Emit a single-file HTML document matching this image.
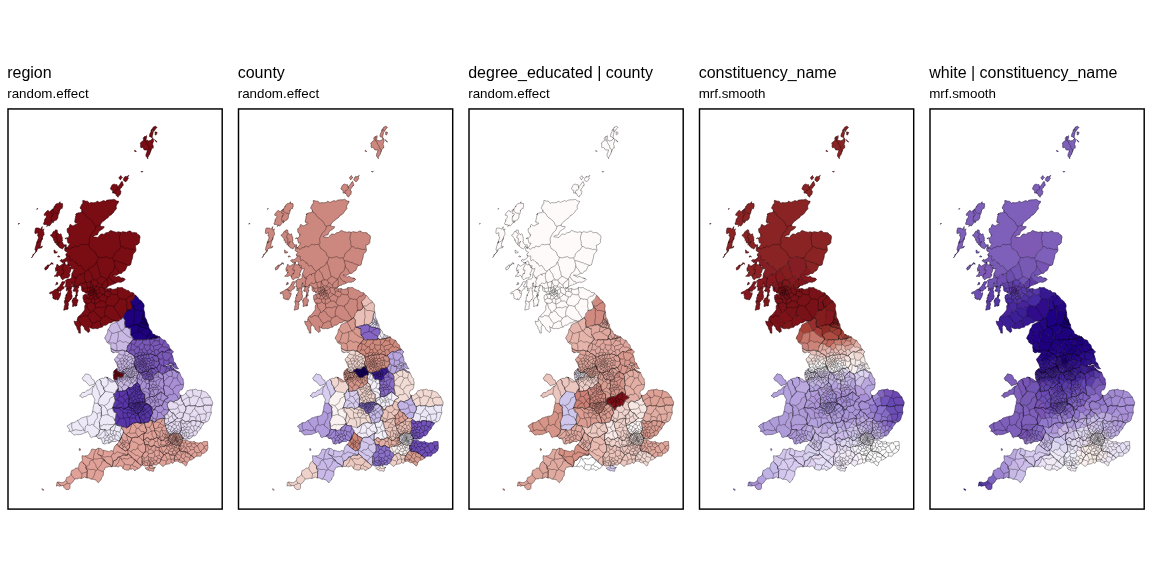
<!DOCTYPE html>
<html><head><meta charset="utf-8"><title>plot</title>
<style>
html,body{margin:0;padding:0;background:#fff;}
body{width:1152px;height:576px;overflow:hidden;position:relative;font-family:"Liberation Sans",sans-serif;color:#000;}
svg{position:absolute;left:0;top:0;}
#txt{position:absolute;left:0;top:0;width:1152px;height:576px;will-change:transform;transform:translateZ(0);}
#txt div{position:absolute;white-space:nowrap;line-height:1;}
.t{font-size:16px;}
.s{font-size:13.37px;}
</style></head><body>
<svg width="1152" height="576" viewBox="0 0 1152 576" font-family="Liberation Sans, sans-serif">
<defs>
<path id="mesh" d="M18.4 223.7l-.1 .4l.3 .1l.5-.5l.2-.6l-.3 .5l0 .2l-.2 .1l-.4-.2M31.7 257.6l.4-.7l.5-.6l.3-.9l.2-.9l.2 0l0 .2l0-.1l.3-.5l1-.6l.9-1.1l.4-1.5l-.3-.8l-.5 0l-.1-.5l.3-1.7l.4-1.5l.1-.2l.1 0l.3-1.1l.3-1.6l.4-.5l.4-.1l.2-.8l.2-.9l-.3 .4l-.5 1.4l-.2 .2l.7-2.1l.9-2.3l.4-.9l-.2-.5l-.4-1.1l-.3-.8l-.3 .3l.1-.3l.3-1.5l-.1-1.3l-1 .4l-1.3 .7l-.6-.8l.1-2.3l.4-1.9l.4-.8l.7-.1l.8 .2l.9 .1l.7 0l.6 .2l.5 .5l.5 .2l.5-.3l.5-1l.7-1.1l-.1 2.1l.3 1.3l.9-.5l.6-.8l-.1 .5l-.4 1.2l.1 .9l.4 .9l0 .4l0 1.1l.2 .8l-.2 .1l-.6 .8l-.8 1.7l-.4 1.4l.1-.2l.3-.7l0 .6l-.3 1.2l-.4 .5l-.2-.6l.1 0l-.2 1.4l-.5 1.4l-.3 .8l-.2 1.5l-.2 2.1l.3 .7l.9-.8l.8-.4l-.2 1.1l-1.2 .6l-1.3 .3l-1.3 .2l-.8 .6l-.6 .9l-.4 .6l.1 .1l.3-.7l.1 .1l-.2 1.2l-.6 1l-.6 .2l-.6 .3l-.4 1l-.5 .7l-.5 .1l-.3 .2l-.2 .9l-.4 .9l-.6 .6l-.4 .6M36.7 209l.2 .1l.2 .2l.3-.5l.3-.6l0 .1l-.2 .5l-.4 .2l-.4 0M36.9 243l.5-.2l.7-.5l1-.6l.9-.5l.8-.5l.5-.4l.5-.3M41.8 488.8l.2 .4l.2 .5l.5 .2l.6 .6l.2-.6l.1-.5l-.9-.4l-.9-.2M44.6 268.5l.4 .2l0 .6l.1 .7l1.1-.4l1.1-.8l.8-1.1l.4-1.1l0-.7l-.2 0l0 .3l.3 0l.3-.4l.6-.7l.8-.4l.9-.4l.8-.9l.5-.6l.3 .4l0 1.1l-.4-.8l-.5-.7l-.5-.1l-.5 .7l-.5 1l-.7 .6l-.9 .1l-1 0l-.7 .4l-.5 .9l-.2 .7l-.3 0l-.3-.3l-.4 .2l-.3 .7l-.5 .8M44.9 220.6l-.3 .4l-.1-.6l.4-1.3l.8-1l.6-.7l.1-.9l-.3-1l-.4-.3l-.6 .3l-.7-.1l-.2-.8l.5-1l.8-.9l.9-1.1l.9-.9l.8-.3l.6 .5l.4 .8l.3 .3l.5-.4l.7-.8l1.1-.9l1.1-.8l.2-.1l-.2 1l.1 1.1l.6 .8l.7 .5l.5 .3l.4 .2l.7 .3l.8 .1l.6-.2l.3 0l.3 .4l.6 .8l.6-.9l.4-1.6l.1-1.4l-.2-.2l0 .5l.4-.4l.9-1.3l.9-.9l.5 .3l0 .2l0-.6l.3-.7l.2-.2l.1-.1l0-.7l0-1.4l-.1-1.3l-.7-.1l-1.1 .1l-.6-.8l-.3 .6l0-.2l.1-.9l.2-.6l0 .2l-.4 .7l-.8 .6l-1.2 .3l-1.3 .4l-1 1l-.5 1.2l-.1 .7l-.1-.2l0-.4l-.2-.1l-.3 .8l-.5 1.1l-.7 1M44.9 220.6l-.1 .2l-.8 1.6l-.5 1.5l.5 .6l1 0l1.1 .2l.9 .2l.3 .5l-.5 1.2l.7-1l.4-.7l.3-.1l.2 .7l.4 .5l.7-.2l.8-.9l.9-1.2l.8-1l.6-.9l.4-.8l.2-.4l.1 .1l0 .6l-.3 1.3l-.1 .5l.3-.8l.8-1.2l1-.7l1.1-.3l.8-.7l.5-.9l.3-.6l.1 0l.1-.6l0-1.2l.1-1l.4-.8M50.7 235.8l.8 .3l.4 .4l.3 .7l.5 .6l.7 .8l.3 1l0 .8l-.2-.1l.3-.6l.4 .1l.4 1.3l.2 1.5l.6 .5l.7-.2l.6 .3l0 .9l-.3 .7l-.1 0l.4-.3l.8 .5l.9 1.2l.8 1l.6 .5l.7 .3l.8 .3l.7 .4l.4 .3l.2-.1l.2-.3l.8-1.3l.6-1.2l.4-.2l.1 .9l.2 .7l.4-.1l.8-.6l.1-1.4l0-.7l-.5 .1l-1 .1l-1.1-.4l-.7-.9l-.3-1l-.2-.7l-.7-.4l-.1-.3l.4-.3l.5-.3l0-.4l-.3-.7l0-1.1l0-.9l-.4-.9l-.5-1.3l-.2-1.3l-.4-.3l-.6 .6l-.8 .4l-.6-.7l-.6-.9l-.6-.3l-.2-.2l.1-1l-.3-1.6l-.6 .1l-.7-.2l-.4 .2l-.3 .6l-.2 .6l-.3 .2l-.5-.2l-.6 .2l-.7 1.3l-.7 1.3l-.6 .6l-.6 0l-.2 .4l0 .7M49.6 292.8l.2 .9l.8 .1l1.1-.6l.6 .2l.2 1.4l.3 1.3l.3 .6l0 .1l-.3 .2l0 .4l.4 1l1 .5l.9 .3l.6 .1l.3 .3l.5-.9l.3-.3l.1 .5l.1 .8l.2 .4l.4-.2l.7-.4l.4-.9l1-1.8l.8-2.4l.1-1.6l-.3-.2l-.3 .3l.1 0l-.3 .4l-.5 .1l-.5-.4l-.1-1l.1-1l-.1-.8l-.8-.2l-.8-.5l-1.1-.2l-1.1 .4l-1 .7l-1.1 .8l-1.2 .5l-1.2 .5l-.8 .6M52.8 209.1l-1.1 1.7l-.6 1.7l.3 1l.7 .1l.5-.1l.6 .2l0 1l-.8 1.1l-.8 .5l0-.3l.6-.4l0 .2l-.6 1l-.4 1.5l.1 1.9l.2 1.2l.4 0l.8-.5l.3 .1M54.2 276.2l.6 .1l.6 0l.8 .1l1 .1l.8-.2l.5-.5l.2-.5l.4-.1l.7 .5l.7 .7l.3 .5l.1 .4l.2 .5l.4 .9l.7 .8l.7 .3l.4-.4l.7-.8l1.1-.5l1.4-.2l1.5-.1l1.1-1.1l.6-1.6l.2-.9l-.3 .2l-.4 .4l-.2-.4l.2-1.1l.8-1.2l.7-1.7l.3-1.5l-.2-1l-.4-.6l-.3-.1l-.1 .2l-.2 .3l-.2-.9l-.5-1.5l-.7-.8l-1 .1l-1.1 .3l-.8-.6l-.5-.9l-.2-.7l0-.3l-.3 .1l-.6 .5l-.8 .7l-1 .9l-.8 .4l-.8 .6l-.8 .5l-.6 0l-.6-.5l-.5-.7l-.2-.4l-.3 .1l-.7 .1l-.1 1.2l-.6 1.6l-.6 .5l.1-.1l-.1 1l.2 1.6l.2 .9l.4-.3l.4-1l.3-.4l.1 1l.5 1.6l-.5 .6l0-.2l.2-.6l0-.1l-.3 .9l-.7 1.4l-.9 1.1l-1.2 .8M54.1 250l0 1.5l.2 1l-.1 .5l.9 .1l.9-.1l.8-.4l.5-.4l0-.3l-.5 .2l-.8-.4l-.8-.7l-.6-.7l-.5-.3M54.9 231.3l.4 .9l.6 .6l.6 .7l.6 .5l.2 .5l-.7 1.1l-.8 1.3l0 .8l.8 .3l.7 .2l.1 .3l0 .5l-.1 1.4l-.1 2.1l.4 .9l1.1-1.1l.9-1.2l-.1 .7l-.8 1.6l-.5 .9l0 .6l.2 1.3M56.6 282.4l-.5 2l-.3 .7l0-.2l.1 0l.6-.8l.9-.2l0 .2l-.1 .4l.1-.3l.4-1.3l-.6-.2l-.6-.3M56.8 483.3l0 .8l-.2 1l-.2 1l.9-.5l1.2 .1l1 .5l.6-.3l.9-.1l-.6-1l-1.1-.5l-.9-1l-.5-1.3l.8 .1l.8 .1l.9 .3l1.5 .2l1.4-.3l.8-.6l.4-.3l.6-.4l.6-.5l.9 .8l.5 .8l0 1l-.7 .9l-1.1 .3l-.9 .5l-.9 .9l.2 .7l.2 .9l.7 .8l.9 .6l.5 .8l.7 0l1-.2l1.3 0l.5-.5l.3-.5l.2-1.2l0-1.5l0-1.4l-.4-.6l-.4-.2l-1.2-.1l-.9-.2M56.8 483.3l.4-1.1l.7-.2M56.5 289.5l.5 .6l1 .2l1 .3l.8 .6l.4 .3l.3-.3l.2 .1l.4-.6l.6-1l.7-.6l.7 0l.5-.3l.4-1l.2-1.1l.1-.3l-.4 .3l-.8 .3l-.5-.6l.4-1.3l1-1.4l.9-1.3l.1-.9l-.5 .3l-.9 0l-.9-.1l-.7 .2l-.5 .7l-.4 1.4l-.2 .7l-.1-.3l-.1-.2l-.3 .8l-.8 1.3l-1.2 1.1l-1.2 .9l-.7 1.2M57.7 256.4l.3 .8l.5-.2l.3-.4l.4 .1l.6 .3l-.1-.4l-.4-.2l-.4-.6l-.5 .2l-.4 .3l-.3 .1M60 260.8l.6-.5l.5-.6l.6-.3l.4 .2l.1 .4l0 .2l.1 0l.4-.2l.8-.4l1.2-.4l.8-.9l.8-.8l.4-.9l-.1-.9l-.2-.4l-.3 .2l-.2-.1l-.1-.6l.1-.7l.5-.3l.5-.6l.5-.6l-.1-.6l-1-.3l-1.1-.6l-.5-1l0-1.2l.1-.7l.6-.3l.5-.5l.4-.3l.8 .4l.5 .4l.4 .4l.6 .5l.8 .4l.8-.1l.6-.7l.5-.7l.8-.2l.8 .2l.6 .2l.3-.2l.1-.6l.2-.6l.5-.3l.7-.1l.8 .2l.9 .4l1.1 .1l.9-.5l.8-.9l.9-.9l1.1-.2l1.1 .3l.8 .3l.4-.1l.3-.2l.6-.1l.8 0l.8-.1l.8-.1l.8 0l.7 1l.8 2l.3 1.1l.7 .3l1.3 .9l.6 .4l.6 .4l.8 .9l.5 0l.8 .8l.7 1.8l.2 1.1l.7 1.1l1.1 .9l.7 .3l-.5 .6l-.2 .8l-.2 1l-.5 1l-.7 1.1l-1 1.3l-.6 1.5l-.7 .9l-1 .6l-1.1 .7l-1.3 .6l-1 .3l-.3 .6l-.4 .6l-.9 .3l.7 1.2l.7 1.4l.5 .5l.7 .8l.9 1.6l.3 1.2l.3 1.3l.9 1.7l.8 .7l.5 .2l-.9 .3l-1.2-.2l-.9 .2l-.5 .9l-.9 .7l-1.4 .1l-.9 .5l-.7 .4l-1.3-.7l.4 1.3l.1 .9l.2 .8l.6 1.4l.6 1.5l-.1 .1l-.8-.1l-.8 .1l-.6 .2l-.5 .2l-.7 0l-.7-.4l-.8-.3l.3 1l.2 .7l.3 .5l.4 .6l.6 .8l.6 .8l1.1-.3l.9-.8l.9 .7l.2 1.1l.2 1l-1.6-.3l-1-.4l-.7-.4l-.2-.2l-.6-.5l-.4-.4l-.3-.2l-.2 .1l-.3 .2l-.3 0l-.3-.3l-.4-.5l-.4-.5l-.2-.9l0-1.3l-.1-1.2l-.2-.8l-.1-.4l-.6-.1l-.7-.1l-.8-.3l-.4-.1l-.4 .3l-.5 .6l-.6 .5l-.6 .1l-.5 0l-.3-.1l-.2-.2l0-.3l-.4 .2l-.7 1.1l-.5 1.3l-.4 1l-.3 .7l0 .5l.3 .3l.5 .1l.8-.2l.7 .1l.5 1l.1 1.5l0 1.2l0 .5l.8-1.4l1-2.5l.3-1.5l-.4 .1l-.3 .2l0-1.1l.3-1.3l.4-.1l.2 .3l.1-.4l.2-1.1l.2-1.3l.1 0M60 260.8l.4 0l.6 .5l.7 .7l.6 .6l.3 .1l.1-.3l.3-.2l.6 .3l.8 .2l.7-.3l.5-.7l.5-.5l.9 0l.5 .5l.3 .9l.1 1l.2 1.1l.8 .9l1.1 .3l1 0l.4 0l-.4 .5l-.5 .7l.2 .5l.6 .8l.8 .6l1-.3l.7-.5l-.1 1.3l-.9 2.5l-.9 1.6l-.1 0l.3 .1l.1 .5l-.1 .4l.5 .4l.4 .1l.3 .3l.3 .9l.5 1.2l.7 1l1.1-.1l.6-.5l-.5 .8l-.8 1.7l-.4 1.1l-.2 0l0 .1l.3 .6l.3 .9l-.3 1.1l-.8 1.4l-.2 1.1l.8 .1l.9-.4M61 485.8l1.2-.2l1.1-.3l.2 .5M60.9 277.3l.3-1.4l.6-1.7l.5-.3l.5 .2l.3-.5l0-.5l-.1 .5l0 .3l.5-1.5l.6-2.2l-.2-.5l-.8 .6l-.8-.2l-.1-1.4l.5-1.2l.6-.8l.6-1.5l.5-2l.1-.7M63.8 310.2l0-.5l.2-.6l.2-.9l.1-1l0-.7l.2-.7l.5-.9l.2-1.1l-.1-.4l-.3 .2l-.2-.3l-.1-1.1l-.2-.9l.1-.3l.5-.5l.4-1.2l-.1-.9l-.3-.1l.7-1.4l.8-1.9l.1-.3l-.2 1l-.2 .1l-.1-.8l.2-.5l.6-.6l1-1.9l.4-2.1l-.5-.1l-.9 1l-.5 0l.1-1.5l.2-1.2l.4 .6l.6 .3l.6-.2l.4-.6l.6-.4l1 .2l1.2 .4l.3-.9l.3-1.3l-.3-.3l-.4 .4l0-.4l.3-1.6l.4-1.4l.1 0l-.1 .6l.2-.7l.2 0l-.1 1.5l.2 2l.6 .9l1-.5l.8-.8l0 .2l-.4 1.3M63.8 310.2l.8-.3l.8-.2l.7-.2l.7-.1l.7-.1l.3-.3l.2-.3l.1-.4l.1-.3l-.1-.1l-.1-.5l0-1l.3-1.3l.2-1l-.1-.8l-.4-.5l-.2-.2l.5-.3l.8-.8l-.2-.1l-.3 .2l-.6 .2l-.8-.1l-1-.4l-.9-.2l-.9-.1M65.7 480.6l.4-1.1l.2-1.2l.4-.8l.7-.3l1-.3l1-.7l1-.8l.6-1.1l0-.9l.3 1.5l.6 1l.5 .6l.8 .8l1.1 1l.5 .9l.2-.1l.5-.2l.6-.1l.9 .1l1.1-.2l.6-.6l1 .1l1.6 .3l1.7-.6l1.3-.7l.5-.4l.4 .5l.8 .5l1 .2l0-1.3l0-1.3l.1-1.3l0-1.3l.1-1.3l.2-1.1l-.3-.4l-.5-.6l-.6-1.4l0-1.3l-.2-1l-.9-1.1l-.9-.9l-.4-.2l-.6-.9l-.5-.6l-.5-.5l.3-.9l0-1l-.1-1.2l-.1-1.4l0-1.3l1.4 .2l1.2 .2l.7-.3l1.1 0l1.5-.1l.8-1.1l.7-1l.6-.8l.3-.6l.5-.6l.2-1.3l.7-1.2l1.3 0l1.2 .4l1.1 .2l1.1-.5l.8-.7l1.1-.3l.3 .9l.1 .9l-.2 .9l-.5 1l-.5 1.3l0 .6l.9 .9l1 .2l1 .7l1 1.1l.3 .5l.9 1.2l1.5 1.4l.7 .5l.2 .3l-1.3 .4l-1.4-.1l-.6 .9l-.2 1.6l-.7 1.4l-.9 1.1l-.8 1l-.9 .7l-.8 1l-.5-.3l-.7-1.1l-.5-1.9l-.2-1.1l-1.1-1.2l-1-1.3l-.4-.7l-.4-1.1l.5-.5l.7 0l.6-.5l1.5 .3l1.4-.2l.9-.5l1.2 0l.8-.3l1.1 .3l2.1 1.4l1.4 .4M66.3 247.1l.4 .4l0 1l-.2 .3l-.1-.5l.5-.7l1.2-1.2l1.2-1.8l.8-1.5l-.6 0l-.9 .2l-.6-.3l-.3-1.1l-.3-1.2l-.2-1.2l-.3-1.2l-.5-.4l-1 .8l-.4 0l.2-.4l.8-.2l1.2 0l1.1-.7l.9-1.4l.5-1.2l.3-.1l-.5 .6l-.4-.2l-.3-1.1l-.2-1l-.5-.3l-.4 0l-.3-.8l-.2-1.3l0-.8l-.1-.8l.2-.4l.9-.4l1-1l.5-1l0-.1l-.2 .4l.1-.4l.3-1.4l.2-.2l.3-.1l.6 .4l.7 .6l.9 .5l.9-.1l.7-.5l.9-.6l.9-.2l.7-.2l.5-.3l.3-.5l-.1-.7l-.7 .2l-.9 .2l-.6-.9l-.2-1.1l-.2 .1l-.1 .2l.3-1.6l.5-2.2l.1-1.2l0-.2l.4-.8l.5-1.5l0-.6l-.5 1l-.4 .6l.5-.8l.8-.6l.9-.5l1-.3l.8-.1l.9 0l.7-.4l.5-.7l.1-.8l.1-.6l-.1-.4l-.2 0l-.3-.3l-.4-.6l-.5-.5l-.4-.4l.5-.8l.6-1.2l.5-1.3l.3-.5l.2 .1l.3-.2l.3-.6l.2-.6l0-.3l-.1-.4l0-.8l.1-1l.7 .1l.9 .3l.8 .3l.9 .1l.8 0l.8 .2l.6 .7l.4 .7l.3 .6l.5-.2l.6-.4l.8-.2l.9 .1l.9 .1l.9 0l.9-.2l.8-.1l.6-.1l.4-.2l.2-.3l.2-.5l.4-.2l.7 .3l.8 .5l.6 .3l.4 0l.5-.2l.7-.3l.8-.4l.9-.4l.8-.3l.7 0l.7 .4l.6 .3l.5-.2l.4-.5l.5-.5l.7-.1l.7-.1l.7-.1l.8-.1l1.1 0l1.2 0l.9-.1l.5-.2l.4-.2l.5 .1l.7 .4l.7 .6l.5 .4l.5 .2l.7 .2l1 0l.1 .6l-.3 .8l-.7 1.1l-.9 1.2l-.5 1.2l0 1.1l.4 1.1l-.6 1l-1.1 1.1l-.8 1.2l-.7 1.1l-.6 .5l-.7 .7l-.9 .9l-1.2 .5l-.8 .4l-.4 1l-.8 1l-1.5 .9l-1.5 1.3l-1.1 .9l-.9 .5l-.7 .7l-.8 1.1l-.8 .8l-.3 .9l-.2 1.1l.8 .4l.8 .2l1.4-.1l1.1 .3l-.5 1.1l-.6 .8l-.8 .4l-.9 .7l-1.3 .8l-1.4 1.1l-.7 1.7l-.5 1.4l-1 .3l-1.4 .2l-1.2 .7l-1.2 .5l1.2 .6l.5 0l.7 .1l1.5 .2l1.2 .2l.7-.7l.7-1l.9-.9l1-.8l1.4 0l1.5 .3l.7-.5l.9-.9l1.2-.4l1.2-.1l.8-.2l.6-1l1.4-.9l2 .9l1.1 .5l1.2 .1l1.3 .5l.8-.2l1.4-.4l1.9 .5l0 1.1l-.3 1.1l-.4 1.2l-.3 1.4l-.1 1.3l-.1 .6l.2 .5l.4 1l.3 1.6l0 1.7l.2 1.4l.7 1.2l1.3 .3l.5 0l1 .9l1.2 .8l1.4-.4l2 .5l.9 .3l.7 0l1.5 .8l1.2-.3l1.6-.1l1.4 1.4l.1-1.3l-.2-1.2l-.2-1.2l-.2-1l0-.7l1.2-.3l1.2-.5l.7-.7l.5-.7l.5-.4l0-1l0-1.2l.2-1.4l.4-1.5l-.1-1l-.6-1.2l-1.3-.8l-.9-.5l-.6-1.2l-1.2-.1l-1-.2l-.9 0l-1.1 .3l-1-.6l-.9-1.1l-1.2-.1l-1.2 .5l-1.2 .8l-1.9-.1l-1.2-.3l-.6-.2l-1 .1l-.6 .5l-1 0M65.4 280.6l.6 .2l0 1.9l-.4 2.8l-.2 1.6l.5-.2l.5-.3l.3 .6l0 .7l0 .1l-.1 .1M65.4 280.6l0 .2l.2 0l.5-.5l.8-.9l1-.4l1.1 .1l1-.1l.7-.4l.6-.6l.2-.3l.2-.2l-.1-.7l.1-1.2l.1-.9l.1-.1l.2 0M66.1 255.5l.9 .4l1.4 .2l1.1-.1l.4 .3l-.2 1.4l0 1.9l.4 1.1l.7-.2l.7-.7l.9 .1l.9 .7l.8 .8l.6 .3l.4 .3l.4 .7l.2 .6l.1-.1l.2-.4l.6 .2l.7 1.3l.8 1.4l.6 .4l.8-.4l.9-.3l.8 .4l.5 .8l.2 .6l.3 .4l.6 .7l.5 .7l.3 .7l.2 .4l.6 .4l1 .5l.8 .1l1-1.2l1.1-.7M66.9 426.4l1 .9l.4 .3l.5 .9l.7 .9l-.3 1.1l-.3 1.1l.5-.5l.9 .3l1.2 1.2l.6 .7l.5 .5l1.3 1.1l1.5 .1l1-.7l1 .4l1 0l.9-.3l1.3 0l1.5-.3l1-.6l1.3-.5l1.4-.4l.7-.4l.6-.3l.8-.6l.2 .8l.6 1.2l.9 1.3l.4 .8l.1 1.3l.7 .5l.8 .5l.9-.8l1.7-.2l1.5-.3l.5-1.1l.9-.6l1.1-.5l.7-1l.3-1.5l.2-1.1l.4-.6l.7-.7l-.4-.3l-.1-.5l-.3-1.2l-.1-1.4l.1-.8l0-.9l-.3-1.3l-.4-1.4l.5 1.6l.3 1.4l-.1 1l0 1.2l.2 1.5l.2 .7l.4 .4l-.5 .5l-.4 .3l-.3 .9l-.2 1.5l-.6 1.4l-1.2 .7l-1 .6l-.6 1.2l.1-.2l.4-.1l1.1-.2l1.4 0l1.1-.6l.8-.5l.4-.5l.3-1l1-1l1.4-.9l1-1.1l.3 1.8l.2 1.3l0 .9l0 .9l-.9 1.2l-.9 .9l-.6 .6l-.8 .4l-1.8-.5l-1.2 .5l-1.3-.4l.9 .7l1.1-.1l1.8 .8l.4 .7l.1 .8l.3 1.4l.5 1.3l.3 .4l.5-.2l1.2 .4l1-.1l.6-1l1.1 0l1.4 .5l.1-.1l.5-.4l.7-.4l1.1-.6l1.4-.5l.5-.1l1.6 .1l1.2 .1l.5-.6l.1-.2l.5-.3l1.1 .3l-1-.8l-.4-.1l-.8-.4l-1.1-.6l-.9 .2l-1 .4l-.4-1l-.4-1.2l-.4-.6l-1.2 .1l-1.5-1l-1-.5l.1-.3l.2-.4l-.6-1.2l-1.1-1.6l-.9-.5l-1-1.2l-.1 .2M66.9 426.4l.9-.7l.8-.9l.8-.4l.8-.3l.6-.6l1-.7l-.1 1.7l0 1.4l0 1.1l.1 .7l.4 .8l.5 1l.3 1.1l1-.2l.8-.6l1.1-.2l1.7 .5l1.4 .2l1.6 .3l1.3 0l.7-.8l1.3 .4l-.7-1.8l-.4-1l-1-1l-1.1-1l-.5-.3l-.6-1.3l-.9-1.5l-.6-.7l-.7-1.2l1.1-.3l1-.4l.6-.9l1.2-.8l1.7-.4l1.6-.7l1.2-.1l.7-.1l.3-.2l.5-.3l1.3 0l1.3-.3l.8-.8l1-.6l.4-1.2l.3-1.5l.3-1.3l.3-1.1l.2-.8l0-.8l.1-1l.3-1.1l.4-1.3l.4-1.1l0-.2l1.4 .1l1.4 .2l.8-.4l.5-1.2l.2-1.2l.1-.9l.4-.8l.3-.8l.7-.6l.4-.8l.5-.9l.7-.4l.7-.7l.9-1.1l1-1.1l.6-1.3l-.7-1.2l-.6-.8l-.2-1.1l-.3-1.3l-.6-.7l-.4-.5l-.6-.9l-.5-.9l0-1.1l-.1-1.5l-.9-1.1l-.8-.7l-.4 .1l-.5 .4l-.6 .6l-.9 .5l-.9 .8l-.5 1.4l.5 1.4l.3 1.1l.5 .9l.4 1.3l.2 1.2l.3 .6l.8 .7l.7 1.4l0 1.3l.2 1.2l.6 1.4l.6 1M69.1 301.5l.8-1.3l.5-.7l.4 .2l.1 0l-.3-.2l-.1 .1l.3 0l.8-1.2l.5-2.1l-.2-1.4l-.4-.4l.1-.9l.2-1.5l-.1-.7l-.3 .3l-.1-.1l-.1-1.2l-.2-1.1l0-.2l.4-.7M70.3 431.4l.9-.3l1-.1l.8-.4M70 484.3l.9-.7l1.3-.9l1.1-1.5l.8-1.3l.7-.7M71 473.4l.1-.8l.3-1.3l.4-1l1.4-.3l1.1-.6l.8-1l1-.4l1.2 .2l.8-.3l.5 .6l.2 1.2l.9 1.5l.9 .6l.4 .8l.6 1l.4 .4l.7-.9l.9-.2l1.4-.4l1.4-.5l.8-.6l.2-1l-.3-.4l-.4-.4l-.5-1l1.3 .2l1.5 .3l1.7 .5l1.4-.1l.9-.3l.7 .2l1.3 .6l1.5 .2l-.5 .5l-.5 .6l-.4 .8l-.3 1.3l-.4 1.4l-.6 1.5l-.8 1.2l-.7 .9l-.5 .8l-1.4-.1l-.5-.7l-.7-.4l-1.2-.1l-1 .1l0-1.3l0-1.3l.1-1.4l0-1.4l.1-1.2M72.4 300.2l.1 .4l0 .2l.1-.9l.5-1.3l.6-.5l.7-.1l.5-.6l.5-.8l.4-.6l.3-.1l.2 .2l.1 .9l0 1.4l.4 1.1l.3 .4l.7-.4l.2 .7l-.5 2.1l-.8 1.7l-.4 .6l0 .6l0 .7l.3 0l.3-1l0-.5l-.4 .6l-.7 1.1l-.6-.3l-.5 0l-.5 .2l-.8 .4l-.8 .2l.1-1.1l.2-1.6l0-1l-.4-.2l-.3-.5l.1-1.3l.1-.7M71.8 422.8l2-.2l1.4-.5l.7-.6l.6-.3l.7-.7l.2-.1M73.3 290.4l.1 .5l.6 .2l.9 0M74.1 277.5l.7-.1l.9-.2l1-.5l1.1-1l1.1-1.1l.9-.6l.9 .3l.5 .7l0 .4l-.2-.3l-.1-.6l.3-.5l.7-.4l.9-.2l.8-.1l.9-.2l.2 .3l0 .2l-.1 .6l-.2 .7l-.1 .7l0 .9l0 1l.2 1.1l.3 .8l.2 .6l.1 .6l0 .7l-.1 .4l.4-.1l.5 .4M74.2 321.1l.2 1.2l.2 1l.4 1l.6 1.1l.9 .8l.3 1l.3 1.4l.7 1.2l.7 1l.2 1l.1 1.2l.6 0l1 .1l-.1-1l-.1-1.2l.1-1.5l-.1-1.3l-.2-1.1l.8-.8l.4-1l.6-.5l.1 .1l-.9-.7l-.9-.7l-.4-1.2l-.4-1l-1-.9l-.9-1.3l-.2 1.2l0 1.2l-.9 .2l-.9-.1l-1.2-.4M76.7 296.1l-.2 .5l-.4-.1l-.4-.3l-.2-.2l.4-.8l.1 .4l.2-.5l.6-.6l0-.1l.2 .5l.4 .4l.4-.2l.2 0l-.5-.1l-.4 .4l-.4 .7M78.1 467.9l.1-.1l.4-1l.3-1.2l.4-1.5l.7-1.4l1-.7l1-.4l0-.1M77.4 319l.4-1.4l.6-1l.5-.3l.7-.5l.6-.6l.6-.6l.8-.8l1-1.1l.5-.8l.6-.7l.5-.6l.4-.5l.2-.6l0-.7l-.1-1l0-1.1l.2-.9l.3-.8l.5-.5l-.3-1.3l-.6-.5l.9 0l.8 .4l.3 1.5l.4 1.6l.2 1.1l.4 1l.9 1.2l.8 .7l.3 .8l.4 1.4l1 .2l.8-.8l.8-1.1l.8-.8l.8-.4l.6-.5l.2-.7l.2-.7l1.1 .2l1.6-.4l1.4 0l1.3 .6l1.2-.4l1.2-.7l1.6-.1l1.7 .4l-.4 .7l-.6 1.2l-.5 1.5l-.3 1.8l0 1.7l.1 1.5l-.1 1l-1.3 .4l-1.1 .5l-.8 .5l-.5 1l-.6 1.1l-.7 1.1l-1.3 0l-1-.3l-.7 .4l-.7 .9l-1.1 .3l-1 .4l-1.1 .4l-.4 1l-.5 1.1l-.5 1.2l-.5 1.3l.8 .4l1.4 .5l1.2-.3l1-.2l1.8 .4l1.5-.5l.7-.6l.5 0l.3 0l.8-.3l1.4-.3l-1-.7l-.6-1.4l-.1-1.4l-.2-1l-.7-1.3M78.3 285.5l.5-.6l.6-.6l.7-.7l.7-.5l.7-.1l.6 .3l.6 .3l.5 .1l.6-.2l.5-.3l.4-.6l.3-.9M78.9 316.3l.8 .5l1.2 .4l1.5-.6l1.1-1.1l1.8 .2l1.7 .5l.8-.4l.3 1.4l1 1.3l.6 .5l.2 .9l.5 .9l.5 .4l.8 .9l1.1 1.2M79.5 395.8l1.3 .5l1.1 1l.3 .6l.8-.5l.7-.6l.7-.3l1.1 0l1.3-.8l.5-.4l1.4-.8l1.2-.2l.7-.1l.8 0l1 .2l.7 1.7l.6 1.3l.5 .7l.6 1l0 1.2l-.3 .8l-.2 .5l-.1 .5l.2 1M79.5 395.8l1-.4l.5-.9l.5-1l.7-.6l.7-.5l1 0l1.2 0l1-1l.8-1.1l1.2-.3l.6 .1l.6-.2l.4-.5l.4-.5l.5-.6l.7-.8l.7-.8l1.1-.4l1.1-.4l-.6 .8l-.6 .8l-.5 .8l-.2 .9l0 1.2l0 1.1l-.1 1l-.3 .9l-.5 .8M79.3 448.5l-.1 1.8l1 .1l.3-1.3l-1.2-.6M81.3 478.5l.2-1.1l.2-1.1l.2-1.1l.1-1.2M81.9 210.2l.2 1.5l.6 1l1.1 .1l1.2 1l.4 1l.5 .9l1.2 1.5l1 .8l1.1 .4l.8 1l.5 .5l1.4 .9l1 1.2l.4 .7l.7 1.7l.8 1.4l1.3 .5l1.5-.6l1.4-.2l.8-.3l.5-.4M81.3 286.2l.4 .3l.5 .5l.6 .7M81.9 324.8l1.2 1.4l1.1 1.2l.3 1.1l.4 1.1l1.1 .7l.8 .5l.5 .9l.7 .8l1-.7l.4-.6l.5 0l-.3-.9l-.2-1.1l-.4-1.3l-.4-1.5l1.4 1.3l.9 .2M83.1 295.6l.1 .7l-.1 .7l-.1 .5l0 .3l.1 .5l.2 .8l.2 .6l.1 .3l.2 0l.5-.5l.7-.5l.7-.2l.6-.3l.4-.3l.6 .2l1.7 .4l1 .4l1 0l.2 1.1l.1 1l-.3 .8l.7 .2l1.5 1.1l1 0l.5 .4l0-1.4l.1-1l0-.6l0-.7l.1-1.1l-1-.6l-.7 .2l0-.7l.5-.6l.5-.6l-.6-1.1l-.5-1.1l.7-.3l.8-.2l.8 1.2l.4 .8l.8 .3l.4 1.2l.5 .9l.4-.4l.6-.1l-.3-1l-.2-1l0-1.4l-.7-.8l-.6-.8l-.3 .3l0 .5l-.6-.1l-.9 0l-.7-.9l-.3-.7l0-.2l.2-.7l.8 .7l.1-.6l.1-.7l-.9-.5l-.3-.2l.1 .6l.1 .7M83.1 295.6l.7-.3l.5-.3l.3-.4l.2-.2l.3-.1l.8 .3l1 0l1.3-.4l.3 0l0-.1l.9-.5l-.9 .2M82.2 378.2l.9-1.1l.9-1l.7-1.1l.5-.8l.7-.5l.9 .6l1 0l1.6 .6l1 .7l.4 .8l.6 1.3l.5 1.3l.7 .6l1.3 .3l.6 1.2l.2 1.3l0 1.3l-.9 .8l-1.1 .1l-1.1 .4l-1.1 .4l-.9 .6l-.6-.8l-.8-.9l-1.2-1.3l-.7-.7l-.5-.8l-1.1-.5l-1-.2l-.7-1.1l-.8-1.5M83 462.6l.6 .9l.4 .2l.8 .8l.9 1.1l.3 .9l0 1.3l.7-1.2l.9-.8l1-.5l.7-.8l.3-1.5l.3-1.5l.7-.8l1-.3l.8-.6l.3 .1M83.9 430.2l.8 .8l.5 1l.6 .6M84.7 431l.4-1.6l.1-2.1l.5-1.3l.8-.7l.9-.5l1.5 .4l1.4 .2l.9-.8l1.1-.3l1.4 .7l.5-1.5l.5-1.5l.5-1.3l.7-.9l.7-.8l.6-.6l.2-.7l0-.9l-.1-1.2l0-1.5l1-1.2l1.7-.1l1.5 .5l-.1 .9l-.2 .8l0 1.1l.2 1.2l-.8 .7l-.4 1.4l-.4 1.5l-.8 .6M83.8 300l0 .1l0 .3l-.1 .7l.3 .7l.4 .5l.4 .4M84.7 456.1l.8 .3l1.2 1l.7 .3l.8 .2l1.7 .6l1.4 .4l1.1 .9M84.5 273.1l.5-.4l.4-.4l.4-.5l.4-.7M85 292.5l0-.2l.2-.2M85.1 294.3l.8 1.4l.7 1.4l.1 1.1M86 467.8l.2 .8M86.8 416.5l.2 1.7l.2 1.5l.1 .9l.1 .5l.2 .9l.2 1.2l-.2 .9l-.2 .7M86.5 303.1l.9 .1l.9 .1l1.4-.2l1.3-1M87.8 315.8l.7-1.1l.5-1.1l.4-.9l.8-.3M87.2 291l.2-.9l.2-1l.1-1.1M88.2 244.3l.8-.4l.5-.6l-.1-1.4l-.2-1.7l0-1.7l.4-1.2l.7-1.2l.6-1.2l.7-1.3l.8-1.2l1.1-1l1-.9l.6-.9l.3-.8l.1-.7l.2-.7l.4-1.1M87.8 287.9l.8-.3l.9 0l.3-.1l.9 1.4l.8 .4l.7 .1l-.3 .9l-1 0l-1 .2l-.3-.7l-.1-1l0-1.2M88.5 294.2l.7 0l.4 .6l.3 1.2l.7-.5l.2-1.4l.4-1.1l0-.1l-1.1-.5l-.3-.4l-.5-.3l.7-.4l.9-.1l.6 1.1l1.2 .3l.6 .4l-.5 1.3l0 .2l-.6 .6l-.6 .4l.6 1.1l1 1.3M88.1 291.7l1 0l.2 0M89.2 294.2l.6-.9l.3-.9M89 298.8l.5-1.3l.4-1.5M89.1 291.7l.3-.6l.5-.6M90.6 295.5l.5 0l.5 0M89.8 287.5l.3-.2l1.2 .3l.5-.9l.7 0l.1 .1l.8 1l.4 .6l0 .7l.1 .7M90.1 287.3l.3-1.5l.3-1.5l.1-1.5l.2-1.4l.3 .9l.6 1.6l.6 .9l.8 1l-.5 .5l-.3 .4M91 299.2l1.1-.4l1.1-.2M90.9 291.2l.6-.3l.6-.4l1.1 .8l.4-.8l.2-.7l-.5-.4l-.7-.5l-.1-1.2l.1-.9M91.2 292.9l.3-.6M91.2 293l1 1l.6 .3M91.1 281l-.1 .4M91.9 290.3l.2 .2M92.2 289.4l.4-.5M92.7 292.6l.5-1.3M92.4 411.8l1.7-.1l1.4 .7l.5 .3l.7 1.1l.6 .3M92.8 294.5l.3 0M93.2 291.3l.5 .3l.2 .2M93.3 293l.6-1M91.8 479.2l1.2 0l1.4 .4l1.1 .3l.7 .5l1 1.4l1.2 .9l.5-.8l.9-.9l1.1-1l.4-1.1l.3-1l.3-.7l.5-.6l.7-.7l.1-.7l.2-1.2l0-1.8l.1-1.4l.7-.9l.5-1l.2-.8l.3-.5l.4-.4l1.1 0l1.2-.3l1-.3l1.1 0l1.4 .2l.5 0l1.3-.4l1.4 0l1.1 .2l.2-.7l.3-1.1l1-.9l1-1.2l.6-1.5l.5-1.4l.4-1l.6-.7l.4 .2l.5 .5l.6 1.4l.3 .5l.8 .8l1.1 1.4l.4 1l-.4 1.3l-.5 1.2l-.3 1.1l-.1 1.1l.4 .4l1.2 .7l.9 0l.8 .3l1.4 .1l1 .1l.2-.8l.6-.4l.5 .1l-.2-1.1l.2-1l.5-1l.5-.9l.6-.5l.7 0l1 1.7l.8 .2l1 0l1.3 .9l.7 .4l1.1 .8l1.1-.7l.8-.5l.7-.9l.7-1.4l-.7 .1l-1-.7l-.8-.9l-.4-.3l-.9-.8l-.7-.3l-.6-.4l-.8-1.5l-.5-.6l-.6 0l-1.2-.8l-1-.8l-.4-.5l-.6-.1l-1-.2l-1.3 .8l-1.5 1l-2.1-.3l-1.7-.5l-.5 .7l-.9 .2l-1.2-.4M92.8 310.7l1.3 .6l1.4 1l.5 .9l.9 1.7l1.5 1.2l.9 .4l.7 .7l.8 .4l.7 .4M93.2 459.4l.2-1.4l.2-1.5l.3-1.5l.4-1.4l.4-1.2l.4-.9l.4-.8l.5-.7l.5-.8M94.2 296.7l.8-.4l.8-.3M93.7 425l.6 1.3l.7 .4l1.6 1.2l.6 .3l.5 .4l1 1.1l.9 .4M93.8 289.8l.1 0M94.6 279.8l1.3 .2l1.1 0l.7-1l.7-.8l1-.3l.7-.7l.6-.9l1.4 .5l1.5 .6l1.3 1l.8 .2l1.2 .5l.4-.1l.4 1.5l.2 1.1l-.2 1.1l-.1 1.3l-.1 1.4l-.1 1.1l-.1 .6l.4-.3l1.3-1.2l1.4-.4l1.1-.1l.5-.5l.8-.4l1.1-.2l.9-.5l.9-.3l-.9-1l-.7-1l-.4 .3l-1.3-.5l-1.3-1l-.4-.6l-.8-1.5l-1-1.1l.3-.9l.3-1l.3-.9l.5-.8l.7-.5l.9-.4l.9-.7l.7-.9l.5-1.4l.4-1.7l.4-1.8l-.2-1.8l-.4-1.1l-.2-.6l-.1-.5l-.1-1.2l-.6-1.1l-.3-.9l-.3-.7l-2 0l-1.6 .3l-.8-.2l-.8-1l-1.1-.4l-1.2 .3l-1.1 .3l-1.2 .1l-.9 .5l-1.4 0l-1.8-.5M94.6 294l.3-.4M94.2 385.9l.8-1.2l.2-.4l.3-1.1M93.3 285.8l1.5 .2l1.6-.3l.7-.8l.6-1l.5-1.1l-.7-1.1l-.4-1.1l-.1-.6M93.8 288.4l.3 0l.3 .1l.5 1l.6 .9l.9 0l1.5-1l1.3-.8l.6-.8l.7-.3l-1.5-.8l-1 .6l-1.4-.5l-.2-.7l0-.4M94.9 299l1.2 0l.9-.1l.5-.5M95.8 293.6l-.4-.9l-.5-.9M94.7 303.8l.2 .4l1.1-.5l1.2-.6l1.1-.7l1-.5l.7-.8l.5-.1l1.6 .1l1.4-.2l.9 .7l.8 .9l.3 .4l.2-1.4l.5-1.3l.6-1.2l.4-1.2l.2-1l1.6 .1l.9-.5l.4-1.4l1-1l1.3 .3l.9 .3l.8 .1l1.3 .1l1.6-.3l.5 1l.7 1.8l.8 1.1l.6 .1l-.8 1.1l-.8 1.1l-.5 1.2l-.3 1.1l-.6 .8l-1 .3l-1 .6l-.8 1.3l.1 .8l.5 1.9l.8 1l.8 .7l1.1 1.2l.4 .7l.3 1.2l1.2 1.7l.9 1l.6 1.4l.8 1.5l.8-.9l.9-.9l.9-1.1l.3-1.3l.2-1.2l.6-.8l.8-.6l.7-1.1l.2-.2l.7-.7l1.1-.1l1.3-.1l1.2-.7l.9-1.1l.6-1.2l-.6 1.2l-1.1 1.2l-1.3 .7l-1.4 0l-1 .2l-.6 .8M94.9 304.2l.2 1.5l.1 1.1l.2 .8M96.6 296.3l0-1.3l-.2-1.3M96.5 470.2l1-.8l1.2 .5l.8 .3l.6 .4l1.2 .5l1.1 .2l1 .9M94.4 288.5l.9-.8l1.3-.9M95.1 290.5l.4-.1M96.2 436.1l.6 .6l.9 1.2M96.6 261.8l.4 1.9l.5 1.5l.3 .6l.4 .9l.4 1.4l0 1l.1 .7l.6 1.4l.6 1.5l0 1l.1 1.2l.7 1.4M97.5 469.4l0-.8M96.4 290.4l.1 1l.2 1.5M98 403l.4 .7l.5 1.2l.9 .3l1.3-.3l1.5 .1l1 .6l.7 .2l.5-.7l1.1-.4l1.5-.9l1.1-1.4l.7-1.1l.3-1.2l.3-1.4l1.2-.9l1.3-.6l.8-.6l1.2-.1l.2 1.1l.2 1l.3 1.1l.3 1.4l-.5 .7l-.4 .7l-.4 .9l-.3 1.2l-.4 1.2l-.3 .9l-.3 .8l-.2 .6l-.3 .7l.4-1l.4-1.1l.4-1.2l.3-1.2l.4-1l.3-.9l.4-.6l.5-.7l-.3-1.4l1 .3l.9-.1l1.1-1l.9-1l.4-1.1l0-1.2l.5 .3l1.4 .6l1.2 0l.6 .8l.8 1.2l.5 1.3l.8 .8l-.2 .6l-1.1 1.1l-.4 1.4l-.7 .2l.2 1l.5 .9l.5 1.2l.1 1.4l-.2 .9l-.9-.7l-1.5-1.3l-1.5 .1l-1.2 .6l-1.2 .2l-.9 .1l-.8-.2l.7-.6l.4-1.2l.6-1.3l1.2-1l1.4-.7l1.2-.6l-.5-.6l-.6-.6l-1.3-.8l-1.4-.3l-.6-.5M98 403l.4 .9l.7 1.3l.7 .6l1.2 .6l.6 .8l-.4-.6l-1-.7l-.8-.3l-.5-.7M98.2 282.8l.8-.2l.9 1l1.4 1.5l.7-.2l.6-1.1l.6-.8l.6-.9l1-.7l1.3-.8l.8-1.5M98.4 448.2l1.7 .3l1.1 .3l.5 .4l.9 1.2l.8-.1l.7 0l1.6 .5l1.3 .4l.6 0l.9 .5l1.1 0l.7-.9l1-.3l1.2 .5l.5 .1l.5-.9l.3-1.4l.4-1.3l.5-1.1l.6-.9l.6-.4l.5-.4l.7-.8l.7-.7l.7-.8l.7-.9l.5-.8l.4-.5l.4-.6l.4-1.1l.6-1.5l.1-.1l-.1 .1l0-.3l.8-1.6l.7-1.4l.4-1.5l.1-1.3l-.1 1.3l-.3 1.3l-.7 1.3l-.7 1.4l-.5 1.5l-.1 .1l0-1.3l-.3-1.8l-.4-1.3l-.4-.5l-.5-.7l.6-1l.5-1.2l.4-1.1l.4-.9l.4 .8l.4 .3l.7 .6l.6 1.2l-.7-1.3l-.7-.6l-.5-.4l-.3-1.2l-.4-1.7l1.2 1.2l.9 .1l1.7 .1l1.8 .9l.5-.2l.6-.6l.5-.3l.5-.2l.6-.3l.5-.7l.9-1l1.1-.4l.5-.4l.5-.6l1.3-.2l1.7-.3l1.2-.6l-1.4 .6l-1.9 .3l-1.2 .4l.6 .5l1.3 1l.7 1l.4 .5l.7 1.1l.6 .8l1.6-.3l1.2 1.2l.2 .9l.8 .7l1.4 .9l.9-.5l1.3 .4l.9 1.1l-.1 .1l-1.1 .2l-.9 .7l-.9 .4l-.9 .5l-.7 .9l-1 .6l-1 .4l-.8-.4l-.3-.7l-.8-1.6l-.7-1l-1 .1l-1.7 .1l-1.8 .2l-.9 .3l-1.1-.9l-1.2 0l-1 .8l-.8 1.1l-.8-.5l-1.2-1.1l-.5-.3l-.4-.5l.4 .5l.8 .5l1.3 1.2l.8 .4l.1 1.3l.3 1.4l.2 1.2l.2 .9l0 .5l.7 .6l.6 1.5l.1 1.2l.2-.5l.9 .1l.5-1.5l.5-1.2l.6-1.1l.3-.9l-.8-.5l-1.6-.9l-1.1-.4l-.8-.8l-.9-.9M97.6 453.8l.9 .9l.9 .2l.9 .5l1.1 1.2l.4 .6l1 1.3l1.6 1.4l.6 .5l.8 1.4l.7 .9l1 .5l1.4 .8l.6 .1l.9 1.1l1.4 1.3l.5-.7l.3-.9l.3-1.2l.1-1.1l-.4-1.7l-.2-1.3l-.1-.8l-.6-1.1l-.5-1.4l-.5 .6l-1.1-.2l-1.4-.4l-1.3 .4l-1.5 .3l-1 0l-.8-.3l-1.5-1l-.9-.2l-.9-.1M98.5 297.9l.2 .1l1.1-1l1.2-1.2l1.1-.7l.4-.6l.7-.1l1.1 .8l1.1 .8l.7 0l1.3 .8M98 294.5l.9-1.3l.8-1.2l1 .9l1.2 .8l.7 .1l.6 .6M98.7 298l.8 1.1l.5 1l0 1M99.5 398.1l1-1.1l.5-1.1l.6-.4l.8-.6l.9-1.2l1-1.2l.7-1.3l.7 0l1.2 .4l1.7 .4l1.2 .2l1.4 .1l1.3 .3l1.1 .6l1.1 .4l.9-1.1l.5-1.5l.6-1.2l.7-.7l.9-.7l-.3 .3l0 1.4l.2-.8l.1-.9l-.2-1.2l-.2-1.1l-.5-1.2l-.7-1.1l-.6-.8l-.2-1.1l.2 1.1l.6 .9l.8 1.1l.4 1.2l.2 1l.2 1.2l-.2 1.4l-.2 1.1l0 .9l.3-.3l1.6-.4l1.8 .3l.8-.5l.9-.1l1.3 0l1.1-.6l.2-.2l.7 .7l.7 1.2l.2 1.6l0 1.3l.5 .8l.6 .6l.6 .6l-.1 .9l-.1 1l-.1 1.1l0 1.4l0 1.5l0 1.5l-.3 1l-.3 .9l-.3 .8l.5 .1l.7 .1l.4-.6l.3-.8l.9-.7l.9-.1l.5-.4l.8 .6l.6 .4l.2 .6l1 .5l.8-.2l1 .2l.2 .3l-.5 .6l-.6 .2l.3 .7l1.3 .9l.3-1l.3-1l.3 .3l.4 .2l.5-.3l.3-1l-.3-.6l.6-.6l-.7-1.3l0-.2l.8 .3l.4 .1l.1-.6l.1-.5l.6 .5l1.1 .6l-.4 .7l.3 .9l.2 .8l-.5 .2l-.6 .2l-.6-.5l-.2-.7l-.1-.6l.1-.2l-.1-.8M99.3 379.4l.8 .7l.9 1.1l.1 1.5l0 1.1l.5 .9l.6 .9l.4 .4l.6 .8l.3 1.3l.2 1.1l.5-1.2l.8-.9l1-.8l1-.7l.7-.9l.4-1.2l0-1.5l-.1-1.5l-.1-1.4l0 .1l1.3 1.2l.8 1.3l.8 .2l1.1 .2l1.2-.2l1.5-.5l1.3 .5l-.4-.9l-.6-.7l-.6-.5l-.5-.7l-.1-1.1l0-.1l-.1-1.6l-.2-1.2l.5-.7l.5-.7l-.4 .5l.9 .1l.2 .2l-.1 1.6l.2 1.4l.3-.1l.8 1.1l.6 1.2l.1-1.3l.3-1l-.5-.7l-.8-.3l.1-.5l-.2-.7l-.2-.7l.6-.8l.6 .1l.6-.1l1.4 .5l1 .4l-.2-.7l-.3-.6l-1.6-.3l-.3 .7M99.3 379.4l1.3-.6l1.5-.6l1.6 .2l.6-.2l.5-1.1l1.1 0l.9 .3l1.3 .5l-.9-.4l-.5-.1l.5 .9l.7 .9M99.2 288.6l.3 1.4l.2 1.1l0 .9M99.6 425.9l1.5 .2l1.2-.4l.8-1.1l1.3-.2l1.6 .6l.8-.5l.7-.4l1.2 .7l1-.2l1.9-.1l2.1-.1l1-1l1-.1l-.1-.6l0-.4l-.2-.7l-.4-1l-.3-1l.4 1.4l.4 1l.1 .5l.1 .5l.1 1.1l.2 .4l.8 .9l1 .1l1.8 .5l.7-.3l.6 0l.3 1.2l.2 1.1M100.5 287.5l1.1 .3l1 0l-.2-1.1l-.3-1l-.1-.8M100.5 429.3l1.4 .2l1.4 .3l.8-.2l.7-.2l.7 .4l.7 .5l1.2 .1l1.2-.6l1.4 .1l.3-1l.3-1l1-.6l1.3-.8l1-1.3l.9-1.1l.9-.3l-.9 .3l-.8 1l-1 1.3l-1.3 .8l-1 .6l-.3 .9l-.3 1.1l.1 0l.2 1.4l0 1.1l.1 .9l.3 .9l-1.5 .1l-.9 .4M100.5 429.3l1.5 .2l1.5 .3l.8-.3l.8 0l1.1 .8M101.6 407.2l-.3 .8l-.2 .8l0 .9l.2 1.2l.2 1.3l0 1.1M101.6 407.2l-.3 .9l-.2 .7l0 1l.3 1.3l.2 1.2l-.1 1.1l-.2 .9l-.1 .9l1.1 .1l1 .1l1.1-.1l1.1-.7l1.5 .1l1.5 .5l.7 .4l.6 .1l1 .9l.9 .1l1.2 .3l.7 1.2l.3 .9l1.1 1.5M101.2 415.2l0 1l.2 1.1M102.1 455.7l.7-.7l.4-.9l.1-1.1l0-1.3l.1-1.4M102.6 287.8l.6 .2l.7 .7l.7-.1l.4-.3l-.4-.5l-.4-.3l.7 .1l1 .2l1.3-.6l.1-.1M102.3 327l.5-.4l.8-1.1l.9-.4l1.3 .1l1.2-.7l1-.8l.6-.5l.2-.4l.9 0l1.7-.1l1.3-.9l1.2-.7l1.4 .1l1.1 0l-1.3-.6l-1.1-.3l-1-.1l-1.1-.6l-1.1-.6l-1.7-.8l-1-.9l-.6-.7l-.9-.7l-.7 .1l-1.2 .6M103.4 437.3l.8 1l.7 .8l-.1 1l-.1 .9l1.2-.7l1.4 0l.9 .1l.5-.9l.3-1l.2 .3l1 1.2l1.3 1l.3-.2l.5 .1l.9 .5M103.9 288.7l.3 1.3l.5 1.1l.3 .7l.9-.7l1 .2l1.1 .1l.3 0l.6 .2l1.3 .7l.6 .7l.3 .4l.2 .6M103.6 443.7l.4-.8l.3-.8l.4-1.1M104.3 405.8l.6 1l.5 .7l.7 .4l.8 1.3l.3 1.5l.1 .6l.3 1.4l.5 1.4l.4 1.1M105 291.8l-.2 .7l-.2 .8l-.2 .9l-.1 1M103.7 389.2l.5 .8l.8 1.2M104.8 430.1l0-.7M104.7 338.1l.5-1.2l.6-1.2l.7-1l.4-.7l.3-.8l.2-.7l.3-1.1l.1-1.2l.5-1.1l.9 1l1.1 1.6l.8 .6l1 .7l-.4 .8l-.4 1.1l-.4 1.2l-.3 1.2l-.3 1.2l-.4 1.2l-.7 1.2l-.8 1l1.1 .3l1.5 .9l1.4 0l.4-.4l1 .5l1.1 .1l1 .1l.9-.6l.8-.9l-.1-1.3l.2-1.4l.4-1.4l.2-1.5l0-1.7l-.1-1.5l-.2-1.3l.7-.2l.7 .1l.7-.4l1-.5l.1-.3l.1-.4l1.5 .1l.9-.5l.3-1l.5-1.1l.7-1.2l-.2-.8l-.3-1.1l-.1-1.6l.2-1.5l.2-1l-.3-.6l-.8-.9l-.5-.9l-.2-.7l.2 .7l.5 .9l.7 .8l.4 .7l-.2 1l-.2 1.5l.1 1.6l.3 1.1l.2 .8l.2 .9l.3 0l1-.6l1.1 0l.6-.2l.5-.6l1.5-.1l1.8-.2l1-.8l1 .1l-.2-1l-.1-.8l-.1-.9l.1-1.5l.2-1.8l.4-1.4l.3-.8l0-.6l-.4-.9l-.2-1.3l0-1.4l.2-1.4l-.1-1.5l-.5-1.7l.8 .5l.5 .8l1 1.2l1.1 .2l1.1-.3l1.2 .3l.7 0l.9 .3l1.6 .7l1.5-.5l0 .3l.1 .4l0 .2l.3 1.4l.1 1.4l0 1.1l.1 .9l.5 1.2l.7 1.1l.4 .8l-.7 .5l.3 1.1l-.6 .2l-.3 .9l.9 .4l.3 0l0-1.2l0 .9l.3 1.1l.5-.1l.6-.1l-.5-1.2l-.4-1.1l-.5 .5l-.3-.3M104.7 338.1l.3 .8l.7 .5l.4 .6l.3 1.1l.6 1.1l.1 .2l.7 .7l.7 .6l1.2 .3l.9 .6l.3 1l-.2 1l.1 1l.1 .8l1.8 1l1.4 .7l1.5 .5l.8 .2l.6 0l-.2-1.2l.1-1.5l0-1.4l-.2-1.2l-.4-1.1l-.4-1M105.2 435.2l1.3 0l1 .4l-.3 .6l-.2 .7l1.2 .7l.8 .7l0 .2M104.9 439.1l.9-1.4l1.2-.8M105 288.3l.9 .3l1.2 .2l.5 .1l1.3-.1l1.1-.3l.8 .1l.9 .6l1.1 .2l1.2-.1l1.4-.4l1.2-.1l.5-.5l.2-.8l1.1 .1l1.5 .2l1.3-.3l1.2 .2l1.4 1.2l.8 .2l.4 .2l1.4 .9l1.3 .2l.7 0l1 1.3l1 .7l.6 .1l1.1 .2l1.1 0l.5 .7l-.8 .7l-.5 1l-.5 .9l-1.3 .1l-1.6 .2l-1 1.1l-.7 1l-.7 .5l-.5 .7l-1.3-.1l-1.3-.7l-.4 .6l-1.4-.4l-1.9-.5M105.1 460.6l.8 1.4l.7 .8l1 .5l1.4 .7l.6 .1l.8 1.2l1.4 1.2l.1 .3M106.5 307.2l.6-.3l.2-.6l0-1.1l-.5-.4l-.7-.7l-.6-1.2M105.9 287.8l.3 0l1-.5l.5-.5M107.3 279l.7-1.5l.9-.7M106.7 377.4l.4 .9l.8 .8M106.7 377.4l1 .3l1.5 .7l1 .6l.4 0l.8 .6l1.1 1l.9 .4l1.3 0l1.2 .9M107.5 435.6l.6-.3M107.2 287.2l0 .1M107.1 342.4l1.3-.5M107.3 305.2l.5-.2l1.3 .6l1 0l1 .1l1.7 .7l1.2-.4M107.6 288.9l.2 1.3l.2 1.2M107.3 411.3l.8-1.5l1.5-.7l1.5-.4l1-.6l.6-.6M108.2 440.4l.1 1.1l.6 1.6l.4-.8l.9-.5l1.3-.8M108.3 329.1l.8-1l.8-1l.2-1.2l.2-.9l.7-.4l1.2-.7l1.7-.9l1.6-.4l.9-.5l.6-.5l.9-.3l1-.4l.6-.7l.3-.6l.9-.1l1.2-.8l1.3-1.4M109 438.3l.6-.9l1-.6M108.9 443.1l.1 .3M110 429.9l.1-.1M110.2 429.8l.3 .1l.6 .2l1.6 1l1.3-.6l-.5 1l-.3 1l-.2 .6l.4 .5l.5 .8l.5 1.2l-1-.3l-.8 .7l-.8 .7M110.8 434.1l.8 .4l.8-.7l.6-.7M110.2 292.3l.1-1.1l.2-1.2l.3-1.4M111.6 434.5l.7 1l.3 .5M110.9 348.4l.2 .7l.1 .7l0 .7l.1 .9l0 .1l.3 .2l.8 .7l.5 .5l1-.3l-.7-.5l-1-.7l-1-.9M110.9 348.4l1.8 1l1.4 .8l1.6 .4l.7 .2l.8 0l1.8 .1l1.3-.3l1.3-.4l1.1-.1l.4 .2l1.5 .6l1.5 .3l1 0l-.9-.3l.8 .2l.8 .6l.9 .7l.5 .5l.4 .6l.2 .1l1.2 .2l.9 .3l.8 .9l-.6 .6l-.5 .5l-.4 .7l-.8 0l-1.5 .2l-1.2-.5l-.7-.8l-.8 .2l-.8-.2l-.7-1.8l.2-1.3l-.1-1l-.2-.7M111.2 456.3l.4-1.2l.5-.7l.7-.3l.6-.4l1.1 .3l1-.6l1-1.3l1.4-.2l1.4 .7l.9 .1l1.2 .4l1.5 .5l1.3-.1l1.9 1l1.6 .3l.3-1.4l0-1.5l-.5-1.6l-1.2 .1l-.9 .6l-.9-.3l-1-1l-.6-.3l-1.3-.8l1-.2l.5-.9l.7-.6l1-.4l.7 1l.4 0l.5-1l.8-.7l.8-.7l.7-1.3l-1-.6l-1.7-.8l-.7 .7l-.5 .9l-.8 .5l-.9-.1l-.2-1.4l.9-.6l1-.5l.2-.8l-.9-.7l-.6-.3l-.6-.2l-.2 .9l-.2 .8l-.2 .9l-.2 .9l-.9-.2l0 .7l-.7 .6l-.7 1l-.6 1.2l.3 .3l.7 .3l1.4 1.3M111.8 466.5l.5-.6l.3-1l.2-1.2l.2-1.1l.4-1l.5-1l1.2-.2l1.4-.7l1-1.5l.7-1.3l1.3 0l1.3-.3l.9-1l1.2-.5l1.3-.1l1.8 .4l1.5-.3l.2-.3M111.3 351.4l.3 .3M112.1 333l1.8 .5l.7-.5l.7-.3l1.6-.3l1.1-.6M110.5 188.8l.4 .7l.8 .6l.8 .1l.3 .5l-.2 1.3l.1 1.1l.5 0l.5-.1l.8 .2l.8 .4l.5 .5l.4 .7l.2 .8l.4 .4l.4 .3l.4 .3l.4 .4l.1 .2l.3-.6l.1-.4l.1-.5l.1-.3l.3-.1l.6-.2l.8-.9l.4-1.9l.1-1.2l-.4-.4l-.4-.1l-.6-.1l.3-.5l.2-.7l.3-.6l.4-.5l.7-.5l.7-1.3l.6-1l.2 .1l0 .4l0-.5l.3-1l-.3-.7l-.2-.8l-.3-.9l-.3-.6l-.8 .7l-.9 1.4l-1 1.5l-.9 1l-.6 .6l-.2 .4l-.1 .5l-.3-1.1l-.1-1.1l-.1-.6l-.2-.1l-.3 0l-.8 .2l-.8-.4l-.8-.3l-.5 .1l-.4 .3l-.3 0l-.4 .2l-.6 .7l-.7 1.3l-.5 1.1l-.3 .5l0 .5M111.8 440.8l1.2-1.3M112.2 408.8l.6 .9l.7 1.6l.4 1l.7 .2l1.1 .6l.6 .5l-.3 1.2l-.2 1.4l-.3 1.3l-.3 1.2l-.5 .9l.1-.2l.4-.9l.4-1.2l.2-1.3l.2-1.3l.3-1.1M112.6 407.8l.8-.2l.7 1.5l.1 1.5l.2 .6l.9 .6l1 1l.4 .7l.7 1.3l.7 1.7l.5 .8l.9 .7l-.5 1.3l-.5 1.3l-.6 1.1l-.6 1l-.6 1l-.7 .8l-.2-.4l-.1-.3l0-.5M112.6 407.8l1.1-.2l1.2 0l.9 .5M112.6 257.9l1.1-1.1l.4-1.4l.3-1.3l.6-.9l.9-.9l.9-1l.9-.6l.8-.3l.6-.5l.6-1.1l.7-1.2l.7-1.2M112.4 275.1l1.1-.1l1.6 .3l1.5-.1l1.1-.7l.8-.6l.6-.5l.8-.1l1.6 .1l.9-1l.8-1.2l1.4-.2l.8-1l.5-1.1l.5-1.2l.4-1l.5-.6l.5-.5l.7-.2l.9-.1l.9-.3l.5-1l.3-1.5l.3-1.6l.4-1.2l.4-1l.3-1.2l.2-1.5l.1-1.2l.6-1l.8-.8l.9-1l.6-1.1l.1-.3M112.4 275.1l.9 .3l1.5 1l1.9 .8l1.2-.8l1.3 .2l.7 .6l.4 .2l.8 .4l1.2 .3l.4-.1l.8 .3l.6 .1l.9 1.1l-.7 .8l-.7 .8l-.8 .4l-.7 .1l-.4 .4l-1.3 .3l-2.2-.2l-1.6 .5l-.9 .6M113 451.1l.4 1.1l.1 .7l-.1 .8M113.2 373.8l.1 .6l.1 .7l.6-.9M113.2 373.8l.2-.9l.2-.9l.4 .8l.4 .9l-.3-.6l-.2-.5l.6-.3l.8-.4l.6 .5l.1 0l.9-.5l.4-.6l.3-.5l1.2 1.4l.9 .6l.7-.1l1 0l.9 .2l1.2 0l.9 .6l-.6 1.3l-.6 1.3l-.3 .9l-.7 .5l-.7 .1l-.1 .8l-1 0l-1-.1l-.1 .3l.2 .6l1.1 .5l1.6 0l.3-.9l-.6 0l-.5-.4M113 462.6l.4-1.1l.5-.9l1.2-.2l1.3-.7l1-1.3l.7-1.4l1.2-.1l.6 .8l.4 .4M113.4 407.6l1.2-.1l.9 .4l.9 .4l.9-.1l1.2-.2l1.4-.6l1.7 0l1.6 1.5l.8 .3l.7-.6l1.1 .6l.9 .4l.7-.1l.7 .5l-.3 1.1l-.4 1.2l-.4 1.2l.1 .1l0 .9l.3 .8l.5 1l.3 1.1l.5 0l.8 .1l.6-.7l.6-.5l.7-.8l.5-1l1.1-.5l.7 .5l.3-.8l.8-.3l1.3-.2l1.4 .4l.9 .2l.6-.9l.7-.7l.8 0l.7 .7l.7 .9l.9 .5l1.3 .6l.6 0l.3-.9l-.7-.9l-.6-.6l-.2-.8l.3-1l1-.3l.2-.9l-.6-1l-.5-1.3l-.7-.5l.6-1.1l1.1-.5l1.1-.3l.8-1.1l.8 .4l.4 .6l.8 .6l1 .7l-1 1l-1.2 1l-1.3 1l-1.3 .5M114.4 435.6l.5 .7l.3-1l.8-.8l1.5 .9l1.1 .9l.4 .4l.6 1.3l.7 1.6l.2-.5l.3-.7l-.4 1l-.4 .5l-.5 .5l-.5 .7l-.4-.1l.7-.7l.6-.5l.5-.4l.4-1l.3-.6M113.5 394l0 .7l.4 .8l.4 1M113.5 394l.6-.1l.6-.3M113.5 394l.1 .9l.5 1.2l.4 1.3l.2 1.1l.3 1.2M113.5 394l1-.3l1-.9l.5-1.5l.5-1.2l.6-.7l.9-.7M113.8 260.6l1.1 .2l1.3 .1l1.5 .7l.3-.2l1 .4l1.5 .9l1-.2l1.5 .8l.9 .8l.4-.4l1.5 .7l1.4 .5l1.3 .5M113.6 372l.3 .6M113.6 372l.3-.6l.4-.7l.9 0l1.1-.3l.6-.1l-.2-.6l0-.9l-.4 .2l.8-.3l.7-.1l.5-.3l-.3-.7l-.5-1.7l.3 .1l0-.7l0-.9l.7-.2l1.6-.1l1.3-.3l-.4-.9l-.4-.8l-.2-.8l1.4-.3l1.9-.2l.6 .2l.9-.8l.7-.3l.6-.4l-.8-.7l-.7-.7l-.6 .4l-.9 .6l.1 .6l.1 .5l0 .6M115.3 193.6l.1-.1l-.2-.4l-.5-.3l-.4-.1l-.1-.1l.3-.9l.5-1.2l.5-.4l.5 .2l.5-.2l.6-.8l.6-.8l.3-.2l0-.2l-.2-.6l.1-.9M113.7 377.9l.7-.2l.8-.2M113.9 352.6l1-.3l.9-.4l.7 .7l1.1-.1l.8 0l.7 .9l-.3 .4l-.6 .9l-.7 1.1l-.8 1.2l-1.1 1.1l-1 .9l0 .8l.2 .7l.4 .5l1 .9l1.2 .3l.8-.8l1-.4l.8-.3l.4 .6M114.9 438.9l0-.8l0-.9l0-.9M114.8 265.8l.3 1l.3 .6l1.2 1.3l.8 .8l.5 .8l.7 1.6l.5 .6l.8 .8M114.3 370.7l.8-.8l.8-.6l.8-.5l0 .2l0 .1l.1 .8l.1 .7l0-.3M114 430.5l.1-.1l1 .1l1.1 .9l.8 .3l.2-.3l.8 .3l1.5 .5M114.3 379.8l1.1 0l1.1 1l.5 .9l.6 .4l0-1.2l0-1.1l.8 .1l.8 .2l.1-.4l.2-.5M114.3 379.8l1.4 0l1.1 .2l.1-.3M114.1 430.4l.3-1l.4-1.2l.5-1.2l.4-1.3l.3-1.2M114.9 374.3l.5-.9l.5-1M115.1 374.5l.3 .2l.3-.2M115.4 379.8l1.4 .2l.2-1l.1-1l.4-.8l.7-.2l.9 .3l1.2 .2l1.2 .1M115.3 371.9l.4-.8l.6-.7M116.4 321.2l1.3-.3l1.2 0l.5-.7l.3-.5l.7-.1l1.1-.5M116 424.5l.8 .9l1 .1l1.8 .5l.7-.3l.6 0M115.2 361l.4 .7l.4 .7l.3 .9l.7 1.2l.5 1.4M115.5 377.4l.5-1M116.2 431.4l0 1.2l-.2 .9l0 1M116.4 444.7l.8 0l1 .7l1 1.3M116.4 444.7l1 0l1.2 1.2l.8 1.1l.7 .3l1.8 1.5l1.2 .7l.9 .7l1.2 .9l.9-.6l1.4-.2l.1-.4l.4-.9l.8-.3l.6-.5l.1-.9l.1-1l0-1.3l.2-1.3l.3-1.3l.5-1.2l.5-1.1l1 1l1.2 .9l1.1 0l1.2 .5l.7 .3l1.4 1.1l1.6 .9l-.6 .3l-.5 .4l-.3 1l-.1 1.5l-.8 .2l-.6 1.1l-1.1 .7l-1.7-.5l-1.2 .5l-.7 1.2l-1 .5l-1-.8l-.8-.7l-.6-.1l-.8 .1l.4-1.1l.9-.4l.6-.5l.1-.8l.1-.9l0-1.1l.1-1.2l.3-1.2M115.9 465.9l0-.1l.9 .7l1.5 .5l1.2-.9l1.3-.2l1.3 .8l.3 .8l.7 1.1M116.7 369.1l1.6 .7l1.4 .7l.1-.2l.2 0l.5 0l.6-.7l.6-.8l.4-.8l-.6-.9l.2-1.7l-.1-1.5l-.2-.1M116 372.4l.1 .7l.2 .6M117 321.6l0 1l.7 1.5l.8 .9l.5 1l.6 1.5l.4 1l.3 .7l1 .9M116.9 370.6l.7 .2M116.9 370.6l1.4 .8l.6 .8l.9 .3l1.4-.4l1.4-.2l.7-.3l.1 0l.1 .3l-.3-.6l-.3-.6l-.3-.6l.7-.5l.7 0l.8-.2l.5-.4l.5-.6l1.2 0l1.3 .6l1.1 0l1.1-.2l.7-.6l.5-.8l1-.8l1.4-.1l1 .1l-.6 0l-1.4-.1l-1.2 .7l-.7 1l.5 .2l.8-.5l.9-.2l-.1 .8l-.1 1l.7 .7l.1 1l.7 .5l-.2 .8l-.3 .8l.7 .2l.7-.1l.7 .1l.8 .7l.7 .8l.4-.7l.2-.9l0-1l-1-.1l-1-.6l-.1 .1l0 .9l0 .8M117.5 385l.1 0l.3-.5l.3-.7l-.3-.9l-.3-.8M116.1 375.9l.8-.6l1.1 .3l.2-.1l-.6-1l-.7-.7M117.6 385l1 .5l1 .3l1 .9l.4 .8l.6 0l.5 .8l.3 .9l.1 .9l-.2 .9l-.6 .4l-1.5-.2l-1.5 .1l-.8 .5l-.1-.8l.2-.9M117.2 294.5l.5-1l.3-1l-.1-1l-.4-1.3l-.2-1.3l0-1.4M116.7 357l.7 .4l.7 .5l.9 .7l1 .5l1-.7l1.2-.4l.7-.9l.5-.9l.4-1l-1.7-.2l-1.3-.3l-.8-.2l-1.2-.7M117 350.8l1.7 .1l1.4-.2l1.2-.4l1.2-.2l.4 .1l1 .5l1.9 .5l1.3 0l.2 .2l.9 .6l.8 .7l.6 .8l1.1 .3l1.2 .2l.8 1l1.1 .5l.3 .8l.3 .7l.4 1.1l.3 1l0 1.1l-.4 .9l-.4 .9l-.4 1.3l-.4 .3l-.6 0l-.9-.1l.7 1l.9 .9l1.1 .4l.7 .4l-.3-.5l-.6-.3l.7 .5l.3 .9l.3 1.4l.3 .7l.5 .7l.7 1.2l.8 1l.3 .3l.6 0l.3 .2l.5 1l1 .6l.9 .5l.3 .8l-.5-1l-1.1-.5l-.8-.6l-.3-.8l-.3-.2l-.4 0l.4-.1l.4 .1l1 .3l1.3 .2l1.3-.3l-.3 .8l-.4 .5l-1.5 .3M116.9 371.9l.9 1.1M118.2 383.8l.8-.8l.5-.6l.6-.7l.8-.4l-1-.6l-.7-.6M117.8 366l.4 .9l.8 .5l.4 1l.3 .9l.1 1M118.3 371.4l1 1.3l1.1 0l.9 0l.9 .2l.9 0l.7 .1l.6 .5l-.3 .7l-.2 .3l.8 .9l1.3 .8l.2 .2l-.2 .5l-1.4-.2l-1.3 .4l-.3-.4l-.1 .3l-1.1 .6l-1.5-.1l-1.1-.2l-1-.3l-.2 0l0-1.4M118.3 371.4l1 1.1l1.2-.2l1.5-.3l1.3-.4l-.3-.8l-.4-.7l.6-.4l.6-.1l.7-.1l.6-.3l.7-.7l-.5-.8l-.5-.9l-.6-.1l-.6 .8l-.7 .5l.4 .8l.5 .8M117.1 378l.2 .5l.8 0l1.2 .1M118.2 440.8l.4 .2l.7-.6l.5-.5l.5-.3M117.6 341.9l1.4-1.1l1.3-.3l1.1 1l1 .6l.8 .1l.9-.1l1.2-.5l1.2 .4l1.2 .8l1.3 .3l1.3 .1l-1 .9l-.9 .9l-.6 .9l-.3 .8l-.2 .9l.2-.9l.3-.9l.6-.9l1-.8l1-1l-.1 .1M117.4 362.2l.2 1l.2 1.2M117.3 377.4l.7-.4M117.3 378.5l.1 .7l.2 .6M118.9 372.2l.5-.8l.3-.9M118.8 177.9l.5 .6l.6 .4l.2 .4l0 .4l0 .2l.4-.4l.6-.7l.6-.8l.4-.5l.3 0l-.4 .1l-.3-.3l-.3-.7l-.4-1l-.6 .5l-.4 .5l-.4 .4l-.4 .4l-.4 .5M118.2 375.5l.8 .2l.7 .1l.4 .6l1.1-.5l1.1-.7l-.2-.7l-.2-.7l-1 .5l-.9 .4l-.1-.1M118.2 391.5l.5 .5l.5 .9l.2 1.3l-.1 1.4M119.2 441.5l.5 0l.7 .4l.8 1.3M119 367.4l1.4-.5l1.1 .2M119.4 373.3l.3-.5M119.5 418l1.4 .5l1.1 .5l.7-.6l.9-.4l0-.2l-.4-1.4l-.3-1.2l0-1.2l.1-1l.1-1l.9 .7l.9 .1l1.2 .6l.9 .1M118.5 408l.7 .4l.8 .4l.5 .9l.3 .4l1.1 .5l1.2 1.4M119.3 456.9l1.2-.1l.9-.8l.9-.7l1.1-.3l1.2 0l1.6 .4l1.3-.3l.5-1.7l.4 .4l1.2 1.5l.8 .4l.9 .7l.7 1.3l.6 .6l1.4 1l1 .5l.5 .2l.9 1.6l.6 .6l.7 .3l1 .7l.4 .4l.7 .9l1.1 .7l.7-.1l.3-.2l.7 .1l-.2-.8l-.1-.3l-.1-.5l-.2-1.1l0-.6l1.1 .2l.7 0l.2-.7l0-1.5l.1-1.6l1.3-.3l1.2-.6l.4-1.2l.8-.4l.4-.9l.4-.7l1.2-.5l1.4-.1l1.1 .2l.4-.9l1.4-.5l.4 1.2l.2 1.3l.1 1.2l.6 .2l1 .2l.7 1l.5 .7l.2 .3l-.5 1.2l-.5 1l-.2 .9l.4 1l.5 .9l.4 .2l-.4 .6l-.8 1l-1.3-.1l-1.4-.3l-.1-.9l.2-.6l-.1 0l-.7-1.1l-1.2-1l-.4 .1l-.3-.3l-.2-.7l-.4-1l.3-.8l.4-.7l1 .3l.8 .3l.4 1.1l.2 .2l.7 .5l1.4 .5l.8-.1M120 374.7l-.3 1.1M119.1 377.3l.3 1M120 359.1l.1 .8l-.1 .8M120.5 370.3l.7 .6l.8 .5l.6 .5M121.3 402.7l.7 .5l.7 .7M120.1 376.4l.2 1.1M121.2 443.9l.4 .8l.4 .5l.6 .6l.3 .9l.2 .8M121.1 330.8l1.4 .5l1.1 1.5l1.2 1.1l1 .7l1.6 1.3l.8 .4l.4 .5l1.5 .5l1.1 .3l1 1l.8 1.1l.4-.4l-.8 .7l-.8 .9l-.7 1l-.7 1.1l.5 .4l.6 .4l0 .9l0 .8l-.1 .9l-.2 .9l-.3 1.1l-.2 1.2l1.4 .5l1.1-.4l.9 .5l.5-.6l.8-.8l1.1-.9l1.2-1l-1.3-.7l-1 .1l-.9-.7l-.5-1.2l1.1-.6l.7-1.5l.6-1.6l.6-1.1l-.6 .2l-.7 .3l-.9 .3l-.8-.4l-.6-.7l-.4-1.1l-.7-1.2l-.6-.8l-.6-.5l-.7-1.5l0-1.5l0-1.6l-.1-1.4l0-1.2l-.9 .3l-1.1-.6l-.8-.7l-1-.1l-1.1-.1l-.2-.9M120.9 381.3l1.2 .4l.5-.6l.4-.6l-.4-.5l-.4-.3M121.9 373.8l.4-.9M121.6 363.9l.6 0l.8 .3l.7 .9l.5 .8l0 .8M121.2 437.7l.3-1M121.2 437.7l.3-.7M121.6 387.5l.6-.8l1-.6l.9-1.1l.1-.1l1.1 0l1.3 .2l.9 .8l.6 .9l.5 .4l.8 .4l-.4 0l-.9 .1l-.5 .7l-.8 .9l-1.1 .9l-.9 .5l-.9 .2l-1-.2l-.6 .3M122.3 375.2l.6 .5l.3 .4M122.1 368l.8 0M121.5 437l.2 .8l.7 1l.5 1.1M122.2 358l.6 .7l.7 .4M122.1 381.7l.4 1.4l.6 1.1l1 .8M123.1 372.9l.3-1.3M122.3 442.5l.1 .1l.5 .4M122.3 278.1l1 .5l.7-.1l1 1M123.8 355.2l.6-.9l.3-.4M123.5 371.9l.1 0l1.1-.8l.9-.4l-.3-.7l-.5-.6M123.5 371.9l1.1 .3l.7 1l.5 .9l.7 .6l.7 .6l0-1l0-1l-.6-.7l-.5-.5l.8-.5l1-.3l.2 .8l0 .8l-.9 .4M122.4 396.5l.9-.9l.9-.6l.9-.8l1-1.1l1.4-.6l0 1.6l.2 1.1l.8 .8l.7 .8l-.1 .7l-1.1 .8l-1.1 .6l-.8 .9l-1 .8M122.6 445.8l.5-1.4M123.6 371.9l1.3 .6l.7 1.4l.3-.8l.1-1l-.1-.9l.2-1l.4-.9l.7 .9l1 .7l0 .2l.8 .2l.6 .2l.1 0l.7-.8l1.4 .1l0 1.5l-.1 .1l-.2 .8l-.2 .8l-.3 0l-.9-.6l-.8-.4l-.7 .4l-.1 1l-.1 .9l-.3 1l-.2 .2l.7 .6l.4 .5l.2-.1l1.4 0l1.7 .1l.6-.5l.5-.6l0 .7l.1 .7l-.2 .4l-.8 .9l-.8 .4l-.8-.9l-1.1-.1l-.4-.5l-.2-.6l-.4 .4l-.9 0l-.6 .7l-.4-.2l-.5-.4l-1.2 .1l-1-.4l-1.2 .5l.3-1.1M122.5 378.8l.5-.6M123 380.5l.8-.6l.6-.4l.9 0l-.1-.7l0-.7M123.3 180l0-.1l0-.3l.3-.8l.5-1.1l.2-.5l.7 0l.4-.1l.1-.3l-.3-.3l-.2-.1l.2 .1l.7 .3l.9-.2l1-.5l1-.7l-.7 1.1l-.3 .3l-.1 .2l.2 .5l.2 .8l.2 .4l-.2 0l-.3 .3l-.4 .7l-.5 .9l-.7 .7l-1 .3l-1-.7l-.6-.6l-.3-.3M123 376.7l.4-1.1l.5-1.1M123.6 418l.8 1.2l.6 .6l.5 .7l.5 1.4l.1 1.7l-.1 1.1l.3 .9l.5 1.2l.2 1M123 364.2l.4-1.1l.4-1.1l.5-1l.9 .4l.9 .9l.6 1.2l.3-.6l.1-.9l.4-1l-.2-1.1l-.1-.7l-.7 .3M123.6 417.8l.9 .2l.8-.2l1.6 0l1.3-.4M124.1 374.2l.6-.6l.6-.4M123.8 409.3l.2-.1l.8-.7l1.2-.5l1.2-.5l.8-.6l.8 .2l.9 .1l.9 .6l-.4 1.1l-.7 .9l.8 .6l1.1-.3l.1-1.1l.1-1l1.1 .7l.7 .7l.5 .6l.6 1.2l.6 1.4l1 .6M124.2 384.9l.5-1.6l.6-1.3l.8-.8l.8-.5l0-.1l.7-.4l.9 .1l.8-.4l.5-1l.5 1.2l.5 1.5l0 1.7l-.6 .3l-1.2-1.1l-1.2-.9l-.9-.9M124.4 463.9l.5-.1l1 1l.9 0l1.2-.3l2 .7l1.1-.1M125.6 370.7l.3 .3l0 .2M124.2 365.9l.7-1.1l.9-.7l.8-.5l.1-.1M124.9 401.2l1.7 .9l.6 .9l.5 .7l1 1.3l.2-.8l0-1.6l0-1.6l0-1.5l.1-1.1l.1-.9M124.8 441.9l.6 .3l.6 .2M125 441.1l1.4-.5l1.1-.5M124.7 408.6l1.2-.6l1.2-.4l.9-.7l.4-.9l.3-1M124.8 444l-.1 1.1l.1 1.4M125 358.1l.1-.7l0-.8l.3-.9M125.6 373.9l.2 .2l.1 .2l.4 .3l.6 .4l.5 .6l.5 .9M126 376.9l.4 1.1M126 376.2l.2-.7l.1-.9M125.3 379.5l.8 .6l.8 .5M124.8 366.8l1-.1l1.2 .2l.9 .6l.5 .7l.6-.3l.7-.5l.9 0l.7-.2l0-1.4l.1-1.2l.2-1.1l-.6-.4l-.9 .3l-.6-.8l-1-.7l-.9-.9l-.1 0M126.2 376.4l.8 .1l.3-.1l.2 .8l.4 .7M126.2 350.9l.6-1.1l.3-1.2l.2-1M126.1 299.6l.4 .7l.3 1.4l.1 1.8l-.2 1.4l-.3 .9l.2 1l.4 1l.2 .9l-.2 .9l-.1 1.4M125.8 368.5l0-.1l.8-.2l-.1 1.1M125.7 327.3l1 .2l.9 .1l.8 .6l1 .6l.9-.3M126.5 428l.9-.6l.6-.5l.8-.3l.9-.9l.8-.8l.9-.5l.7-.3l.3-.6M125.9 390l1.1-1l.7-.8l.5-.6l1.1 0l1.4 .2l1.2-.5l.8-.8l.5-.5l.3-.5l.2-.1l-.5-1l-.5-1.1l.8-1.2l1-1.2l-.6-1.4l-.6-1.2M125.9 390l.5 .5l.7 .8l.4 1.2M126 372.1l.1 0M126.6 368.2l1 .5l.9 .4l1-.1l.2-.1l.4 .8l.3 1M126.3 434.6l.9 .7l1 1.1l1 .4l1.8 .9l.9 .6l-.3 .8l-.5 1M126.6 363.6l.7 1.4l1 .6l.7-.4l.3 1.2l.4 1M125.9 447.5l.4 .5l.6 .9l.7 1M127 366.9l.9-.4l.4-.9M127.2 375.3l.2 .3l.1 .3l-.2 .5M127.3 378.6l.2 .8l.1 .8M127.5 450.3l0-.1M128 453.4l.4 .4l1.1 1.4l.9 .5l.8 .7l.8 1.2M127 389l1.4-.5l.9 .5l.6 1.5l1 1.2l.9 .9l0 .5l2-.1l1.7 0l.2 .6l.1 .6l-.8 .8l-1 .9l-.8-.5l-1-.8l-1.1-.2l-.6 .6l-.4 .1l-.5 0l.5 .7l.5 .6l.6 .8l-.4 .3l-.6 .7l-.7 1.2l1.1 .4l1.1 .9l1.2 .6l.3 1l0 1l-1.9-.7l-1.5 .8l-.9 .8l.3-.1l.6-.7l.9-.7l1.5 .1l1.4 .8l.4 .2l.5-.2l1-.3l.2 1.5l-.9-.2l-.7-.3l0 .8l-.5 .4M127 355.7l1.1-.8l1-.6l.7-.7M127.5 375.9l.5 .7l.6 .6l.4 .4l.4-.1l1 0l1.5 .1l.1-.6l-.6-.3l-.5-.4l1-.8l-.4-.6l-.2-.9M127.2 359.2l.4-.8l.6-.8l.7-.6M128.7 352.4l.8-.8l.3-.9l.2-.8l.7-.3M127.1 413.6l.9-.8l1.3-.1l1.6 .3l.5-1.1l.3-1.3l-.3-.5M128.1 410l1.4-.2M127.5 394.8l1.2 0l.9 .3M127.9 371.3l.3-.2M128.4 368.2l-.1 .8M128.2 370.9l.5-.6l.4-.7l.4-.6M128.1 372.9l.5 .5M128.1 376.3l.7 0l.5 .1l1-.3l.6 .2M128.6 426.7l.5-.8l.4-1.1l.2-1.5l.1-1.6l-.1-1.6l-.1-1.4l0-1.1l-.1-.1M128.7 443.8l.2-.4M129.2 407.1l1 .4l.6 .6l.1 0l.7-.1l1.2 .8l.4-.2l.6 .1l.7 0l.7-.2l.8-.1M128.1 386.8l.5-.5l.6-.7l.6-.9l.4-1.1M127.6 361l1.5-.7l1.6-.9l1.2-.7l.3-.4l-.6-.7l-.4-.8M128.4 375.3l.8-.5l.9-.1l.9-.7M128.9 399.8l.6-.4M129.2 404.1l.2 .9l.5 .7M129.3 432.7l.2-1.1l.2-.9l.2-.7l.3-.7l.3-.9l.3-1.1l.4-1.3l.2-1.6M129 365.2l.5-.9l.6-.9M129.4 387.6l1.6 .2l1.2-.7l.8-.9l.5-.7l.7-.7l1.2-.9l1-.5l.4-.6l.1-.1l.3 .1l.8 .4l.6 .6l.6 .7l.4 .9l.3 1l.3 1.4l.3 1.5l-.2 .9l-.7 .9l0 .1l.5 1.3l.7 .8l.9 .7l.6-.1l.2-.3l.4-.3l.2 .2l.8 .4l.9 .4l-.2 1.5l0 1.6l0 1.6l0 1.4l0 1.2l-.2 1l-.1 .3l1 .9l1.3-.1l1 .3l.4 .7l1 .7l1 .8l.7 .5l.3 .5l.2 .6l.3 1.3l0 1.1l.5 .7l.6 1.1l0 1.6l-.7 .8l-.7 1.1l-.5 1.4l-.2 .7l-.4 1.4l-.4 1.1l-.5 .7l-.1 .8l-.8 .5l-1.6 .1l-1.2 .4l-.8 .2l-.7 .1l.4-.1l.4 0l-.3-.6l-.6-1l-.7-1l.8-.3l.8-.9l.7-1.2l-.4-1l0-.9l-.4-1M129.3 389l1.1 .5l1.3-.2l1.3-.5l.7-.7l1 0l.5-.1l.4 .7l-.2 1.1l-.3 1l-.7 .2l-.6-1.1l-.8-1.1M129.3 373l.1-.8l.2-.7M129.7 368.9l.8-.1l.7-.6M129.7 371.5l.9 .5l1.1 .4M130.6 407.8l.3 .3l.7-.1M130.8 383.3l.3-.2l.2-.2l.9 .1l-.4-1.1l-.1-1.2l0-1.1M130.4 334.2l.5 1.3l.7-.5l.7-.7l.9-1.1l1.4-.6l1.7-.1l.7-.6l.6-.3l.9 0l0-1.2l.2-1.3l.3-1.2l.5-1l.4-.7l1.1 .9l1.2 .5l.9-.5l1.6 .6l1.8 .6l.9-.1l.7 .4l.7 .6l.4-.5l.4 .5l0 1.3l.1 1.4l-.2 1.3l-.6 .9l-.6 .6l-.6 .8l-.4 1.1l-.1 1.4l-.1 1.4l-1.2 .4l-1.3-.1l-1.1 .2l-1.5-.3l-.9 0l-.8 .3l-1-.1l-1.2-.2l-1 0l-.7 .2M129.2 377.5M129.8 378.9l0-.3M129.3 376.4l.3 .6l.8 .5M129.6 417.6l1.7 .6l1.3-.2l1.8 0l1.2 .5l.1 .8l.5 .7l1.1 1.2l.7 1l.5 .6l.7 .2l.8 .4l.9-.1l-.1-.8l-.2-1.6l-.5-1.5l-.4-1.1l-.4-1l-.5-1.3l-.4-1.2l0-.7l-.9 1.1l-.9 .4l-.8 0l-.4 .5l.2 1.1l0 1.3M130.9 335.5l.7 .7l.6 .7l.8 1.2l.4 1.2M130.9 413l.6 1l.4 .5M130.1 374.7l.2 1.4M130.1 469.1l1.7 0l1.1-.4l1.4 1.5l.7 .7l.5-1l1.3-.7l1.5-.6M130.7 301.9l.5 .9l.3 .8l.4 1.3l.4 1.3l.3 .7l.2-.1l.4-1l1 .1l1.6 .2l1.1-.8l.9-1.1l1.1-.6l1-.6l1.3-.3l1.1-.4l.3 .5l.2 .2l.6 .6l.6 1.4l.2 1.1l-.3 1.1l-.2 1.4l.1 1.3l.2 .9l.2 .3M130.7 301.9l.5 .9l.3 .9l.5 1.4l.4 1.3l.3 .7l-.1-.2M130.7 301.9l.8-1l.9-.7l.9-.8l.7-.7l.6-1.1l.4-1.3l.5-1l1.5 1.2l1 1.3l.4 .9l1.1 1.3l1.1 .3l.8 .7l.9 1.3M130.4 343.1l0-.1M130.4 343.1l.7-1.2l.8-1.1l.8-.9l.3-.2M130.7 451.7l.9 .6l1.3 .7l.8 .7l.4 .2l1.2 1.1l1.3 .5l1-.2l1.4 1.2l.9 .9l.8-.6l.6-.5l.7 .2l-.1 .5l-.2 .5l.5 1.4l.1 .9l-.2 .8l-.1 1.1M130.9 408.1l.3-1.3l.5-.8l1.2 .3l1.1 1.1l.9 0l-.1-.8M131.2 397.2l.5 .9l.2 1l.4 .7l.8 .8l.7-.1l.6-.5l.6-.8l1 .1l1.1-.7l1-.6l-.5-.9l-.5-.7l-1.3-.3l-1.5 .2l-.3 .4l-1.5 .4l-.7 .6l-.1 .4M131.3 374l.8-.3l.5-.8l.7 .6l.9-.2M130.4 325.8l1.8-.2l1.2-.8l1.1 .2l.9-.1l.8-.6l1.3 .6l1.1 1l.9-.3l.9-.2l1-.5l.2-.6l.2-1l-.3-.5l1.2-.6l.9-.7l.4 .3l.6 .6l.3 .2l.2 0M131.8 370.8l.3-.5l-.2-1l-.2-.9M131.8 372.3l.9-.9l.3-1.6l.2-.3M131.7 404.9l0 1.1M131.7 410.6l.7 .1l.6 0l-.1 1.6l.1 1.7M131 363.1l.4-1.1l.6-.9l.5-.7l-.3-1l-.3-.7M131.3 367.2l.4 .2M132.1 370.3l.9-.5M132.2 402.8l.1 .8l-.1 .9M131.9 438.3l.7-.6l1.4-.3l1.5-.3l1.5 .3l.9-.1l.5-.7M131.9 438.3l.8-.6l1.3-.3l1.5-.3l1.5 .3l.9-.1l.5-.7l1.3 .8l.7 .6l.5 .6l.8 1.1l.8 .5l1.2 .5l-.3-.4l0-.1l.2-1.1l0-1.5l0-1.6l.2-1.5l.6-1.1l.7-.7l.7-.4l.5-.6l.3-.7l.1-.6l-.2-1l-.5-.9l-.4-.6l-.2-1l-.5-1.9l-.5-1.3l-.4-.8l-1.3-.1l-1.8 .5l-.1-.8l-.2-1.4l-.4-1.5l-.5-1.1l-.3-.9l.3-.1l1.3 .1l1.1 .7l.3 1l.8 .9M132.7 386.5l.5 .8l.5 .8M132.2 358.3l.9 .1l.7-.1l1-.2M131.6 363.5l.4 0M131.5 343.8l1.2 .2l1.3 .4M131.9 377.6l.4 0l.9-.8l.7-.8l1-.5l-.3-.5l-.7 0l-.7 .4l-.6-.5l.7-1.4M132 377l.6-.7l.6-.9M132.7 355l1.1 .5l.3 .8l.6-.8l.4-.5l.2-.6l.1-.9l.4-.1l.9 .1l1.4-.4l.7-1.1l.5-1.4l.2-1.5l-.3-1.1l-.1-.7l-.3-.5l.5-1.6l.6-.8l.9-.4l.9-.9l.8-.7l.2-1.1l0-.8l-.4-.8l-.3-.1l-1 0l-.8 .3l-1.1-.1l-1.2-.2l-.9 0M131.9 375.5l.7-.6M131.1 394.4l.3-.6l.4-.7M133.2 403.3l.7 .5l.3-.1l.8-.2l.9-.5l1.1-.4l1.4 .1l-.4-.4l-.2-.6l.5-.6l.6-.9l1.3 .7l.9 1.2l.8 0l.9-.1l-.1-.8l0-1.1l-.3-1.3l-1-.3l-1-.3l.3-1.1l.4-1.1l.2-1l-.1-.8l-1.5 .1l-1 .2l-1 0l-1.1-.4l.4-.8l.6-.9l-.6-1.3l-.9 0l-.3 .9l-.3 1M132.7 371.4l.1 .7l.5-.6l.7-.3M132.5 360.4l.9 .8l.6 .4l.3 .4M131.8 392.6l1.4-.8l1.2-.8M132.2 383l.5 .3M132.9 401.3l.2-.7M132.8 408.8l.7 .7l.6 .8l.7 1.6l.7 1.1l1.3 .4l1 .3l.6 .1l.6-.8l.7-.7l.7-.7l.7-.7l-.8-.8l-1.4-.4l-.7 .6l-.6 .9l.1 .7l0 .7l1.1-.3l.9 0M132.8 306.8l.4 .3l.6 .8M132.9 406.3l.9-.2M132.6 372.9l.2-.8M133.4 367.7l.8-.2l.4 .8l.3 .9l.5 .3l.8 .1l.1-.2l-.7-.9l-.3-1l-.2-.9l.3 1l.4 1.1l.8 .9l.6 1l.6 .9l.6 .6l0 1.2l-.2 1l-.4 .7l-.6 .7l-.2 1l0 1l.1 .9l.1 1.2l-.1 1.4l-.1 1.4l.1-1.4l.1-1.3l-.1-1.2l-.1-1l-.1-.2l-1.1-.4l-.9 .3l-1.4 .5M132.4 464.6l.7-.9l.7-1.1l.8-1.4l.6-1.5M133.2 408.6l.4-.7l.4-.5M133 410.7l.9-.7M133.7 385.4l.6-.8l1.1-.6l1-.5l.4-.7l.2-.1l1 .5l-1-.6M134.2 367.5l.2-.5l.1-.4M133.4 376.5l.8-.7l.9-.4l-.2 .1M134 403.8l.1 .5M134.1 356.3l.2 .6l1.2 0l1.2 .1l.6-.5l.3-.4l1-.1l1.4-.6l1.5-.5l1.1 .2l-.5 .5l-.8 .6l-.9 .9l-.8 .7l-.7 .9l.4 .4l.4 .5l.5 .7l-.2 .9l.5 .6l.2 .4l0 .2l-.2 1l-.2 1l-.4-.3l-.6-.5l.2-.7l.1-1.1l-.5-.3l-.5-.3l-.4 .5l-.5 .4l-1.3-.3l-.5-1.1l1-.7l.4-1.2l.4-1.2l-.1-1.5M134.1 405.1l.6 .6l.9 .7M133.9 370.2l.5-.5l.5-.5M134.3 356.9l.4 .9l.4 1l0 1.2l0 .2l-.7 1.5l-.4 1.5l0 1.1l.8-.2l1.2-.2l.1-.5l.1-.7l.2-.9M134.3 356.9l1.6 0l1.2-.1l.4-.7l.9-.1l1.3-.5l1.4-.5l.4-.7l.3-.5l.2-.6l-1.1-.9l-1 .3l-1.8 .5M133.8 400.5l.5 1.1l.2 1l.5 .9M133.7 293.4l.6 1.2l.6 .6l.6 .1M134.9 150.3l-.4 .5l-.1 .3l.8 .3l.7 .2l.1 .2l.2-.4l-.7-.6l-.6-.5M133.7 414.5l.4 .5l.6 .3l.7 .8M134.2 324.9l1.1 .1l.8-.7l1.4 .6l1-.4l.7-.5l.8-.6l.9-.8l.8-1.4l.6-1.8l.3-1.8l.1-1.4l.3-1.5l.5-1.5l.8-1.2l-.8 1.2l-.5 1.4l-.2 1.3l-.2 1.4l-.1 1.3l-.3 1.4l-.5 1.3l-.7 1.1l-.7 .8l-.7 .5l-.6 .5l-.7 .4l-.8 .3l1.3 1.1l-.2-.1M135.2 388l.1-1l.3-.9l.3-.9l.6 .7l.6 .5l.9 .1l.8-.3l.4 .1l0 1.3l-.4 1.6l.3 1l.5 .9M135.1 390.8l1 .3M134.9 407.4l.8 .3M134.5 408.7l.6 .9l.6 1.4l1 0l.3 .3l.6-.1M134.1 350.2l.5 1.5l.5 1l.3 .8M134.5 365.4l-.2-.3l-.3-.8M134.5 365.4l-.4-.5l-.2-.7l0-.9M134.3 365.1l1.2 .1l.8 .8l-.2 .9l-.1 1l-.2 .3M134.7 371.7l.9 0l.7 .1M134.6 375l.2-.8l.1-.7M134 395.9l.3 .4M134 396.7l.5 .6l.4 .9l.1 1M134.5 380.9l.7-.1l.5-1.4l.4-1.2l.9-.5M135.1 360l.8 .7M135.6 388.7l1-.2l.7 .5l.6 .6l-.4 .8l-.5 .7M135.6 406.4l.2-.7l0-.8l-.1-.1M135.1 375.4l1-.2l1.1 .5l.6-.7M135.4 366.2l.2 1.1l.3 1.3l.7 1l-.3-.2M135.4 383.9l.5 1.3M134.8 411.9l.9-.9M135.8 432.9l0-.9l0-1.1l.3-1.3l.6-1.2M135.2 380.8l.9 .6l.6 .5l.2 .8M135.8 404.9l.7-.4l.7 .2l.4-.1l.7 .3l.5 .7l.3 .3M135.5 403.3l.6-.5l.7-.2l1.4 .1l1.2-.5l-.2 .9l-.4 .5l-.9-.2l-.8-.2l-.3-.6M136.6 388.5l.8-.8l.6-1.2M135.8 394.2l.8-.1M136.6 406.6l.3-.9l.3-1M136.8 406.9l1 0l.4-.8l.6-.5M136 363.9l1.5 .4l.6-.5l.5-.6l.7 .4M136.2 369.6l.1 1.1l.1 1M135.9 403l.2-1.5l.4-1.3l-.5-.9M136 367.9l1.1 .1l1-.2l1.2 .2l-.1-.8l-.1-.7l-1.2-.2l-1.2-.4l-.4 .1M136.9 422.2l.9 .4l.7 .2M136.9 422.2l1 .4l.8 .2l.9 .4l1.1 .1l1.6-.4l1.4-.1l-.6 .9l-1 1l-1.3 .7l-.8 .9l-.7 1l-1 .8M136.7 411l.6-1.4l.4-.2l.6-.4l.3-1.2M137.3 409.3l0 .3M136.5 404.5l.6-1.3M137.9 389.6l.9-.4M136.7 365.9l.4-.7l.5-.7l.8 .4l.9 .4l.6-.3l.4-.6M137 462.2l.3-1.5l.5-1.4l.9-1l1.2-.9M137.6 392.4l1-.6l1-.6M137.8 406.9l.1 .4M136.5 400.2l.7 .8l.6 .7M136.8 413.4l.9-.8M137.7 346.9l1.1-.1M137.1 396.4l.8-.5l.8-.8l1-.8M137.5 364.3l.1 .2M137.6 404.6l.6-.5l.8-.1M137.2 375.7l-.2 .9l-.1 .9M137.7 362.1l.5 .5l.4 .6M136.7 353.5l1.1 .7l.5 .6l.1 1.2M137.1 378.6l1.3 .3l.7-.9l.4-1.2l.2-1.4l.2-1.1l.5-.6M138.1 371.8l.4-1.1l.7-.9l1-.5l-.3-.7l1.4-.2l.8-.9l.7-.2l.4 .2l.4-.3l.4 .7l.6 .4l.4 .9l-.3 1l-.5 .9l.5 .6l-1.1 .3l1.5-.5l.8-.5l.6 .6l.5 .6l-.2 .6l-.2 .8l-.8 .3l-.9 .5l-1.2 .3l-.2 .4l-1.3 .6l-.2-.5l.4 .9l.4 .8l-.7 1l-.4 1l-.3 1.1l-1.2-.1l-.8-.3l-1-.7M138.4 436.6l1-.4l1-.6l.7-.9l.9-.5l.9-.4l.9-.7l1.1-.2l-.7 .7l-.5 1.2l-.1 1.5l0 1.6l0 1.4l-.2 1l.7 1.2l.5 1.3l.1 .9l0 .6l1.5 .3l1.2 .1l.9 0l.6 .7l.2 .4l.9 .6l-.9-.7l-.3-.4l-.4-.6l-.8-.1l-.9 .1l-1-.2l-1-.2l.6 1.1l.5 1.4l-.1 .9l-.1 1.3l.1 1.6l-.1 .2l-.6 .8l-.6 .8l-.7 .8l-1.3-.7l-.6 0l-1.2-1.1l-1.5-1.4l-.6-.6l-.7-1.4M137.7 357.6l.5 .7l.7 .4M138.4 372.4l0-.3M138.1 398l.7 .3l.6 .2l-.3 .8l-.2 .9M138.3 409l.6 .7M138.4 413.8l0 .3M138.4 413.8l0 .7l.2 .8l.4 1.1l.4 1.2M138.8 403.6l.2 .2M138.6 361.2l.1-1.2l.2-1.3M139.2 386.3l.3 .1l.4 0M138.4 402.7l1-.4l.8-.3l.9 .1M139.1 407.5l1.1 .6l1-.3l-.1-.8M139.1 366.5l.5-.3l-.3-.9M138.8 326l1.1 .2M138.8 326l.9 .1l.7 .4l1 .8l.8-.9l.9-1l1-.9l.5 0l.6 .6l.2 .5l-.4 1l-.4 1.1l-1.4-.6l-.8 .4l-1-.2M139.4 406.5l.5 .1l.6-.1M138 383.2l.6 .7l.6 .7l.4 .9l.3 1.1l.3 1.2l.3 1.3l.2 1.5l.1-.2l.8-.6l1.4-.6l1.5-.8l1-.8l.8 .7l.7 .5l.8 .2l1 .4l-.2-1.2l.5-.5l.4-.6l-.4 .5l-.4 .5l.9 .5l.6-.4l.8-.4l1.3-.4l1-.1l.1 .2l1.1-.1l1.5 .3l-.9 .8l-.8 1l-1 1.1l0 .2l.4 1.1l.4 1.2l.4 1.2l.5 1.3l-.9 .1l-1-.7l-1.2-.8l-1.1-.3l-.8-.8l.1-1.2l-.2-.8l-.7-.7l-.4-.9l-.2-1.3l.1-.1M139.7 405.3l.5-.1M139.3 444.8l1.2 0l1.2-.3l.9-1l1-.5l1.1 0l0 .8l.1 .7l.6 1.3l.4 1.2l-.1 .9l-.1 1.2l.1 1.5l-.7 1l-.7 .9l-.7 .8l-.6 .9l-.4 1l-.3 .7l.8 .9l.5 .4l.5 .9M138.5 331.6l.8 .1l.9 .2l1.5 1.3l1.2 .6l.4 .3l1 .9l1.2 .3l.9 .5l.9 1l-.2 1.3l0 1.3l.3-.9l.7 .2l1.5 .8l1.5-.2l-1.5 .2l-1.5-.8l.9 1.2l.8 .7l.1 1l.2 1.8l.4 1.5l.6-.2l.8-.9l1-.9l.9-1.2l.5-1.2l-.3-.1l-.7-.7l-.9-1l1.3 0l1-.2l1.2-.1l.1-.1l1.1-.3l1.3-.5l1-.5l.3-.2l-.8-.1l-1.3-.6l-.6-.3l-.3 1.4l-.8 .2l-.7-.9l-.8-1.2l-.6-.7l-.3 1.2l-.3 1.2l-.8 .6l-1.1 .4l-.9-.9l-.3-1l-.3-.8l-.9-1.2M139.3 368l.6 .6M139.6 366.2l1.2 .3l.9 .4l.3-1.3l.5-1.1l.2 0l.6 .9l.3 1.4l0 .4M139.5 349.1l1 .3l1 .2l.6 .2l.6-.8l.8-.8l.7-.7l.7 .9l.2 .7l.6 1l1.4 .6l-.1 .4l0 .5l.7 .5l.5 1.3l.7 1.2l-1.1-.4l-.7-.3l-.9 .4l-1 .6l-1.3 .1l-.8 .1l-.5 0M139.7 412.2l.9-.8l.7-.8l.7-.8l.7-1.1l.3 1.2l.3 1.5l.2 .3M139.4 402.2l.8-.2l1.1 .1l1.2-.1l.1 .9l.3 1l.6 .3l.5 .5l.6 .5l-1 .6l-.5 1.2l-.3 1.1l-.3 .9l-.4 .7l-.5 .6l-.5 .6M139.4 372.1l.9 .2l1.2 .3l.4-.8l.4-1l.3-.1l.4-1.5l.2-1.7M140.3 410.1l0-1l-.1-1M140.2 369.3l1.4 .8l.7 .7M139.7 417.5l1.1-1.2l.7-1.1l1.2-.3l1.4 0M139.6 361.8l.4-.6M139.9 386.6l.3-1.1l.5-1l.8-1l.6-.9l.2-1.1l.7-.5l.9-.1l.9 .4l.8-.5l.7-.8l.7-.8l-.9 .1l-1.6 .2l-.9-.7l-.5-.9l-.3-1M140.3 364.4l.3 .3l.2 .4l.4-.4l.8-.4l.5 .2M139.4 398.5l1-.3M140.3 405l.5-.2l.9 .1M141.2 394.2l.5-.2M140.5 412.2l.9-.4l1.1-.1l.8-.3M140.8 366.5l0-1.4M140.5 389.3l.2 1.4l.5 .7l.9 .4l.6 .9l.4 .8l.8 .4l.9 .4l-.2 1.6l0 1.7l0 1.7l0 1.4l-.1 1.3l-.2 .9l.7 .7l.7 .2l-1 .4l-1.2 0M140.2 402l.2 1.1M141 322.4l.5 .4M140.7 390.6l0 .1l.4 .7l.8 .4l.7 .6l.3 .9M141.2 407.8l.5 1l.4 .9M140.2 360.3l.7-.6l.5-.7l.4-.7l.4 .1l.6 .8l.2 .7l-.1 .2l-.5 .1l-.6 .1l-.9-.6M140.4 357.1l.7 .5l.7 .7M141.1 355l1.4 .1l1-.1l1.5-.1l-.3-.9l-.4-1l-.9-.4l-.5-.1l-.2-.7l-.3-.9l-.3-1.1M141.4 324.9l.7-.6l.8-.6l.7-1l1-.3M140.3 143.5l.3-.1l.1 .7l0 1.4l-.1 1.3l.2 .7l.4 .2l.4-.1l.4-.1l.6 .1l.8 .5l.5 1.1l.4 .7l.2 .2l.2-.2l.5 0l.8 .1l.9 0l.6 0l.3 .2l-.5 .2l-.2 .7l0 .7l-.2 .6l-.5 1l-.4 1.5l0 1.3l.6 .6l.4 .5l.1 .5l.3 .5l.5 .4l-.1-.5l-.1-.4l0-.3l.3-.4l.4-.8l.3-1l.4-.4l.6-.4l.3-.7l-.2-.4l-.2 0l.2-.1l.5-1l.6-1.5l.6-1.4l.4-.7l.2-.3l.3-.3l.2-.3l.3 0l.4 .1l-.1 .2l-.1-.2l.1-1l0-1.2l-.4-.6l-.2-.2l-.1-.8l.4-1.4l.5-1l.2-.6l-.1-.9l-.2-.9l-.1-.6l-.3 0l-.3 0l.1-.7l-.4 .9l-.4 .5l-.4 .1l-.2 .1l-.2 .3l-.3 .5l-.6 .2l-.9 .1l-1 .4l-.2-.5l-.6-.3l-.7 0l-.7 .1l-.3-.2l.3-1.1l.4-1.4l.2-.9l-.1-.2l-.1-.3l0-.6l-.5 .6l-.6 .3l-.6 0l.1 .2l-.1 1.4l-.1 1.8l.2 .9l.4 0l.4 0l.3 .5l.3 .7l.5 .4l.1 .5l0 .7l.3 .6l.6 .5l.6 .8l.3 1.2l.2 1.2l.4 .6l.3 .4l.3 .2l.3 0l.4 .3l0 1.2l-.3 1.6M140.3 143.5l.2-.5l.6-.8l.9-.6l.9-.4l.4-.8l.2-.8l-.1-.7l-.2-.5l0-.2l.2-.3l.4-.6l.5-.6l.5-.1M141.7 457.5l.2-.6l.1-.4l.3-.6M141.7 457.5l.5 1.6l0 1l-.2 1.1l.1 1.4l.2 1.1l0 .4l.3 .9l1.5 .8l.9 .4l.5-.2l.9-.1l1.1-.1l.3 0l.7-.1l.8-.9l.7-.3l.4-.6l.2-.8l0-.7l.1-.6l1-.6M140.2 331.9l.8 0l.7-.5l.8-1.2l1.2-.8l1.5-.5l1.3-.6M141.7 366.9l.4 .6M141.8 323.3l.9-.2l.9-.4M141.5 372.6l1-.1l1.1-.5l-.4 .2l-.2 .1M140.8 390.4l1.1 .3l1.5 .5l.8 .4l1 0l1.3 .5l1.2 .7l1 .5l.3 1.1l.6 1.2l.2 .7l.2 .6l.4-.1l-.9 .2l.1 .3l.9 .9l.5 .7l.6 .4l.6 .7l1.2 .2l1.3 0l.9 .1l1.4-.6l.8-.6l-.2-.8l-.6-.7l-.7-.5l.5-1.1l.7-1l.8-.7l.8-.6l.8-.6l.6-1.1l-.9 .9l-1.1 .5l-1.1 .7l-1.1 1.1l-.7 .2l-.4 .5l-.2-.3M142 353.2l.5-.1l.4-.6M140.7 362.4l.3 .3l.7 .4l1-.2l.9-.3l-.1-.5l-.4-.1l-.1-.5l.1-.6l-.2-.8M140.7 362.2l.9-.9l.7 .4l.8 .3M141 171.1l.2 .5l.4 .3l.6-.2l.6-.3l-.3 .3l-.2 .3l-.8-.3l-.5-.6M142 456.5l.2-.5l.3-.8l.5-1l.7-1M142.3 373.6l.7 .4l.7 .7M142.6 370.7l.6 .3l1 .1M141.4 380l.4 .9l.5 .6M142 462.3l1.2 1.2l.9 .2l1.1 .9l.6 .7l.6 .6M142.2 406.6l.4 .3l.5 .1M142.4 398.8l.9-.2l.7-.3l.6-.9M142.2 358.4l1-.4l.6-.6l-.3-1.1l-.4-1.2M142.3 339.7l.7 .1l1.2 0l1.2-.1l1.4 0l.5-1.1l.8 .1M142 364.3l-.3-1.2M142.9 323.7l.6 .2l.6 .6M141.8 360.3l-.2 1M142.7 408.7l.2-.9l.3-1.1M142.6 317.3l.4 1.1l.4 1l.6 .2l.3-.4l.4 .8l.1 1l-.5 0l-.5 .2l-.2 .3M142.1 404.2l.8-.3M142.2 375.7l.4 .9l.4 1l.5 1l.9 .9l.1 0l1.8-.2l.9-.1l1.1 .8l.8 .2l1-.1l.9 0l0-.8l-.1-1l-.2-1.1l.5-.8l.4-1l-.3-.8l-.3-.7l.5-1.1l.5-1.1l-.4-.8l-.4-.6l-.5 1.1l-.9 1.2l-.8-.4l-.5-.7l-.1-.7l-.2 .5l-.5 .1l.5 0l.2-.5l.5-.9l1.2-.8l.4-.3l1.2-.5l1.5 .2l1.2-.4l.8-.7l.7 .1l.5 .4l.4-.4l.5-.6l.4-.8l.6-.9l.6-1l.7-1.1l-.5-.9l-.4-1.5l.1-1.2l0-.9l-.3-.7l-.7-.9l-.6-1l-.4-.9l.4 1l.7 1.1l.7 .9l.2 .8l1 0l1.1 .1l1.2 0l.7-.3l.5-.5l-.4-1.6l-.3-1.2l-.1-.7l-.1-.8l.1-1.1l.3-1.3l-1.3-.1l-1 .9l-1.1 .7l-.7 .7l-.8 .7l-1.1 .7l-.9 .8l-.8 0l-.6-.9l-.8-.4l-1.7-.4l-1.9-.5l-.9 .6l-.9 .1l.4 1.5l.3 1.2l.3 1.2l.8 .3l.3 1l-.1 .8l.6-.1l1.5-.1l1.2-.5l.1 0l.6 .6l-.1 1.2l-.1 1.3l-.1 1.2l-.1 1.2l-.6 .2l-1.1-.3l-.8 .2l-.7 .3l0 1.1l.2 .9l-1.1 .8l-.8-.5l-.6-.4l-.1-1.1l-.8 0l-.8-.1l-.3 .8l-.3 .5l.3 .9l.4 .7l.8 0l.5-.3l.2 .9l.1 1M143.2 372.2l1 .3l.8 .6l.8 .8M142.7 364.5l.8-.5l.5-.3l.2 1.4l.5 .6l.5 .6l.4-1.1l.4-1.3l-1.1-.2l-.8-.4l-.1 .4M142.5 342.4l.6 1.2l.6 .6l.4 .4l0 1.3l.1 1.6M142.5 402l.9 .2l1 .4l-.8-.4l-.8-.2M143.8 321.2l-.2-.8l-.2-1M143.7 422.8l.3 .1l.4 .8l.5 1.4l.5 1.9l.3 1l.6 .9l.4 1.5l-.2 .8l-.3 .6l-.5 .5l-.7 .5M143.4 440.2l1-.4l.6-.6l.6-.8l.8-.5l.9-.3l1.2 .5l1.1 1.4l.8 0l1-.5l1.3 .3l.7 .2l.1-.1l.6 .8l1 1.2l-.3 1l-.4 1.2l-.5 1.1l-.8 1.1l.2-.1l-.6 .3l-.6 .9l-.5 .9l-.4 .8l-.3 .6l.3 .4l.8 1l1.1 .6l1.2 .2l1.1-.9l-.2-1.1l0-.7l.1-.7l.2-.7l.2-1.1l.8 .8l1.4 .4l1.4 .5l-.4-.1l-1.6-.6l-1.2-.5l-.8-.9l-.9-.3l-1.1 .2l.9-.1l.8-.1l.7 .7M143.4 440.2l1.2-.6l.8-.9l.8-.7l1-.4l1.3 .5l1.1 1.4l.7 0l1-.5l1.3 .3l.8 .2l.4-.5l-.1-.7l-.4-1l-.8-1.2l-.5-.9l-.1-1.1l.1-1.5l-.3-1.3l.6-.4l1.4 0l1-.2l-.3-.9l.1 .2l.8 .5l.9 .1l1.3 .4l1.1 .8l.8 .2l.7 0l0 2.2l-.3 1.7l-.2 1.1l-.9-.6l-1.3-1.4l-.9-.3l.2 .5l-.1 1l0 1.1l.5 .6l.6 .1l1.1 .4l1.4 1.4l.5 .9l.3-.1l.1-.8l0-.9l-.4-.9l-.7-.6l-1.3 .3l-1.3 .3l1.4 .4l1.4 1.4l.5 .9l1-.3l-.4 1l-.3 1.1l-.3 1l-.1 1.1l.9 0l1.3 .1l1.6 .7l.9-1l.7-1l.4 .2l.6 .2l.8 .6l.7 .6l-.5 .3l.6-.4l.5-.4l.7 .4l.7 .6l-.8 .4l-.7 .5l.7 1.5l.6 1.3l1.3-.7l.7-.3l.9 .2l.5 1.4l.1 .9l.6-.2l.4-.1l0-1.3l.1-1.2l-.1-.4l-.2-.5l-.1 0l-.9-1l-.8-.7l-.4 .5l-.3 .7l-.6-.8l.1-1l0-.9l-.7-.1l-.8 .2l.3-.8l.1-1l-.6-.4l-.7-.9l.6 .8l.4 .4l.2-1.1l.6-.5l.1-.2l.7-.2l.7-.3l.1-.1l1.3-.7l-.2-.9l-.7 .2l-.1-1.1l.5-.5l.9 .5l.3-.1l.1 0l0-1.2l.3-.2l.9 1.1l-.2 .6l.1 .9l-.3 .5l-.1-.1l-.8-1.6M143.7 440.7l.6 1.1l.4 1.2M143.5 375.1l1.1 .8l.8 .7l-.3 1.3l.1 1.1l-.8 .5M143 359.9l.4-.6l.5-.6l.2 .2l.7-.2l.9-.3l.3-1.5l.4-1.6l.2-1.2l.7-.2l1 .6M143.6 366.8l.3-.9l.3-.8M143.8 357.4l.1 .5l0 .8M144.6 324.5l.6-.3l-.1-.8l-.2-.8M143.8 461.9l.4 .4l.7-.2l1.4 .6l1.2 .3l.9-1.5l.5-.9l-.1-.3l-.4-.2l0-1.1l0-1.1l.2-1.3l-.8-1M144.7 371.7l.7-.4l.6-.3l.9 .1l-.5-.6l-.5-.6l.5-.2l.4-.4M145.2 324.2l1-.3l.1 .7l-.3 .6l-.6 .4M143.6 362.6l.5 .7M143.1 360.9l.8 .1l1.1-.2l-.6-.6l-.3-1.3M144 461.2l.7 0l1.1-.4l1.5-.4l1.1-.3M143.5 362.1l.7-.2l.7-.1l.2-.4l.3-.5l1.2-.8l.6-.8l.6-.7l-1 0l-1.1-.2M144.8 321l.6 .7M144.3 353l1.2-.2l.9-.6l.6-.6M144.8 422.8l.8-.3l1.2-.3l1.6-.1l.7-.5l.2-.8l.4-.7l.7 .2l.9 .1l1.2 .4l.8 .4l1 1.2l-.9-1.2l-.8-.3l-1-.4l.4 .5l.6 1l.3 1l.4 1.5l.3 1.7l.2 1.2l.4 .6l.6 .9l-.2-.3l-.6-.8l-.3-.7l-.2-1.6l-.4-1.7l-.4-1.3l-.3-1l-.8-1l-1.1-.2l-.8-.2l.4-1.2l.4-1.4l.5-1.4l.5-1.2l.2 1l.6 1l.7 1l.5 .5l-.5 .4l-.8 .5l-.9 1.1M144.6 368.3l.4-.8l.5-.4l.6 .6M145 354.9l.2 0M144.1 344.6l1.1 .2l1.9 .4l1.2-.3l.7 0l1.1 .6l.4-.6M144.6 327.7l1.9 .6l.9-.1l.2-1l-.2-1.2l-.5-.6l-.5-.8l.2-.8M145 414l.5-.7l.4-.3l.6-.5l1-.7l.5 0l1.1-.8l1-1.1l.6-1.2l.5-.9M144.6 405.2l1.3-.4l.9-1.1l-1.1 .1M145 439.2l.5 .8l.4 .5l1.1 .9l.9 .5l.5 .1l.4 1.5l.1 1.9M144.3 319.2l.3-.8l.7-.4M144.3 452.5l1-.1l.8-.6l1.2 0l.8-.4l.7-.7l.3-1.1l1-.5l.8 .1M145 369.2l.9 .7M144.7 320l1 .4M145.5 387.6l.3-1l.3-.9l.3-1l.4-1.1l-.9-.6l-.8-.6l-.3-1.1M145.4 376.6l.7-.6l.3-1.1l.3-1l-.1-.3M146.2 323.9l.1-.9M144.4 433.4l1.4-.2l1.2-.1l1.1 .2l.9-.5l1-1.2l1.7-.3M145.2 379l1.2-.7l1-.5l.9 .1l.4 1.1l.6 .8l.8 .3M146.2 354.3l.4-.2M145.9 371l.8 0l1 .4l-.8-.3M145.2 399.9l.2 1.4l.2 1.2l.3 .7l.5 .6l.6 0l.8 .2l.6 .4l1 .4l-.4 .6M145.2 399.9l.2 1.4l.2 1.1l.3 .7l.5 .7M145.2 399.9l.6-1.3l.9-.6l1-.2l.8-.5l1-.3M145.2 399.9l.6-1.4l1-.5l1.1-.3l.9-.5l1.2-.3l-.3-1.1l0-1.3l.3-1.4M144.9 361.8l.6 .9l.6 .9l-.1 .3M145.5 417.8l1.3 .4l.6-.1l.8-.6l1.4 .3l.9-.2M145 360.8l.4 .1M146.1 376l.8-.1l1.2 .3l-.2-.6l-.2-.7l.9-.3l-.5-.7l-.3-1l-.8-.7M146.7 373.9l.3 .3l.7 .7M145.6 402.5l.5-1.4l.9-1l1.2-.5l.9-.3l.4 1l.4 1.1l.7 1.4l-.2 .7l-.1 .9l-.2 1l.5 .6l.5 .5l.9 1l.6 1.3l.4 1l.8 .2l.6-.7l.5-.8l.6-.9l.6-.8l.8-.6l1.5 .2l1.1-.4l1.1-1l.8 .4l.5 .3l.4-1l.6-1.3l.7-1.6l-.5-.6l-.8-.7l-1.1-.3l-.7-.4l.3-1.2l.3-1.2l.1-.9l0-.9l0-1l.1-1.2l.1-1.4l.7 .7l1.1 .8l1.1 .7l.4 .9l.7 .5l1.2 .4l.9 .8l.7 .9l-.6-.7l-.7-.8l1.2-.3l.5-1.1l1-.4l1.3 .3l.8 .1l.9-.2l1.1-.9l1.1 0l1 .7l1.1 1.2l.7 1.4l.4 1.2l1.1 .7l-.7 .5l-.8 .5l-.7 .4l-1.4 .2l-.9 .8l-1.1 .6l-1.4-.4l-.7-.3l-.7-.2l-1.3 .1l-.4 1l-.6 .9l-.8 .5l-.6 .6l.4 1.2l.1 1.3l.5 1l.6 .8l.5 .9l-.7-1.2l-.8-1.1l-.2-1.5l-.4-1.4l.7-.6l.7-.6l-1.5-.2l-1.2-.8l-1-.6l-.8-.2l-.6 1.4l-.6 1.3l-.5 1l-.3 .9l-.2 0l.2 .9l.7 .7l.7 .8l.5 1l1 .4l1.4 .5l.6-.1l.9-.3l1.3 .1l-.4 1l-.7 1.4l-.9 1.6l-1.2 1.1l-1.1 .4l-.7 .4l.4 .5l.5 .9l0 1.4l.7 .5l1.2-.2l1.7-.6l.9-.8l1.3-.5l.6-.9l.8-.2l.2-1.1l.2-.9l.3-.8l1.1 .4l.5 1.3l.8 1.2l.9 1l.6 .6l1 .6l-.9 .5l-.7 .7l-.8 .4l-.9 .5l-.5 1l-.7 .7l-1 .1l-1.2 .7l-1.1 .7l-1 .6l-.6 .6l-.5 .6l-.9-.1l-.9 0l-.7 .6l.1 .7l.5 1.1l.4 1.3l.2 .9l.7 .8l.6 1.2l.3 1.2l.5 .5l1.2 .6l-1.1-.6l-.6-.4l-.3-1.4l-.4-.8l-.8 .7l-.5 .9l-.4 1l-.3 .9l-.6-.1l-1.1-.7l-.6 0l-.3-.9l-.4-1.1l-.4-1.1l-.5-.3l-.8 .9l-.6 1.1M145.6 427.9l.8-.6l1.6 0l1.7-.1l1-1.2l.7-1.2l.3-1.1l.2-1.2l.1-1.5M146.3 324.6l.1 0M144.8 410.4l1.3 .7l.7 .5l.7 .2M145.2 366.3l.3 .8M146.7 444.7l.5 .7l.5 1l.6 1.9l.2 1l.6 .3M145.1 467.9l1.3 1.5l1 .4l.7 .3l.6 .5l.5 .4l1.3-.4l1.5 .3l1.4 .5l.3-.6l.2-1.2l.4-1.4l.9-.8l.3-.1l-1.2 0l-1.4-.4l-.9-.5l-.4-.5l-.7-1l-.5 .4l-.4 .1l-.7 .1l-.8 .2M145.1 467.9l1.1 0l1.2-.3l1.1-1l1-.9l0 .9l.1 1.2l-.9 1l-.6 1.3M146.3 321.8M147 403.8l.9 .2l.7 .5l1.2 .6l.7 .9l.9 .8l1 1.4l.5 1.4l.9 .4l.6-.8l.5-.8l.5-.7l.5-.7l.7-.6l-.9-.4l-.7-.2l-.1-1l0-1.2l-.2-1.2l-1.2-.6l-1.1 0l-.5 .9l-.5 .3l-.8-.2M146.4 319.9l.1 0l.2 .6l.1 .8M147.4 328.2l.7 .5l.7 .5l.4-.5l-.1-.4l-.2-.6l-.3-1.4l-.2-1.1l-.1-.8l-.6-.8M147.4 326l.5-.7l.4-.9M147.5 463l0 .5l0 .9l.3 1.4M146.1 363.6l.1 0l.7-1.6l1.2-.9l1.3 .1l.3 .9l.6 .8l-.6 .6l-.9 .4l-1.3-.2l-.9 .2l0 1.2l.1 1.3M146.6 360.1l.7 .4l.8 .6M147 379.2l.6 .3l.7 .5l1.1 .2l1.1-.1l1.2-.1l1.1-.7l.3-1.5l.4 .1l.3 1l0 1l-.2 1.1l.2 .4l-.6 1.5l-.7 1.5l.9 .2l1 .1l.8 .5l.7 .1l.5-.6l-.1-1.2l-.2-1.1l-.3-1l.5-.9l1.2-.4l1.4-.7l1-.7l1.4-.2l-1-.5l-1.2-.5l-.5-.4l-.1-.3l-.1-.7l-.1-1l-.2-1.2l-.1-1.2l-.2-1l-.5 .6l-.8 .6l-.8 .8l-.8 .9l1.2 .2l.8 .7l.9 1l.7 .3M146.2 363.6l.4 .3M147.8 372.9l.5-.3l.2-1.1M146.8 383.6l1.3-.2l1.2 .2l.1 1l.1 1.2l0 1.3l0-1.2l0-1.1l-.2-1l-.1-.9l-.1-.7l0-.7l1.2 .1l1.9 0l1.4-.6M147.3 336.8l.3-1.2l.7-.9l.8-.7l.5-.9l.1-1.3l-.1-1.4l0-1.2l1 1l1 .9l.3 .9l.5 1.7l.7 .6l.7 .1l0 .2M147.1 350.7l1.2-.7l1.3-.9l1 .8l1.1 .8l.5 .5l-.4 .8l-.7 .8l-.8 1l2 .6l1.5 .3l.7 .5l.8 .9l-.2-1.5l-.2-1.3l-.3-.9l-.6-.8l.6-1.2l1.2-1l1.1 .2l.9 .3l.5-.3l.7-1l1-.8l1-.7l.8-.7l.5-.6l.6 1.1l1.2 .5l.9-.6l1.4 .4l1.3 .7l.5 .2l.8 1.1l1.3 .8l-1.2 0l-1.3 .1l-1.2 .5l-1.2 .9l-.9 .8l-1.2-.5l-1.5-.5l-1.1 .8l-1.1 .8l-.8 .8l-.8 .7l-1.2 .8M148.1 376.2l.4 .4l.8 0l.6-.3l.3 .4l.5 .5M147.3 451.8l.9 1.1l.4 1.1M147.8 358.6l.8-.1l.7-.1M148.5 376.6l-.1 .6l-.1 .7M148.6 374.6l1.4-.4l.2-.3l.8 0M148.1 369l.3-1.4M148.4 442l.5-.8l.8-.1l.8-.1l.5-.8l.3-1.2M148 411.8l.6 1.2l.4 1l.8 .6l.8 1.1l.1 1.2M148.4 370.8l.3-.7l.8-.5l1-.7l.9-.4l1 0l1.1 .1l.9-.5l.8-.6l.9 .3l.7 .6l.7 .5l.4 1l.5 .9l.2 1.1l-.8-.3l1 .4l1.5 1l-1.3-.8l.5-.9l.5-1.1l.3-1.2l.1-1.3l.2-1.2l.4-.8l.8-.5l.8 .2l.6 0l.8 .5l1 .1l.8-.5l.4-.4l.3-.3l.3-.1l1.1 .2l.7-.4l.3-.9l.4-1l.7-.6l1.3 .6l1.7 .5l.9 .9l-.5 .4l-.6-.1l-.5 .1l-.1-.2l-1.2-.3l-1.3 0l-.9 .8l-.9 .2M148.9 354.6l.6-.5l.8-.3M148.9 460.6l.2 0l.4-.4l.4-.5l.9-.5M149.7 427.2l.1 .9l.3 .8l.8 1l.7 .6l.7 .4M148.6 456.6l1.2 .9l.8 .1l.9 .1M149.9 376.3l.1-1.1l0-1M149.3 464.8l.1-1.1l.1-1.2l-.1-1.1l-.3-.8M148.8 389.4l.3 .9l.6 .6l.4 .8l-.1 1.2l-.3 1.4l-.1 1.3M149.4 404.8l.4 .3l.3 .3M149.1 399.3l.1-.6l.1-.7l.3-.7M148.3 366.5l.8-.7l.9-.5l-.4-.6l-.8-.8M149.8 406l.5 .5l.4 .2l.4 .8l.3 1l.1 1.1l0 .7l.6 .7l.5 1.1l0 1.5l-.6 .6l-.5 .7M149.4 361.2l.9-.7M149.5 465.7l.9-.4l.5-.4l.6 .8l.3 .1l.1-1.7l-.7-.7l-.6-.3M150.2 373.9l-.4-1.3M149.9 391.1l1.3 0l.7-.1l.5 .1l.9-.3M149.6 349.1l.3-.8l.2-.8l0-.9l0-1.1M150.1 358.7l.7-.9l1-.6l1.1 .1l.1 1.2l.4 .7l.2 .6M149.4 461.4l.7 .7l.6-.3M149.4 380.2l-.2 .7l-.1 .6M149.4 380.2l-.2 .8l-.1 .7l.1 .9l.1 1M149.5 384.8l.5-.1l.5 .2l.9 .2l1.1-.7M149.6 467.8l1.5 .9l.4 0l.3-.3l1.1 .2l1.1-.6l1.2-.6M150 136.7l-.5-.2l-.1-.4l.1-.8l.4-1.2l.4-1.2l.6-1l.3-1l-.2-.9l.5-.3l.3-.2l.2-.1l0-.2l.1-.3l.2 .2l0 1.1l.2 1.2l.3 .8l.3 .5l-.3 .9l-.4 1.6l-.2 1.1l0 .4l0 .3l-.1 1l-.6-.5l-.8-.6l-.7-.2M149.6 388.6l1.1 .2l1.3 .3l.8 .7l.2-1.1l.4-1.2M150 365.3l.7 .4M150.3 362.9l1.5-.3l.7-.9l.6-1l.6-.9M150.4 396.8l.8-.2l.6-.2l1 .7l1.2 .9l.7 .8l.5-.7l1.1-1M150.4 396.8l1.3-.3l1.4 .1l1.4 .1l.7-.8M150 446.4l1.4 0l1.3-.4M150 446.4l1.5 0l1.6-.6M151.1 406.5l1.3 .3l.9 .1l.4-.5l.5-.4l.8-.2M149.8 368.5l.3 .7M151 380.1l1-.2l.8-.6l.2-1l.1-1l.2-1l.4-.6l.6-.6l1.1-1l1-1.1l-1.5 .2l-1.2-.4l-1.1-.6l-.2 1.2l-.1 1.6l.1 .8l.2 .8l.5 .7M151.1 339.3l0-.1l1.2-.4l1.1-.1l.9-.1l.9-.2l.9-.1l1-.3l-.4-.8M151.1 339.3l1.3-.6M151.6 375.4l.7-.4M151.1 339.2l.2-.5l0-.7M151.2 370.3l0-1.1l.2-.7M151.8 362.6l.2 1.1l.2 1.5M150.9 367.7l1.3 .2l1.1 .3l1.1 0M152.2 351.2l.3 .1l.5 .2l1 .1M151.5 410.3l1.2 .1l1.2-.2l1-.6l1.1 .6l.7 .4l.6 .7l.4 .9l1.5 .2l1.8 .1l.4 1l.7 1l1 1.1l.7 .5l.8 .3l-.3-.4l-.3-.4l.7-.5l1.2-.4l1.2-1.1l.9-1.6l.6-1.3l.4-1l.5 .7l.5 .6l.9 .9l.8 .9l1.1 .1M151.8 396.4l1.2 .1l1.2 .2l.8-.5l.5-.7l.8-.3l.2-.3l.7-1.4l.7-1.4l.6-1.2l.2-1l.4-.5l.9 0l.6-.3l.7-.7l-.4-1l-.5-.6l-.9-.4l-.9-.6l-.3 .1l-.6 .6l-.2 .6l-.3 .6l.3 .7l.7 .5l.9 .5M151.1 344.7l.9 .8l1.2 .8l.7 .1l.7-.9l1 0l1.4-.1l1.5-.8l1.7-.4l1 .4l1 .5l.2-.7l.4-.6l.6-.9l.7-1.2l.7-1.5l-1.5-.3l-1.1-.5l-.9-.8l-1-1.2l-.6-.6l-.6 .4l-1 .4l-1 .4M152 371.7l.6 .5M151.4 385.1l.3 1.3l.6 1M151.8 465.8l.2 .1l.8-.7l1.2-.5M151.9 464.1l1-.3l1.1-.6M152.1 461.1l1.5-.4l1-.6M153.3 458.3l.6-.7l.3-.8l.6-.9M152.9 357.3l.6-.7l.6-.7l.4-.8M153.2 337l.5 .6l.6 1l.7-.7l.9-.5M152.4 368.5l1.3 .8l1.2 .4l.5 .5l.6 1.2l1.3 .9l.5-.7l0 .1M153.1 377.8l.1-1.3l.4-.7l.7-.7l.6-.5M152.2 400l0 .9l.2 .9M152.8 389.8l.5 .8M153.5 377.9l1-.6l.7 0l.9-.1l1.6 .1l.9-.2M153.8 381.4l.5-.1l.9 .1l.6 0M152.4 128.8l.4-.8l.3-.3l.2 .2l-.1 .1l.2-1l.9-.2l.6-.4l.5-.1l.7 .4l.1 .3l.4 .1l.3 .3l-.2 .5l-.5 .3l-.8 .7l-.7 1l-.5 .9l-.4 .6l-.1 .3l-.4-.7l-.3-.8l-.4-.8l-.2-.6M153.3 387.3l1-1.1l.9-1M153.5 439.4l.6-.7l.8-.4l1-.2l.7-.8l.4 .5l.4 .2M154.4 429.8l.4-.9M154.3 422.4l.5-.2l0-.4l.2-.4l1.1 .5l1.7 .3l1.2 .2l1.4 .6l.1 .6l1 1.1l.6 .2l1.2 .2l1.1 .9l.9-.2l0-.1l-.2-.9l-.2-1.1l-.3-1.2l-.2-1.2l.1-1.2l.3-1.4l-.3-.1l-.6-.2l-1.7-.2l-1.1 .4l-.9 .2l-1.3 .3l-1.5 .8l-1.4 1l-1 .5M154.3 422.4l.5-.3l.1-.6l.7-.4l1.4-.9l-.6-.3l-.5-.7l-1.5-.9l-.9 .1M154.5 430l.2 1.1l.2 .7l.8 1l.6 1.2l.2 .7M154.3 338.6M153.8 334.4l1.2 .6l1.5 1l.5-.2M154.6 428.6l1.6 0l.7-.3l.4-.2l.7-.5l.2-1.2l.5-1.3l.8-.9l1-.6M153.8 439l.6-.5l.8-.2l.8-.3l.6-.7M154.1 463.2l.9-.7l.8-.5l.8-.6M154.7 430.7l.1 .8l.6 .9l.8 1.2l.3 .9l.2 .7M154.3 360.4l1.5 1l1.2 .2l.6-.6l1.1-.2M154.9 409.6l0-.5l0-.6M154.3 340.5l.5-.3l1.8 .8l1.5-.1l1 .2l.4-1.4l.2-1.1l0-.9l-.3-.7M153.9 346.4l-.3 1l0 1.1l.4 1.1l.6 .8M154.1 452.2l.2-.8M154.3 389.5l1.4 0l1.6 .3l1.4 .1M154.7 402.4l.8-.3l1 .1l1 0l.9-.6l0-1.1l0-1l.6-.3l.8 .4l.7 .2M154.6 139.5l.4 .7l.4 .9l.9 .6l.7 .4l-.3-.8l-.6-.4l-.8-.7l-.7-.7M153.9 365.3l.8 .9l1.3 .9l.7 .7l.4-.6l.5-.7l.6-1l.6-1.1l.8-1.2l-.4-.7l-.4-1.1l-.1-1.3l.1-1.1M154.7 398.8l-.1 .8l.1 .6M155.1 441.4l1 .1l1.2-.1l.4-1.2l.3-1.3l.8-.5M154.8 340.2l.3-.7l.5-.6l.4-.6M155.1 134.2l.2-.8l-.1-.8l-.3-.6l.6-.1l.7 .2l.9 .4l-.3 .9l-.6 1.1l-.4 .6l-.2-.1l-.2-.3l-.3-.5M155.3 356.1l.7-.2l.8-.7M155.5 402.1l.1-1l0-.8M155.9 385.3l.6 1.3l.6 1l.1 .1M155.4 450.5l1.3-.3l.8 .4l.8 .2l1.6 .7l-.3 1.2l-.3 1l-.1 .7l.1 .8l-.5 .5l-1 .1l-1.4 .5M156 387.7l1.1-.1M156.4 384.7l.7 .2l.5 .4l.7 .6M156.4 373l.9-.7M155.9 419.2l.7-1.1l.5-1l.3-1.2l.1-1.2l0-1.3l.2-1.2M156.4 368l.3-.2M156.4 368l.5 .5l.6 .4M156.6 406.4l.3-.2l1.8 .2l1.3-.8l1-.6l.7 .7M157.3 441.4l.8 1.2l.3 1.4l0 .8l.8 .8l-.1 1.2l-.2 1M156.5 394.9l.9-.9l1-.6l.9-.4l.8-.5l.7-1l-.3 .5M157.8 458.3l1.4 .2l1.2 1l.5-.1l-.1 .9l-.3 1l-.9 .9l-1.1 1.1l-.6 .2M157 420.2l1.1-.8l1.2-.4l.9-.2l.8-.1l.7-.4l1.3-.1l1.3 .3l.5 .2l-.2 1.1l-.2 1.1l.1 1l.2 .9l.2 1l1.1-.4l.9 0l.5-.8l1.1-1.3l-.1-1l.1-1.1l0-1.1M157.8 371.6l.6 .2l.6 .4M157.8 399.1l.3 .2l.3 .2M159.1 341.1l.3 1.5l.4 1l.4 .6M158 427.6l1 0l1.3-.6l1.8 .6l.9-.8l.7-.5l.7-.3M158.4 401.6l.4 1.8l.3 1.5l.4 1.1M158.5 463.3l.9-.9l.9-.8l.4-.9l.2-.8l0-.8l1.5 .9l1.2 .4l.9-.1l1.6 1.3l.8-.6l.3-1l-.4-1.8l-.4-1.3l-.4-.7l-.6-.6l-.7-1.1l-.6 .2l-.5 .1l-.4-.7l-.8-1.2l-1.1-.6l-.9-.9l-.8-1.2l-.6-.8l.3-.7l0-.8l.6-.5l.5-.5l.4-.3l.5-.6l1.1 .2l1.4 .5l1.1-.8l1.5-.9l1.6 .3l-1.4-.3l-1.4 .6l-1 1l.1-.5l.1-.7M158.5 463.3l1.5 .6l1.1 .9l.4 .3l.9 1l1 .3l.5-.6l.8-1l1.2-.5l1.4-.2l1.1-.2l1-.1l.6-.3l.5-.7l.7-.3l1.2 .8l.7-.1l.4-1.1l1.2-.8l-.4-.9l1.3-.8l1.3-.2l1.4 .2l.9 .1l.2 0l.5 .1l.9 .8l.9 .7l1.1 .3l1-.3l1-.1l-.3-.8l-.4-.8l-.3-.8l.8-1.1l.9-1.2l-.4-.9l0-.9l.4-1l.4-1.4l.3-.5l-1.3-.5l-1.5 .4l-1.3 0l-1.1-.4l-.5-.2l-.8-1l.8 1l.6 .3l-.1-.7l.1-.5l.1-.7l-.8-.4l-1.3-.7l-.2-.7l0-.9l.1-1.2l0 1.2l-.1 .9l.1 .6l.3 .7l-1 0l-1 .9l-1.2 .5l-.7 .5l.4 .6l.3 .3l.6 .5l-.9 .7l-1.3 .7l-2.1 .1l-.7 .6l-.5 .7l1.2 .1l1.2-.2l1.4 .6l.7-.6l.7-.9l.5-.8l.5-.7l.6-.8l.7-.9l.8-.7l.2-.1l-.4-1.1M158.9 364.3l.8 .1l.9 .4l1.2 .4M158.6 385.8l.3-1.3l.3-1.4l.4-1.2l.6-1l.8-1l.9-1.1l-.6-.3M159 449.4l.9 1.3l1.1 1.4l.8 .4l1 .9l.4 .9l.4 .5l-.4 1l-.5 1l-.7 .9l-.7 .8l-.4 .6M159.2 445.6l.8-.5l.6-.5M158.3 349.6l.1 1.1l.5 1.2l.7 1M159.6 437l.5 .2l-.1 .2M159.3 455.2l1 1l.9 1.2l.7 .3l.8-.9l.5-1l.4-1l.9-.2l1.1-.7l1.4-.7l.1-.1l1.1-.1l.9 .6l.4 .7l0 .8l.4 1.1l.6 1.5l.5 1.6l.2 .2l.5 0l.4-.4l.9-.2l1.4-.1l.3-1.5l.3-1.7l-1.7-.6l-1.5 .2l-1.5-.4l-.8-.5M160.3 373l1.1 .5l.5 .2l.5 .2l.9 .1l.6-.5l.6-.4l.2-.8l.4-.9l.5-.9l.5-1.2l.3-1.3l.8 0l.7 0l1.5 .9l.7-.6l.6-1.1l.3 .5l.6 1.1l1 .7l.7 .1l.6 .5l.5 .5l.2 .1l1 .9l.8 .6l1.7 .2l-1.7-.3l-.9-.6l-1.1-.9l-.7-.7l-.6-.1l-.9 0l-1.1 .2l-.7 .3l-.5 .3l-.3 0l-1 .1l-.8 .3l-.6 .9l-.9 .4l-1 .3l.7 .9l.9 1.2l.7 .7l.5 .7l.8 .6l-1.1 1l-1.1 .6l-.7 .6l-.3 .8l-.7 .9l-1.4 .6l.1 1.1l.2 .9l.3 .8l.1 .8l-.1-.9l-.4-.9l-.2-1.1l0-1.1l-.1-1.1l-.1-1.2l-.9 .1l-.6 .2M160.3 373l1.2 .5l.5 .3l1.3 .2l.7-.5l.5-.5l.8-.4M160.1 437.2l1.2-.6l1.1-.5l.5 .2l.5 .3l.7 .8l.6 .7l.2-.9l.4-.5l.7-.4l.9-.6l-.4-.6l-.2-.5l.6-.3l.8-.2l0-.5l.4-.7M160.4 446.9l.6-.5l.5-.5l1.3 .5l1.4 .2M159.9 451.5l.5-.1M160.4 423l.9-.8l.4-1l.4-1.2l.9-.8l.9-.8M160.8 391.5l.6 .5M160.8 391.5l.7 .6l.7 .8l1.2 .7l1 .8l.2-1.1l-.1-1l-.3-1.2l-.4-1.3l-.3-1.4l.3 1.3l.3 1.4l.4 1.2l.1 1l-.2 1.1l.4 .8l.9 .5l1.2 .5M161 412.5l1.1-1l.9-.8l.6-.8l.2-.8M160.8 446.6l.3 .7l.5 1.4l.2 1l.5 .8l.8 1.6l.7 .1l.6-.7l.8-1.6l1.2-1.3l.4-1.2l-.1-1.2l1.2 .3l.6-.1l.5 0M160.9 459.4l.1-.6l.4-.5l.5-.6M161.3 388.4l1 .4l.9 .5l.6 .4M161 440.6l1.3-.3l1.3-.2l.8-.9l.4-1l-.1-.1M162.2 345.1l.1 .3l0 .4M161.7 440.4l1.4-.2l1 .8l.6 0l.8 0l.9-.4l.8 .3l.1-.6l.4 .1l.7 0l.1 1.2l.1 1l1 .7l.7 .2l.2-1.4l.7 .2l.8 1l.2 .6l.5 .4l0-.8l-.1-1.1l-.1 0l-1-.6l-.7 .3l.8 .6l.6 1.2l.6 .4l0 .5l0 .5M162.1 427.6l-.2 1.2l-.4 1.2M161.9 373.7l.4 1.2l.8 .6l.4 .6l0 1l-.1 1.4M161.9 373.7l.5 1.2l.8 .7l.3 .6l-.1 1.2l0 1.4l.1 1.3l.1 1.1M162.4 436.1l.3-1.4l.4-1.3M163.1 440.2l1.1-.7l.5-1.1l.8-.5l1.1 0l.8-.2l.8-.2l.1 1.3l.3 1.3l.5 .1l-.2-1.3l0-1.2l.2-1l.2-.6l.2-.6l-.9 .3l-1.2 .1l-.5-.2M162.8 453.4l.3-1.3M162 430.3l1.4 .1l1.5 .6l.9-.4l1.1-.6l-.4-.4l-.2-.8l-.3-1.2l-.5-1.1l-.2-.7M163.2 365.4l.4-1l.2-1.4l.1-1.6l.3-1.4l.6 .1l1 .2l1.5 0l1.4-.5l.9-1.7l1-1.1l1.2-.2l.8-.4l.4 1.5l.4 1l0 .9l0 .8l.2 1.1l1.1 .8l.7 .5l.4 1.2l-.9 0l-1-.2M163.2 366.4l1 0l.8-.4M163.2 366.4l1.4 0l1-.3l.5 0l.5 .1l-.4 .9l.2 .9M162.8 351.6l1.3 .7l.9-.3l.8-.9l1.1-.6l1.1-.5l1.1 0l1.1 .1l.8-.8l.6 .7l1.1 1.3l.8 .6l-1 .6l-.5 1l-.1 1.2l.4 .9l.3 .8M163.3 358.3l.6 .9l.3 .8M163.5 388.4l-.1-1.1l.1-1.1l.4-.9l.4-.5l-.7 .9l-.2 1.3l.1 1.4M164.8 340.2l.1 .1l.7 .5l.4 1.1l.7 1.4l.6 .5l.5 .2l.9 .9l.5 1l.1 1.4l.9 1.7l.8 .3l-.7 .7M164.6 416.4l.3 1l-.1 1.3l.1-.3M164.5 373.1l1-.6l1.4-.4l.9-1.1l.9-.4l1.1 0l.7-.4l1-.3l.3 1.3l.3 1l.2 .8l.1 1l-.2 1.2l-.2 1.5l.5 .5l.7 .4l.8 .4l1.6 0l1.4-.3l.6 1l.2 1.5l.7 1l.7 .4l.4 .7l.6 .9l.4 1.1l.6 .4l1-.1l1.3-.3l-.1 .8l-.1 .9l-.1 .9l-.5 1.4l-.5 1.1l-.9 .4l-.9 .3l-.7 .5l-.4 .8l-.3 1l-.1 .2l.4 1.4l.8 .9l.6 .4l-.1 0l-.2 .5l-.1 1.3l-.5 1.1l-.7 .7M163.6 401.8l.7-1.6l1.2-1l1.5-.6l1.2-.9l-1 .8l-1.3 .5l-1.2 .8l-.8 1.3M165.1 424.8l-.2-1M165.1 424.8l.2 .8l.8-.6l1.1 .1l.8-.2l.5-.7l1-.7l1.3-.8l1.1-.7l1-.2l.7-.3l.4-.8l.6-.8l1.2-.5l.8-.8l1.1-.6l.9 .5l.8 0l1.3-.1l.9-.3l.8-.3l.5-.7l.2-1.1l.3-1.5l.5-1.4l-.6-.1l-.7-.3l-1.1-.3l-.9-.1l-1 0l-.2-.9l-.2-.9l-.3-.8l-.4-1l-.6-1.1l-1.6 .9l-1.3 .8l-1-.2l-.9-.1l-1.4 .4l-1.7 .1l-.7 .6l.4 .7l.9 .8l.9 1.1l1.2 .2l1.1 .4l.5 1.1l.8 1.2l.9-.8l.8-1l1.4-.8l1.4-.7M163.9 385.3l1.2 .4l1.4 0l1.5 .4l1 .9l.5 .3l.7 .7l.8 1l1.4 .6l.7 .9l.2 1.1l.1 1.1l.3 1M165.5 441l.3 1.2l.2 1.2M164.8 438.2l1-.3l1.2-.1l.9-.2l.6-.3l.6-.6l-.5 .5l-.4 .3M164.9 445.9l.7-.1l1.1 .4M165.6 366.1l.3 .3l.3 .7M164.8 434.1l.2 .9l.1 1l.2 .7M164.4 451.5l.4 .4l1.2 1l1 .3M165 352l.6 .1l1.2 .6l1.7 .2l.8-.2l1 1.2l1.2 1.2l.8 .5M166.1 461.6l-.1 1.4l-.1 .8l0 .5M164.7 454.5l1.1-.7l1.3-.7l1.4 0l0-.9l.1-.8l.3-.7l1.6 .5l1.5 .4l1-.3l.8-.6M165.4 434.2l.5 .5l.4-.1M166.3 428.7l.6-.2l.8-.5l.7-.4l.3-.8l.1-1l1-.1l1.4 .4l.6 .8l-.6 1.6l-.6 1.5l-.1 1l.8 .4l.8 .4l-.5 1.1l-.8 .6l-.9 .4l1.3 .3l1.1-.2l.7-.8l-.6 1.2l-1.1 .6l-.9 .1l-.8 .3l-.1 .1M166.4 448.6l1 .6l.9 1.1l.6 .3l.6-.6l.8-.8M166.6 437.9l.5 1.1l.2 1.3M167.1 413.6l.7 .5l.3 .8l.1 .6l.5 .7l.7 1.1M167 443.8l.4-.6l.3-.7l-.4-.6l-.1-1M167.2 460l.5-.3l1-.6l1.2-.2l1.1 .4M166.9 428.5l1.6 .5l1.4 .6l.7 .4M166.6 366.2l.3-.1l.1-.1l.8-.1l1-.1l1-.4l.1-.1l.8-.1l.6 0l.6 .4l.2 1l.6 .9l.6 .5l.3 .8l.4 .9l.6 1M166.9 430l.5 .7M168.5 445l.5-.4l.7-.4l.6-.7M167.7 442.5l.9 .1M167.4 435.9l.3 .8l.2 .9M168.4 402.9l.6-.8l.4-1l1.2-.1l.7 .1l.4 .2l1 .4l1.1 .9l.9 .3l1.2-.2l1.1 .4l.4 1.2l.8 .8l.9-.2l1.4 .3l1.4-.4l1.2-.8l.8-.3l.2 1.4l.7 .8l1 .6l0 1.1l.1 1.2l-.1 1.2l-.6 1.1l-.8 1.2l1.3 .7l1 .4l.9 .3l1.5 .4l.9 .2l.7-1.2l1-.5l.6-.5l0-.9l.3-.9l.9-.8l1.2-1l.3-1.1l.2-.9l.2-.8l-.8 0l-.8 0l-2 .1l-1.6 .1l-.5-.3l-.5-.6l-.9 .4l-1.2 .8l-1.3 .3l-.9-.5l-.7-.6l-.2-1.2l-.3-1.2l-.9-.9l-.7-.8l.6 .7l.8 .7l.4 1M168.1 432.8l.9-.4l.8-.6l.7-.8M169.1 444.5l.5-.3l.5-.3M168.3 424.5l.2 .8l.3 .5M168.9 376.7l1.4-.4l1.1 .1l.6 .3M167.7 434.1l1 .3l.8 .5l0 .6M168.7 359.8l.2 .8l.2 1.1l.2 .9M168.5 453.1l.8 .9l.6 .6l1.3 .5M168.5 421.3l1.3 .9l1 .5M168.4 440.4l.2-.3M168.6 364.5l.2 .2M169 409.7l.1-.4l-.1 .4l.3 .4M169.4 368.9l.1 .9l.1 .8M168.9 450.6l0 .1M169.2 440.8l-.1-.6M169.2 440.8l-.2-1.1l-.1-1.1l.1-1.4l.3-1.1l.3-.7l1.3-.4l1.3-.5l.8-1.3l.2-.3l.3-.2l1 .3l.9 .2l.7-.1l1.3 .3l1.2 .5l.6-.2l-.7 1.3l-1.1-.1l-.5 1.2l-.5 .2l-.1 .3l.3 .7l1-.1l.4 .9l.9-.2l.6-.7l.1-.5l1-.3l1.3-.1l.3 .2l-.4 .6l-.3 .6l.7 .4l.3 .2l-.2 .8l-.4 .3l-.5 .1l-.9-.1l.2 1l0 1l.3 .5l.7-.8l.6-.8l.2 .5l-.5 1.2l-.7 1.2l-.4-.2l-.7 .9l-.7 0l-.1-.1l-1-.7l-.4-.5l-.2-.5l-.1-.4l-.1 0l-.2-.1l-.4 .2l-.5-.3l-.2-.8l.3-.1l.8 1M170.5 445.5l1 .2M168.9 438.6l.6-.2l.9 .8l1.5 .1l.7 .3M169.5 434.9l.5-.5l.7-.3l1.4 0l.9-.9l.2-.3l.8-.2l.8 .4l-.3 1l.5 .2l.7 .3l1.2-.2l-.5-.8l-.4-.5l.1 0l1.1 .3l1.1 .4l.8 0l.5-.4l.5-1.3l.6-.9l.4-.6l-1 .6l-.8 1.2l-.9 1.1l-.9-.9l-.7-.6l.1-.1l-.1-.9l-.7-.2l-1.1-.8l-1-.9l-.1-.6l1.1 .2l.7-.3l.6-.8l.7 .7l.6 1.2l.7 0l.7-.5l1.2-.1l1.3 .3l0 .7l-.2 .5l-1.6 .1l-1.5 .9l-1.3 .5M169.5 387.3l.2-1.5l.5-1.4l.7-1l.7-1l.5-1l.4-1.1l.6-1.2l.9-1.1M169.8 433.9l.1 0M169.8 433.9l.9 .2M169.3 436.1l1 .1l.5 1.4l.7 .5l.5 .7l1-.6M169.8 365.4l.9 .6l.6-.8M170.2 442l.6 .1M169.5 438.4l.5-.5l.8-.3M170.7 367.2l0-1.2M171 422.6l1.3 .1l1.3 .8l.7 1.1l-.8 .3l-.9 .6l-.8 1.3l.8 .3l1.3 1.4M171.6 443.8l.4-.5M171.2 459.5l0 1l-.1 1l.1 1M170.3 436.2l.7-.3l.7-.4l.8 .5l.6-.6l.4-.7l.2 .1l0 1.1l-.3 .7M171.6 448.5l.3-1l.2-1M170.4 439.2l.3 .6l.4 .4M171.3 435l.4 .5M171.8 426.9l0-.1M172.1 431.8l.2-.1l.5-1l.7-.1l.9 .5l.1 .4l.7 .8l.3 .5l-.1 .4M171 440.4l1.3 .4l.1 .8l.1 .8M172.3 431.7l.3 .5l.3 .3l.3 .4M171.5 438.1l.7-.4l.6-.6l-.3-1.1M171.5 369.9l.7-.1l1.1 0l.6 .3M172.1 415.7l.4 1.6l.2 1.1l1 .6l.9 .9M173.2 448.4l.8-.7l.5-.7M171.9 439.3l.1-.5M172.4 389.6l1.1-1.3l1-.8l.6-.7l.6-1.1l1.3-.5l1.7 .1l1.2-.3l.7-.7M172.3 440.8l.5 .1l1 .7l.3-.2l.4 .2l.1 .2l1 .2l.8 .8l.8-.1l.4 0l.4-.1M172.6 442.4l.4 .2l.6 .1l.4 .2l.7 .4l-.4 .5l-.4 .6l1.4 .4l1.2 .4l-.6-.2l-.9 .9l-.4 1.1M172.8 430.7l.5-1l.7-.6M173 451.3l-.4 .7l-.2 .8l0 1M172.3 364.4l.3 .9l.6 1.1l1.1 1.1l1.5 .9l1.6 .4l1.1 0l-.5-.7l-.9-.9l-.5-1l-.2-.6l-.6-1.4M172.8 437.1l.1 0M172.5 439.7l.7 .7l1 0l0-1.4l.5 .1l.5 1l-.2 .4l.4 .4l.7 .6l-.5 .5M172.7 444.3l1.2 .1M172.8 440.9l.4-.5M172.8 444.3l.9 0l1.1 .3l1.1 .4M172.7 401.7l1.3 .1l.8-.7l.8-.6l1.3-.2l.9-.5l.9-.7l.9-.7l.6-1.1l.2-1.5l.2-.4l.3 1.2l.3 1.3l.3 1.1l.3 1.1l.3 1.2l-.1-.1l-.2-1.2l-.3-1l-.4-1.1l-.2-1.3l-.3-1.2l.1-.1l.2 .3l1-.1l1.2-.1l1.1-.8l1.2-.8l.4-.7l.7-1l.5-.8l.4-.8l1 .1l.5 .1l.3-.5l.8-.4l1.3 .1l1.1-.1l0 1.3l.2 1.3l.3 1.1l.1 1l.1 1l-.4 .7l-.7 .8l-.9 .8l-1.4-.2l-.6 .1l.2 1.2l.1 1.2l0 1.4l.5 1.2l.3 1l-.1 1.1l.1 1.1M173.2 432.9l.2 .8l.1 1M173 442.6l.4-.5l.4-.5M173.5 432.7l.4-.8l.6-.4M174.3 424.6l.5 0l.4-.3l-.1-1.1l0-1.1l0-.9l-.4-.6l-.3-.5M173.7 438l.6-.9M173.9 438.9l.3 .1M173.4 364.4l-.2 1l0 1M173.7 434.8l.4-.3l.9 .9l.7-.4l0-.4M173.7 435.9l1-.1M173.6 442.7l1-.9M174.2 440.4l.2 .3l.6-.2M174.1 441.4l.3-.7M174.4 431.1l.9-.1l.8-.2M174.7 439.1l.7-.5M174.1 434.5l.4-.4M174.8 450.4l.6 .5M174.7 437l1 .3M173.3 368l.4 .3l.9 1.1l1.2 1l.7 .3l.7 .7l1.6 .7l.4 .2l-1.1 .1M174.5 441.6l.9-.7l.5-.4l.4 .2M174.7 443.3l1.3 0l.8 .5l.6 .3l-.4 1l-.5 .1l.2 0l-.1 1l0 1.4l1 1.3l.7 .1M175 455.6l-.3 1.7l-.3 1.4l-.2 1l.1 .7M175 455.6l1.1-1l.6-1l.6-.8l.5-.7l.6-.8l.6-.7l.7-.5l-.3-.9l-.3-.8M175.2 424.3l.6 .9l.5 .8l.9-.5l1-.4l.9 1l.4 1.1l.8 1l1.2 1l-.1-1.2l-.3-1.5l-.3-1.8l-.1-1.7l.1-1.5l.5-1.1l-.9 .4l-.6 .8l-1.6 0l-1 .2l-.7-.3l-1.4-.3M174.9 447.9l.6-.4l1.1 .1M174.8 433.1l.5 .1l.7-.1M174.4 458.8l-.2 .9l.1 .7l.4 .9l.2-.1l1.3 0l.8-.2l.9 .2l.7-.4l.5-.4l.3-.7l.3-1.2l.7-.9l.9-.5l-.2-.7l-1.3-1l-1.5-.7l-.6-.1l-.8-1.3M175.2 440.1l.5-.4l-.2-1M175 435.6l0-.2M175.7 455l.6 1.5l.5 .8l1.3 1.2l1.1 1.2M176 443.3l.4-.5M175.1 415.6l.9 1.2l.6 .6l1.1 .6M175.5 432.8l.6-.3l.7-.5M176.3 427.6l0-.8l0-.8M175.7 439.7l.2-.4l.2 0l.6 .9l.2 .1l.7 .8l0 .6M177 377.7l.4-.8l.1-.9l.2-1.2l.7-1.3l1.1-1l-.3-.2M175.8 438.2l0 .1l.2-.4l.1-1.1l-.2-.1M176.1 441.5l.4 0M175.7 439.7l.2 .8M175.7 435l.7 1.3M175.8 438.3l.1 1M176.7 445.2l1-.2l.8 .1l.5 .5l.5 .4l.6-.2l.2 .1l1.5-.1l1.4 .3l.8-.2l0-1.3l0-1.3l-.6-.4l-1.4-.8l-.6 1.1l-.7 1.2l-.6 1.3l.6-1.2l.6-1.3M176.8 431l.4-.7l.4-.8M177 445.1l1-.1l.6 .2l-.3-1.7l-.4 .2l-.5 .4M176.1 436.8l.2-.2M176.7 452.3l.6 .5M177.2 442.7l-.2-.9M176 437.9l.1 .1l.1 1l.8 .1l.2-.5l-.7-.7l.1-.6M176.1 438l.4-.1M176.1 439.3l.1-.3M176.9 434.4l.5 .5M176.6 440.6l.1-.4M176.9 436.1l.7 1l0 .1M177.9 407.6l.3-1.2l0-1.3M176.9 440.3l1 .2l0-.3l.8-.5l-.4-.5l-.5-.7l-.6 .1M178.2 425.1l.5-1.4l.6-1l.5-1.1M177.7 441.7l1.2 .1l-.2-.6l.2-.4l-1-.3M178.3 433.8l.1-.3M178.3 443.5l.1-.4M177.9 461.2l1.3 1l1 .6l.7-.2l1.4 .3l.3-.7l.2-.6M177 439.1l.9 1.1M178.6 445.2l.6 .6l.6 .1l.3-.2l0 .1M177.6 441.1l1.1 .1M177.6 437.1l.8-1l.7 0l.5 .1l.5-1.1l.5-1l-.1-.3l.3 1.1l.2 .7l.5-.2l1.3-.3l1.6 0l.3-1l.1-1.1l.5-.6l.3-.6l-.5-.7l-.3-.7l-.3-.2l-.2-.5l-.5 .3l-.7 .5l-.2 1l-.4 1l.3 .8l.8-.1l1.2-.2M178.5 435l-.1 1.1M177.8 438.5l.2-.4M179.5 450.2l.4 1.2l.4 .9l.9 1.4l.5 1l-.2 1l-.4 .7M179.2 433.7l.5-.3l.8 .4l-.9-.4l.5-1.2l1.2-.1l1.2 .4M178.9 441.8l.5 .3l.7-.3l.6-.4M179.4 443.8l0-.9l0-.8M179.5 443.9l.2 1.2l.1 .8M178.7 439.7l.1-.2l.6 0l.7 .1l-1.2 1.2M179.5 372.5l.5 1.1l.5 1.5l.5 1.1l.3 .6l.3 .6l.6 .6l.7 .5l.3 .6l0 1l0 1.4l.5 1.2l-.1 .8l-.1 .8M178.8 439.5l.4-.9l.3-.9l.6-.1l.9 .2l-.3 .7l-.2 .9M180.1 432.2l.5-.9l.4-.6l.4-.5l.1-.6l0-.8l-.2-1l-.3-1.6l-.3-1.8l0-1.8l.2-1.4l.6-1l.6-.6l1.3 .9l1 .5l.7 .7l.8 .2l1.2-.6l1.4 0l1.3 .7l.6-.5l.7-.6l-.2 .8l-.7 .8l-1.1 .3l-1.1 .4l-.8 1.1l-.1 1.6l-.2 1.4l-.5 .3l-.6-.1l-.9-.9l-.9 .1l-.8 .5l.7 1.1l.4 1.4M179.5 437.2l0 .5M179.6 436.2l0 .5M181.1 430.6l.2-.2M181.4 430.2l.9 .2l.8 .1M180.1 439.6l.4-.2M180.3 445.9l.4 1.2l.4 1.2l.2 1.2l.7-1l1.3-.8l1-.9l-.3-.9M181.5 429.2M180.6 434.1l.4 1.5l.9 .7M181.2 449.5l.1 0M181.3 427.8l.8-.2l1.1-.4M180.8 439.7l.6-.2M180.8 439.7l.9 .2l.5-.1l.3 1l-.5 1.3M181 441.9l-.1 1.1M181.3 457.1l1 1.1l.6 .7l.9-.1M180.7 418.4l.8 .5l.6 .7l1.3 .9l.9 .5l.8 .7l.8 .2l1.3-.6l1.4 0l1.2 .7l.8-.7l1-.6l1-.1l1.1-.1l1.7 .3l-1.5-.2l-1 0l-.9 .1l-.9 .2M180.7 418.4l.8-.3l.8-.3l.5-.5l.3-1l.2-1.4l.4-1.4l.7-1.2M181 437.8l.5-.1M181.1 451.4l.6 .1l.7 .2l1.1-.8l1-1l.6-1.1l.3-.9l.3-.2l.6-.5l.9-.8l1.2 .2l.6 .7l.4 .7l.6 1l.6 1.1l.9-.2l1.1-.3l1.4-.1l.4-1.1l.2-1l-1.2 .2l-1.1-.9l-1.1-.7l.1-.6l0-.7l-.1-.9l1.5 .1l1.5-.3l.9 .5l.7 .9l1.3 .9l-.5 .2l-.9 .4l-1.1 .9M181 435.6l.6 .5l.7 .5l.6 .7l-.1 .2l.1 .3l0 .4l.3 .4l-.1-.1l-.2-.4l-.1-.6M180.7 422.6l.8 .1l1.1 .7l.5 1.5l.8 .8l1 .9M182.3 462.9l1.3 1.3l.6 .5l1.4 1.2l.9-.5l.5-1.3l.3-1.4l-1-.6l-.5-.1l-1-.8M181.5 435.4l.6-.9l.7-1.2M181.7 454.7l.9-1.1l1.7-.7l1.6-.6M181.3 420.4l.4-.5l.4-.3M182 401.2l.9-.6l1.1-.9l1.5-1l1.5-.8l.8-.6l1.3 .4M182.2 436.5l.7 .8M182.4 451.7l1.3-.1l1.4-.3l1.1 .5l.6 .8l.7 .6l-.2-1.2l.1-1.2l-.2-1.3l-.7-1.2l-.8-.6M182.8 437.6l-.3 .7M182.8 437.6l-.3 .8l-.2 .7l.8-.4l.1 0l-.3-.3l-.1-.3l0-.5l0 .6l.4 .5M182.2 439.8l.1 .5M182.2 439.8l1 0l1.4 .7l1.1 .2l1.6-.3l1.3 .6l.7 .9l.7-.2l.3 1l.9 1.1M182.9 437.8l.6-.6l.8-.6l.7-.6l.8 .2l.4-.3l.4 0l-.2-1.2l-.1-1.2l-.2-1.3l-.5-.4M182.6 423.4l.9 .2l.7-.1l.6-.2l1.2 .6l1.2 .4M184.4 435.1l.6 .9M182.9 438.4l.2 .1M183.9 413.1l.8-1.3l.7-1l.4-1l.1-1.1l-.1-1.2l0-1l1.3-.3l1.2-.7l.8-.5l.5 .6l.6 .3l1.5-.1l2.1-.1l.9 0l.7-.9l.4-.7l.5-.6l.6-.8l.6-1.2l.5-1.5l.5-1.4l.5-1.2l.4 .2l.5 .1l.9 .4l.9 .4l.3 1.2l.1 1.4l.5 1l.4 .6l.4 .8l.5 .9l.2 1.1l1.1-.6l1.5 .4l1.2-.1l.9-.1l1 .2l1.2-.3l1.2 .1l.3-1l.1-1l.1-1l-.7-1.1l-.4-.9l-.5-.8l-.4-1.2l-.3-1.1l-.4-.5l-1.1-.6l-.8-1.3l-.6-1.2l-1.1-.9l-1.1-.7l-1.2-.2l-1.4-.6l-.8-.7l-.4 0l-.8 .2l-1.1-.1l-.8-.1l-.9 .3l-1.3-.9l-.7-.8l-.5 .4l-1.5 .4l-1.5 .1M184.3 446.8l.6 .7l.5 .4M183.2 438.6l.1 .1l.9 .2l1.3-.1l1-.6l.4-.7l.4-.3l.2 .2l.7 .6l1.1 .8l.7-.3l.9-.4l.8-.6l.6-1.1l.7-.6l.7 .1l-.3-.9l-.1-.8l-.1-.9l-.4-1l.3-.5l.3-.5l-1.1-.7l-.5-.7l-.6-.9l-1.1-.5l0-.8l0-.7l.8-.5l.6-.7l1.4 .1l.9 .6l.2-.7l.4-.5l1.1 .1l0-.7l.2-.8l.3-.9l.1-1l-.2-1l1.2 .2l.6-.2l1 0l.9 .5l.7 .3l1.6 .5l1.1 .5l.3 .1l.7 0l-.5 1.2l-.5 .8l-.6 .5l-.5 .5l-.5 .8l-.3 .9l-.4 1l-.8 1l-1 .9l-.8 .8l-.5 .8l-.2 .5l-.4-1.3l-.8-1l-.6 .4l-.9 .2l-.4-1.1l-.3-1.1l-.2-1l0-1.2M183.1 438.7l.2 0M184 443.3l.5-.5l1.1-.1l.7 1l.5 .8l-.2 .8l.2 .5l.4 .6M184.2 438.9l1.6 .5l1.1-.2l.8-.4l.8 0l.8 0M184.8 430.4l.2-.6l.4-.4l.8 0l1.7 .8l1.1-.4l-.1 1.3l-.2 1.5l.4 .6l.2 .7l-.3 1.1l-.3 .9l-.1 .7l-.6 .6l-.5 .2M185.8 393.1l.6 1l.4 1.1l1 .6l1.1 .6l.8 1.2M185.1 421.7l-.2 .8l-.1 .8M186.2 451.8l.6 .8l.8 .7l.8 .5l.8-.1l.7 .5l.6 1l.3 .5l.6 0l1.3 .7l1.1 1l.5 .7l.7-1l.8-.7l1.2-.2l-.1-1.5l-.1-.9l0-.4l-.1-.9l-1.9-.7l-1 1.1l-.8 1l-.8 .5l-.8 .4l-.6 .9M185.7 440.7l-.1 .8l0 1.2M186.1 432.2l.5 .2l1 .4l1.1-.2M185.8 427.5l-.1 .7l.2 .6l.3 .6M185.5 456.5l1.5 .4l1.1 .3l.8 .3l.7 .6l.4-.7l.3-.9l.4-.9l.5 .1l1.3 .6l1.2 1l.6 .8l-.5 .3l-.6 .3l-.8 .6l-1 .6l-1.4 .2l-.7 .3l-.6 .6l-.8 .6l-.6 1.1M186.6 435.9l.7 1.3M186.9 427.3l.8-.3l1.1-.3l1.3 .3M186.8 444.5l1-.6l1-.2l.8-.3l.7-.7M187.5 453.2l.6 .5l.2-1.2l.6-.9l.8-.8l.9-.7M188.4 446.6l1.3 0l.9-.1l.6-.5M188.1 453.7l.5 .1l.6-.1l.9 .8l.6 1.1M188.5 421.3l.6-1l.4-.8l.3-.8l.2-1l.2-1.1l-.3-.5l0-.8l.1-1M189 429.8l1.1-1.3M188.6 436.6l1.5-.6l1.6 0l.5-.2l.8 0M189.3 433.9l1.1-.6l1.1-.7l1.3-.3M189.6 458.1l.2 1.2l.2 .8M190.2 416.6l1.3-.2l1.5 .3l1.3 .2l1 .8l.6 .6l0 1.5l.2 1.3l1 .1l.6-.2l1 0l.8 .4l.7 .4l1.4 .4l1.3 .6l.4 .1l.7 0l.6-.4l.9-.3l.9-.4l-.6-.5l-.7-.5l-.6-.7l.5-.7l.5-.8l.4-.8l.2-1.1l0-1.3l0-1.5l-.5 .4l-1.3-.5l-1.6 .2l-1.5 .3l-1.1-.1l-1 .2l-.8-.8l-.4-1.2l-.8-1l-1.3-.7l-.7-1.1l-.4-1.1M190 441.7l.7 0l1.6 .3l1-.3l.9-.4l.8 .8l.3 .7l.8-.1l1.9 .4l1.4-.1l1.1-.4l-.9 .9l-1 1l-.9 .7l-.1 .8l.4 .9l.5 1.2l.7 1.8l.6 1.1l.9 .7l-.8 .7l-.8 .3l-.9 .1l-1.5-.3M190.9 421.7l0 1.3l.1 1.3l.2 .9l.3 .6M193.1 395.5l.6 .3l1.4 .2l1.5 .2l.9 .2l.8 .3l.7 .7M193.4 431.3l1.3-.4M194 449.5l.6 1l0 .8l.2 .5M193.7 435.9l.4 .1l.7-.2l.7-.3l.9-1l.6-1l.4-.9M194.7 405.7l1.4 .1l1.1 .8l.7 .2l1-.2l1.7-.1l1-.3l.5-.1l1 0l1-.6M195.1 444.1l-.1-.9l0-1.1M195.4 405.7l1 .3l.8 .6l.7 .2l1-.2l1.7-.1l1-.2l.5-.2l1 .1l1.1-.7l1.1-.6l1.4 .4l1.2-.1l.9-.1l1 .2l1.2-.3l1.2 .1l-.4 1l-.4 1l-.3 1l-.1 1l0 1l.2 1.1l.1 1l0 .8l-.2 .7l-.3 .7l-.4 .9l-.5 1.2l-.4 1.5l-.4 1.5l-.8 1.2l-1 .8l-.9 .3M195.4 420.8l.5 .2M195.4 420.8l.7 .3M195.9 418.3l.3-1.5l.7-1.4l1.1-.6l1.1-.4l.4 .8l.3 1l.4 1.1l.2 1.3l.1 1.4l.1 1.2l1 .2l1-.5l.8-.8l1.1 0M195.5 425.4l1 .7l.9 .5l.9 .1l1-1.2l.8-1.1l.5-1.2l.5-.7l.8-.2M197.1 445.9l.5 .1M196.2 430.3l.4-.9l.4-.8l.6-.9l.7-1M197 456.2l.5 0l.6-.1l1.3 .1l1.2 0l.7-.9l.7-1.5l-.5-.4l-.1-.7l-.6-1.1l.8-1.4l1.2-.8l.9-.7l.4-1.4l.1-.4l.8-.9l1.2-.5l.9-.2l.6 .3l.1 1.2l.2 .9l-.2 .7l-.3 .7l-.3 .9l-.9-.1l-.9-.8l-.9-1.1l-.4-.7M198.3 426.7l1.1 .3l.9 .8l.4 .8M199.1 414.4M200.7 451.7l.1-.1M199.9 397.7l.3-1.2l.4-1.2l.4-1.2l.3-1.3l.2-1.2l0-1.3M200.5 442.6l.8 .2l.4 .1l.6-.4l.9-.8l1.6-.2l1.1 0l.6 .1l1 0l.1 1l.1 1.4l0 1.6M200.2 421.8l.4-.6M201.7 398.5l1.5-.3l1-.6l.8-.4l.7 .1l.5-.1l1.5 .2l1.7 0l1-.4M201.7 442.9l.3 1.1l.7 .6l1 1l.5 1.3M202 453.8l.3-.3l1.6-.3l1.1-.5l.8-1l1.1-.8l.3-.9M203.1 406.2l.3 1.3l.1 1.3l.3 1.2l.9 .7l.9 .5l.3 .9l.4 1.1l-.2 .7M206.3 413.2l1.1-.6l1.1-.3l1.2 0l1.6 .7"/>
<path id="coast" d=""/>
</defs>
<rect width="1152" height="576" fill="#fff"/>

<g transform="translate(0 0)">
<g shape-rendering="geometricPrecision">
<path fill="#7A0C14" stroke="#7A0C14" stroke-width="0.35" d="M37 209.4l.4-.6l.3-.6l0 .1l-.2 .5l-.4 .2l-.5 0l.3 .1zM54.9 206.1l-.2 .7l0-.2l-.1-.5l-.3 .3l-.4 1.1l-.7 1.2l-1 .8l-1.1 .7l-.9 .9l-.6 .8l-.4 0l-.4-.8l-.6-.7l-.8 .2l-1 .9l-.9 1.1l-.8 1l-.5 1l.1 .8l.7 .1l.6-.4l.4 .3l.3 1l-.1 1l-.6 .6l-.7 1.1l-.5 1.4l.2 .6l.3-.5l0 .1l-.8 1.4l-.6 1.6l.2 .7l.8 .1l1 0l.9 .2l.8 .3l.1 .7l-.6 1.1l.7-1l.5-.8l.3-.2l.3 .7l.4 .6l.6-.2l.8-1l.9-1.2l.8-1.1l.6-.9l.5-.8l.2-.3l0 .6l-.2 1.3l-.1 .6l.2-.8l.8-1.2l1.1-.7l1.1-.2l.8-.7l.5-.9l.2-.6l.2 0l0-.8l.1-1.4l.3-1.1l.5-.9l.6-1.5l.2-1.7l-.2-.5l-.1 .6l.4-.3l.9-1.3l1-.9l.5 .2l0 .2l0-.6l.3-.8l.2-.2l0-.1l0-.6l0-1.5l-.1-1.2l-.8-.1l-1 .1l-.6-1l-.4 .7l.1-.8l.2-.8l0 .1l-.3 .8l-.7 .6l-1.3 .2l-1.3 .4l-1 1zM19.4 223l-.4 .5l0 .2l-.2 .2l-.5-.3l0 .5l.3 .2l.5-.6zM69.9 224.6l-.3 1.5l-.1 .4l.2-.3l0 .1l-.5 1l-1.1 .9l-.8 .4l-.3 .4l.1 .8l.1 .8l.2 1.3l.2 .8l.5 .1l.4 .2l.3 1l.2 1l.5 .2l.5-.5l-.3 .1l-.6 1.2l-.8 1.4l-1.2 .6l-1.2 .1l-.8 .2l-.1 .4l.3 .1l1-.9l.6 .4l.3 1.2l.2 1.3l.3 1.1l.2 1l.6 .4l.9-.2l.6 0l-.6 1.4l-1.1 1.7l-1.2 1.2l-.7 .8l0 .5l.2 0l.1-.8l-.2-.7l-.4 0l-.7 .6l-.7 .4l0 .7l-.1 1.1l.5 1.1l1.1 .6l1 .3l.2 .6l-.6 .6l-.5 .5l-.5 .5l0 .8l.1 .4l.3 0l.3 .1l.1 .8l-.3 1l-.8 .9l-.9 .9l-1.1 .4l-.9 .4l-.4 .3l0-.3l-.3-.4l-.4-.1l-.5 .4l-.6 .6l-.7 .4l.6 0l.5 .4l.7 .8l.7 .7l.3 .2l.1-.3l.3-.2l.6 .1l.8 .2l.7-.2l.5-.7l.5-.6l.9 0l.6 .6l.3 .9l.1 1.1l.2 1l.8 .8l1.1 .3l1 0l.4 0l-.4 .5l-.5 .6l.1 .6l.7 .8l.8 .6l1-.3l.7-.5l-.1 1.2l-.9 2.6l-.9 1.5l-.2 .1l.3 0l.2 .6l-.2 .4l-.2 0l-.1 .6l-.1 1.4l0 .9l-.1 .2l-.3 .3l-.6 .6l-.7 .4l-1 0l-1.1 0l-.9 .4l-.8 .8l-.6 .6l-.2 0l.1-.2l.5 .1l.1 2l-.4 2.8l-.2 1.6l.4-.1l.6-.3l.2 .5l.1 .7l0 .1l-.1 .2l-.3 1.3l0 1.3l.5 0l.9-1l.4 .1l-.4 2l-.9 2l-.7 .6l-.1 .5l0 .8l.3-.1l.2-1l-.2 .3l-.7 1.9l-.7 1.4l.3 .2l-.1 1.3l-.6 1.1l-.2 .3l.1 .7l.2 1.2l.2 .5l.3-.2l.1 .4l-.3 1.1l-.4 .9l-.2 .7l0 .7l-.1 1.1l-.3 .9l-.2 .6l0 .5l.9-.4l.8-.2l.8-.1l.7-.2l.7 0l.2-.3l.2-.4l.2-.4l.1-.3l-.1-.1l-.1-.4l-.1-1.1l.3-1.2l.3-1l-.2-.8l-.4-.6l-.1-.2l.6-.4l.9-1.1l.7-1.1l.4-.4l.3 .1l.1 0l-.2-.2l-.1 .1l.3 0l.8-1.2l.5-2.1l-.2-1.4l-.4-.4l0-.7l.2-1.5l-.1-.9l-.3 .2l-.1 .2l0-1.1l-.2-1.2l0-.3l.2-.4l.5-1.3l.3-1.4l-.4-.1l-.4 .3l.1-.9l.4-1.9l.3-.7l0 .5l.2-.7l0 1.1l0 2.3l.8 1.2l1.1-.6l.7-.8l-.1 .5l-.5 1.5l-.5 1.3l-.4 .8l-.2 .7l.2 .6l.7 .1l1.1-.2l.7 .7l.2 1.6l0 1.6l0 .5l.9-1.2l.9-2.5l.4-1.7l-.2 0l-.4 .3l0-1.1l.2-1.3l.5-.1l.2 .2l.1-.3l.1-1.1l.3-1.3l.7 .2l.8 .2l.5 0l.3 .7l.2 1.1l0 1.5l.1 1.1l.4 .7l.5 .6l.3 .3l.3 0l.3-.2l.3-.2l.3 .3l.5 .5l.6 .5l.8 .5l1.4 .5l1.8 0l-.8 .4l-.3 .1l-1.2 .3l-1 0l-.8-.3l-.3 .1l-.2 .3l-.3 .4l-.5 .3l-.8 .2l.1 .8l0 .7l-.2 .5l0 .3l.1 .5l.2 .8l.2 .7l.3 .3l.1 0l-.1 .4l0 .7l.3 .8l.5 .5l.4 .3l.3 .3l.2 .5l.3 .9l-.5 .5l-.4 .7l-.1 1l0 1.1l.1 1l-.1 .7l-.2 .5l-.4 .6l-.5 .6l-.5 .7l-.6 .7l-.8 1.1l-.8 .8l-.6 .6l-.5 .5l-.6 .5l-.8 .4l-.6 .9l-.4 1.2l-.2 1.4l-.1 1.3l-.8 .2l-.9-.1l-1.2-.4l.1 1.2l.3 1.1l.4 1l.6 1.1l.8 .8l.4 1l.3 1.4l.6 1.3l.8 .9l.2 1.1l.1 1.2l.6-.1l1 .2l0-1l-.1-1.2l0-1.5l0-1.4l-.3-1l.8-.9l.4-1l.6-.4l1.2 1.4l1.2 1.2l.2 1.1l.5 1.2l1 .7l.9 .4l.5 .9l.7 .9l1-.7l.4-.6l.5 0l-.2-1l-.2-1l-.4-1.2l-.4-1.5l1.3 1.1l.9 .3l.7 .3l1.5 .5l1.2-.3l1-.2l1.8 .5l1.5-.5l.8-.7l.5 .1l.4-.2l1.1-.2l1.4-.7l.8-1.1l.9-.3l1.3 0l1.2-.7l1-.8l.6-.5l.3-.4l.8 .1l1.7-.2l1.6-1.1l1.6-.5l1.6 .1l1.4-.2l1.3-.1l.6-.7l.4-.5l.8-.1l1.2-.9l1.3-1.4l.9-1.1l.3-1.3l.2-1.2l.6-.7l.9-.7l.7-1l.7-.9l1.1-.1l1.4-.1l1.2-.8l1-1.1l.5-1.3l-.2-.6l-.5-1.2l-.4-1.5l-.3-.9l-.5-.9l.8-1l.9-.7l.8-.8l.8-.7l.5-1.1l.4-1.3l.6-1l-.7-.2l-.6-.6l-.6-1.2l-.5-.6l-1.1 0l-1.1-.3l-.6 0l-1-.8l-.9-1.2l-.8 0l-1.3-.2l-1.4-1l-.4-.1l-.8-.2l-1.4-1.3l-1.2-.1l-1.3 .2l-1.7-.3l-1 .2l-.1 .8l-.6 .4l-1.2 .1l-1.3 .4l-1.2 .1l-1.1-.3l-.9-.6l-.9 0l-1.3 .3l-1.5-.1l-1.1-.2l-.9-.2l-.7-.8l.7 .2l1.1 .2l1.2-.8l1.3-1.2l1.5-.6l1.2-.2l.6-.5l.8-.3l1.1-.2l.8-.5l.8-.3l1-.6l1.6-.6l2.2 .2l1.4-.2l.5-.5l.6-.1l.8-.4l.8-.9l.7-.7l-.9-1.1l-.7-.2l-.8-.3l-1.2 0l-1.1-.5l-.4-.2l-.8-.7l-1.3-.2l-1.1 .8l-1.7-.6l-1.6-1.1l-.9-.3l1.1 0l1.6 .3l1.4-.2l1-.7l.9-.6l.7-.5l1.3 .1l1.3-.2l.6-1.2l.8-.9l1.3-.1l.8-1l.6-1.2l.4-1.2l.4-.9l.5-.7l.6-.5l.8-.1l.9-.1l.8-.4l.5-1l.3-1.5l.2-1.6l.5-1.2l.4-1l.3-1.2l.2-1.5l.1-1.2l.4-.9l.8-.8l.8-.8l.6-1l.4-1.2l-.1-1.5l-.2-1.4l-.2-1.2l0-.8l1.2-.3l1.2-.4l.7-.8l.5-.6l.5-.5l-.1-1l.1-1.2l.2-1.4l.4-1.5l-.2-.8l-.2-1l-.9-.9l-1.1-.4l-.6-.6l-.5-1l-1.3-.1l-1-.3l-.9 0l-1.1 .4l-.9-.7l-1-1.1l-1.2 0l-1.2 .5l-1.2 .7l-1.9-.1l-1.2-.3l-.6-.1l-1 0l-.7 .7l-1.5-.3l-2.1-.3l-1 .6l-1.3-.4l-1.4-.2l-1.3-.5l-2-.9l-1.4 .8l-.6 1.1l-.8 .1l-1.2 .2l-1.2 .4l-.9 .8l-.8 .6l-1.4-.4l-1.4 .1l-1 .7l-.9 1l-.7 .9l-.7 .7l-1.2-.1l-1.5-.3l-.6 0l-.6 0l-1-.6l1.1-.5l1.2-.7l1.4-.1l1-.4l.4-1.4l.8-1.7l1.4-1.1l1.3-.8l.9-.7l.8-.4l.6-.8l.4-1.1l-1-.3l-1.4 .1l-.9-.2l-.8-.5l.2-1l.4-.9l.8-.8l.7-1l.7-.8l.9-.4l1.1-1l1.5-1.2l1.6-1l.8-1l.3-.9l.9-.4l1.2-.5l.9-.9l.6-.8l.7-.5l.6-1.1l.9-1.2l1.1-1.1l.6-1l-.4-1l-.1-.9l.3-1l.6-1.1l.9-1l.5-.9l.2-.7l-.1-.6l-1 0l-.7-.1l-.5-.3l-.5-.4l-.7-.5l-.8-.4l-.5-.1l-.4 .1l-.5 .2l-.9 .2l-1.2 0l-1.1-.1l-.8 .2l-.7 .1l-.7 0l-.7 .2l-.5 .4l-.4 .5l-.5 .2l-.6-.2l-.7-.4l-.7-.1l-.8 .3l-.9 .5l-.9 .3l-.6 .3l-.5 .2l-.4 0l-.6-.3l-.8-.5l-.7-.2l-.4 .1l-.2 .5l-.2 .4l-.4 .1l-.6 .1l-.8 .1l-.9 .2l-.9 .1l-.9-.2l-.9-.1l-.8 .3l-.6 .4l-.5 .1l-.2-.5l-.4-.8l-.7-.6l-.8-.2l-.9 0l-.8-.1l-.9-.4l-.8-.3l-.7-.1l-.2 1l.1 .9l.1 .4l0 .2l-.2 .6l-.4 .7l-.3 .1l-.2 0l-.3 .5l-.5 1.2l-.6 1.3l-.5 .8l.4 .4l.6 .6l.4 .5l.3 .3l.2 0l0 .5l-.1 1.2l-.5 .7l-.8 .4l-.8 .1l-.9 .1l-.9 .2l-1 .5l-.8 .7l-.4 .8l.4-.5l.5-1l-.1 .5l-.4 1.5l-.4 .8l-.1 .1l-.1 1.3l-.4 2.2l-.3 1.5l0-.1l.2-.1l.2 1l.6 1l.9-.1l.7-.4l.1 .7l-.2 .5l-.5 .3l-.8 .1l-.8 .4l-.8 .6l-.8 .5l-.9 0l-.9-.5l-.7-.6l-.6-.4l-.3 .1zM33.6 254.2l-.3 .4l0 .2l0-.2l-.2-.2l-.1 .6l-.2 1l-.4 .6l-.6 .5l-.2 .9l.4-.8l.5-.5l.5-.9l.3-1l.3-.4l.4 0l.5-.7l.5-1l.5-.4l.6-.2l.7-.9l.3-1.3l-.1-.2l-.3 .8l-.2 0l.4-.6l.6-.9l.9-.6l1.2-.2l1.4-.3l1.1-.6l.3-1.2l-.8 .3l-.9 .9l-.4-.5l.2-2l.2-1.6l.3-.8l.4-1.3l.3-1.5l0-.4l.1 .7l.4-.2l.4-1.4l0-.5l-.3 .6l-.1 .2l.4-1.3l.8-1.8l.6-.8l.2-.1l-.2-.7l-.1-1.1l0-.4l-.4-.9l-.1-1l.4-1.2l.1-.5l-.6 .9l-.9 .4l-.3-1.5l.2-2.1l-.7 1.1l-.6 1.1l-.5 .4l-.5-.3l-.6-.4l-.5-.3l-.7-.1l-.9-.1l-.8 0l-.7 .1l-.4 .7l-.4 1.9l-.2 2.3l.6 .9l1.3-.7l1.1-.3l.1 1.2l-.3 1.5l-.1 .3l.2-.3l.4 .7l.3 1.2l.3 .5l-.4 .7l-.9 2.1l-.7 2.3l0 .2l.6-1.4l.3-.6l-.1 .8l-.3 .9l-.3 0l-.4 .5l-.4 1.6l-.2 1.2l-.1 0l-.2 .2l-.3 1.5l-.3 1.6l0 .6l.5 0l.3 .8l-.3 1.5l-1 1.1zM56.2 244.8l.5-.2l.7 .4l.9 1.2l.8 1l.7 .6l.6 .2l.8 .3l.7 .5l.4 .3l.2-.1l.2-.4l.9-1.2l.7-1.3l.3-.2l.2 .9l.1 .7l.4 0l.8-.7l.2-1.3l0-.7l-.5 0l-1 .1l-1.1-.4l-.7-.9l-.3-1l-.3-.7l-.6-.4l-.1-.4l.5-.2l.4-.4l-.1-.4l-.2-.7l0-1l0-.9l-.5-.9l-.5-1.3l-.2-1.3l-.4-.3l-.6 .6l-.8 .3l-.6-.7l-.6-.9l-.5-.3l-.3-.1l.1-1.2l-.3-1.5l-.7 .1l-.7-.2l-.4 .2l-.3 .8l-.2 .6l-.4 0l-.5-.2l-.7 .6l-.6 1.3l-.7 1.2l-.6 .4l-.5 0l-.2 .4l0 .7l.8 .3l.5 .4l.3 .6l.5 .7l.6 .8l.4 1l-.1 .8l-.1 0l.2-.7l.5 .1l.3 1.4l.3 1.5l.6 .4l.7-.2l.5 .3l0 1l-.3 .6zM56.8 252.6l.6-.4l-.1-.4l-.5 .3l-.8-.4l-.8-.8l-.6-.7l-.5-.4l-.1 1.3l.1 1l.2 .5l-.2 .5l.7 0l.7 0l.7-.2zM59.8 257.1l0-.4l-.4-.4l-.5-.6l-.5 .2l-.4 .3l-.3 .1l.2 .9l.5-.2l.4-.4l.3 .1l.3 .1zM49 265.8l.5-.6l.7-.4l.8-.3l.8-.7l.6-.8l.3-.1l.2 .7l0 1l-.4-.6l-.4-.8l-.5-.6l-.5 .3l-.4 .8l-.5 .9l-.7 .5l-.9-.1l-.9 0l-.7 .5l-.5 .8l-.2 .8l-.3 .1l-.4-.3l-.3 .2l-.3 .7l-.5 .7l.4 .2l.1 .6l0 .8l1.1-.4l1.2-.7l.8-1.2l.4-1.2l0-.6l-.2-.1l.1 .3l.2 0zM68 277.8l1.1-1l.7-1.6l.2-.9l-.3 .1l-.4 .4l-.2-.3l.2-1.1l.8-1.2l.6-1.7l.4-1.6l-.2-1.1l-.4-.5l-.3-.1l-.2 .2l-.2 .2l0 .1l-.2-1l-.4-1.5l-.7-.8l-1.1 .3l-1.1 .3l-.8-.7l-.5-.9l-.1-.7l-.2-.3l-.3 .2l-.6 .5l-.8 .7l-1 .8l-.8 .5l-.8 .5l-.7 .4l-.7 0l-.6-.5l-.4-.6l-.3-.3l-.3 0l-.7 0l0 1l-.4 1.4l-.6 .9l-.3 0l.1 0l-.1 1l.2 1.6l.2 1l.4-.3l.5-1l.2-.4l.1 .9l.5 1.5l-.4 .6l0-.2l.1-.6l.1 0l-.3 .9l-.7 1.4l-1.1 1.1l-1.1 .8l.6 .1l.6 0l.9 0l1 .1l.8-.1l.5-.5l.2-.5l.5 0l.7 .6l.7 .7l.3 .4l.1 .5l.3 .9l.8 1l.9 .4l.4-.4l.6-.8l1.1-.5l1.4-.2zM57.5 283.9l-.1 .2l0 .4l.1-.3l.4-1.4l-.6-.3l-.7-.3l-.6 2.1l-.3 .9l.1-.2l.1 0l.6-.9zM61.5 282.5l-.4 1.4l-.2 .7l-.1-.3l-.1-.1l-.4 .8l-.8 1.3l-1.2 1l-1.1 1l-.7 1.3l.5 .5l1 .2l1 .3l.8 .6l.4 .3l.3-.4l.2 .2l.4-.5l.6-1l.7-.6l.7-.1l.5-.3l.4-1l.3-1.1l.1-.3l-.5 .4l-.8 .2l-.4-.6l.4-1.3l1-1.5l.9-1.4l.1-.9l-.6 .4l-.8 0l-.9-.1l-.8 .2zM78 295.1l-.1-.1l-.4 .3l-.5-.4l-.2-.6l.1 .2l-.6 .6l-.2 .4l-.1-.5l-.5 .9l.1 .3l.4 .3l.5 .1l.2-.5l.4-.7l.5-.4zM49.5 292.8l.2 .9l.8 .1l1.1-.6l.7 .2l.2 1.4l.3 1.3l.2 .6l.1 .1l-.2 .1l-.2 .2l.1 .5l.3 .9l.9 .5l.8 .3l.6 .1l.3 .1l.3 .3l.5-1l.3-.3l.2 .5l.1 .7l.2 .4l.4-.2l.7-.3l.4-.9l.9-1.8l.9-2.4l.1-1.7l-.4-.2l-.2 .3l.1-.1l-.4 .4l-.5 .1l-.5-.4l-.1-1l.1-1.1l-.2-.6l-.8-.2l-.8-.5l-1.1-.3l-1 .4l-1 .8l-1.2 .8l-1.2 .5l-1.1 .5zM75.8 296l-.4 .6l-.5 .8l-.6 .6l-.7 .1l-.5 .5l-.5 1.2l-.2 1l0-.2l-.1-.4l-.1 .7l-.1 1.3l.3 .5l.4 .1l0 1.1l-.2 1.7l-.1 1l.9-.2l.7-.3l.6-.3l.5 .1l.6 .3l.7-1.1l.5-.7l0 .5l-.3 1l-.3 0l-.1-.7l0-.5l.5-.7l.7-1.7l.6-2.1l-.3-.8l-.7 .5l-.3-.4l-.3-1.2l-.1-1.5l0-.8l-.2-.2zM117.5 187.3l-.2-1.1l-.1-1l-.1-.5l-.2-.1l-.3-.1l-.8 .3l-.8-.4l-.8-.3l-.5 .1l-.4 .3l-.4 0l-.3 .1l-.6 .7l-.7 1.3l-.5 1.2l-.3 .5l-.1 .4l.5 .8l.8 .6l.7 .1l.3 .5l-.1 1.3l0 1.1l.5 0l.5-.1l.5 .1l.7 .3l.7 .5l.6 .7l.3 1.1l.3 .4l.4 .3l.5 .3l.3 .4l.2 .2l.3-.6l.1-.5l.1-.5l.1-.3l.3 0l.6-.2l.8-1l.4-1.9l.1-1.2l-.3-.4l-.4-.1l-.6-.1l.3-.5l.2-.7l.2-.7l.4-.4l.7-.5l.7-1.3l.7-1l.2 .1l0 .4l0-.6l.3-.9l-.3-.7l-.3-.9l-.2-.8l-.4-.7l-.7 .5l-.8 1.2l-.9 1.4l-.8 1.1l-.7 .7l-.5 .5zM113.6 372l.3 .8l.4 .9l-.5 .7l-.4 .7l.1 .8l.1 1l0 1.2l.2 1l.4 .7l1.5 .1l1.1 .1l.2-1.4l.4-1.2l.9-.3l1.1 .3l1.3 .2l1.2 0l1-.6l.4-1.1l.6-1.2l.6-1.2l-.8-.6l-1.1 0l-1-.2l-1.2-.1l-1.1 .1l-.9-1.2l-1.4-1l-.1-.5l-.1-.5l-.1-.7l-.8 .4l-.9 .6l-.6 .7l-.5 .8zM156.1 126.7l-.5-.4l-.5-.1l-.4 .3l-.6 .3l-.7 .1l-.2 1l-.1-.2l-.4 .3l-.3 .8l.2 .6l.4 .8l.3 .9l.4 .6l.1-.2l.4-.6l.5-1l.8-1l.8-.7l.4-.4l.2-.4l-.3-.3l-.4-.1zM152 129.2l0 .2l-.2 .2l-.4 .1l-.5 .3l.2 .8l-.2 1.1l-.6 1.1l-.5 1.1l-.3 1.3l-.2 .8l.2 .3l.5 .3l.7 .2l.8 .6l.6 .5l.2-1l0-.4l0-.3l.2-1.2l.4-1.5l.3-1l-.3-.5l-.3-.8l-.2-1.3l-.1-1.1l-.2-.1zM155.8 135.2l.5-.7l.5-1.1l.4-1l-.9-.3l-.9-.2l-.6 .1l.4 .6l0 .7l-.2 .9l.3 .5l.3 .4zM157 142.2l-.3-.8l-.7-.4l-.7-.8l-.8-.7l.5 .7l.3 .9l1 .7zM145.9 140.2l.3-1.2l.4-1.4l.2-.8l-.1-.2l-.2-.4l0-.7l-.5 .8l-.6 .3l-.6 0l-.6 .1l-.5 .6l-.3 .6l-.2 .3l0 .2l.2 .5l.1 .7l-.2 .7l-.4 .8l-1 .4l-.8 .7l-.6 .8l-.3 .5l.4-.1l.1 .7l-.1 1.4l0 1.3l.2 .7l.4 .2l.4 0l.4-.2l.6 .1l.8 .6l.4 1.1l.5 .7l.2 .1l.2-.1l.5 0l.8 0l.9 0l.6 0l.2 .1l-.4 .3l-.2 .7l-.1 .6l-.2 .6l-.5 1.1l-.4 1.5l0 1.3l.6 .6l.4 .3l.2 .5l.1 .5l.4 .4l.3 .3l0-.5l-.1-.5l0-.2l.2-.4l.4-.8l.4-1.1l.4-.4l.5-.4l.3-.7l-.1-.4l-.3 0l.4-.2l.5-1.4l.7-1.9l.6-1.2l.4-.3l.2-.3l.3-.3l.3 0l.3 .1l-.1 .2l0-.2l0-1l0-1.1l-.3-.7l-.2-.2l-.1-.8l.4-1.4l.4-1l.2-.6l-.1-.9l-.1-.9l-.2-.6l-.3 0l-.2-.1l.1-.8l-.5 1l-.4 .6l-.4 .1l-.2 .2l-.2 .2l-.3 .5l-.6 .2l-.9 .1l-.9 .3l-.3-.4l-.6-.3l-.7 0l-.6 .1zM136 151.6l.1 .2l.2-.5l-.7-.5l-.8-.6l-.3 .6l-.2 .3l.9 .3zM142.9 171.3l-.3 .4l-.3 .3l-.8-.3l-.6-.7l.3 .6l.4 .3l.6-.2zM122.4 177.5l-.4 .1l-.3-.4l-.3-.7l-.4-1l-.6 .5l-.5 .6l-.4 .4l-.4 .4l-.4 .5l.6 .6l.5 .5l.3 .4l-.1 .4l.1 .1l.4-.3l.6-.7l.6-.8l.5-.6zM125.3 181.7l.9-.3l.7-.7l.5-1l.4-.7l.3-.3l.2 0l-.2-.4l-.2-.8l-.1-.6l.1-.1l.3-.4l.7-1.2l-1 .7l-1 .6l-1 .2l-.7-.3l-.2-.1l.2 .1l.2 .4l0 .3l-.4 .1l-.7 0l-.3 .5l-.4 1.1l-.3 .9l-.1 .2l.1 .1l.3 .3l.6 .7z"/>
<path fill="#DFA198" stroke="#DFA198" stroke-width="0.35" d="M121.1 437.9l-.1 .2l-.6 1.2l-.5 .5l-.6 .5l-.8 .7l.5 .1l.6-.7l.4-.4l.4-.5l.4-1l-.4 1.1l-.4 .6l-.4 .5l-.5 .8l-.6 .9l-.8 .8l-.7 .7l-.7 .8l-1 .7l-.7 1l-.5 1l-.3 1.4l-.4 1.5l-.6 .7l-1.3-.5l-1.1 .2l-.8 1l-1.1-.1l-.9-.5l-.6 .1l-1.3-.4l-1.6-.6l-.9 .1l-.8-.1l-.8-1.2l-.4-.3l-1.1-.2l-2-.3l-1.4 .8l-1.2 .7l-1.1-.3l-1.2-.4l-1.4 .1l-.7 1.2l-.3 1.2l-.4 .7l-.4 .6l-.6 .8l-.7 1l-.7 1.1l-1.5 0l-1.1 .1l-.7 .3l-1.3-.2l-1.4-.3l0 1.4l.1 1.4l.2 1.2l-.1 1.1l-.2 .8l-1.1 .5l-1 .7l-.6 1.4l-.4 1.5l-.4 1.2l-.3 1l-.9 .3l-1.2-.1l-1 .3l-.8 1.1l-1.2 .6l-1.3 .3l-.4 1l-.3 1.3l-.2 1.7l-.6 1.1l-.9 .8l-1.1 .7l-1 .3l-.8 .4l-.3 1.3l-.4 1.5l-.9 .8l-.8 .6l-.9 .5l-1.4 .4l-1.4-.2l-.9-.4l-1.3-.1l-1 .1l-.4 1.2l-.1 .9l-.1 .9l-.3 1.1l1-.5l1.2 .1l1 .5l.9-.4l1.4-.2l1.4-.3l.4 .9l.2 .9l.6 .9l1 .7l.6 .8l.7 .1l1-.2l1.4-.1l.7-.9l.2-1.2l0-1.5l0-1.5l1-.7l1.4-1.1l1.1-1.6l.8-1.2l.8-.6l.6-.2l1.1 0l1.3-.1l.6-.7l.9 .1l1.6 .3l1.7-.5l1.3-.8l.6-.3l.4 .5l.9 .5l1 .1l.9 0l1.2 .1l.7 .4l.4 .6l1.2 .2l1.5-.1l1.3 .5l1.2 .2l.7 .6l1 1.3l1.2 1l.5-.9l.9-.8l1.1-1.1l.5-1.1l.2-1l.3-.7l.5-.6l.7-.7l.2-.7l.1-1.1l.1-1.7l0-1.6l1-1.3l.4-1.2l.3-.6l.5-.4l1-.1l1.2-.2l1-.3l1.1-.1l1.4 .3l1.2-.3l1.2-.3l1.4 .3l.6-.1l.1-.6l.9 .7l1.5 .4l1.2-.9l1.3-.1l1.3 .8l.3 .7l.4 .8l1.5 1.2l1.1 .2l1 .4l1.4 .1l1 0l.2-.7l.7-.5l1.5 .4l1.1-.6l1 .2l1.2 1.5l.5 .5l.5-1l1.3-.7l1.5-.6l1.1-.7l.8-.6l.5-.6l.5-1l.7-.8l1.7 .5l1.2 .7l.5-.1l.8-.1l1.4-.1l1.5-.3l1.2-.2l-1.2 .6l-1.3 1.2l-1.4 .6l-1.3 0l1.3 1.6l1.1 .5l.8 .3l1 .8l1.3-.3l1.5 .3l1.4 .4l.4-.7l.2-1.4l.5-1.4l1.1-.6l-1.2 0l-1.4-.4l-.9-.5l-.5-.5l.4 0l.8-.7l1.2-.4l1.6 .3l1.4-.2l.9-1.4l1.5 .1l1.5 1.1l.5 .3l1 1.2l1.1 .3l.6-1l1.1-1l1.7-.3l1.4-.2l1.1-.2l.8-.5l.6-.8l1.4 .6l.9 .3l.5-1.3l1.3-.8l1.4-.1l.9-.2l1.4 .8l1.4 1l.9-.1l1.3 .3l1.4 1.2l.6 .6l1.4 1.2l1.1-.8l.4-1.7l.6-1.5l.8-.8l.8-.7l1-.4l1.3-.2l.9-.6l.7-.5l.9-.5l.7-.7l.6-.9l1-.4l1.1-.1l1.1-.1l1.3 .2l1-.3l.6-1.3l.9-1.2l1.5-.3l1.1-.5l.8-1l1.2-.8l.3-1.1l.3-.8l.2-.6l.2-.6l-.2-1l-.1-1.4l0-1.5l-.1-1.3l0-1l-1.1-.1l-.7 0l-1.3-.1l-1.7 .4l-.7 .9l-.8 .1l-1.2-.2l-1 .5l-1.4-.2l-1.7-.3l-.7 .1l-.3-.6l-.8-.9l-.9 .4l-1 .4l-1.6-.4l-1.2 .2l-.5-.4l-1.1-1l-1.5 .1l-1.7 0l-1.4-.7l-1-.1l-.5 .2l-.7-.2l.7-.2l.6-.5l1-.2l-.5-.6l-.1-.7l.1-.2l-.7-.9l-.8-.5l-.5-.7l-.3-1.4l-1-.5l-.7 .5l-1.2-.3l-1.6-.4l-.9 .1l-.7-.3l-.8-.3l-.7 .5l-.7 .9l-1.1 .2l-1.3-.4l-1.3-.5l-.5-.7l-.6-1.8l-.9-1.2l-.3-.9l-.3-1.2l-.5-1.1l-.2-.7l-.2-.9l-.1-1.1l-.4-1.2l-.1-1.2l0-1.3l.4-1.3l-.6-.3l-1.2-.2l-1.4 0l-.8 .5l-.7 .1l-1.4 .2l-1.6 1l-1.5 1l-.8 .4l-.1 .6l-.5 .3l-.9-1.1l-.7-.4l-.9-.3l-1.2-.3l-.9-.2l-.5 .7l-.1 .8l-.8 .5l-1.6 .1l-1.2 .5l-.8 .2l-.7 0l-1.3-.1l-1.7 .5l-1.2 0l-1-.4l-.9-.2l-1-.4l-1.2 .5l-1.7 .3l-1.3 .2l-.5 .6l-.5 .5l-1.1 .4l-.9 1l-.9 .9l-.8 .3l-.6 .5l-.9 .6l-1.9-1l-1.7 0l-.9-.2l-1.1-1.2l.3 1.6l.4 1.3l.4 .5l.7 .6l.8 1.3l-.1 1.3l-.4 1.3l-.7 1.4l-.7 1.5zM80.3 450.4l.3-1.3l-1.4-.7l0 1.9zM42.1 489.7l.6 .2l.7 .7l.2-.7l.1-.5l-1-.4l-1-.2l.2 .4z"/>
<path fill="#1F007F" stroke="#1F007F" stroke-width="0.35" d="M132.7 307.1l-.6 1.2l-1 1.1l-1.3 .7l-1.3 0l-1.1 .2l-.7 .9l-.7 1l-.9 .7l-.5 .8l-.2 1.2l-.4 1.3l-.9 1.2l.2 .6l.5 .9l.8 .9l.3 .6l-.2 1l-.2 1.5l.2 1.6l.2 1.1l.3 .8l.2 1l1.1 .1l.9 .1l.9 .6l1 .6l1-.2l0 1.1l0 1.4l.1 1.6l-.1 1.5l.7 1.5l.7 .6l.6 .7l.7 1.2l.4 1.1l.5 .7l.9 .5l.9-.3l.7-.3l.9-.2l1.1 0l1.4 .2l1-.1l1.2-.1l1.5 .2l1-.1l1.1 0l1.3-.1l.4-1l.6-.1l1.6 .9l1.6-.2l1.2-.5l1.3 0l1-.2l1-.2l1.2-.2l1.2-.5l1.2-.5l.6-.4l-1-.1l-1.4-.8l-.5-.1l-.8-.1l-1.5-1.1l-1.1-.3l-1.1-.6l-.5-1.7l-.3-1l-.9-.8l-1.1-1.1l-.4-.5l-.3-.9l-.3-1.9l-.3-1.3l-.4-.9l-.8-1.5l-.3-1.4l-.3-.8l-.6-1.1l-.8-1.4l-.3-1.3l0-1.1l-.1-1.7l-.3-1.5l-.1-.6l-.2-.3l-.2-.9l-.2-1.4l.2-1.4l.3-1.1l-.1-1.1l-.6-1.4l-.7-.7l-.2-.2l-.4-.7l-.9-1.2l-.7-.6l-1.1-.3l-1-1.3l-.4-.9l-1.1-1.2l-1.5-1.3l-.6 1.1l-.3 1.3l-.6 1.1l-.8 .7l-.8 .8l-.9 .7l-.9 1l.6 .9l.3 .9l.4 1.4l.5 1.3z"/>
<path fill="#C9B8E4" stroke="#C9B8E4" stroke-width="0.35" d="M116.4 322.1l-1 .5l-1.6 .4l-1.6 .9l-1.2 .6l-.7 .4l-.2 1l-.2 1.1l-.8 1l-.8 .9l-.5 1.2l-.2 1.3l-.2 1.1l-.3 1l-.5 .9l-.7 1.1l-.7 1.3l-.6 1.3l.3 .9l.7 .5l.5 .5l.3 1.1l.5 1.1l.7 .8l.7 .6l1.1 .4l1 .4l.4 1.2l-.1 1.4l.1 1.2l.3 1.1l.1 1l.1 1.2l.9 .8l.7 .7l.9-.3l1-.3l.9-.5l.8 .7l1.1-.1l.8 0l.7 .9l-.8 .9l-.7 1.3l-1 1.4l-1.1 1.1l-1 .8l.1 1l.3 .8l.5 .8l.5 .8l.4 1l.6 1.1l.5 1.2l.4 1.4l.4 1.2l-.4 .3l-.8 .1l-.8 .5l.1 0l.3-.2l0 .7l.2 .5l.1 .5l1.4 .9l1 1.2l1.1 0l1.1 .1l1 .2l1.1 0l.8 .5l-.6 1.2l-.5 1.1l-.5 1.2l-.9 .5l-1.3-.1l-1.2-.1l-1.2-.4l-.9 .4l-.3 1.2l-.2 1.4l-1.2-.1l-1.4 0l.9 .7l.7 1.2l-1.2-.8l-1.3 0l-.9-.4l-1-.9l-.8-.7l-.4 .1l-1.1-.6l-1.5-.8l-.9-.2l.4 .9l.8 1l1.3 1.1l.8 1.3l.8 .3l1.1 .1l1.2-.2l1.4-.5l1.3 .5l.2 1.1l.6 .9l.8 1l.4 1.2l.2 1.1l.3 1.2l-.3 1.4l-.2 1.2l0 .8l1-.6l1.8 .1l1.4 0l.6-.5l1 .1l1.1 0l1-.7l1.2-1l.8-.9l.6-.7l1.2 .1l1.6 .1l1.2-.7l.7-.8l.5-.7l.6-.7l1.1-.8l1.1-.5l.5-.7l.3-.1l1.2 .5l0-.1l-1.2-.7l.1-1.3l.1-1.3l-.1-1.2l-.2-1l0-1l.3-1l.5-.6l.4-.8l.2-1l.1-1.2l-.7-.6l-.6-.9l-.6-1l-.7-1.2l-.4-1.4l-.2-1.1l-.8-.5l-.4-.7l-.1-.8l.1-1.1l.5-1.3l.6-1.3l0-1.2l-.4-1.1l-.4-1l-.3-.7l-.3-.7l-1-.5l-.9-1l-1.2-.2l-1.1-.4l-.6-.8l-.9-.7l-.9-.8l-.9-.3l.6-1l.3-1.2l.1-1l.2-.9l.3-.9l.7-.9l.9-.8l1-.9l.7-1.2l.7-1.1l.8-.8l.8-.8l-.3-1.1l-.8-1.2l-.6-.8l-.6-.5l-.7-1.5l0-1.5l0-1.6l-.1-1.5l.1-1.1l-1 .2l-1.1-.6l-.8-.6l-.9-.1l-1.1-.1l-.3-1l-.1-.8l-.3-1l-.1-1.6l.2-1.6l.1-.9l-.3-.7l-.7-.8l-.6-.9l-.1-.8l-1.4 1.4l-1.2 .9l-.9 .1l-.3 .5l-.7 .8l-.9 .3l-.8 .3zM113.4 375.2l.5-.8l.5-.7l-.4-.9l-.4-.9l-.2 1l-.3 1l.2 .6z"/>
<path fill="#7958B8" stroke="#7958B8" stroke-width="0.35" d="M126.2 350.9l.9 .3l.9 .7l.9 .8l.7 .8l1.1 .4l1.1 .2l.9 .9l1 .6l.4 .7l.2 .7l.4 .9l.4 1.1l0 1.2l-.6 1.3l-.5 1.2l-.1 1.2l.1 .9l.4 .6l.8 .5l.3 1.1l.3 1.4l.7 1.3l.6 .9l.6 .9l.7 .7l.5-.1l.4 .2l.4 1l1 .5l.9 .5l.4 .9l.4 1l.5 1.1l.5 1.3l1.1 .9l1.8-.2l.9 0l1 .7l1 .2l1.2-.1l1.3-.1l1.2-.7l.2-1.5l.2-1.2l.4-.8l.7-.7l1-1l1-1l.9-.7l.6-.8l.9 .5l1.5 1l1.1 .5l.6 .2l1.3 .3l.8-.6l.6-.6l1-.4l1.3-.4l.8-1l.8-.4l1 0l.7-.2l.7-.4l1.2-.2l1 0l.5 0l.7 .7l1.1 .9l.9 .7l1.7 .3l1.3-.2l-.5-.3l-1.7-.7l-.6-.6l-.7-.4l-1.2-.9l-1-1.1l-.8-.7l-.7-.9l-.3-1.2l-.7-.4l-1.3 .2l-1.1 .4l-1 .1l-.9 .2l-.5 .1l-.5-.2l-.8 .3l-1.3 .3l1.2-.5l.9-.6l.4-.4l.5-.2l1 .1l1.1-.2l.8-.8l1.3 .1l1.2 .2l.3 .9l.6 1.4l1.2 1l1.1 .8l1.2 .5l1.2 0l.7 .1l-.3-.7l-.9-1l-.6-1l-.3-.6l-.5-1.2l-.4-1.4l-.7-.5l-1.1-.8l-.3-1.3l.1-1.1l-.4-1.4l-.4-1.3l-.4-1.1l-.4-.8l.1-1.3l.5-.9l1.1-.6l-.8-.6l-1.1-1.3l-.7-.7l-.8-.3l-.8-1.7l-.2-1.4l-.5-1l-.9-1l-.5-.1l-.6-.5l-.7-1.4l-.4-1.1l-.6-.6l-1.6-.3l-1.1-.5l-1-.7l-1-1.3l-.6-.6l-.9 .4l-1.3 .6l-1.3 .5l-1.3 .1l-1.1 .2l-1.3 .1l-1.4 .6l-1.6 .1l-1.6-.9l-.6 .1l-.4 1l-1.3 .1l-1.1 0l-1 .1l-1.5-.3l-1.2 .1l-1 .2l-1.3-.2l-1.2-.1l-.9 .2l-.7 .3l-1 .3l-.7-.4l-.6-.7l-.8 .8l-.8 .9l-.8 1.1l-.7 1.1l-1 .9l-.9 .9l-.6 .9l-.4 .9l-.2 .9l-.1 1.1l-.3 1.2z"/>
<path fill="#A98FD4" stroke="#A98FD4" stroke-width="0.35" d="M137 382.6l.9 .6l.8 .8l.6 .9l.4 1.2l.4 1.4l.4 1.6l.2 1.6l.4 .8l1 .4l.6 .8l.3 .8l.9 .5l.8 .4l-.1 1.6l-.1 1.7l0 1.6l0 1.5l0 1.2l-.2 .9l1 .9l1.2 0l1.1 .3l.4 .7l1 .7l1 .8l.7 .5l.5 .9l.2 1.3l0 1.1l.5 .7l.6 1.2l.1 1.6l-.8 .8l-.7 1.2l-.5 1.6l-.5 1.6l-.4 1.3l.8 .2l1.3 .3l.9 .4l.7 .3l.9 1.2l.5-.4l.1-.6l.8-.4l1.5-1l1.7-1l1.3-.2l.8-.1l.7-.5l1.4 0l1.2 .3l.6 .2l.1-1.2l-.2-1l-.4-.6l-.4-.4l.8-.4l1.3-.5l1.2-1.3l.9-1.7l.6-1.3l.4-1.1l-.8-1.2l-.7-1.1l-.3-1.4l-.3-1.4l.6-.6l.7-.6l.6-.8l.5-1l1.3-.2l.6 .2l.7 .4l1.5 .3l1-.5l.9-.8l1.4-.3l.9-.5l1-.6l.9-.8l.6-1.1l.2-1.4l.2-.7l-.8-.5l-.7-.8l-.2-1.3l.3-1l.4-.9l.7-.6l.9-.2l.9-.5l.6-1.1l.4-1.4l.2-1.2l.2-1l.1-1l0-1l-.4-1.2l-.1-1.4l.1-1l-.3-.6l-1-.7l-.7-.9l-.3-.8l-.6-1.4l-.5-1.6l-.6-.8l-1.2 .1l-1.7-.3l-.9-.6l-1.1-1l-.8-.7l-.5 0l-.9 0l-1.2 .2l-.7 .3l-.7 .3l-1 0l-.8 .4l-.8 1l-1.3 .4l-1 .4l-.7 .6l-.7 .6l-1.3-.3l-.5-.2l-1.1-.5l-1.6-1l-1-.5l-.6 .8l-.9 .7l-1 1.1l-1.1 .9l-.6 .7l-.4 .8l-.2 1.3l-.2 1.5l-1.2 .7l-1.2 .1l-1.2 .1l-.9-.2l-1.1-.8l-.9 0l-1.7 .3l-1.1-1l-.5-1.3l-.5-1l-.4-1l-.4-.9l-.9-.5l-1-.6l-.4-.9l-.4-.3l-.6 .1l-.1 1.1l-.2 1l-.4 .8l-.5 .6l-.3 1.1l0 1l.2 1l.1 1.2l-.1 1.4z"/>
<path fill="#5836A8" stroke="#5836A8" stroke-width="0.35" d="M133.4 385.5l-.4 .7l-.8 .8l-1.2 .7l-1.6-.1l-1.2-.1l-.6 .7l-.7 1l-1.2 1l-1 .6l-1.1 0l-1-.1l-.6 .5l-1.3 0l-1.8 0l-1 .5l0-.8l.2-1.2l.3-1.4l-1 .7l-.8 .8l-.5 1.2l-.6 1.6l-.9 1.1l-1.2 .3l.1 .8l.5 1.2l.4 1.3l.2 1l.3 1.2l.3 1.5l-.5 .7l-.3 .7l-.4 .8l-.3 1.1l-.4 1.2l-.3 1.1l-.4 1.1l-.4 1.1l.6 .8l.7 1.7l.3 1.1l.8 .1l1.1 .6l.6 .5l-.3 1.2l-.2 1.4l-.3 1.3l-.4 1.2l-.4 .9l.4 1.3l.3 1l.2 .6l0 .5l.1 1.1l.8 1.2l.6 .2l1.4 .2l1.4 .4l.5-.4l.5 .1l1.2 1.2l.9 0l1.7 .1l1.8 1l.9-.6l.6-.5l.8-.3l.9-1l1.1-1l1.2-.4l.4-.7l1.1-.5l1.9-.2l1.5-.6l1 .4l.9 .2l1 .4l1.2 0l1.7-.5l1.4 .1l.6 0l.8-.3l1.2-.4l1.6 0l.8-.6l.2-.8l.5-.7l.4-1.4l.4-1.6l.6-1.5l.7-1.1l.8-.8l0-1.6l-.7-1.2l-.5-.8l0-1l-.2-1.4l-.5-1l-.7-.5l-1-.8l-1-.7l-.5-.7l-.9-.3l-1.3 .1l-1-.9l.2-.9l0-1.3l0-1.5l0-1.7l.1-1.7l.1-1.5l-.8-.4l-.9-.4l-.4-.8l-.6-.9l-.9-.4l-.5-.7l-.2-1.7l-.3-1.6l-.4-1.4l-.4-1.1l-.7-1l-.7-.8l-.9-.4l-.3 .1l-.5 .7l-1.2 .5l-1 .9z"/>
<path fill="#EDE9F7" stroke="#EDE9F7" stroke-width="0.35" d="M94 379.9l-1.3-.3l-.8-.6l-.5-1.4l-.6-1.2l-.4-.9l-1-.7l-1.6-.6l-1 .1l-.9-.7l-.7 .6l-.5 .8l-.7 1l-1 1.1l-.9 1.1l.8 1.5l.8 1.1l.9 .3l1.2 .5l.4 .7l.7 .7l1.3 1.3l.8 1l.6 .8l.9-.6l1.1-.4l1.1-.4l1.2-.2l.9-.8l-.1-1.3l-.1-1.3zM98.9 379.4l-.7 .6l-.8 .6l-1 .7l-.9 1.5l-.5 1.9l-.7 1l-1.1 .5l-1.1 .4l-.9 .9l-.7 .9l-.6 .7l-.5 .6l-.8 .3l-1.2 0l-1.1 1l-1 1.2l-1.3 .2l-1.1 0l-.8 .4l-.7 .7l-.4 1l-.6 1l-1.1 .3l1.5 .5l1 1.1l.4 .6l.9-.6l.7-.6l.9-.2l1.4-.3l1.4-1.2l1.6-.7l1.2-.1l.8-.1l1.3 .3l.7 1.7l.6 1.3l.4 .6l.6 1l0 1.2l-.2 .8l-.3 .6l0 .5l.1 1l-.4 1.2l-.3 1.2l-.3 1.2l-.1 1l-.1 .8l-.2 .8l-.2 1.1l-.3 1.3l-.4 1.4l-.4 1.2l-1 .7l-.9 .8l-1.4 .2l-1.3 .1l-.5 .5l-.7 0l-1.2 .2l-1.6 .6l-1.7 .5l-1.2 .8l-.7 1l-1.2 .3l-1.1 .4l-.6 .6l-.6 .3l-.6 .6l-1.3 .5l-1.9 .1l-1.3 .7l-.6 .8l-.8 .2l-.9 .5l-.8 .9l-.9 .6l1.1 1l.3 .3l.5 .9l.7 1l-.3 1l-.3 1.1l.7-.5l1.2 .8l1.1 1.2l.6 .6l1.4 1.2l1.6 .1l1-.7l1 .5l1-.1l.9-.2l1.3-.1l1.5-.3l1.2-.6l1.3-.6l1.4-.4l1.1-.6l.8-.5l.2 .8l.6 1.2l.9 1.3l.4 .8l.1 1.2l.7 .6l.9 .4l.9-.8l1.9-.2l1.3-.4l.6 0l1.2 1.5l1 .9l1-.2l1.8 .9l.4 .7l.1 .7l.4 1.5l.5 1.2l.3 .5l1.2 0l1.3 .2l.7-1l1.3-.2l1.4 .5l.5-.4l.7-.4l1.1-.6l1.4-.6l1.8 0l1.4 .2l.6-.6l.3-.5l.8 .1l1.1 .4l.7-.8l.6-.5l.6-.7l.6-1.5l.6-1.4l.7-1.4l.6-1.3l.4-1.3l0-1.3l-.7-1.3l-.7-.6l-.4-.5l-.4-1.2l-.3-1.6l-.7 0l-.8 .2l-1.9-.5l-.9-.1l-.9-1.2l-.1-1.1l0-.5l-.2-.5l-.3-1l-.4-1.3l.4-1l.3-1.2l.3-1.4l.3-1.4l.3-1.1l-.6-.6l-1.1-.6l-.8-.1l-.3-.9l-.7-1.7l-.6-.9l.4-1.1l.4-1.1l.3-1.2l.4-1.1l.3-1.1l.3-.8l.4-.6l.5-.7l-.3-1.5l-.3-1.2l-.2-1.1l-.3-1.2l-.5-1.2l-.2-.8l1.2-.4l.9-1.1l.5-1.6l.6-1.1l.8-.7l.9-.8l-.3-1.2l-.2-1.1l-.4-1.2l-.8-1.1l-.5-.9l-.3-1.1l-1.3-.5l-1.5 .5l-1.2 .2l-1.1-.2l-.8-.2l-.7-1.2l-1.3-1.2l-.8-.9l-.4-.8l1.3 .4l.4 .2l0-.1l-1.3-.5l-.7-.2l-.8-.3l-1 0l-.3 1l-.5 .4l-1.3-.3l-1.5 .3l-1.2 .8z"/>
<path fill="#E6DDF2" stroke="#E6DDF2" stroke-width="0.35" d="M176.8 400.3l-1.4 .2l-.8 .8l-1.1 .5l-1.4-.3l-.7-.4l-.7-.2l-1.3 .2l-.5 1l-.6 .8l-.7 .6l-.6 .6l.4 1.4l.2 1.4l.7 1.2l.8 1.2l-.4 1.1l-.7 1.3l-.9 1.8l-1.2 1.2l-1.2 .4l-.7 .5l.3 .4l.4 .6l.2 .9l-.1 1.2l-.3 1.4l-.1 1.2l.1 1.2l.3 1.2l.2 1.1l.3 .9l.1 .7l.5 1.1l.3 1.3l.3 .9l.7 .8l.7 1.5l.2 1l.6 .4l1.1 .5l1.3 .3l1.1-.1l.8-.9l1-.4l1 .5l1.1-.2l1.6 .5l1.2 .3l.6-.4l1 .3l.3 1.4l.5 .8l.8 .5l.7 .8l-.1 .2l.2 .7l.3 .5l2 .6l1.5 0l1.1-.4l1.1 0l.8-.2l1-.5l1.1-.7l.5-1.1l.7-.5l1.2 .1l1.1-.3l.9-.9l.6-.9l.5-.9l.3-.8l.6-1l1-.9l1.1-1l.7-1.3l.4-1.3l.5-.8l.6-.4l.5-.5l.5-.9l.5-1.1l.9-.6l1.1-.4l1.3-.5l1-.8l.8-1.2l.5-1.5l.3-1.5l.5-1.2l.5-1l.4-1l.1-.9l-.1-1.1l-.2-1.1l0-1.1l.1-1.1l.4-1.2l.4-1.1l.4-1.2l.3-1.2l0-1.1l-.6-1.2l-.4-.8l-.4-.8l-.5-1.1l-.3-1.1l-.4-.7l-1.1-.6l-.8-1.3l-.7-1.2l-1.1-.9l-1.1-.7l-1.3-.2l-1.6-.8l-.6-.6l-.6 .2l-1.3 0l-1.1-.2l-.8 .4l-1.4-.9l-.7-.9l-.5 .4l-1.4 .4l-1.5 .1l-1.2 .1l-1.3 0l-.8 .3l-.3 .5l-.6-.1l-1-.1l-.3 .7l-.5 .8l-.5 .8l-.7 1l-1.1 .9l-1.1 .8l-1.2 0l-1 .1l-.2-.3l-.3 .6l-.2 1.5l-.6 1.1l-.9 .7l-1 .7z"/>
<use href="#mesh" fill="none" stroke="#000" stroke-width="0.33" stroke-linejoin="round"/>
</g>
<rect x="8" y="108.95" width="214.2" height="400.15" fill="none" stroke="#000" stroke-width="1.45"/>
</g>
<g transform="translate(230.5 0)">
<g shape-rendering="geometricPrecision">
<path fill="#D89A8F" stroke="#D89A8F" stroke-width="0.35" d="M118.8 320.9l-.9 .3l-.8 .3l-.7 .6l-1 .5l-1.6 .4l-1.6 .9l-1.2 .6l-.7 .4l-.2 1l-.2 1.1l-.8 1l-.8 .9l-.5 1.2l-.2 1.3l-.2 1.1l-.3 1l-.5 .9l-.7 1.1l-.7 1.3l-.6 1.3l.3 .9l.7 .5l.5 .5l.3 1.1l.5 1.1l.7 .8l.7 .6l1.1 .4l1 .4l.4 1.2l-.1 1l0 1l.2 .8l1.7 1l1.4 .8l1.6 .5l.8 .2l.7 0l1.6 0l1.5-.2l1.2-.4l1.2-.1l.4 .1l1.1 .5l1.9 .5l1.3-.1l-1-.4l.6-1l.3-1.2l.1-1l.2-.9l.3-.9l.7-.9l.9-.8l1-.9l.7-1.2l.7-1.1l.8-.8l.8-.8l-.3-1.1l-.8-1.2l-.6-.8l-.6-.5l-.7-1.5l0-1.5l0-1.6l-.1-1.5l.1-1.1l-1 .2l-1.1-.6l-.8-.6l-.9-.1l-1.1-.1l-.3-1l-.1-.8l-.3-1l-.1-1.6l.2-1.6l.1-.9l-.3-.7l-.7-.8l-.6-.9l-.1-.8l-1.4 1.4l-1.2 .9l-.9 .1l-.3 .5zM113.6 372l.3 .8l.4 .9l-.5 .7l-.4 .7l.1 .8l.1 1l0 1.2l.2 1l.4 .7l1.5 .1l1.1 .1l.2-1.4l.4-1.2l.9-.3l1.1 .3l1.3 .2l1.2 0l1-.6l.4-1.1l.6-1.2l.6-1.2l-.8-.6l-1.1 0l-1-.2l-1.2-.1l-1.1 .1l-.9-1.2l-1.4-1l-.1-.5l-.1-.5l-.1-.7l-.8 .4l-.9 .6l-.6 .7l-.5 .8z"/>
<path fill="#EEEAF3" stroke="#EEEAF3" stroke-width="0.35" d="M169.6 435.4l-.5 1l-.2 1.2l0 1.6l.3 1.6l.9 1.1l.6 .3l.9 .5l.6 1.3l.6 .3l1.1 .1l1.4 .4l1.2 .4l1.3-.1l.9 .2l.7 .7l.8-.3l.6-1.3l.7-1.3l.6-1.2l.4-1.1l-.3-1.1l-.4 .2l-.7-.2l.7-.2l.5-.4l.2-.7l.3-.7l0 .6l.3 .4l-.3 0l.6 .1l-.5-.6l-.1-.7l.1-.2l-.7-.9l-.8-.5l-.5-.7l-.3-1.4l-1-.5l-.7 .5l-1.2-.3l-1.6-.4l-.9 .1l-.7-.3l-.8-.3l-.7 .5l-.8 1.4l-1.4 .5z"/>
<path fill="#E9BFB7" stroke="#E9BFB7" stroke-width="0.35" d="M135.5 295.2l-.6 1.1l-.3 1.3l-.6 1.1l-.8 .7l-.8 .8l-.9 .7l-.9 1l.6 .9l.3 .9l.4 1.4l.5 1.3l.3 .7l-.6 1.2l-1 1.1l-1.3 .7l-1.3 0l-1.1 .2l-.7 .9l-.7 1l-.9 .7l-.5 .8l-.2 1.2l-.4 1.3l-.9 1.2l.2 .6l.5 .9l.8 .9l.3 .6l-.2 1l-.2 1.5l.2 1.6l.2 1.1l.3 .8l.2 1l.3 0l1-.6l1.1-.1l.6-.1l.5-.6l1.5-.1l1.9-.3l1.1-.8l1.1 .3l.9-.2l.8-.6l1.3 .7l1-.4l.7-.5l.8-.6l.9-.8l.9-1.4l.5-1.9l.3-1.7l.2-1.5l.2-1.4l.5-1.5l.9-1.2l-.1-.9l-.1-.3l-.3-.7l-.2-1.5l.2-1.4l.3-1.2l-.1-1.1l-.6-1.4l-.7-.7l-.2-.2l-.4-.7l-.9-1.2l-.7-.6l-1.1-.3l-1-1.3l-.4-.9l-1.1-1.2z"/>
<path fill="#E6E0F2" stroke="#E6E0F2" stroke-width="0.35" d="M144.4 311.9l-.8 1.1l-.6 1.3l-.2 1.3l-.2 1.4l-.2 1.5l-.4 1.7l-.6 1.6l-.9 1.1l-.8 .7l-.6 .5l-.8 .4l-.9 .3l1.4 1.2l1.2 .2l1.2 1.1l1.2 .3l1-.4l2 .9l1.6 .2l.8 .2l1 .7l.4-.5l-.1-.4l-.2-.6l-.3-1.9l-.3-1.3l-.4-.9l-.8-1.5l-.3-1.4l-.3-.8l-.6-1.1l-.8-1.4l-.3-1.2l0-1.2l-.1-1.6z"/>
<path fill="#8565C4" stroke="#8565C4" stroke-width="0.35" d="M138.8 326l-1.3-1.1l-1.3-.6l-.8 .6l-1 0l-1.1-.2l-1.1 .9l-1.8 .2l-1.6 .1l-.4 .6l-.6 .1l-1.2 .1l-1.1 .7l1.1 .1l.9 .1l.8 .6l1.1 .6l.9-.2l0 1.1l0 1.4l.1 1.6l-.1 1.5l.7 1.5l.7 .6l.6 .7l.7 1.2l.4 1.1l.5 .7l.9 .5l.9-.3l.7-.3l.9-.2l1.1 0l1.4 .2l1-.1l1.2-.1l1.6 .2l1-.2l1.3 .2l1.2-.4l.1-1.6l.2-1.4l.4-1.1l.8-.8l.7-.7l.4-.9l0-1.3l-.1-1.4l0-1.2l-.4-.5l-.5 .5l-.9-.8l-.8-.1l-1.7-.2l-1.8-.9l-1.1 .4l-1.2-.3l-1.2-1z"/>
<path fill="#EEEAF6" stroke="#EEEAF6" stroke-width="0.35" d="M152.4 333.7l-.5-1.8l-.3-.9l-1-.9l-1.1-1.1l0 1.3l.1 1.3l-.1 1.3l-.4 .9l-.7 .7l-.7 .8l-.4 1.1l-.2 1.6l-.1 1.6l.4-1.1l1 .4l1.9 .6l1.5-.6l1.4-.1l1.2-.1l1-.3l1.2-.1l1.3-.6l1.2-.5l.7-.4l-1-.1l-1.4-.8l-.5-.1l-.8-.1l-1.5-1.1l-1.1-.3z"/>
<path fill="#1A0070" stroke="#1A0070" stroke-width="0.35" d="M130.5 368.7l-1.2 .3l-1.1-.1l-1.2-.6l-1.2 .1l-.8 .8l-.8 .3l-.9 .1l-.8 .5l.4 .6l.3 .6l.3 .7l1 .2l.8 1.1l.5 .9l.9 .7l.6 .8l.6 .8l.7 .6l.4 .6l.5-.2l1.4 0l1.4 .1l.9-.8l.9-.9l1-.4l1.1-.2l1.1 .5l.5-.7l.4-.8l.2-1l.1-1.2l-.7-.6l-.6-.9l-.6-1l-.8-1l-.4-1.1l-.3-.9l-1.2-.1l-1.6 .2l-.9 1.2z"/>
<path fill="#F0D5CF" stroke="#F0D5CF" stroke-width="0.35" d="M119.1 353.4l-.8 .9l-.7 1.3l-1 1.4l-1.1 1.1l-1 .8l.1 1l.3 .8l.5 .8l.5 .8l.4 1l.6 1.1l.5 1.2l.4 1.4l.4 1.2l-.4 .3l-.8 .1l-.8 .5l.1 0l.3-.2l0 .7l.2 .5l.1 .5l1.3 .8l.9 1.1l.9 0l1.1-.3l1.3-.2l1-.4l-.3-.8l-.4-.7l.7-.4l.9-.1l.8-.3l.7-.8l1.1-.1l1.3 .6l1.1 0l1.2-.2l.9-.8l.9-1.2l1.6-.3l1.2 .2l.3 1l.5 1.2l.8 1l-.7-1.3l-.4-1.5l-.3-1.2l-.8-.5l-.4-.7l-.1-.8l.1-1.1l.5-1.3l.6-1.3l0-1.2l-.4-1.1l-.4-1l-.3-.7l-.3-.7l-1-.5l-.9-1l-1.2-.2l-1.1-.4l-.6-.8l-.9-.8l-1-.7l-1.3 .1l-1.9-.5l-1-.6l-.4 0l-1.3 .1l-1.1 .5l-1.5 .2l-1.6-.1l-.6 0l-.9-.3l-1.5-.4l-1.4-.8l-1.8-1l.3 1l.1 1l.1 1.2l.9 .8l.7 .7l.9-.3l1-.3l.9-.5l.8 .7l1.1-.1l.8 0z"/>
<path fill="#D6968B" stroke="#D6968B" stroke-width="0.35" d="M118 371.1l.8 1.1l.7 .6l.9-.1l1.1 .1l1 .2l1.1 0l.8 .5l-.6 1.2l-.5 1.1l-.5 1.2l-.9 .5l-1.3-.1l-1.2-.1l-1.2-.4l-.9 .4l-.3 1.2l-.2 1.4l-1.2-.1l-1.4 0l.9 .7l.7 1.2l-1.2-.8l-1.3 0l-.9-.4l-1-.9l-.8-.7l-.4 .1l-1.1-.6l-1.5-.8l-.9-.2l.4 .9l.8 1l1.3 1.1l.8 1.3l.8 .3l1.1 .1l1.2-.2l1.4-.5l1.3 .5l.2 1.1l.6 .9l.8 1l.4 1.2l.2 1.1l.3 1.2l-.3 1.4l-.2 1.2l0 .8l1-.6l1.8 .1l1.4 0l.6-.5l1 .1l1.1 0l1-.7l1.2-1l.8-.9l.6-.7l1.2 .1l1.6 .1l1.2-.7l.7-.8l.5-.7l.6-.7l1.1-.8l1.1-.5l.5-.7l.3-.1l1.2 .5l0-.1l-1.2-.7l.1-1.3l.1-1.3l-.1-1.2l-.2-1l0-1l.3-1l-1.1-.5l-1.1 .2l-1 .4l-.9 .9l-.9 .8l-1.4 0l-1.4-.1l-.5 .2l-.4-.6l-.7-.6l-.5-.8l-.7-.8l-.9-.7l-.4-.9l-.8-1.1l-1-.2l-.2-.4l-1.1 .4l-1.3 .2l-1.2 .4l-.8-.2zM113.6 371.9l-.2 1l-.3 1l.2 .6l.1 .7l.5-.8l.5-.7l-.4-.9z"/>
<path fill="#3F1E98" stroke="#3F1E98" stroke-width="0.35" d="M143.6 372l-1.5 .5l-1.4-.1l-1.3-.3l-.4-.2l-.6 .2l0 .1l.5-.1l.4 .2l.4 1l1 .5l.9 .5l.4 .9l.4 1l.5 1.1l.5 1.3l1.1 .9l1.8-.2l.9 0l1 .7l1 .2l1.2-.1l1.3-.1l1.2-.7l.2-1.5l.2-1.2l.4-.8l.7-.7l1-1l1-1l.9-.7l.6-.8l.8 .4l-.3-1.2l-.4-.9l-.4-1l-.8-.5l-.6-.7l-1-.2l-1 .7l-1.1 .3l-1.4-.1l-1.2 .5l-1.2 .7l-.8 .6l-.2 .9l-.6 .3l-1.2-.5l-.9 .2l-.7 .4z"/>
<path fill="#D08A7D" stroke="#D08A7D" stroke-width="0.35" d="M133.4 339.2l-.8 .8l-.8 .9l-.8 1.1l-.7 1.1l-1 .9l-.9 .9l-.6 .9l-.4 .9l-.2 .9l-.1 1.1l-.3 1.2l-.6 1l.9 .3l.9 .7l.9 .8l.7 .8l1.1 .4l1.1 .2l.9 .9l1 .6l.4 .7l.2 .6l1.5 .1l1.2-.1l.4-.7l.9-.1l1.4-.5l1.7-.6l1.3 .1l.9 0l1.6-.2l1-.6l.9-.4l.8 .4l1 .3l.8-.6l1.5 .1l2 .6l1 .2l.7 .9l.9 .3l1-.8l1.2-.8l.8-.7l.7-.7l1.2-.8l1-.9l1.4 .4l1.3 .6l.9-.7l1.1-.9l1.3-.6l1.2-.1l1.2 0l.9-.8l-.8-.3l-.8-1.7l-.2-1.4l-.5-1l-.9-1l-.5-.1l-.6-.5l-.7-1.4l-.4-1.1l-.6-.6l-1.6-.3l-1.1-.5l-1-.7l-1-1.3l-.6-.6l-.9 .4l-1.3 .6l-1.3 .5l-1.3 .1l-1.1 .2l-1.3 .1l-1.4 .6l-1.6 .1l-1.6-.9l-.6 .1l-.4 1l-1.3 .1l-1.1 0l-1 .1l-1.5-.3l-1.2 .1l-1 .2l-1.3-.2l-1.2-.1l-.9 .2l-.7 .3l-1 .3l-.7-.4z"/>
<path fill="#D08F84" stroke="#D08F84" stroke-width="0.35" d="M135.1 360.2l-.6 1.3l-.5 1.2l-.1 1.2l.1 .9l.4 .6l.8 .5l.3 1.1l.3 1.4l.7 1.3l.7 .9l.5 .9l.7 .7l.6-.1l.3 .3l.1-.1l-.4-.3l.4 .2l1.2 .3l1.6 .1l1.4-.6l1.3-.4l.8-.4l.9-.2l1.1 .5l.6-.3l.3-.8l.8-.7l1.1-.8l1.2-.4l1.4 .1l1.2-.3l.9-.7l.7 .1l.6 .4l.4-.6l.6-.8l.6-1l.7-1.1l.8-1.4l-.3-.8l-.4-1.2l-.1-1.4l.1-1l-.3-.8l-.7-.9l-.7-1l-.4-.9l-1 .8l-.9-.4l-.7-.8l-1-.2l-2-.6l-1.5-.1l-.8 .6l-1-.3l-.8-.4l-1 .5l-1 .5l-1.6 .2l-.9 0l-1.2-.1l-1.7 .6l-1.5 .5l-.8 .1l-.4 .7l-1.3 .1l-1.4 0l.3 .9l.4 1.2z"/>
<path fill="#B8A5DE" stroke="#B8A5DE" stroke-width="0.35" d="M159.5 363.3l-.8 1.3l-.7 1.2l-.6 1l-.5 .7l-.5 .5l.5 .5l.6 .5l.4 .9l.4 .9l.2 1l-.7-.3l0 .1l1 .5l1.5 1l1.1 .5l.6 .2l1.3 .3l.8-.6l.6-.6l1-.4l1.3-.4l.8-1l.8-.4l1 0l.7-.2l.7-.4l1.2-.2l1 0l.5 0l.7 .7l1.1 .9l.9 .7l1.7 .3l1.3-.2l-.5-.3l-1.7-.7l-.6-.6l-.7-.4l-1.2-.9l-1-1.1l-.8-.7l-.7-.9l-.3-1.2l-.7-.4l-1.3 .2l-1.1 .4l-1 .1l-.9 .2l-.5 .1l-.5-.2l-.8 .3l-1.3 .3l1.2-.5l.9-.6l.4-.4l.5-.2l1 .1l1.1-.2l.8-.8l1.3 .1l1.2 .2l.3 .9l.6 1.4l1.2 1l1.1 .8l1.2 .5l1.2 0l.7 .1l-.3-.7l-.9-1l-.6-1l-.3-.6l-.5-1.2l-.4-1.4l-.7-.5l-1.1-.8l-.3-1.3l.1-1.1l-.4-1.4l-.4-1.3l-.4-1.1l-.4-.8l.1-1.3l.5-.9l1.1-.6l-.9-.6l-1.1-1.4l-.6-.7l-1 .9l-1.2-.2l-1.2 .2l-1.3 .6l-1.1 .9l-.8 .7l-1.4-.7l-1.3-.3l-1.1 .9l-1.2 .8l-.7 .7l-.8 .7l-1.1 .8l-.1 .1l.5 1l.8 1.1l.7 1l0 .9l0 1.5l.4 1.4z"/>
<path fill="#F5F1FA" stroke="#F5F1FA" stroke-width="0.35" d="M150.4 396.7l-1.4 .4l-1 .5l-1 .3l-1.2 .5l-.6 1.5l.2 1.4l.1 1.1l.4 .8l.4 .6l.7 0l.9 .3l.7 .4l1.2 .6l.7 .9l.9 .8l1 1.5l.5 1.4l.9 .4l.7-.9l.6-.8l.5-.8l.5-.8l.8-.6l1.7 .3l1.2-.7l1-.8l.7 .5l.4 .3l.4-1.1l.6-1.2l.6-1.6l.8-1.6l1.3-1.1l1.5-.6l1.1-.9l-.7-1l-1.1-.8l-1.3-.4l-.5-.8l-.7-.9l-1.4-.8l-.9-.9l-.8-.7l-.7 1.1l-.9 .5l-1 .4l-1 .7l-.9 1l-.9 .4l-.5 .7l-.8 .5l-1.4-.3l-1.1 0z"/>
<path fill="#F3EEF8" stroke="#F3EEF8" stroke-width="0.35" d="M137.2 375.6l-.3 1.1l0 1l.2 1l.1 1.2l-.1 1.4l-.1 1.3l.9 .6l.8 .8l.6 .9l.4 1.2l.4 1.4l.4 1.6l.2 1.6l.4 .8l1 .4l.6 .8l.3 .8l.9 .5l.8 .4l-.1 1.6l-.1 1.7l0 1.6l0 1.5l0 1.2l-.2 .9l1 .9l1.3 0l1 .3l.4 .7l1 .7l.5-.7l-1-.5l-.6-.4l-.9-.2l-.6 0l-.5-.6l-.3-.8l-.2-1.1l-.1-1.3l.5-1.4l1.1-.4l1-.4l.9-.5l1.2-.3l-.3-1.1l.1-1.3l.3-1.4l.1-1.3l-.4-.9l-.6-.6l-.4-.9l-.1-1.2l.4-.5l.4-.6l0-1.4l0-1.3l-.2-1.2l-.1-.9l0-.7l.1-.7l.2-.8l-1.2-.2l-1.1-.7l-.9 0l-1.7 .3l-1.1-1l-.5-1.3l-.5-1l-.4-1l-.4-.9l-.9-.5l-1-.6l-.4-.9l-.4-.3l-.6 .1l-.1 1.1l-.2 1l-.4 .8z"/>
<path fill="#8A6CC8" stroke="#8A6CC8" stroke-width="0.35" d="M149.4 380.2l-.2 .7l-.1 .7l0 .7l.1 .9l.2 1.1l.1 1.3l-.1 1.4l-.4 .6l-.4 .5l.1 1.3l.4 .9l.6 .6l.3 .8l0 1.3l-.3 1.5l-.1 1.3l.3 1.2l.6-.2l1.1-.3l1.2 0l1.3 .3l.9-.5l.4-.7l.9-.4l.9-.9l1-.7l1-.4l.9-.6l.7-1.1l.7 .7l.8 .8l1.2 .7l.9 .8l.3-1.1l-.1-1l-.4-1.2l-.4-1.4l-.3-1.4l0-1.4l.2-1.3l.7-.9l-.2-.9l-.3-.9l-.2-1.1l-.1-1.1l0-1.1l-.1-1.3l0-1.3l.1-1l-.5-.6l-.7-.7l-.5-1.2l-.5-.1l-1-.5l-1.6-1l-1-.5l-.6 .8l-.9 .7l-1 1.1l-1.1 .9l-.6 .7l-.4 .8l-.2 1.3l-.2 1.5l-1.1 .6l-1.2 .2z"/>
<path fill="#F2DCD6" stroke="#F2DCD6" stroke-width="0.35" d="M163.3 374l-.9-.2l-.6-.2l.4 1.2l.7 .7l.5 .6l0 .9l-.1 1.4l.1 1.2l.1 1.1l0 1.2l.2 1.1l.4 .9l.1 .9l-.6 .9l-.2 1.3l.1 1.4l.3 1.4l.3 1.3l.3 1.2l.1 1.1l-.2 1l.4 .8l.7 .4l1.2 .4l.8 .8l.7 .9l-1 .8l-1.3 .5l-1.2 .8l-.8 1.3l.8 .2l1 .7l1.3 .7l1.6 .2l.6-.8l.4-.9l1.3-.2l.6 .2l.7 .4l1.5 .3l1-.5l.9-.8l1.4-.3l.9-.5l1-.6l.9-.8l.6-1.1l.2-1.4l.2-.7l-.8-.5l-.7-.8l-.2-1.3l.3-1l.4-.9l.7-.6l.9-.2l.9-.5l.6-1.1l.4-1.4l.2-1.2l.2-1l.1-1l0-1l-.4-1.2l-.1-1.4l.1-1l-.3-.6l-1-.7l-.7-.9l-.3-.8l-.6-1.4l-.5-1.6l-.6-.8l-1.2 .1l-1.7-.3l-.9-.6l-1.1-1l-.8-.7l-.5 0l-.9 0l-1.2 .2l-.7 .3l-.7 .3l-1 0l-.8 .4l-.8 1l-1.3 .4l-1 .4l-.7 .6z"/>
<path fill="#EBC5BC" stroke="#EBC5BC" stroke-width="0.35" d="M168.5 402.9l-1.5-.2l-1.3-.8l-1-.7l-.8-.2l-.7 1.4l-.5 1.3l-.5 1.1l-.3 .9l-.4-.3l-.8-.5l-1 .9l-1.2 .6l-1.6-.3l-.8 .6l-.6 .8l-.5 .8l-.6 .8l-.6 .9l-.9-.4l-.5-1.4l-1-1.5l-.8-.8l-.8-.9l-.4-.2l-.5 .6l1.1 .9l.7 .5l.5 .9l.2 1.3l0 1.1l.5 .7l.6 1.2l.1 1.6l-.8 .8l-.7 1.2l-.5 1.6l-.5 1.6l-.4 1.3l.8 .2l1.3 .3l.9 .4l.7 .3l.9 1.2l.5-.4l.1-.6l.8-.4l1.5-1l1.7-1l1.3-.2l.8-.1l.7-.5l1.4 0l1.2 .3l.6 .2l.1-1.2l-.2-1l-.4-.6l-.4-.4l.8-.4l1.3-.5l1.2-1.3l.9-1.7l.6-1.3l.4-1.1l-.8-1.2l-.7-1.1l-.3-1.4l-.3-1.4l.7-.7z"/>
<path fill="#EFD3CC" stroke="#EFD3CC" stroke-width="0.35" d="M133.4 385.5l-.4 .7l-.7 .8l-1.2 .7l-1.6-.1l-1.2-.1l-.6 .6l-.7 1l-1.2 .9l.7 .8l.8 1.2l.1 1.8l.2 1.3l.7 .9l.8 .9l0 .8l-.2 .9l-.1 1.1l0 1.4l0 1.6l0 1.6l1-.8l1.4-.9l1.9 .7l.9 .6l.5-.2l1.1-.4l1-.6l1.3 0l1.4-.3l1.1-.4l1.2 .1l1.3 0l1.6 .5l.1-1l0-1.2l0-1.5l0-1.6l.1-1.5l.1-1.5l-.8-.4l-.9-.4l-.4-.8l-.6-.9l-.9-.4l-.5-.7l-.2-1.7l-.3-1.6l-.4-1.4l-.4-1.1l-.7-1l-.7-.8l-.9-.4l-.3 .1l-.5 .7l-1.2 .5l-1 .9z"/>
<path fill="#D8CDEE" stroke="#D8CDEE" stroke-width="0.35" d="M118.4 388.3l-1 .7l-.8 .8l-.5 1.2l-.6 1.6l-.9 1.1l-1.2 .3l.1 .8l.5 1.2l.4 1.3l.2 1l.3 1.2l.3 1.5l-.5 .7l-.4 .7l-.3 .9l-.3 1.1l-.4 1.2l-.4 1.1l-.3 1.1l1-.1l1.1-.1l.9 .5l.9 .3l1-.2l1.2-.2l1.4-.7l1.6 .2l1.5 1.5l.8 .2l.9-.7l1.1-.4l1.2-.5l.9-.7l.3-.8l.3-.9l.2-1l0-1.6l0-1.5l.1-1.4l.1-1.2l.1-.9l0-.8l-.7-.8l-.8-1l-.2-1.3l-.1-1.7l-.7-1.3l-.8-.8l-.2 .3l-1 .6l-1.1 0l-1-.1l-.6 .5l-1.3 0l-1.8 0l-1 .5l0-.8l.2-1.2z"/>
<path fill="#7F66C2" stroke="#7F66C2" stroke-width="0.35" d="M144.5 402.6l-1.6-.6l-1.3 .1l-1.2-.2l-1.2 .4l-1.3 .4l-1.3-.1l-1 .5l-1.1 .5l-.5 .1l-.9-.5l-1.9-.7l-1.4 .9l-.9 .7l-.3 1l-.3 1l-.3 .8l1 .2l1.3 .5l.5 .6l.4-.2l1.4 .7l.8 .8l.7 .9l.7 1.7l1 1.1l1.6 .5l1 .2l.8-1.1l.9-.9l.8-.8l.7-.8l.7-.8l.5-1.1l.3-1.5l.6-1.2l1.2-.5l1.2-.4l.7-1.1l-1.3 .1l-1.1-.9z"/>
<path fill="#C9BCE8" stroke="#C9BCE8" stroke-width="0.35" d="M146.7 403.7l-.7 1l-1.3 .4l-1.1 .5l-.5 1.3l-.4 1.4l-.5 1.1l-.7 .9l-.7 .8l-.7 .8l-.9 .8l-.9 1.2l0 .7l.3 1l.5 1.4l.4 1.2l.5 1l.5 1.6l.2 1.6l.2 .9l1.8-.5l1.4 .1l.6 0l.8-.3l1.2-.4l1.6 0l.8-.6l.2-.8l.5-.7l.4-1.4l.4-1.6l.6-1.5l.7-1.1l.8-.8l0-1.6l-.7-1.2l-.5-.8l0-1l-.2-1.4l-.5-1l-.7-.5l-1-.8l-1-.7l-.4-.7z"/>
<path fill="#F2DAD4" stroke="#F2DAD4" stroke-width="0.35" d="M124 409.2l-.7-.3l-1.5-1.5l-1.7-.1l-1.4 .6l-1.2 .2l-1 .2l-.9-.3l-.9-.5l-1.1 0l-1 .2l-.4 1.1l.6 .8l.7 1.7l.3 1.1l.8 .1l1.1 .6l.6 .5l-.3 1.2l-.2 1.4l-.3 1.3l-.4 1.2l-.4 .9l.4 1.3l.3 1l.2 .6l0 .5l.1 1.1l.8 1.2l.6 .2l1.4 .2l1.4 .4l.5-.4l.5 .1l1.2 1.2l.9 0l1.7 .1l1.8 1l.9-.6l.6-.5l.8-.3l.9-1l1.1-1l1.2-.4l.4-.7l1.1-.5l1.9-.2l1.5-.6l1 .4l.9 .2l1 .4l1.2 0l-.1-.8l-.3-1.7l-.5-1.6l-.4-1.1l-.4-1.1l-.5-1.4l-.4-1.1l0-.7l-.9-.2l-1.6-.5l-1-1l-.8-1.8l-.7-.9l-.8-.8l-1.3-.7l-.5 .2l-.4-.6l-1.3-.5l-1.1-.2l-.8 .7l-1.2 .5l-1.2 .5z"/>
<path fill="#D8CEF0" stroke="#D8CEF0" stroke-width="0.35" d="M86.2 382.3l.7 .7l1.3 1.3l.8 1l.6 .8l.9-.6l1.1-.4l1.1-.4l1.2-.2l.9-.8l-.1-1.3l-.1-1.3l-.6-1.2l-1.3-.3l-.8-.6l-.5-1.4l-.6-1.2l-.4-.9l-1-.7l-1.6-.6l-1 .1l-.9-.7l-.7 .6l-.5 .8l-.7 1l-1 1.1l-.9 1.1l.8 1.5l.8 1.1l.9 .3l1.2 .5zM99.3 379.4l-.4 0l-.7 .6l-.8 .6l-1 .7l-.9 1.5l-.5 1.9l-.7 1l-1.1 .5l-1.1 .4l-.9 .9l-.7 .9l-.6 .7l-.5 .6l-.8 .3l-1.2 0l-1.1 1l-1 1.2l-1.3 .2l-1.1 0l-.8 .4l-.7 .7l-.4 1l-.6 1l-1.1 .3l1.5 .5l1 1.1l.4 .6l.9-.6l.7-.6l.9-.2l1.4-.3l1.4-1.2l1.6-.7l1.2-.1l.8-.1l1.3 .3l.7 1.7l.6 1.3l.4 .6l.6 1l0 1.2l-.2 .8l-.3 .5l0 .6l.1 .9l1.5 .2l1.4 .1l.8-.3l.5-1.3l.2-1.2l.2-.9l.3-.8l.4-.8l.9-1.1l.5-1.1l.7-.4l.8-.6l.9-1.2l1-1.2l.6-1.3l-.7-1.2l-.6-.8l-.1-1.1l-.4-1.3l-.5-.8l-.4-.5l-.6-.8l-.6-1l0-1l-.1-1.5l-.8-1.2z"/>
<path fill="#F0D6D0" stroke="#F0D6D0" stroke-width="0.35" d="M106.8 377.5l.6 .1l1.1 .5l0-.1l-1.3-.5l-.7-.2l-.8-.3l-1 0l-.4 1.1l-.7 .3l-1.6-.3l-1.5 .7l-1.3 .6l.8 .7l.9 1.1l.2 1.5l0 1.1l.5 1l.6 .8l.4 .5l.5 .7l.4 1.4l.1 1.1l.6 .8l.8 1.1l.6 0l1.3 .5l1.6 .4l1.3 .1l1.4 .2l1.3 .2l1 .7l1.2 .3l.9-1.1l.5-1.5l.6-1.1l.8-.7l.9-.8l-.3-1.2l-.2-1.1l-.4-1.2l-.8-1.1l-.5-.9l-.3-1.1l-1.3-.5l-1.5 .5l-1.2 .2l-1.1-.2l-.8-.2l-.7-1.2l-1.3-1.2l-.8-.9z"/>
<path fill="#FAF2F1" stroke="#FAF2F1" stroke-width="0.35" d="M114.9 393.6l-1.3-.4l-1-.6l-1.4-.3l-1.3-.1l-1.3-.2l-1.6-.4l-1.3-.5l-.7 0l-.7 1.4l-1 1.2l-.9 1.1l-.8 .7l-.7 .4l-.5 1.1l-1 1l-.3 .9l-.3 .8l-.2 .9l-.2 1.2l-.4 1.3l.4 .8l.6 1.4l.7 .5l1.2 .7l.7 .8l-.4 .9l-.2 .8l.1 1.2l.3 1.4l.1 1.3l-.1 1.1l-.3 .9l0 1l.2 1.3l-.8 .8l-.3 1.4l-.4 1.4l-.9 .7l.5 1.6l.3 1.4l-.1 1l0 1.2l.2 1.5l.2 .8l.4 .3l1.6 .2l1.4 .4l.8-.4l.9 .1l1.1 .8l1.2 0l1.3-.5l1.3 .1l.4-1l.2-1.1l1-.6l1.3-.8l1.1-1.3l.8-1l1-.3l-.1-1l-.1-.5l-.1-.5l-.3-.9l-.4-1.3l.4-1l.3-1.2l.3-1.4l.3-1.4l.3-1.1l-.6-.6l-1.1-.6l-.8-.1l-.3-.9l-.7-1.7l-.6-.9l.4-1.1l.4-1.1l.3-1.2l.4-1.1l.3-1.1l.3-.8l.4-.6l.5-.7l-.3-1.5l-.3-1.2l-.2-1.1l-.3-1.2l-.5-1.2l-.2-.8l.7-.2z"/>
<path fill="#B29DDC" stroke="#B29DDC" stroke-width="0.35" d="M101.6 407.2l-.6-.8l-1.2-.6l-.7-.6l-.6-1.4l-.5-.8l-.8 .3l-1.4-.1l-1.5-.2l0 .2l-.4 1.2l-.3 1.2l-.3 1.2l-.1 1l-.1 .8l-.2 .8l-.2 1.1l-.3 1.3l-.4 1.4l-.4 1.2l-1 .7l-.9 .8l-1.4 .2l-1.3 .1l-.5 .5l-.7 0l-1.2 .2l-1.6 .6l-1.7 .5l-1.2 .8l-.7 1l-1.2 .3l-1.1 .4l-.6 .6l-.6 .3l-.6 .6l-1.3 .5l-1.9 .1l-1.3 .7l-.6 .8l-.8 .2l-.9 .5l-.8 .9l-.9 .6l1.1 1l.3 .3l.5 .9l.7 1l-.3 1l-.3 1.1l.7-.5l1.2 .8l1.1 1.2l.6 .6l1.4 1.2l1.6 .1l1-.7l1 .5l1-.1l.9-.2l1.3-.1l1.5-.3l1.2-.6l1.3-.6l1.4-.4l1.1-.6l.8-.5l.2 .8l.6 1.2l.9 1.3l.4 .8l.1 1.2l.7 .6l.8 .4l.9-.8l1.7-.2l1.5-.3l.5-1.1l.9-.5l1.1-.6l.7-1.1l.3-1.4l.2-1.1l.4-.6l.7-.7l-.4-.4l-.1-.6l-.3-1.5l0-1.3l.1-.9l-.3-1.4l-.4-1.6l.8-.7l.3-1.5l.5-1.4l.7-.7l-.2-1.3l0-1.1l.2-.9l.2-1.1l-.1-1.3l-.2-1.4l-.2-1.2l.2-.9z"/>
<path fill="#9E86D4" stroke="#9E86D4" stroke-width="0.35" d="M106.2 430.3l-1.1-.9l-.8 0l-.8 .4l-1.5-.4l-1.6-.1l-.6 .7l-.5 .6l-.2 1.2l-.2 1.4l-.8 1l-1.1 .5l-.9 .7l-.5 1.1l.2-.2l.6 0l1.2 1.5l1 .9l1-.2l1.8 .9l.4 .7l.1 .7l.4 1.5l.5 1.2l.3 .5l1.2 0l1.3 .2l.7-1l1.3-.2l1.4 .5l.5-.4l.7-.4l1.1-.6l1.4-.6l1.8 0l1.4 .2l.6-.6l.3-.5l.8 .1l1.1 .4l.7-.8l.6-.5l.6-.7l.6-1.5l.6-1.4l.7-1.4l.6-1.3l.4-1.3l0-1.3l-.7-1.3l-.7-.6l-.4-.5l-.4-1.2l-.3-1.6l-.7 0l-.8 .2l-1.9-.5l-.9-.1l-.9-1.2l0-.4l-1 .3l-.8 1.1l-1 1.4l-1.4 .7l-1 .6l-.3 1.1l-.3 .9l-1.4 0l-1.2 .5z"/>
<path fill="#F2D9D2" stroke="#F2D9D2" stroke-width="0.35" d="M187.3 390.4l-.3 .7l-.5 .8l-.5 .8l-.7 1l-1.1 .9l-1.1 .8l-1.2 0l-1 .1l-.2-.3l-.1 .2l.3 1.2l.2 1.3l.4 1.1l.3 1.1l.2 1.2l.8 .8l.9 .9l.3 1.3l.1 1.2l.8 .5l.9 .5l1.2-.3l1.3-.7l.8-.4l.5 .5l.6 .3l1.5-.1l2.1-.1l1.2 0l1.2 .2l1 .8l.7 .1l1.3-.2l1.8-.1l.8-.3l.7 0l1.2-.3l1.1-.8l1.5 .1l1.4 .1l1-.2l1 .2l1.2-.2l1.3 0l.3-1l.2-1l0-.9l-.6-1.2l-.4-.8l-.4-.8l-.5-1.1l-.3-1.1l-.4-.7l-1.1-.6l-.8-1.3l-.7-1.2l-1.1-.9l-1.1-.7l-1.3-.2l-1.6-.8l-.6-.6l-.6 .2l-1.3 0l-1.1-.2l-.8 .4l-1.4-.9l-.7-.9l-.5 .4l-1.4 .4l-1.5 .1l-1.2 .1l-1.3 0l-.8 .3l-.3 .5l-.6-.1z"/>
<path fill="#ECE8F7" stroke="#ECE8F7" stroke-width="0.35" d="M212.3 405l-1.4 0l-1.2 .2l-1-.2l-1 .2l-1.4-.1l-1.4-.2l-1.1 .9l-1.3 .3l-.7 0l-.8 .3l-1.8 .1l-1.2 .2l-.7-.1l-1-.8l-1.3-.1l-1.2 0l-2.1 .1l-1.5 0l-.6-.3l-.5-.5l-.9 .4l-1.2 .7l-1.2 .3l0 1.2l.1 1.3l-.2 1.2l-.7 1.1l-.8 1.2l-.7 1.5l-.3 1.6l-.3 1.4l-.5 .8l-.8 .3l-1 .4l.8 .5l.6 .7l1.4 .9l1 .6l.7 .7l.9 .2l1.2-.7l1.5 .1l1.1 .6l.8-.6l1-.6l1-.1l1.1-.1l1.7 .3l1.4 .4l.7-.2l.9-.1l1 .4l.7 .4l1.3 .4l1.4 .6l.5 .2l.7 0l.9-.6l1.1-.4l1.3-.5l1-.8l.8-1.2l.5-1.5l.3-1.5l.5-1.2l.5-1l.4-1l.1-.9l-.1-1.1l-.2-1.1l0-1.1l.1-1l.2-1l.5-1z"/>
<path fill="#C3B4E6" stroke="#C3B4E6" stroke-width="0.35" d="M180.6 395.3l-.2 .5l-.2 1.5l-.6 1.1l-.9 .7l-1 .7l-.9 .5l-1.4 .2l-.8 .8l-1.1 .5l-1.4-.3l-.7-.4l-.7-.2l-1.3 .2l-.5 1l-.6 .8l-.7 .6l-.6 .6l.4 1.4l.2 1.4l.7 1.2l.8 1.2l-.1 .4l.5 .8l.5 .6l.9 1l.9 .8l1.3 .1l.9 .6l.4 1.2l.9 1.2l.8 1l.6 .5l.9 .5l1 .5l.8 .1l1.3-.1l1-.4l.8-.3l.4-.9l.3-1.3l.4-1.6l.7-1.5l.8-1.2l.7-1.2l.2-1.2l-.1-1.3l0-1.2l-.9-.5l-.8-.5l-.2-1.2l-.2-1.2l-.9-1l-.8-.8l-.3-1.2l-.3-1l-.3-1.2l-.3-1.2z"/>
<path fill="#7453BC" stroke="#7453BC" stroke-width="0.35" d="M182.1 419.5l-.7 .6l-.5 1l-.3 1.4l.1 1.8l.2 1.8l.4 1.6l.2 1.3l-.1 .9l-.3 .6l-.5 .7l-.5 .9l-.5 1.4l.9 .3l.3 1.4l.5 .8l.8 .5l.7 .8l-.1 .2l.2 .7l.3 .5l2 .6l1.5 0l1.1-.4l1.1 0l.8-.2l1-.5l1.1-.7l.5-1.1l.7-.5l1.2 .1l1.1-.3l.9-.9l.6-.9l.5-.9l.3-.8l.6-1l1-.9l1.1-1l.7-1.3l.4-1.3l.5-.8l.6-.4l.5-.5l.5-1l.6-1.1l-.8 0l-.4-.2l-1.4-.6l-1.4-.4l-.6-.4l-1.1-.4l-.9 .1l-.7 .2l-1.4-.4l-1.7-.3l-1 0l-1.1 .1l-1 .7l-.8 .6l-1.1-.7l-1.5 0l-1.2 .6l-.9-.2l-.7-.6l-1-.5z"/>
<path fill="#E8BDB3" stroke="#E8BDB3" stroke-width="0.35" d="M177.7 417.9l-1.1 .7l-.8 .8l-1.1 .4l-.7 1l-.6 .8l-1 .2l-1.2 .6l-1.3 .9l-1.2 .7l-.7 .8l-.8 .2l-1.1 0l-.8 .5l.1 .8l.4 1.1l.4 1.3l.3 1l.7 .8l.7 1.5l.2 1l.6 .4l1.1 .5l1.3 .3l1.1-.1l.8-.9l1-.4l1 .5l1.1-.2l1.7 .5l1.2 .3l.7-.5l.5-1.3l.5-.9l.5-.6l.3-.7l.1-.8l-.2-1.3l-.4-1.7l-.3-1.8l0-1.7l.3-1.4l.5-1l.7-.5l-.6-.8l-.9-.5l-1.2 .1l-.8-.1z"/>
<path fill="#DDA195" stroke="#DDA195" stroke-width="0.35" d="M169 409.6l-.4 1.1l-.7 1.3l-.9 1.7l-1.2 1l-1.2 .4l-.6 .5l.3 .4l.4 .6l.2 .9l-.1 1.2l-.3 1.4l-.1 1.2l.1 1.2l.3 1.2l.2 1.1l.3 .8l.8-.6l1.2 .1l.8-.2l.6-.8l1.2-.8l1.4-.8l1.2-.6l1-.2l.5-.9l.7-.9l1.2-.5l.8-.8l1.1-.6l-1-.6l-.6-.5l-.8-1l-.9-1.1l-.4-1.2l-.9-.7l-1.2-.1l-1-.7l-.9-1l-.6-.7z"/>
<path fill="#EAC4BB" stroke="#EAC4BB" stroke-width="0.35" d="M160.2 418.8l-1.4 .2l-1.6 1l-1.5 1l-.8 .4l-.1 .6l-.5 .3l-1-1.2l-.8-.3l-1.2-.4l.9 .9l.4 1l.3 1l.4 1.5l.3 1.7l.2 1l.4 .6l.6 .8l-.4 .9l.2 1.1l.1 .7l.7 .9l.7 1.2l.3 .8l.3 .7l-.2 1.1l0 1l.7 .7l.8 .1l1.3 .7l1 1.2l.3 .7l1.6-.3l1.6-.4l.8-1.3l.8-.7l1.2-.1l1-.2l.8-.2l.7-.8l.2-.7l.3-.6l1.4-.3l1.3-.6l.8-1.5l-.7 .9l-1.1 .3l-1.4-.4l-1.3-.5l-.5-.7l-.6-1.8l-.9-1.2l-.3-.9l-.3-1.2l-.5-1.1l-.2-.7l-.2-.9l-.1-1.1l-.4-1.2l-.1-1.2l0-1.3l.4-1.3l-.6-.3l-1.2-.2l-1.4 0l-.8 .5z"/>
<path fill="#F4F0FA" stroke="#F4F0FA" stroke-width="0.35" d="M149.7 420l-.5 .7l-.1 .8l-.8 .5l-1.7 .2l-1.2 .4l-.7 .2l-.7 0l.4 .9l.5 1.4l.5 1.8l.3 1.1l.6 .9l.4 1.5l-.2 .9l-.4 .7l-.8 .6l-.8 .6l-.7 1.1l-.2 1.6l0 1.7l0 1.5l-.3 1.1l1.3-.5l.8-.9l.8-.7l.9-.5l1.4 .5l1.1 1.5l.8-.1l1.1-.5l1.2 .4l.7 .2l.6-.8l.9-.4l1-.3l.7-.7l0-1.1l.2-1.1l-.3-.7l-.2-.8l-.8-1.2l-.6-.9l-.2-.7l-.2-1.1l.4-.9l-.6-.9l-.5-.7l-.2-1.4l-.4-1.9l-.4-1.4l-.4-1.1l-.8-1.1l-1.1-.2z"/>
<path fill="#E2AEA3" stroke="#E2AEA3" stroke-width="0.35" d="M156.6 437.2l-.8 .8l-1 .3l-.8 .4l-.6 .8l-.7-.2l-1.3-.4l-1.1 .5l-.7 .1l-1.1-1.5l-1.3-.5l-1 .5l-.8 .6l-.8 1l-1.2 .5l-.1 .2l.8 1.2l.5 1.3l0 .9l.1 .6l1.4 .4l1.1 .1l.9-.1l.7 .6l.2 .4l1 .8l1.1 0l1.1-.3l1.1-.5l1-.1l.8 .1l.8 .8l.8 .6l1.3 .4l1.4 .5l.5-.5l.5-.6l.6-.6l.9-.2l1.6 .6l1.4-.7l1.4-.9l1.7 .3l.6-.4l.5-.4l.7-.5l.6-.8l.1-1.3l-.5-.3l-.7-.9l-.3-1.5l-.1-1.5l.2-1.2l-.6 .7l-.9 .3l-1 .2l-1.2 .1l-.9 .7l-.7 1.2l-1.6 .5l-1.5 .3l-.4-.6l-.9-1.3l-1.4-.7l-.8-.1z"/>
<path fill="#8B71CA" stroke="#8B71CA" stroke-width="0.35" d="M144.7 444.2l.3 .9l.6 1.2l.1 1l-.1 .8l-.1 1.1l.2 1.4l-.7 1l-.8 .9l-.8 .9l-.6 1.1l-.4 .9l-.3 .7l-.2 .5l-.3 .9l.6 1.6l0 1l-.3 1.1l.1 1.4l.2 1.1l.1 .4l.2 .9l1.8 1l.9 .2l.7-.2l1.6-.1l1.1-.2l1-.2l.8-.1l.5-.4l.6 .8l.5 .1l.8-.7l1.2-.4l1.6 .3l1.4-.2l.9-1.4l.6-.2l1.1-1l.8-.9l.4-.9l.1-.9l.2-.7l.4-.6l.7-.8l.6-.9l.5-.9l.3-.9l-.4-.6l-.5-1.1l-1-.7l-.8-.4l-1-1.4l-.8-1.2l.3-.7l0-.8l-1.4-.4l-1.3-.5l-.8-.6l-.7-.9l-.9 0l-1 .1l-1.1 .5l-1.1 .3l-1.1 0l-1-.8l-.2-.5l-.7-.6l-.9 .2l-1.2-.2z"/>
<path fill="#FBF1EF" stroke="#FBF1EF" stroke-width="0.35" d="M170.4 442l-.1 1.3l-.5 .8l-.7 .4l-.6 .4l-.6 .4l-1.6-.3l-1.4 1l-1.4 .6l-1.6-.6l-.9 .2l-.6 .7l-.5 .5l-.6 .5l0 .8l-.3 .7l.8 1.2l1 1.4l.8 .5l1 .7l.6 1.1l.3 .6l1-.3l1.2-.7l1.4-.8l1.3 0l.8 .8l.5 .6l1.1 .5l1.3 .3l1.3-.2l1.6 .6l1-.9l.7-1l.4-.7l.6-.8l.6-.8l.7-.8l.7-.5l-.2-1l-.4-.7l-.1-.8l0-.9l.1-1.2l-.7-.6l-.7 0l-1.2 .1l-1.2-.4l-1.4-.4l-1.1-.1l-.6-.3l-.5-1.1l-.7-.6z"/>
<path fill="#EDCFC8" stroke="#EDCFC8" stroke-width="0.35" d="M175.1 455.6l-1.6-.6l-1.4 .1l-1.3-.2l-1.1-.4l-.5-.7l-.8-.8l-1.3 .1l-1.5 .7l-1.1 .7l-1 .3l-.3 .9l-.5 .9l-.6 .9l-.7 .7l-.4 .6l-.2 .7l0 1l-.5 .9l-.9 .9l-1 1l1.5 .6l1.2 .9l.4 .3l.9 1.1l1.1 .3l.6-1l1.1-1l1.7-.3l1.4-.2l1.1-.2l.8-.5l.6-.8l1.3 .6l1 .3l.4-1.3l1.3-.8l-.4-1l-.1-.7l.2-.9l.3-1.5z"/>
<path fill="#D99C90" stroke="#D99C90" stroke-width="0.35" d="M179.6 450l-.7 .6l-.7 .8l-.6 .8l-.6 .7l-.4 .8l-.6 .9l-1.1 .9l-.2 1.7l-.3 1.5l-.3 1l.1 .7l.5 .9l.2 0l1.4-.1l.9-.2l1.4 .8l1.4 1l.9-.1l1.3 .3l1.4 1.2l.6 .6l1.4 1.2l1.1-.8l.4-1.7l.6-1.5l.8-.8l.8-.7l1-.4l1.3-.2l.9-.6l.7-.5l.6-.3l.6-.4l-.6-.7l-1.2-1.2l-1.4-.6l-.5-.1l-.6-1l-.9-.9l-.8 .1l-.8-.5l-.7-.6l-.6-.9l-1.3-.5l-1.5 .4l-1.4 0l-1.1-.3l-.5-.2z"/>
<path fill="#6F4EB8" stroke="#6F4EB8" stroke-width="0.35" d="M182.2 439.1l1.1-.3l-.4-.6l-.1-.8l-.3 .9zM182.4 440.8l-.4 1.1l-.6 1.1l-.7 1.4l-.6 1.3l-.6 .2l-.5-.4l-.1 1.3l0 .9l.1 .7l.4 .8l.2 .9l.9 1l.5 .3l1.1 .3l1.3 0l1.5-.4l1.3 .6l.6 .8l.8 .7l.8 .4l.7-.1l1 .8l.6 1.1l.4 .1l1.4 .6l1.2 1.1l.6 .7l.6-.8l.7-.7l.9-.3l1-.1l1.1-.1l1.3 .2l1-.3l.6-1.3l.9-1.2l1.5-.3l1.1-.5l.8-1l1.2-.8l.3-1.1l.3-.8l.2-.6l.2-.6l-.2-1l-.1-1.4l0-1.5l-.1-1.3l0-1l-1.1-.1l-.7 0l-1.3-.1l-1.7 .4l-.7 .9l-.8 .1l-1.2-.2l-1 .5l-1.4-.2l-1.7-.3l-.7 .1l-.3-.6l-.8-.9l-.9 .4l-1 .4l-1.6-.4l-1.2 .2l-.5-.4l-1.1-1l-1.5 .1l-1.7 0l-1.5-.8l-1 0z"/>
<path fill="#F1ECF8" stroke="#F1ECF8" stroke-width="0.35" d="M146.7 430.4l-.3-1.5l-.7-.9l-.3-1l-.5-1.9l-.5-1.4l-.3-.9l-1.4-.1l-1.7 .5l-1.2 0l-1-.4l-.9-.2l-1-.4l-1.2 .5l-1.7 .3l-1.3 .2l-.5 .6l-.5 .5l-1.1 .4l-.9 1l-.9 .9l-.8 .3l-.6 .5l-.9 .6l-1.9-1l-1.7 0l-.9-.2l-1.1-1.2l.3 1.6l.4 1.3l.4 .5l.7 .6l.8 1.3l-.1 1.3l.4 .6l.6 .4l1.3 1.1l.8 .5l.9 .7l.9 1l1.1 .3l1.6 1l.9 .5l.8-.6l1.5-.3l1.6-.2l1.5 .2l.8-.2l.7-.8l1.2-.4l.8-.9l.9-.8l1.1-.3l.9-.8l1.3-.3l.7-.5l.5-.5l.3-.7z"/>
<path fill="#CD8578" stroke="#CD8578" stroke-width="0.35" d="M121 438.1l-.6 1.2l-.5 .5l-.6 .5l-.8 .7l.5 .1l.6-.7l.4-.4l.4-.5l.4-1l-.4 1.1l-.4 .6l-.4 .5l-.5 .8l-.6 .9l-.8 .7l-.6 .8l-.8 .8l1 0l1.3 1.2l.8 1.2l.6 .2l1.9 1.5l1.2 .7l.9 .7l1.2 .9l1-.6l1.3-.1l.5-1.2l.8-.4l.7-.7l.1-.9l0-1.2l.1-1.4l.3-1.6l.5-1.4l.6-1.3l.5-1.1l.3-.9l-.8-.5l-1.7-1l-1.1-.4l-.9-1l-.9-.8l-.8-.4l-1.3-1.2l-.6-.3l-.4-.6l-.4 1.4l-.6 1.4l-.8 1.5l-.5 1.5l-.1 .2z"/>
<path fill="#D2C6EC" stroke="#D2C6EC" stroke-width="0.35" d="M145.1 432.8l-1.4 .2l-.9 .8l-1.1 .4l-.9 .8l-.9 .9l-1.2 .4l-.7 .8l-.7 .3l-1.5-.3l-1.6 .2l-1.5 .4l-.8 .6l-.4 .9l-.5 1.1l-.6 1.2l-.5 1.4l-.3 1.6l-.1 1.4l0 1.3l-.1 1l-.7 .5l-.8 .4l-.5 1.2l.5 1.6l.1 1.6l.3 .4l1.2 1.4l.9 .4l.8 .6l.8 1.3l.5 .6l1.3 1.1l1.2 .5l.4 .1l.9 1.5l.6 .9l.7 .1l1 .8l.4 .4l.8 .9l1.1 .8l.7-.2l.3-.1l.8 .1l-.3-1l-.1-.4l-.1-1l-.1-1.5l.1-1.1l.1-1l-.5-1.5l.2-.8l.2-.6l.3-.7l.4-1l.7-1l.8-1l.7-.9l.7-1l-.2-1.5l.1-1.2l.1-.9l-.3-1.2l-.6-1.2l-.2-.8l0-.8l-.4-1.4l-.8-1.3l.2-1.1l0-1.4l-.1-1.6l.2-1.5l.5-1.2z"/>
<path fill="#EBC8C0" stroke="#EBC8C0" stroke-width="0.35" d="M127.5 455l-1.6 .3l-1.7-.4l-1.3 .1l-1.2 .6l-.9 1l-1.3 .2l-1.3 0l-.7 1.4l-1 1.5l-1.4 .7l-1.3 .1l-.5 1l-.3 1l-.2 1.2l-.2 1.2l-.4 1l-.5 .6l.1 .4l1.4-.5l1.6 .1l1 .1l.1-.7l.9 .7l1.5 .4l1.2-.9l1.3-.1l1.3 .8l.3 .7l.4 .8l1.5 1.2l1.1 .2l1 .4l1.4 .1l1 0l.2-.7l.7-.5l1.5 .4l1.1-.6l1 .2l1.2 1.5l.5 .5l.5-1l1.3-.7l1.5-.6l1.1-.7l.8-.6l.5-.5l.4-1l.6-.8l-.8 .1l-1.1-.7l-.7-1l-.4-.4l-1-.8l-.7-.1l-.7-.9l-.8-1.5l-.5-.1l-1.1-.5l-1.3-1l-.6-.6l-.8-1.3l-.8-.6l-.9-.5l-1.1-1.5l-.4-.4z"/>
<path fill="#CDC0EA" stroke="#CDC0EA" stroke-width="0.35" d="M127.5 450.2l-1.3 .2l-1 .6l-1.2-.9l-.9-.6l-1.2-.7l-1.8-1.6l-.7-.3l-.8-1l-1.2-1.2l-1-.1l-.5 .5l-.6 .3l-.7 1l-.5 1l-.3 1.4l-.4 1.5l-.6 .7l-1.3-.5l-1.1 .2l-.8 1l-1.1-.1l-.9-.5l-.6 .1l-1.3-.4l-1.6-.6l-.9 .1l-.8-.1l-.8-1.2l-.4-.3l-1.1-.2l-1.8-.4l.3 1l.1 .9l-.2 .9l-.4 1l-.5 1.4l0 .5l.9 1l1 .2l1.1 .8l.9 1.1l.4 .5l1.3 1.6l1.3 1.1l.6 .6l.8 1.4l.7 .7l1.1 .6l1.3 .7l.6 .1l.8 1.1l1.4 1.2l.5-.6l.4-1l.2-1.1l.2-1.1l.3-1l.5-1.1l1.2-.2l1.4-.7l1-1.4l.7-1.3l1.4 0l1.2-.3l1-1.1l1.1-.5l1.4 0l1.7 .3l1.6-.3l.4-1.7l0-1.6z"/>
<path fill="#C8B9E8" stroke="#C8B9E8" stroke-width="0.35" d="M79.2 450.3l1.1 .1l.3-1.3l-1.4-.7zM90.4 452.2l-.4 .6l-.6 .8l-.7 1l-.7 1.1l-1.5 0l-1.1 .1l-.7 .3l-1.3-.2l-1.4-.3l0 1.4l.1 1.4l.2 1.2l-.1 1.1l-.2 .8l.5 .5l.5 .7l.6 .8l.4 .3l.8 .8l.9 1.1l.3 1l0 1.3l.5 1.5l.6 .5l.2 .4l-.2 1.1l-.1 1.3l0 1.4l0 1.3l-.1 1.3l0 1.2l1.1 0l1.2 .1l.7 .4l.4 .6l1.2 .2l1.5-.1l1.3 .5l1.2 .2l.7 .6l1 1.3l1.2 1l.5-.9l.9-.8l1.1-1.1l.5-1.1l.2-1l.3-.7l.5-.6l.7-.7l.2-.7l.1-1.1l.1-1.7l0-1.6l1-1.3l.4-1.2l.3-.6l.5-.4l1.1-.1l1.2-.3l1.2-.3l1.3 .1l1.5 .1l-.2-.3l-1.3-1.2l-.9-1.2l-.6-.1l-1.3-.7l-1-.6l-.7-.7l-.8-1.4l-.6-.6l-1.3-1l-1.3-1.6l-.4-.6l-.8-1l-1.2-.9l-1-.2l-.9-1l-.1-.5l.5-1.4l.5-1l.3-.8l-.1-.9l-.3-.9l-1.6 .6l-1.2 .9l-1.2-.2l-1.3-.5l-1.4 .1l-.7 1.2l-.3 1.2z"/>
<path fill="#EFD2CB" stroke="#EFD2CB" stroke-width="0.35" d="M83.1 462.6l-.6-.7l-.5-.5l0 .1l-1.1 .5l-1 .7l-.6 1.4l-.4 1.5l-.4 1.2l-.3 1l-.9 .3l-1.2-.1l-1 .3l-.8 1.1l-1.2 .6l-1.3 .3l-.4 1l-.3 1.3l-.2 1.7l-.6 1.1l-.9 .8l-1.1 .7l-1 .3l-.8 .4l-.3 1.3l-.4 1.5l-.9 .8l-.8 .6l-.9 .5l-1.4 .4l-1.4-.2l-.9-.4l-1.3-.1l-1 .1l-.4 1.2l-.1 .9l-.1 .9l-.3 1.1l1-.5l1.2 .1l1 .5l.9-.4l1.4-.2l1.4-.3l.4 .9l.2 .9l.6 .9l1 .7l.6 .8l.7 .1l1-.2l1.4-.1l.7-.9l.2-1.2l0-1.5l0-1.5l1-.7l1.4-1.1l1.1-1.6l.8-1.2l.8-.6l.6-.2l1.1 0l1.3-.1l.6-.7l.9 .1l1.6 .3l1.7-.5l1.3-.8l.6-.3l.4 .4l.8 .6l1 .1l0-1.3l.1-1.3l0-1.3l0-1.3l.1-1.3l.2-1.1l-.3-.5l-.5-.5l-.5-1.4l0-1.4l-.2-.9l-1-1.1l-.8-.9l-.5-.3zM41.7 488.8l.2 .4l.2 .5l.6 .2l.7 .7l.2-.7l.1-.5l-1-.4z"/>
<path fill="#CC877E" stroke="#CC877E" stroke-width="0.35" d="M36.6 209l.3 .1l.1 .3l.4-.6l.3-.6l0 .1l-.2 .5l-.4 .2zM54.9 206.1l-.2 .7l0-.2l-.1-.5l-.3 .3l-.4 1.1l-.7 1.2l-1 .8l-1.1 .7l-.9 .9l-.6 .8l-.4 0l-.4-.8l-.6-.7l-.8 .2l-1 .9l-.9 1.1l-.8 1l-.5 1l.1 .8l.7 .1l.6-.4l.4 .3l.3 1l-.1 1l-.6 .6l-.7 1.1l-.5 1.4l.2 .6l.3-.5l0 .1l-.8 1.4l-.6 1.6l.2 .7l.8 .1l1 0l.9 .2l.8 .3l.1 .7l-.6 1.1l.7-1l.5-.8l.3-.2l.3 .7l.4 .6l.6-.2l.8-1l.9-1.2l.8-1.1l.6-.9l.5-.8l.2-.3l0 .6l-.2 1.3l-.1 .6l.2-.8l.8-1.2l1.1-.7l1.1-.2l.8-.7l.5-.9l.2-.6l.2 0l0-.8l.1-1.4l.3-1.1l.5-.9l.6-1.5l.2-1.7l-.2-.5l-.1 .6l.4-.3l.9-1.3l1-.9l.5 .2l0 .2l0-.6l.3-.8l.2-.2l0-.1l0-.6l0-1.5l-.1-1.2l-.8-.1l-1 .1l-.6-1l-.4 .7l.1-.8l.2-.8l0 .1l-.3 .8l-.7 .6l-1.3 .2l-1.3 .4l-1 1zM19.4 223l-.4 .5l0 .2l-.2 .2l-.5-.3l0 .5l.3 .2l.5-.6zM69.9 224.6l-.3 1.5l-.1 .4l.2-.3l0 .1l-.5 1l-1.1 .9l-.8 .4l-.3 .4l.1 .8l.1 .8l.2 1.3l.2 .8l.5 .1l.4 .2l.3 1l.2 1l.5 .2l.5-.5l-.3 .1l-.6 1.2l-.8 1.4l-1.2 .6l-1.2 .1l-.8 .2l-.1 .4l.3 .1l1-.9l.6 .4l.3 1.2l.2 1.3l.3 1.1l.2 1l.6 .4l.9-.2l.6 0l-.6 1.4l-1.1 1.7l-1.2 1.2l-.7 .8l0 .5l.2 0l.1-.8l-.2-.7l-.4 0l-.7 .6l-.7 .4l0 .7l-.1 1.1l.5 1.1l1.1 .6l1 .3l.2 .6l-.6 .6l-.5 .5l-.5 .5l0 .8l.1 .4l.3 0l.3 .1l.1 .8l-.3 1l-.8 .9l-.9 .9l-1.1 .4l-.9 .4l-.4 .3l0-.3l-.3-.4l-.4-.1l-.5 .4l-.6 .6l-.7 .4l.6 0l.5 .4l.7 .8l.7 .7l.3 .2l.1-.3l.3-.2l.6 .1l.8 .2l.7-.2l.5-.7l.5-.6l.9 0l.6 .6l.3 .9l.1 1.1l.2 1l.8 .8l1.1 .3l1 0l.4 0l-.4 .5l-.5 .6l.1 .6l.7 .8l.8 .6l1-.3l.7-.5l-.1 1.2l-.9 2.6l-.9 1.5l-.2 .1l.3 0l.2 .6l-.2 .4l-.2 0l-.1 .6l-.1 1.4l0 .9l-.1 .2l-.3 .3l-.6 .6l-.7 .4l-1 0l-1.1 0l-.9 .4l-.8 .8l-.6 .6l-.2 0l.1-.2l.5 .1l.1 2l-.4 2.8l-.2 1.6l.4-.1l.6-.3l.2 .5l.1 .7l0 .1l-.1 .2l-.3 1.3l0 1.3l.5 0l.9-1l.4 .1l-.4 2l-.9 2l-.7 .6l-.1 .5l0 .8l.3-.1l.2-1l-.2 .3l-.7 1.9l-.7 1.4l.3 .2l-.1 1.3l-.6 1.1l-.2 .3l.1 .7l.2 1.2l.2 .5l.3-.2l.1 .4l-.3 1.1l-.4 .9l-.2 .7l0 .7l-.1 1.1l-.3 .9l-.2 .6l0 .5l.9-.4l.8-.2l.8-.1l.7-.2l.7 0l.2-.3l.2-.4l.2-.4l.1-.3l-.1-.1l-.1-.4l-.1-1.1l.3-1.2l.3-1l-.2-.8l-.4-.6l-.1-.2l.6-.4l.9-1.1l.7-1.1l.4-.4l.3 .1l.1 0l-.2-.2l-.1 .1l.3 0l.8-1.2l.5-2.1l-.2-1.4l-.4-.4l0-.7l.2-1.5l-.1-.9l-.3 .2l-.1 .2l0-1.1l-.2-1.2l0-.3l.2-.4l.5-1.3l.3-1.4l-.4-.1l-.4 .3l.1-.9l.4-1.9l.3-.7l0 .5l.2-.7l0 1.1l0 2.3l.8 1.2l1.1-.6l.7-.8l-.1 .5l-.5 1.5l-.5 1.3l-.4 .8l-.2 .7l.2 .6l.7 .1l1.1-.2l.7 .7l.2 1.6l0 1.6l0 .5l.9-1.2l.9-2.5l.4-1.7l-.2 0l-.4 .3l0-1.1l.2-1.3l.5-.1l.2 .2l.1-.3l.1-1.1l.3-1.3l.7 .2l.8 .2l.5 0l.3 .7l.2 1.1l0 1.5l.1 1.1l.4 .7l.5 .6l.3 .3l.3 0l.3-.2l.3-.2l.3 .3l.5 .5l.6 .5l.8 .5l1.4 .5l1.8 0l-.8 .4l-.3 .1l-1.2 .3l-1 0l-.8-.3l-.3 .1l-.2 .3l-.3 .4l-.5 .3l-.8 .2l.1 .8l0 .7l-.2 .5l0 .3l.1 .5l.2 .8l.2 .7l.3 .3l.1 0l-.1 .4l0 .7l.3 .8l.5 .5l.4 .3l.3 .3l.2 .5l.3 .9l-.5 .5l-.4 .7l-.1 1l0 1.1l.1 1l-.1 .7l-.2 .5l-.4 .6l-.5 .6l-.5 .7l-.6 .7l-.8 1.1l-.8 .8l-.6 .6l-.5 .5l-.6 .5l-.8 .4l-.6 .9l-.4 1.2l-.2 1.4l-.1 1.3l-.8 .2l-.9-.1l-1.2-.4l.1 1.2l.3 1.1l.4 1l.6 1.1l.8 .8l.4 1l.3 1.4l.6 1.3l.8 .9l.2 1.1l.1 1.2l.6-.1l1 .2l0-1l-.1-1.2l0-1.5l0-1.4l-.3-1l.8-.9l.4-1l.6-.4l1.2 1.4l1.2 1.2l.2 1.1l.5 1.2l1 .7l.9 .4l.5 .9l.7 .9l1-.7l.4-.6l.5 0l-.2-1l-.2-1l-.4-1.2l-.4-1.5l1.3 1.1l.9 .3l.7 .3l1.5 .5l1.2-.3l1-.2l1.8 .5l1.5-.5l.8-.7l.5 .1l.4-.2l1.1-.2l1.4-.7l.8-1.1l.9-.3l1.3 0l1.2-.7l1-.8l.6-.5l.3-.4l.8 .1l1.7-.2l1.6-1.1l1.6-.5l1.6 .1l1.4-.2l1.3-.1l.6-.7l.4-.5l.8-.1l1.2-.9l1.3-1.4l.9-1.1l.3-1.3l.2-1.2l.6-.7l.9-.7l.7-1l.7-.9l1.1-.1l1.4-.1l1.2-.8l1-1.1l.5-1.3l-.2-.6l-.5-1.2l-.4-1.5l-.3-.9l-.5-.9l.8-1l.9-.7l.8-.8l.8-.7l.5-1.1l.4-1.3l.6-1l-.7-.2l-.6-.6l-.6-1.2l-.5-.6l-1.1 0l-1.1-.3l-.6 0l-1-.8l-.9-1.2l-.8 0l-1.3-.2l-1.4-1l-.4-.1l-.8-.2l-1.4-1.3l-1.2-.1l-1.3 .2l-1.7-.3l-1 .2l-.1 .8l-.6 .4l-1.2 .1l-1.3 .4l-1.2 .1l-1.1-.3l-.9-.6l-.9 0l-1.3 .3l-1.5-.1l-1.1-.2l-.9-.2l-.7-.8l.7 .2l1.1 .2l1.2-.8l1.3-1.2l1.5-.6l1.2-.2l.6-.5l.8-.3l1.1-.2l.8-.5l.8-.3l1-.6l1.6-.6l2.2 .2l1.4-.2l.5-.5l.6-.1l.8-.4l.8-.9l.7-.7l-.9-1.1l-.7-.2l-.8-.3l-1.2 0l-1.1-.5l-.4-.2l-.8-.7l-1.3-.2l-1.1 .8l-1.7-.6l-1.6-1.1l-.9-.3l1.1 0l1.6 .3l1.4-.2l1-.7l.9-.6l.7-.5l1.3 .1l1.3-.2l.6-1.2l.8-.9l1.3-.1l.8-1l.6-1.2l.4-1.2l.4-.9l.5-.7l.6-.5l.8-.1l.9-.1l.8-.4l.5-1l.3-1.5l.2-1.6l.5-1.2l.4-1l.3-1.2l.2-1.5l.1-1.2l.4-.9l.8-.8l.8-.8l.6-1l.4-1.2l-.1-1.5l-.2-1.4l-.2-1.2l0-.8l1.2-.3l1.2-.4l.7-.8l.5-.6l.5-.5l-.1-1l.1-1.2l.2-1.4l.4-1.5l-.2-.8l-.2-1l-.9-.9l-1.1-.4l-.6-.6l-.5-1l-1.3-.1l-1-.3l-.9 0l-1.1 .4l-.9-.7l-1-1.1l-1.2 0l-1.2 .5l-1.2 .7l-1.9-.1l-1.2-.3l-.6-.1l-1 0l-.7 .7l-1.5-.3l-2.1-.3l-1 .6l-1.3-.4l-1.4-.2l-1.3-.5l-2-.9l-1.4 .8l-.6 1.1l-.8 .1l-1.2 .2l-1.2 .4l-.9 .8l-.8 .6l-1.4-.4l-1.4 .1l-1 .7l-.9 1l-.7 .9l-.7 .7l-1.2-.1l-1.5-.3l-.6 0l-.6 0l-1-.6l1.1-.5l1.2-.7l1.4-.1l1-.4l.4-1.4l.8-1.7l1.4-1.1l1.3-.8l.9-.7l.8-.4l.6-.8l.4-1.1l-1-.3l-1.4 .1l-.9-.2l-.8-.5l.2-1l.4-.9l.8-.8l.7-1l.7-.8l.9-.4l1.1-1l1.5-1.2l1.6-1l.8-1l.3-.9l.9-.4l1.2-.5l.9-.9l.6-.8l.7-.5l.6-1.1l.9-1.2l1.1-1.1l.6-1l-.4-1l-.1-.9l.3-1l.6-1.1l.9-1l.5-.9l.2-.7l-.1-.6l-1 0l-.7-.1l-.5-.3l-.5-.4l-.7-.5l-.8-.4l-.5-.1l-.4 .1l-.5 .2l-.9 .2l-1.2 0l-1.1-.1l-.8 .2l-.7 .1l-.7 0l-.7 .2l-.5 .4l-.4 .5l-.5 .2l-.6-.2l-.7-.4l-.7-.1l-.8 .3l-.9 .5l-.9 .3l-.6 .3l-.5 .2l-.4 0l-.6-.3l-.8-.5l-.7-.2l-.4 .1l-.2 .5l-.2 .4l-.4 .1l-.6 .1l-.8 .1l-.9 .2l-.9 .1l-.9-.2l-.9-.1l-.8 .3l-.6 .4l-.5 .1l-.2-.5l-.4-.8l-.7-.6l-.8-.2l-.9 0l-.8-.1l-.9-.4l-.8-.3l-.7-.1l-.2 1l.1 .9l.1 .4l0 .2l-.2 .6l-.4 .7l-.3 .1l-.2 0l-.3 .5l-.5 1.2l-.6 1.3l-.5 .8l.4 .4l.6 .6l.4 .5l.3 .3l.2 0l0 .5l-.1 1.2l-.5 .7l-.8 .4l-.8 .1l-.9 .1l-.9 .2l-1 .5l-.8 .7l-.4 .8l.4-.5l.5-1l-.1 .5l-.4 1.5l-.4 .8l-.1 .1l-.1 1.3l-.4 2.2l-.3 1.5l0-.1l.2-.1l.2 1l.6 1l.9-.1l.7-.4l.1 .7l-.2 .5l-.5 .3l-.8 .1l-.8 .4l-.8 .6l-.8 .5l-.9 0l-.9-.5l-.7-.6l-.6-.4l-.3 .1zM33.6 254.2l-.3 .4l0 .2l0-.2l-.2-.2l-.1 .6l-.2 1l-.4 .6l-.6 .5l-.2 .9l.4-.8l.5-.5l.5-.9l.3-1l.3-.4l.4 0l.5-.7l.5-1l.5-.4l.6-.2l.7-.9l.3-1.3l-.1-.2l-.3 .8l-.2 0l.4-.6l.6-.9l.9-.6l1.2-.2l1.4-.3l1.1-.6l.3-1.2l-.8 .3l-.9 .9l-.4-.5l.2-2l.2-1.6l.3-.8l.4-1.3l.3-1.5l0-.4l.1 .7l.4-.2l.4-1.4l0-.5l-.3 .6l-.1 .2l.4-1.3l.8-1.8l.6-.8l.2-.1l-.2-.7l-.1-1.1l0-.4l-.4-.9l-.1-1l.4-1.2l.1-.5l-.6 .9l-.9 .4l-.3-1.5l.2-2.1l-.7 1.1l-.6 1.1l-.5 .4l-.5-.3l-.6-.4l-.5-.3l-.7-.1l-.9-.1l-.8 0l-.7 .1l-.4 .7l-.4 1.9l-.2 2.3l.6 .9l1.3-.7l1.1-.3l.1 1.2l-.3 1.5l-.1 .3l.2-.3l.4 .7l.3 1.2l.3 .5l-.4 .7l-.9 2.1l-.7 2.3l0 .2l.6-1.4l.3-.6l-.1 .8l-.3 .9l-.3 0l-.4 .5l-.4 1.6l-.2 1.2l-.1 0l-.2 .2l-.3 1.5l-.3 1.6l0 .6l.5 0l.3 .8l-.3 1.5l-1 1.1zM61.8 241.5l-.1-.4l.5-.2l.4-.4l-.1-.4l-.2-.7l0-1l0-.9l-.5-.9l-.5-1.3l-.2-1.3l-.4-.3l-.6 .6l-.8 .3l-.6-.7l-.6-.9l-.5-.3l-.3-.1l.1-1.2l-.3-1.5l-.7 .1l-.7-.2l-.4 .2l-.3 .8l-.2 .6l-.4 0l-.5-.2l-.7 .6l-.6 1.3l-.7 1.2l-.6 .4l-.5 0l-.2 .4l0 .7l.8 .3l.5 .4l.3 .6l.5 .7l.6 .8l.4 1l-.1 .8l-.1 0l.2-.7l.5 .1l.3 1.4l.3 1.5l.6 .4l.7-.2l.5 .3l0 1l-.3 .6l-.1 0l.5-.2l.7 .4l.9 1.2l.8 1l.7 .6l.6 .2l.8 .3l.7 .5l.4 .3l.2-.1l.2-.4l.9-1.2l.7-1.3l.3-.2l.2 .9l.1 .7l.4 0l.8-.7l.2-1.3l0-.7l-.5 0l-1 .1l-1.1-.4l-.7-.9l-.3-1l-.3-.7zM56.8 252.6l.6-.4l-.1-.4l-.5 .3l-.8-.4l-.8-.8l-.6-.7l-.5-.4l-.1 1.3l.1 1l.2 .5l-.2 .5l.7 0l.7 0l.7-.2zM59.8 257.1l0-.4l-.4-.4l-.5-.6l-.5 .2l-.4 .3l-.3 .1l.2 .9l.5-.2l.4-.4l.3 .1l.3 .1zM49 265.8l.5-.6l.7-.4l.8-.3l.8-.7l.6-.8l.3-.1l.2 .7l0 1l-.4-.6l-.4-.8l-.5-.6l-.5 .3l-.4 .8l-.5 .9l-.7 .5l-.9-.1l-.9 0l-.7 .5l-.5 .8l-.2 .8l-.3 .1l-.4-.3l-.3 .2l-.3 .7l-.5 .7l.4 .2l.1 .6l0 .8l1.1-.4l1.2-.7l.8-1.2l.4-1.2l0-.6l-.2-.1l.1 .3l.2 0zM63 279.8l.4-.4l.6-.8l1.1-.5l1.4-.2l1.5-.1l1.1-1l.7-1.6l.2-.9l-.3 .1l-.4 .4l-.2-.3l.2-1.1l.8-1.2l.6-1.7l.4-1.6l-.2-1.1l-.4-.5l-.3-.1l-.2 .2l-.2 .2l0 .1l-.2-1l-.4-1.5l-.7-.8l-1.1 .3l-1.1 .3l-.8-.7l-.5-.9l-.1-.7l-.2-.3l-.3 .2l-.6 .5l-.8 .7l-1 .8l-.8 .5l-.8 .5l-.7 .4l-.7 0l-.6-.5l-.4-.6l-.3-.3l-.3 0l-.7 0l0 1l-.4 1.4l-.6 .9l-.3 0l.1 0l-.1 1l.2 1.6l.2 1l.4-.3l.5-1l.2-.4l.1 .9l.5 1.5l-.4 .6l0-.2l.1-.6l.1 0l-.3 .9l-.7 1.4l-1.1 1.1l-1.1 .8l.6 .1l.6 0l.9 0l1 .1l.8-.1l.5-.5l.2-.5l.5 0l.7 .6l.7 .7l.3 .4l.1 .5l.3 .9l.8 1zM57.5 283.9l-.1 .2l0 .4l.1-.3l.4-1.4l-.6-.3l-.7-.3l-.6 2.1l-.3 .9l.1-.2l.1 0l.6-.9zM61.5 282.5l-.4 1.4l-.2 .7l-.1-.3l-.1-.1l-.4 .8l-.8 1.3l-1.2 1l-1.1 1l-.7 1.3l.5 .5l1 .2l1 .3l.8 .6l.4 .3l.3-.4l.2 .2l.4-.5l.6-1l.7-.6l.7-.1l.5-.3l.4-1l.3-1.1l.1-.3l-.5 .4l-.8 .2l-.4-.6l.4-1.3l1-1.5l.9-1.4l.1-.9l-.6 .4l-.8 0l-.9-.1l-.8 .2zM78 295.1l-.1-.1l-.4 .3l-.5-.4l-.2-.6l.1 .2l-.6 .6l-.2 .4l-.1-.5l-.5 .9l.1 .3l.4 .3l.5 .1l.2-.5l.4-.7l.5-.4zM49.5 292.8l.2 .9l.8 .1l1.1-.6l.7 .2l.2 1.4l.3 1.3l.2 .6l.1 .1l-.2 .1l-.2 .2l.1 .5l.3 .9l.9 .5l.8 .3l.6 .1l.3 .1l.3 .3l.5-1l.3-.3l.2 .5l.1 .7l.2 .4l.4-.2l.7-.3l.4-.9l.9-1.8l.9-2.4l.1-1.7l-.4-.2l-.2 .3l.1-.1l-.4 .4l-.5 .1l-.5-.4l-.1-1l.1-1.1l-.2-.6l-.8-.2l-.8-.5l-1.1-.3l-1 .4l-1 .8l-1.2 .8l-1.2 .5l-1.1 .5zM75.8 296l-.4 .6l-.5 .8l-.6 .6l-.7 .1l-.5 .5l-.5 1.2l-.2 1l0-.2l-.1-.4l-.1 .7l-.1 1.3l.3 .5l.4 .1l0 1.1l-.2 1.7l-.1 1l.9-.2l.7-.3l.6-.3l.5 .1l.6 .3l.7-1.1l.5-.7l0 .5l-.3 1l-.3 0l-.1-.7l0-.5l.5-.7l.7-1.7l.6-2.1l-.3-.8l-.7 .5l-.3-.4l-.3-1.2l-.1-1.5l0-.8l-.2-.2zM156.1 126.7l-.5-.4l-.5-.1l-.4 .3l-.6 .3l-.7 .1l-.2 1l-.1-.2l-.4 .3l-.3 .8l.2 .6l.4 .8l.3 .9l.4 .6l.1-.2l.4-.6l.5-1l.8-1l.8-.7l.4-.4l.2-.4l-.3-.3l-.4-.1zM152 129.2l0 .2l-.2 .2l-.4 .1l-.5 .3l.2 .8l-.2 1.1l-.6 1.1l-.5 1.1l-.3 1.3l-.2 .8l.2 .3l.5 .3l.7 .2l.8 .6l.6 .5l.2-1l0-.4l0-.3l.2-1.2l.4-1.5l.3-1l-.3-.5l-.3-.8l-.2-1.3l-.1-1.1l-.2-.1zM155.8 135.2l.5-.7l.5-1.1l.4-1l-.9-.3l-.9-.2l-.6 .1l.4 .6l0 .7l-.2 .9l.3 .5l.3 .4zM157 142.2l-.3-.8l-.7-.4l-.7-.8l-.8-.7l.5 .7l.3 .9l1 .7zM145.9 140.2l.3-1.2l.4-1.4l.2-.8l-.1-.2l-.2-.4l0-.7l-.5 .8l-.6 .3l-.6 0l-.6 .1l-.5 .6l-.3 .6l-.2 .3l0 .2l.2 .5l.1 .7l-.2 .7l-.4 .8l-1 .4l-.8 .7l-.6 .8l-.3 .5l.4-.1l.1 .7l-.1 1.4l0 1.3l.2 .7l.4 .2l.4 0l.4-.2l.6 .1l.8 .6l.4 1.1l.5 .7l.2 .1l.2-.1l.5 0l.8 0l.9 0l.6 0l.2 .1l-.4 .3l-.2 .7l-.1 .6l-.2 .6l-.5 1.1l-.4 1.5l0 1.3l.6 .6l.4 .3l.2 .5l.1 .5l.4 .4l.3 .3l0-.5l-.1-.5l0-.2l.2-.4l.4-.8l.4-1.1l.4-.4l.5-.4l.3-.7l-.1-.4l-.3 0l.4-.2l.5-1.4l.7-1.9l.6-1.2l.4-.3l.2-.3l.3-.3l.3 0l.3 .1l-.1 .2l0-.2l0-1l0-1.1l-.3-.7l-.2-.2l-.1-.8l.4-1.4l.4-1l.2-.6l-.1-.9l-.1-.9l-.2-.6l-.3 0l-.2-.1l.1-.8l-.5 1l-.4 .6l-.4 .1l-.2 .2l-.2 .2l-.3 .5l-.6 .2l-.9 .1l-.9 .3l-.3-.4l-.6-.3l-.7 0l-.6 .1zM136 151.6l.1 .2l.2-.5l-.7-.5l-.8-.6l-.3 .6l-.2 .3l.9 .3zM142.9 171.3l-.3 .4l-.3 .3l-.8-.3l-.6-.7l.3 .6l.4 .3l.6-.2zM122.4 177.5l-.4 .1l-.3-.4l-.3-.7l-.4-1l-.6 .5l-.5 .6l-.4 .4l-.4 .4l-.4 .5l.6 .6l.5 .5l.3 .4l-.1 .4l.1 .1l.4-.3l.6-.7l.6-.8l.5-.6zM125.3 181.7l.9-.3l.7-.7l.5-1l.4-.7l.3-.3l.2 0l-.2-.4l-.2-.8l-.1-.6l.1-.1l.3-.4l.7-1.2l-1 .7l-1 .6l-1 .2l-.7-.3l-.2-.1l.2 .1l.2 .4l0 .3l-.4 .1l-.7 0l-.3 .5l-.4 1.1l-.3 .9l-.1 .2l.1 .1l.3 .3l.6 .7zM116.4 195.7l.3 .4l.4 .3l.5 .3l.3 .4l.2 .2l.3-.6l.1-.5l.1-.5l.1-.3l.3 0l.6-.2l.8-1l.4-1.9l.1-1.2l-.3-.4l-.4-.1l-.6-.1l.3-.5l.2-.7l.2-.7l.4-.4l.7-.5l.7-1.3l.7-1l.2 .1l0 .4l0-.6l.3-.9l-.3-.7l-.3-.9l-.2-.8l-.4-.7l-.7 .5l-.8 1.2l-.9 1.4l-.8 1.1l-.7 .7l-.5 .5l-.2 .6l-.2-1.1l-.1-1l-.1-.5l-.2-.1l-.3-.1l-.8 .3l-.8-.4l-.8-.3l-.5 .1l-.4 .3l-.4 0l-.3 .1l-.6 .7l-.7 1.3l-.5 1.2l-.3 .5l-.1 .4l.5 .8l.8 .6l.7 .1l.3 .5l-.1 1.3l0 1.1l.5 0l.5-.1l.5 .1l.7 .3l.7 .5l.6 .7z"/>
<path fill="#F5E3DE" stroke="#F5E3DE" stroke-width="0.35" d="M155.6 467.3l-1.2 0l-1.4-.4l-1-.5l-.4-.6l-.7-1l-.7 .6l-1.1 .6l-1.3 1.2l-1.5 .6l-1.3 0l1.3 1.6l1.1 .5l.8 .3l1 .8l1.3-.3l1.5 .3l1.4 .4l.4-.7l.2-1.4l.5-1.4z"/>
<use href="#mesh" fill="none" stroke="#000" stroke-width="0.33" stroke-linejoin="round"/>
</g>
<rect x="8" y="108.95" width="214.2" height="400.15" fill="none" stroke="#000" stroke-width="1.45"/>
</g>
<g transform="translate(461 0)">
<g shape-rendering="geometricPrecision">
<path fill="#E8E4F4" stroke="#E8E4F4" stroke-width="0.35" d="M115 369.8l-.6 .7l-.5 .8l-.3 .7l.3 .8l.4 .9l-.5 .7l-.4 .7l.1 .8l.1 1l0 1.2l.2 1l.4 .7l1.5 .1l1.1 .1l.2-1.4l.4-1.2l.9-.3l1.1 .3l1.3 .2l1.2 0l1-.6l.4-1.1l.6-1.2l.6-1.2l-.8-.6l-1.1 0l-1-.2l-1.2-.1l-1.1 .1l-.9-1.2l-1.4-1l-.1-.5l-.1-.5l-.1-.7l-.8 .4z"/>
<path fill="#F2E0DC" stroke="#F2E0DC" stroke-width="0.35" d="M169.6 435.4l-.5 1l-.2 1.2l0 1.6l.3 1.6l.9 1.1l.6 .3l.9 .5l.6 1.3l.6 .3l1.1 .1l1.4 .4l1.2 .4l1.3-.1l.9 .2l.7 .7l.8-.3l.6-1.3l.7-1.3l.6-1.2l.4-1.1l-.3-1.1l-.4 .2l-.7-.2l.7-.2l.5-.4l.2-.7l.3-.7l0 .6l.3 .4l-.3 0l.6 .1l-.5-.6l-.1-.7l.1-.2l-.7-.9l-.8-.5l-.5-.7l-.3-1.4l-1-.5l-.7 .5l-1.2-.3l-1.6-.4l-.9 .1l-.7-.3l-.8-.3l-.7 .5l-.8 1.4l-1.4 .5z"/>
<path fill="#D08A80" stroke="#D08A80" stroke-width="0.35" d="M124.7 321.4l-.2 1.5l.2 1.6l.2 1.1l.3 .8l.2 1l.3 0l1-.6l1.1-.1l.6-.1l.5-.6l1.5-.1l1.9-.3l1.1-.8l1.1 .3l.9-.2l.8-.6l1.3 .7l1-.4l.7-.5l.8-.6l.9-.8l.9-1.4l.5-1.9l.3-1.7l.2-1.5l.2-1.4l.5-1.5l.9-1.2l-.1-.9l-.1-.3l-.3-.7l-.2-1.5l.2-1.4l.3-1.2l-.1-1.1l-.6-1.4l-.7-.7l-.2-.2l-.4-.7l-.9-1.2l-.7-.6l-1.1-.3l-1-1.3l-.4-.9l-1.1-1.2l-1.5-1.3l-.6 1.1l-.3 1.3l-.6 1.1l-.8 .7l-.8 .8l-.9 .7l-.9 1l.6 .9l.3 .9l.4 1.4l.5 1.3l.3 .7l-.6 1.2l-1 1.1l-1.3 .7l-1.3 0l-1.1 .2l-.7 .9l-.7 1l-.9 .7l-.5 .8l-.2 1.2l-.4 1.3l-.9 1.2l.2 .6l.5 .9l.8 .9l.3 .6zM133.4 385.5l-.4 .7l-.7 .8l-1.2 .7l-1.6-.1l-1.2-.1l-.6 .6l-.7 1l-1.2 .9l.7 .8l.8 1.2l.1 1.8l.2 1.3l.7 .9l.8 .9l0 .8l-.2 .9l-.1 1.1l0 1.4l0 1.6l0 1.6l1-.8l1.4-.9l1.9 .7l.9 .6l.5-.2l1.1-.4l1-.6l1.3 0l1.4-.3l1.1-.4l1.2 .1l1.3 0l1.6 .5l.1-1l0-1.2l0-1.5l0-1.6l.1-1.5l.1-1.5l-.8-.4l-.9-.4l-.4-.8l-.6-.9l-.9-.4l-.5-.7l-.2-1.7l-.3-1.6l-.4-1.4l-.4-1.1l-.7-1l-.7-.8l-.9-.4l-.3 .1l-.5 .7l-1.2 .5l-1 .9z"/>
<path fill="#E0A89E" stroke="#E0A89E" stroke-width="0.35" d="M144.4 311.9l-.8 1.1l-.6 1.3l-.2 1.3l-.2 1.4l-.2 1.5l-.4 1.7l-.6 1.6l-.9 1.1l-.8 .7l-.6 .5l-.8 .4l-.9 .3l1.4 1.2l1.2 .2l1.2 1.1l1.2 .3l1-.4l2 .9l1.6 .2l.8 .2l1 .7l.4-.5l-.1-.4l-.2-.6l-.3-1.9l-.3-1.3l-.4-.9l-.8-1.5l-.3-1.4l-.3-.8l-.6-1.1l-.8-1.4l-.3-1.2l0-1.2l-.1-1.6z"/>
<path fill="#DFA79D" stroke="#DFA79D" stroke-width="0.35" d="M125.5 327.4l1.1 .1l.9 .1l.8 .6l1.1 .6l.9-.2l0 1.1l0 1.4l.1 1.6l-.1 1.5l.7 1.5l.7 .6l.5 .7l.7 1.2l.4 1.1l-.7 .7l-.9 .9l-.7 1.1l-.7 1.1l-1 .9l-.9 .9l-.6 .9l-.4 .9l-.2 .9l-.1 1.1l-.3 1.2l-.6 1l.9 .3l.9 .7l.9 .8l.7 .8l1.1 .4l1.1 .2l.9 .9l1 .6l.4 .7l.2 .6l1.5 .1l1.2-.1l.4-.7l.9-.1l1.4-.5l1.7-.6l1.3 .1l.9 0l1.6-.2l1-.6l.9-.4l.8 .4l1 .3l.8-.6l1.5 .1l2 .6l1 .2l.7 .9l.9 .3l1-.8l1.2-.8l.8-.7l.7-.7l1.2-.8l1-.9l1.4 .4l1.3 .6l.9-.7l1.1-.9l1.3-.6l1.2-.1l1.2 0l.9-.8l-.8-.3l-.8-1.7l-.2-1.4l-.5-1l-.9-1l-.5-.1l-.6-.5l-.7-1.4l-.4-1.1l-.6-.6l-1.6-.3l-1.1-.5l-1-.7l-1-1.3l-.6-.6l-1-.1l-1.4-.8l-.4-.1l-.8-.1l-1.6-1.1l-1-.3l-1.1-.6l-.5-1.7l-.3-1l-.9-.8l-1.1-1l-.4-.6l-.5 .5l-.9-.8l-.8-.1l-1.7-.2l-1.8-.9l-1.1 .4l-1.2-.3l-1.2-1l-1.2-.2l-1.3-1.1l-1.3-.6l-.8 .6l-1 0l-1.1-.2l-1.1 .9l-1.8 .2l-1.6 .1l-.4 .6l-.6 .1l-1.2 .1z"/>
<path fill="#DDA59A" stroke="#DDA59A" stroke-width="0.35" d="M119.1 353.4l-.8 .9l-.7 1.3l-1 1.4l-1.1 1.1l-1 .8l.1 1l.3 .8l.5 .8l.5 .8l.4 1l.6 1.1l.5 1.2l.4 1.4l.4 1.2l-.4 .3l-.8 .1l-.8 .5l.1 0l.3-.2l0 .7l.2 .5l.1 .5l1.3 .8l1.1 1.2l1.1-.2l1.6-.3l1.3-.5l.2 .4l1 .2l.8 1.1l.5 .9l.9 .7l.6 .8l.6 .8l.7 .6l.4 .6l.5-.2l1.4 0l1.4 .1l.9-.8l.9-.9l1-.4l1.1-.2l1.1 .5l.5-.7l.4-.8l.2-1l.1-1.2l-.7-.6l-.6-.9l-.6-1l-.7-1.2l-.4-1.4l-.2-1.1l-.8-.5l-.4-.7l-.1-.8l.1-1.1l.5-1.3l.6-1.3l0-1.2l-.4-1.1l-.4-1l-.3-.7l-.3-.7l-1-.5l-.9-1l-1.2-.2l-1.1-.4l-.6-.8l-.9-.8l-1-.7l-1.3 .1l-1.9-.5l-1-.6l-.4 0l-1.3 .1l-1.1 .5l-1.5 .2l-1.6-.1l-.6 0l-.9-.3l-1.5-.4l-1.4-.8l-1.8-1l.3 1l.1 1l.1 1.2l.9 .8l.7 .7l.9-.3l1-.3l.9-.5l.8 .7l1.1-.1l.8 0zM78.1 467.9l-.8 .2l-1.2-.1l-1 .4l-.8 1l-1.2 .6l-1.3 .3l-.4 1l-.3 1.3l-.2 1.7l-.6 1.1l-.9 .8l-1.1 .7l-1 .3l-.8 .4l-.3 1.3l-.4 1.5l-.9 .8l-.8 .6l-.9 .5l-1.4 .4l-1.4-.2l-.9-.4l-1.3-.1l-1 .1l-.4 1.2l-.1 .9l-.1 .9l-.3 1.1l1-.5l1.2 .1l1 .5l.9-.4l1.4-.2l1.4-.3l.4 .9l.2 .9l.6 .9l1 .7l.6 .8l.7 .1l1-.2l1.4-.1l.7-.9l.2-1.2l0-1.5l0-1.5l1-.7l1.4-1.1l1.1-1.6l.8-1.2l.8-.6l.6-.2l1.1 0l1.3-.1l.6-.7l.9 .1l1.6 .3l1.7-.5l1.3-.8l.6-.3l.4 .4l.8 .6l1 .1l0-1.3l.1-1.3l0-1.3l0-1.3l.1-1.3l.2-1.1l-.3-.5l-.5-.5l-.5-1.4l0-1.4l-.2-.9l-1-1.1l-.8-.9l-.5-.3l-.5-.8l-.6-.7l-.5-.5l0 .1l-1.1 .5l-1 .8l-.6 1.3l-.5 1.5l-.3 1.3zM43.7 489.4l-1-.4l-1-.2l.2 .4l.2 .5l.6 .2l.7 .7l.2-.7z"/>
<path fill="#E5B5AB" stroke="#E5B5AB" stroke-width="0.35" d="M123.3 317.2l-1.4 1.4l-1.2 .9l-.9 .1l-.3 .5l-.7 .8l-.9 .3l-.8 .3l-.7 .6l-1 .5l-1.6 .4l-1.6 .9l-1.2 .6l-.7 .4l-.2 1l-.2 1.1l-.8 1l-.8 .9l-.5 1.2l-.2 1.3l-.2 1.1l-.3 1l-.5 .9l-.7 1.1l-.7 1.3l-.6 1.3l.3 .9l.7 .5l.5 .5l.3 1.1l.5 1.1l.7 .8l.7 .6l1.1 .4l1 .4l.4 1.2l-.1 1l0 1l.2 .8l1.7 1l1.4 .8l1.6 .5l.8 .2l.7 0l1.6 0l1.5-.2l1.2-.4l1.2-.1l.4 .1l1.1 .5l1.9 .5l1.3-.1l-1-.4l.6-1l.3-1.2l.1-1l.2-.9l.3-.9l.7-.9l.9-.8l1-.9l.7-1.2l.7-1.1l.8-.8l.8-.8l-.3-1.1l-.8-1.2l-.6-.8l-.6-.5l-.7-1.5l0-1.5l0-1.6l-.1-1.5l.1-1.1l-1 .2l-1.1-.6l-.8-.6l-.9-.1l-1.1-.1l-.3-1l-.1-.8l-.3-1l-.1-1.6l.2-1.6l.1-.9l-.3-.7l-.7-.8l-.6-.9z"/>
<path fill="#EFD0C9" stroke="#EFD0C9" stroke-width="0.35" d="M118 371.1l.8 1.1l.7 .6l.9-.1l1.1 .1l1 .2l1.1 0l.8 .5l-.6 1.2l-.5 1.1l-.5 1.2l-.9 .5l-1.3-.1l-1.2-.1l-1.2-.4l-.9 .4l-.3 1.2l-.2 1.4l-1.2-.1l-1.4 0l.9 .7l.7 1.2l-1.2-.8l-1.3 0l-.9-.4l-1-.9l-.8-.7l-.4 .1l-1.1-.6l-1.5-.8l-.9-.2l.4 .9l.8 1l1.3 1.1l.8 1.3l.8 .3l1.1 .1l1.2-.2l1.4-.5l1.3 .5l.2 1.1l.6 .9l.8 1l.4 1.2l.2 1.1l.3 1.2l-.3 1.4l-.2 1.2l0 .8l1-.6l1.8 .1l1.4 0l.6-.5l1 .1l1.1 0l1-.7l1.2-1l.8-.9l.6-.7l1.2 .1l1.6 .1l1.2-.7l.7-.8l.5-.7l.6-.7l1.1-.8l1.1-.5l.5-.7l.3-.1l1.2 .5l0-.1l-1.2-.7l.1-1.3l.1-1.3l-.1-1.2l-.2-1l0-1l.3-1l-1.1-.5l-1.1 .2l-1 .4l-.9 .9l-.9 .8l-1.4 0l-1.4-.1l-.5 .2l-.4-.6l-.7-.6l-.5-.8l-.7-.8l-.9-.7l-.4-.9l-.8-1.1l-1-.2l-.2-.4l-1.1 .4l-1.3 .2l-1.2 .4l-.8-.2zM113.6 371.9l-.2 1l-.3 1l.2 .6l.1 .7l.5-.8l.5-.7l-.4-.9z"/>
<path fill="#DDA399" stroke="#DDA399" stroke-width="0.35" d="M135.1 360.2l-.6 1.3l-.5 1.2l-.1 1.2l.1 .9l.4 .6l.8 .5l.3 1.1l.3 1.4l.7 1.3l.6 .9l.6 .9l.7 .7l.5-.1l.4 .2l.4 1l1 .5l.9 .5l.4 .9l.4 1l.5 1.1l.5 1.3l1.1 .9l1.8-.2l.9 0l1 .7l1 .2l1.2-.1l1.3-.1l1.2-.7l.2-1.5l.2-1.2l.4-.8l.7-.7l1-1l1-1l.9-.7l.6-.8l.8 .4l-.3-1.2l-.4-.9l-.4-1l-.7-.4l-.4-.5l.5-.5l.5-.8l.6-1l.7-1.2l.8-1.3l-.3-.8l-.4-1.2l-.1-1.4l.1-1l-.3-.8l-.7-.9l-.7-1l-.4-.9l-1 .8l-.9-.4l-.7-.8l-1-.2l-2-.6l-1.5-.1l-.8 .6l-1-.3l-.8-.4l-1 .5l-1 .5l-1.6 .2l-.9 0l-1.2-.1l-1.7 .6l-1.5 .5l-.8 .1l-.4 .7l-1.3 .1l-1.4 0l.3 .9l.4 1.2z"/>
<path fill="#D9998E" stroke="#D9998E" stroke-width="0.35" d="M159.5 363.3l-.8 1.3l-.7 1.2l-.6 1l-.5 .7l-.5 .5l.5 .5l.6 .5l.4 .9l.4 .9l.2 1l-.7-.3l0 .1l1 .5l1.5 1l1.1 .5l.6 .2l1.3 .3l.8-.6l.6-.6l1-.4l1.3-.4l.8-1l.8-.4l1 0l.7-.2l.7-.4l1.2-.2l1 0l.5 0l.7 .7l1.1 .9l.9 .7l1.7 .3l1.3-.2l-.5-.3l-1.7-.7l-.6-.6l-.7-.4l-1.2-.9l-1-1.1l-.8-.7l-.7-.9l-.3-1.2l-.7-.4l-1.3 .2l-1.1 .4l-1 .1l-.9 .2l-.5 .1l-.5-.2l-.8 .3l-1.3 .3l1.2-.5l.9-.6l.4-.4l.5-.2l1 .1l1.1-.2l.8-.8l1.3 .1l1.2 .2l.3 .9l.6 1.4l1.2 1l1.1 .8l1.2 .5l1.2 0l.7 .1l-.3-.7l-.9-1l-.6-1l-.3-.6l-.5-1.2l-.4-1.4l-.7-.5l-1.1-.8l-.3-1.3l.1-1.1l-.4-1.4l-.4-1.3l-.4-1.1l-.4-.8l.1-1.3l.5-.9l1.1-.6l-.9-.6l-1.1-1.4l-.6-.7l-1 .9l-1.2-.2l-1.2 .2l-1.3 .6l-1.1 .9l-.8 .7l-1.4-.7l-1.3-.3l-1.1 .9l-1.2 .8l-.7 .7l-.8 .7l-1.1 .8l-.1 .1l.5 1l.8 1.1l.7 1l0 .9l0 1.5l.4 1.4z"/>
<path fill="#7D0F18" stroke="#7D0F18" stroke-width="0.35" d="M150.4 396.7l-1.4 .4l-1 .5l-1 .3l-1.2 .5l-.6 1.5l.2 1.4l.1 1.1l.4 .8l.4 .6l.7 0l.9 .3l.7 .4l1.2 .6l.7 .9l.9 .8l1 1.5l.5 1.4l.9 .4l.7-.9l.6-.8l.5-.8l.5-.8l.8-.6l1.7 .3l1.2-.7l1-.8l.7 .5l.4 .3l.4-1.1l.6-1.2l.6-1.6l.8-1.6l1.3-1.1l1.5-.6l1.1-.9l-.7-1l-1.1-.8l-1.3-.4l-.5-.8l-.7-.9l-1.4-.8l-.9-.9l-.8-.7l-.7 1.1l-.9 .5l-1 .4l-1 .7l-.9 1l-.9 .4l-.5 .7l-.8 .5l-1.4-.3l-1.1 0z"/>
<path fill="#DB9E93" stroke="#DB9E93" stroke-width="0.35" d="M137.2 375.6l-.3 1.1l0 1l.2 1l.1 1.2l-.1 1.4l-.1 1.3l.9 .6l.8 .8l.6 .9l.4 1.2l.4 1.4l.4 1.6l.2 1.6l.4 .8l1 .4l.6 .8l.3 .8l.9 .5l.8 .4l-.1 1.6l-.1 1.7l0 1.6l0 1.5l0 1.2l-.2 .9l1 .9l1.3 0l1 .3l.4 .7l1 .7l.5-.7l-1-.5l-.6-.4l-.9-.2l-.6 0l-.5-.6l-.3-.8l-.2-1.1l-.1-1.3l.5-1.4l1.1-.4l1-.4l.9-.5l1.2-.3l-.3-1.1l.1-1.3l.3-1.4l.1-1.3l-.4-.9l-.6-.6l-.4-.9l-.1-1.2l.4-.5l.4-.6l0-1.4l0-1.3l-.2-1.2l-.1-.9l0-.7l.1-.7l.2-.8l-1.2-.2l-1.1-.7l-.9 0l-1.7 .3l-1.1-1l-.5-1.3l-.5-1l-.4-1l-.4-.9l-.9-.5l-1-.6l-.4-.9l-.4-.3l-.6 .1l-.1 1.1l-.2 1l-.4 .8z"/>
<path fill="#D5958A" stroke="#D5958A" stroke-width="0.35" d="M149.4 380.2l-.2 .7l-.1 .7l0 .7l.1 .9l.2 1.1l.1 1.3l-.1 1.4l-.4 .6l-.4 .5l.1 1.3l.4 .9l.6 .6l.3 .8l0 1.3l-.3 1.5l-.1 1.3l.3 1.2l.6-.2l1.1-.3l1.2 0l1.3 .3l.9-.5l.4-.7l.9-.4l.9-.9l1-.7l1-.4l.9-.6l.7-1.1l.7 .7l.8 .8l1.2 .7l.9 .8l.3-1.1l-.1-1l-.4-1.2l-.4-1.4l-.3-1.4l0-1.4l.2-1.3l.7-.9l-.2-.9l-.3-.9l-.2-1.1l-.1-1.1l0-1.1l-.1-1.3l0-1.3l.1-1l-.5-.6l-.7-.7l-.5-1.2l-.5-.1l-1-.5l-1.6-1l-1-.5l-.6 .8l-.9 .7l-1 1.1l-1.1 .9l-.6 .7l-.4 .8l-.2 1.3l-.2 1.5l-1.1 .6l-1.2 .2z"/>
<path fill="#E3AFA5" stroke="#E3AFA5" stroke-width="0.35" d="M163.3 374l-.9-.2l-.6-.2l.4 1.2l.7 .7l.5 .6l0 .9l-.1 1.4l.1 1.2l.1 1.1l0 1.2l.2 1.1l.4 .9l.1 .9l-.6 .9l-.2 1.3l.1 1.4l.3 1.4l.3 1.3l.3 1.2l.1 1.1l-.2 1l.4 .8l.7 .4l1.2 .4l.8 .8l.7 .9l-1 .8l-1.3 .5l-1.2 .8l-.8 1.3l.8 .2l1 .7l1.3 .7l1.6 .2l.6-.8l.4-.9l1.3-.2l.6 .2l.7 .4l1.5 .3l1-.5l.9-.8l1.4-.3l.9-.5l1-.6l.9-.8l.6-1.1l.2-1.4l.2-.7l-.8-.5l-.7-.8l-.2-1.3l.3-1l.4-.9l.7-.6l.9-.2l.9-.5l.6-1.1l.4-1.4l.2-1.2l.2-1l.1-1l0-1l-.4-1.2l-.1-1.4l.1-1l-.3-.6l-1-.7l-.7-.9l-.3-.8l-.6-1.4l-.5-1.6l-.6-.8l-1.2 .1l-1.7-.3l-.9-.6l-1.1-1l-.8-.7l-.5 0l-.9 0l-1.2 .2l-.7 .3l-.7 .3l-1 0l-.8 .4l-.8 1l-1.3 .4l-1 .4l-.7 .6z"/>
<path fill="#F0D3CD" stroke="#F0D3CD" stroke-width="0.35" d="M168.5 402.9l-1.5-.2l-1.3-.8l-1-.7l-.8-.2l-.7 1.4l-.5 1.3l-.5 1.1l-.3 .9l-.4-.3l-.8-.5l-1 .9l-1.2 .6l-1.6-.3l-.8 .6l-.6 .8l-.5 .8l-.6 .8l-.6 .9l-.9-.4l-.5-1.4l-1-1.5l-.8-.8l-.8-.9l-.4-.2l-.5 .6l1.1 .9l.7 .5l.5 .9l.2 1.3l0 1.1l.5 .7l.6 1.2l.1 1.6l-.8 .8l-.7 1.2l-.5 1.6l-.5 1.6l-.4 1.3l.8 .2l1.3 .3l.9 .4l.7 .3l.9 1.2l.5-.4l.1-.6l.8-.4l1.5-1l1.7-1l1.3-.2l.8-.1l.7-.5l1.4 0l1.2 .3l.6 .2l.1-1.2l-.2-1l-.4-.6l-.4-.4l.8-.4l1.3-.5l1.2-1.3l.9-1.7l.6-1.3l.4-1.1l-.8-1.2l-.7-1.1l-.3-1.4l-.3-1.4l.7-.7z"/>
<path fill="#CD8176" stroke="#CD8176" stroke-width="0.35" d="M118.4 388.3l-1 .7l-.8 .8l-.5 1.2l-.6 1.6l-.9 1.1l-1.2 .3l.1 .8l.5 1.2l.4 1.3l.2 1l.3 1.2l.3 1.5l-.5 .7l-.4 .7l-.3 .9l-.3 1.1l-.4 1.2l-.4 1.1l-.3 1.1l1-.1l1.1-.1l.9 .5l.9 .3l1-.2l1.2-.2l1.4-.7l1.6 .2l1.5 1.5l.8 .2l.9-.7l1.1-.4l1.2-.5l.9-.7l.3-.8l.3-.9l.2-1l0-1.6l0-1.5l.1-1.4l.1-1.2l.1-.9l0-.8l-.7-.8l-.8-1l-.2-1.3l-.1-1.7l-.7-1.3l-.8-.8l-.2 .3l-1 .6l-1.1 0l-1-.1l-.6 .5l-1.3 0l-1.8 0l-1 .5l0-.8l.2-1.2z"/>
<path fill="#D08A7F" stroke="#D08A7F" stroke-width="0.35" d="M144.5 402.6l-1.6-.6l-1.3 .1l-1.2-.2l-1.2 .4l-1.3 .4l-1.3-.1l-1 .5l-1.1 .5l-.5 .1l-.9-.5l-1.9-.7l-1.4 .9l-.9 .7l-.3 1l-.3 1l-.3 .8l1 .2l1.3 .5l.5 .6l.4-.2l1.4 .7l.8 .8l.7 .9l.7 1.7l1 1.1l1.6 .5l1 .2l.8-1.1l.9-.9l.8-.8l.7-.8l.7-.8l.5-1.1l.3-1.5l.6-1.2l1.2-.5l1.2-.4l.7-1.1l-1.3 .1l-1.1-.9z"/>
<path fill="#DB9D92" stroke="#DB9D92" stroke-width="0.35" d="M124 409.2l-.7-.3l-1.5-1.5l-1.7-.1l-1.4 .6l-1.2 .2l-1 .2l-.9-.3l-.9-.5l-1.1 0l-1 .2l-.4 1.1l.6 .8l.7 1.7l.3 1.1l.8 .1l1.1 .6l.6 .5l-.3 1.2l-.2 1.4l-.3 1.3l-.4 1.2l-.4 .9l.4 1.3l.3 1l.2 .6l0 .5l.1 1.1l.8 1.2l.6 .2l1.4 .2l1.4 .4l.5-.4l.5 .1l1.2 1.2l.9 0l1.7 .1l1.8 1l.9-.6l.6-.5l.8-.3l.9-1l1.1-1l1.2-.4l.4-.7l1.1-.5l1.9-.2l1.5-.6l1 .4l.9 .2l1 .4l1.2 0l1.7-.5l1.4 .1l.6 0l.8-.3l1.2-.4l1.6 0l.8-.6l.2-.8l.5-.7l.4-1.4l.4-1.6l.6-1.5l.7-1.1l.8-.8l0-1.6l-.7-1.2l-.5-.8l0-1l-.2-1.4l-.5-1l-.7-.5l-1-.8l-1-.7l-.4-.7l-1-.3l-.7 1l-1.2 .4l-1.1 .5l-.6 1.2l-.3 1.5l-.6 1.1l-.6 .8l-.7 .8l-.8 .8l-.9 .9l-.8 1.1l-1-.3l-1.6-.4l-.9-1.1l-.8-1.8l-.7-.8l-.8-.9l-1.3-.6l-.5 .2l-.4-.6l-1.3-.5l-1.1-.2l-.8 .7l-1.2 .5l-1.2 .5zM182.1 419.5l-.7 .6l-.5 1l-.3 1.4l.1 1.8l.2 1.8l.4 1.6l.2 1.3l-.1 .9l-.3 .6l-.5 .7l-.5 .9l-.5 1.4l.9 .3l.3 1.4l.5 .8l.8 .5l.7 .8l-.1 .2l.2 .7l.3 .5l2 .6l1.5 0l1.1-.4l1.1 0l.8-.2l1-.5l1.1-.7l.5-1.1l.7-.5l1.2 .1l1.1-.3l.9-.9l.6-.9l.5-.9l.3-.8l.6-1l1-.9l1.1-1l.7-1.3l.4-1.3l.5-.8l.6-.4l.5-.5l.5-1l.6-1.1l-.8 0l-.4-.2l-1.4-.6l-1.4-.4l-.6-.4l-1.1-.4l-.9 .1l-.7 .2l-1.4-.4l-1.7-.3l-1 0l-1.1 .1l-1 .7l-.8 .6l-1.1-.7l-1.5 0l-1.2 .6l-.9-.2l-.7-.6l-1-.5z"/>
<path fill="#EBC6BE" stroke="#EBC6BE" stroke-width="0.35" d="M86.2 382.3l.7 .7l1.3 1.3l.8 1l.6 .8l.9-.6l1.1-.4l1.1-.4l1.2-.2l.9-.8l-.1-1.3l-.1-1.3l-.6-1.2l-1.3-.3l-.8-.6l-.5-1.4l-.6-1.2l-.4-.9l-1-.7l-1.6-.6l-1 .1l-.9-.7l-.7 .6l-.5 .8l-.7 1l-1 1.1l-.9 1.1l.8 1.5l.8 1.1l.9 .3l1.2 .5zM99.3 379.4l-.4 0l-.7 .6l-.8 .6l-1 .7l-.9 1.5l-.5 1.9l-.7 1l-1.1 .5l-1.1 .4l-.9 .9l-.7 .9l-.6 .7l-.5 .6l-.8 .3l-1.2 0l-1.1 1l-1 1.2l-1.3 .2l-1.1 0l-.8 .4l-.7 .7l-.4 1l-.6 1l-1.1 .3l1.5 .5l1 1.1l.4 .6l.9-.6l.7-.6l.9-.2l1.4-.3l1.4-1.2l1.6-.7l1.2-.1l.8-.1l1.3 .3l.7 1.7l.6 1.3l.4 .6l.6 1l0 1.2l-.2 .8l-.3 .5l0 .6l.1 .9l1.5 .2l1.4 .1l.8-.3l.5-1.3l.2-1.2l.2-.9l.3-.8l.4-.8l.9-1.1l.5-1.1l.7-.4l.8-.6l.9-1.2l1-1.2l.6-1.3l-.7-1.2l-.6-.8l-.1-1.1l-.4-1.3l-.5-.8l-.4-.5l-.6-.8l-.6-1l0-1l-.1-1.5l-.8-1.2z"/>
<path fill="#EBC7BF" stroke="#EBC7BF" stroke-width="0.35" d="M106.8 377.5l.6 .1l1.1 .5l0-.1l-1.3-.5l-.7-.2l-.8-.3l-1 0l-.4 1.1l-.7 .3l-1.6-.3l-1.5 .7l-1.3 .6l.8 .7l.9 1.1l.2 1.5l0 1.1l.5 1l.6 .8l.4 .5l.5 .7l.4 1.4l.1 1.1l.6 .8l.8 1.1l.6 0l1.3 .5l1.6 .4l1.3 .1l1.4 .2l1.3 .2l1 .7l1.2 .3l.9-1.1l.5-1.5l.6-1.1l.8-.7l.9-.8l-.3-1.2l-.2-1.1l-.4-1.2l-.8-1.1l-.5-.9l-.3-1.1l-1.3-.5l-1.5 .5l-1.2 .2l-1.1-.2l-.8-.2l-.7-1.2l-1.3-1.2l-.8-.9z"/>
<path fill="#CFC6EC" stroke="#CFC6EC" stroke-width="0.35" d="M114.9 393.6l-1.3-.4l-1-.6l-1.4-.3l-1.3-.1l-1.3-.2l-1.6-.4l-1.3-.5l-.7 0l-.7 1.4l-1 1.2l-.9 1.1l-.8 .7l-.7 .4l-.5 1.1l-1 1l-.3 .9l-.3 .8l-.2 .9l-.2 1.2l-.4 1.3l.4 .8l.6 1.4l.7 .5l1.2 .7l.7 .8l-.4 .9l-.2 .8l.1 1.2l.3 1.4l.1 1.3l-.1 1.1l-.3 .9l0 1l.2 1.3l-.8 .8l-.3 1.4l-.4 1.4l-.9 .7l.5 1.6l.3 1.4l-.1 1l0 1.2l.2 1.5l.2 .8l.4 .3l1.6 .2l1.4 .4l.8-.4l.9 .1l1.1 .8l1.2 0l1.3-.5l1.3 .1l.4-1l.2-1.1l1-.6l1.3-.8l1.1-1.3l.8-1l1-.3l-.1-1l-.1-.5l-.1-.5l-.3-.9l-.4-1.3l.4-1l.3-1.2l.3-1.4l.3-1.4l.3-1.1l-.6-.6l-1.1-.6l-.8-.1l-.3-.9l-.7-1.7l-.6-.9l.4-1.1l.4-1.1l.3-1.2l.4-1.1l.3-1.1l.3-.8l.4-.6l.5-.7l-.3-1.5l-.3-1.2l-.2-1.1l-.3-1.2l-.5-1.2l-.2-.8l.7-.2z"/>
<path fill="#D69589" stroke="#D69589" stroke-width="0.35" d="M101.6 407.2l-.6-.8l-1.2-.6l-.7-.6l-.6-1.4l-.5-.8l-.8 .3l-1.4-.1l-1.5-.2l0 .2l-.4 1.2l-.3 1.2l-.3 1.2l-.1 1l-.1 .8l-.2 .8l-.2 1.1l-.3 1.3l-.4 1.4l-.4 1.2l-1 .7l-.9 .8l-1.4 .2l-1.3 .1l-.5 .5l-.7 0l-1.2 .2l-1.6 .6l-1.7 .5l-1.2 .8l-.7 1l-1.2 .3l-1.1 .4l-.6 .6l-.6 .3l-.6 .6l-1.3 .5l-1.9 .1l-1.3 .7l-.6 .8l-.8 .2l-.9 .5l-.8 .9l-.9 .6l1.1 1l.3 .3l.5 .9l.7 1l-.3 1l-.3 1.1l.7-.5l1.2 .8l1.1 1.2l.6 .6l1.4 1.2l1.6 .1l1-.7l1 .5l1-.1l.9-.2l1.3-.1l1.5-.3l1.2-.6l1.3-.6l1.4-.4l1.1-.6l.8-.5l.2 .8l.6 1.2l.9 1.3l.4 .8l.1 1.2l.7 .6l.8 .4l.9-.8l1.7-.2l1.5-.3l.5-1.1l.9-.5l1.1-.6l.7-1.1l.3-1.4l.2-1.1l.4-.6l.7-.7l-.4-.4l-.1-.6l-.3-1.5l0-1.3l.1-.9l-.3-1.4l-.4-1.6l.8-.7l.3-1.5l.5-1.4l.7-.7l-.2-1.3l0-1.1l.2-.9l.2-1.1l-.1-1.3l-.2-1.4l-.2-1.2l.2-.9z"/>
<path fill="#E0AAA0" stroke="#E0AAA0" stroke-width="0.35" d="M95.8 436.3l.6 0l1.2 1.5l1 .9l1-.2l1.8 .9l.4 .7l.1 .7l.4 1.5l.5 1.2l.3 .5l1.2 0l1.3 .2l.7-1l1.3-.2l1.4 .5l.5-.4l.7-.4l1.1-.6l1.4-.6l1.8 0l1.4 .2l.6-.6l.3-.5l.8 .1l1.1 .4l.7-.8l.6-.5l.6-.7l.6-1.5l.6-1.4l.7-1.4l.6-1.3l.4-1.3l0-1.3l-.7-1.3l-.7-.6l-.4-.5l-.4-1.2l-.3-1.6l-.7 0l-.8 .2l-1.9-.5l-.9-.1l-.9-1.2l0-.4l-1 .3l-.8 1.1l-1 1.4l-1.4 .7l-1 .6l-.3 1.1l-.3 .9l-1.4 0l-1.2 .5l-1.2 0l-1.1-.9l-.8 0l-.8 .4l-1.5-.4l-1.6-.1l-.6 .7l-.5 .6l-.2 1.2l-.2 1.4l-.8 1l-1.1 .5l-.9 .7l-.5 1.1zM80.6 449.1l-1.4-.7l0 1.9l1.1 .1zM88 455.7l-1.5 0l-1.1 .1l-.7 .3l-1.3-.2l-1.4-.3l0 1.4l.1 1.4l.2 1.2l-.1 1.1l-.2 .8l.5 .5l.5 .7l.6 .8l.4 .3l.8 .8l.9 1.1l.3 1l0 1.3l.5 1.5l.6 .5l.2 .4l-.2 1.1l-.1 1.3l0 1.4l0 1.3l-.1 1.3l0 1.2l1.1 0l1.2 .1l.7 .4l.4 .6l1.2 .2l1.5-.1l1.3 .5l1.2 .2l.7 .6l1 1.3l1.2 1l.5-.9l.9-.8l1.1-1.1l.5-1.1l.2-1l.3-.7l.5-.6l.7-.7l.2-.7l.1-1.1l.1-1.7l0-1.6l1-1.3l.4-1.2l.3-.6l.5-.4l1.1-.1l1.2-.3l1.2-.3l1.3 .1l1.5 .1l-.2-.3l-1.3-1.2l-.9-1.2l-.6-.1l-1.3-.7l-1-.6l-.7-.7l-.8-1.4l-.6-.6l-1.3-1l-1.3-1.6l-.4-.6l-.8-1l-1.2-.9l-1-.2l-.9-1l-.1-.5l.5-1.4l.5-1l.3-.8l-.1-.9l-.3-.9l-1.6 .6l-1.2 .9l-1.2-.2l-1.3-.5l-1.4 .1l-.7 1.2l-.3 1.2l-.4 .7l-.4 .6l-.6 .8l-.7 1z"/>
<path fill="#DDA196" stroke="#DDA196" stroke-width="0.35" d="M187.3 390.4l-.3 .7l-.5 .8l-.5 .8l-.7 1l-1.1 .9l-1.1 .8l-1.2 0l-1 .1l-.2-.3l-.1 .2l.3 1.2l.2 1.3l.4 1.1l.3 1.1l.2 1.2l.8 .8l.9 .9l.3 1.3l.1 1.2l.8 .5l.9 .5l1.2-.3l1.3-.7l.8-.4l.5 .5l.6 .3l1.5-.1l2.1-.1l1.2 0l1.2 .2l1 .8l.7 .1l1.3-.2l1.8-.1l.8-.3l.7 0l1.2-.3l1.1-.8l1.5 .1l1.4 .1l1-.2l1 .2l1.2-.2l1.3 0l.3-1l.2-1l0-.9l-.6-1.2l-.4-.8l-.4-.8l-.5-1.1l-.3-1.1l-.4-.7l-1.1-.6l-.8-1.3l-.7-1.2l-1.1-.9l-1.1-.7l-1.3-.2l-1.6-.8l-.6-.6l-.6 .2l-1.3 0l-1.1-.2l-.8 .4l-1.4-.9l-.7-.9l-.5 .4l-1.4 .4l-1.5 .1l-1.2 .1l-1.3 0l-.8 .3l-.3 .5l-.6-.1z"/>
<path fill="#E2AEA3" stroke="#E2AEA3" stroke-width="0.35" d="M212.3 405l-1.4 0l-1.2 .2l-1-.2l-1 .2l-1.4-.1l-1.4-.2l-1.1 .9l-1.3 .3l-.7 0l-.8 .3l-1.8 .1l-1.2 .2l-.7-.1l-1-.8l-1.3-.1l-1.2 0l-2.1 .1l-1.5 0l-.6-.3l-.5-.5l-.9 .4l-1.2 .7l-1.2 .3l0 1.2l.1 1.3l-.2 1.2l-.7 1.1l-.8 1.2l-.7 1.5l-.3 1.6l-.3 1.4l-.5 .8l-.8 .3l-1 .4l.8 .5l.6 .7l1.4 .9l1 .6l.7 .7l.9 .2l1.2-.7l1.5 .1l1.1 .6l.8-.6l1-.6l1-.1l1.1-.1l1.7 .3l1.4 .4l.7-.2l.9-.1l1 .4l.7 .4l1.3 .4l1.4 .6l.5 .2l.7 0l.9-.6l1.1-.4l1.3-.5l1-.8l.8-1.2l.5-1.5l.3-1.5l.5-1.2l.5-1l.4-1l.1-.9l-.1-1.1l-.2-1.1l0-1.1l.1-1l.2-1l.5-1z"/>
<path fill="#F8E6E2" stroke="#F8E6E2" stroke-width="0.35" d="M180.6 395.3l-.2 .5l-.2 1.5l-.6 1.1l-.9 .7l-1 .7l-.9 .5l-1.4 .2l-.8 .8l-1.1 .5l-1.4-.3l-.7-.4l-.7-.2l-1.3 .2l-.5 1l-.6 .8l-.7 .6l-.6 .6l.4 1.4l.2 1.4l.7 1.2l.8 1.2l-.1 .4l.5 .8l.5 .6l.9 1l.9 .8l1.3 .1l.9 .6l.4 1.2l.9 1.2l.8 1l.6 .5l.9 .5l1 .5l.8 .1l1.3-.1l1-.4l.8-.3l.4-.9l.3-1.3l.4-1.6l.7-1.5l.8-1.2l.7-1.2l.2-1.2l-.1-1.3l0-1.2l-.9-.5l-.8-.5l-.2-1.2l-.2-1.2l-.9-1l-.8-.8l-.3-1.2l-.3-1l-.3-1.2l-.3-1.2z"/>
<path fill="#FDF8F7" stroke="#FDF8F7" stroke-width="0.35" d="M177.7 417.9l-1.1 .7l-.8 .8l-1.1 .4l-.7 1l-.6 .8l-1 .2l-1.2 .6l-1.3 .9l-1.2 .7l-.7 .8l-.8 .2l-1.1 0l-.8 .5l.1 .8l.4 1.1l.4 1.3l.3 1l.7 .8l.7 1.5l.2 1l.6 .4l1.1 .5l1.3 .3l1.1-.1l.8-.9l1-.4l1 .5l1.1-.2l1.7 .5l1.2 .3l.7-.5l.5-1.3l.5-.9l.5-.6l.3-.7l.1-.8l-.2-1.3l-.4-1.7l-.3-1.8l0-1.7l.3-1.4l.5-1l.7-.5l-.6-.8l-.9-.5l-1.2 .1l-.8-.1z"/>
<path fill="#F2DAD4" stroke="#F2DAD4" stroke-width="0.35" d="M169 409.6l-.4 1.1l-.7 1.3l-.9 1.7l-1.2 1l-1.2 .4l-.6 .5l.3 .4l.4 .6l.2 .9l-.1 1.2l-.3 1.4l-.1 1.2l.1 1.2l.3 1.2l.2 1.1l.3 .8l.8-.6l1.2 .1l.8-.2l.6-.8l1.2-.8l1.4-.8l1.2-.6l1-.2l.5-.9l.7-.9l1.2-.5l.8-.8l1.1-.6l-1-.6l-.6-.5l-.8-1l-.9-1.1l-.4-1.2l-.9-.7l-1.2-.1l-1-.7l-.9-1l-.6-.7z"/>
<path fill="#F0D2CB" stroke="#F0D2CB" stroke-width="0.35" d="M154.3 422.3l-1-1.2l-.8-.3l-1.2-.4l.9 .9l.4 1l.3 1l.4 1.5l.3 1.7l.2 1l.4 .6l.6 .8l-.4 .9l.2 1.1l.1 .7l.7 .9l.7 1.2l.3 .8l.3 .7l-.2 1l0 1.1l-.7 .7l-1 .3l-.8 .4l-.6 .8l-.7-.2l-1.3-.4l-1.1 .5l-.7 .1l-1.1-1.5l-1.3-.5l-1 .5l-.8 .6l-.8 1l-1.2 .5l-.1 .2l.8 1.2l.5 1.3l0 .9l.1 .6l1.4 .4l1.1 .1l.9-.1l.7 .6l.2 .4l1 .8l1.1 0l1.1-.3l1.1-.5l1-.1l.8 .1l.8 .8l.8 .6l1.3 .4l1.4 .5l.5-.5l.5-.6l.6-.6l.9-.2l1.6 .6l1.4-.7l1.4-.9l1.7 .3l.6-.4l.5-.4l.7-.5l.6-.8l.1-1.3l-.5-.3l-.7-.9l-.3-1.6l0-1.6l.2-1.2l.4-1l1.4-.3l1.3-.6l.8-1.5l-.7 .9l-1.1 .3l-1.4-.4l-1.3-.5l-.5-.7l-.6-1.8l-.9-1.2l-.3-.9l-.3-1.2l-.5-1.1l-.2-.7l-.2-.9l-.1-1.1l-.4-1.2l-.1-1.2l0-1.3l.4-1.3l-.6-.3l-1.2-.2l-1.4 0l-.8 .5l-.7 .1l-1.4 .2l-1.6 1l-1.5 1l-.8 .4l-.1 .6z"/>
<path fill="#FAEAE7" stroke="#FAEAE7" stroke-width="0.35" d="M149.7 420l-.5 .7l-.1 .8l-.8 .5l-1.7 .2l-1.2 .4l-.7 .2l-.7 0l.4 .9l.5 1.4l.5 1.8l.3 1.1l.6 .9l.4 1.5l-.2 .9l-.4 .7l-.8 .6l-.8 .6l-.7 1.1l-.2 1.6l0 1.7l0 1.5l-.3 1.1l1.3-.5l.8-.9l.8-.7l.9-.5l1.4 .5l1.1 1.5l.8-.1l1.1-.5l1.2 .4l.7 .2l.6-.8l.9-.4l1-.3l.7-.7l0-1.1l.2-1.1l-.3-.7l-.2-.8l-.8-1.2l-.6-.9l-.2-.7l-.2-1.1l.4-.9l-.6-.9l-.5-.7l-.2-1.4l-.4-1.9l-.4-1.4l-.4-1.1l-.8-1.1l-1.1-.2z"/>
<path fill="#EBC3BA" stroke="#EBC3BA" stroke-width="0.35" d="M144.7 444.2l.3 .9l.6 1.2l.1 1l-.1 .8l-.1 1.1l.2 1.4l-.7 1l-.8 .9l-.8 .9l-.6 1.1l-.4 .9l-.3 .7l-.2 .5l-.3 .9l.6 1.6l0 1l-.3 1.1l.1 1.4l.2 1.1l.1 .4l.2 .9l1.8 1l.9 .2l.7-.2l1.6-.1l1.1-.2l1-.2l.8-.1l.5-.4l.6 .8l.5 .1l.8-.7l1.2-.4l1.6 .3l1.4-.2l.9-1.4l.6-.2l1.1-1l.8-.9l.4-.9l.1-.9l.2-.7l.4-.6l.7-.8l.6-.9l.5-.9l.3-.9l-.4-.6l-.5-1.1l-1-.7l-.8-.4l-1-1.4l-.8-1.2l.3-.7l0-.8l-1.4-.4l-1.3-.5l-.8-.6l-.7-.9l-.9 0l-1 .1l-1.1 .5l-1.1 .3l-1.1 0l-1-.8l-.2-.5l-.7-.6l-.9 .2l-1.2-.2z"/>
<path fill="#EBC5BD" stroke="#EBC5BD" stroke-width="0.35" d="M170.4 442l-.1 1.3l-.5 .8l-.7 .4l-.6 .4l-.6 .4l-1.6-.3l-1.4 1l-1.4 .6l-1.6-.6l-.9 .2l-.6 .7l-.5 .5l-.6 .5l0 .8l-.3 .7l.8 1.2l1 1.4l.8 .5l1 .7l.6 1.1l.3 .6l1-.3l1.2-.7l1.4-.8l1.3 0l.8 .8l.5 .6l1.1 .5l1.3 .3l1.3-.2l1.6 .6l1-.9l.7-1l.4-.7l.6-.8l.6-.8l.7-.8l.7-.5l-.2-1l-.4-.7l-.1-.8l0-.9l.1-1.2l-.7-.6l-.7 0l-1.2 .1l-1.2-.4l-1.4-.4l-1.1-.1l-.6-.3l-.5-1.1l-.7-.6z"/>
<path fill="#ECC8C0" stroke="#ECC8C0" stroke-width="0.35" d="M175.1 455.6l-1.6-.6l-1.4 .1l-1.3-.2l-1.1-.4l-.5-.7l-.8-.8l-1.3 .1l-1.5 .7l-1.1 .7l-1 .3l-.3 .9l-.5 .9l-.6 .9l-.7 .7l-.4 .6l-.2 .7l0 1l-.5 .9l-.9 .9l-1 1l1.5 .6l1.2 .9l.4 .3l.9 1.1l1.1 .3l.6-1l1.1-1l1.7-.3l1.4-.2l1.1-.2l.8-.5l.6-.8l1.3 .6l1 .3l.4-1.3l1.3-.8l-.4-1l-.1-.7l.2-.9l.3-1.5z"/>
<path fill="#F3D9D3" stroke="#F3D9D3" stroke-width="0.35" d="M179.6 450l-.7 .6l-.7 .8l-.6 .8l-.6 .7l-.4 .8l-.6 .9l-1.1 .9l-.2 1.7l-.3 1.5l-.3 1l.1 .7l.5 .9l.2 0l1.4-.1l.9-.2l1.4 .8l1.4 1l.9-.1l1.3 .3l1.4 1.2l.6 .6l1.4 1.2l1.1-.8l.4-1.7l.6-1.5l.8-.8l.8-.7l1-.4l1.3-.2l.9-.6l.7-.5l.6-.3l.6-.4l-.6-.7l-1.2-1.2l-1.4-.6l-.5-.1l-.6-1l-.9-.9l-.8 .1l-.8-.5l-.7-.6l-.6-.9l-1.3-.5l-1.5 .4l-1.4 0l-1.1-.3l-.5-.2z"/>
<path fill="#E0A79C" stroke="#E0A79C" stroke-width="0.35" d="M182.2 439.1l1.1-.3l-.4-.6l-.1-.8l-.3 .9zM182.4 440.8l-.4 1.1l-.6 1.1l-.7 1.4l-.6 1.3l-.6 .2l-.5-.4l-.1 1.3l0 .9l.1 .7l.4 .8l.2 .9l.9 1l.5 .3l1.1 .3l1.3 0l1.5-.4l1.3 .6l.6 .8l.8 .7l.8 .4l.7-.1l1 .8l.6 1.1l.4 .1l1.4 .6l1.2 1.1l.6 .7l.6-.8l.7-.7l.9-.3l1-.1l1.1-.1l1.3 .2l1-.3l.6-1.3l.9-1.2l1.5-.3l1.1-.5l.8-1l1.2-.8l.3-1.1l.3-.8l.2-.6l.2-.6l-.2-1l-.1-1.4l0-1.5l-.1-1.3l0-1l-1.1-.1l-.7 0l-1.3-.1l-1.7 .4l-.7 .9l-.8 .1l-1.2-.2l-1 .5l-1.4-.2l-1.7-.3l-.7 .1l-.3-.6l-.8-.9l-.9 .4l-1 .4l-1.6-.4l-1.2 .2l-.5-.4l-1.1-1l-1.5 .1l-1.7 0l-1.5-.8l-1 0z"/>
<path fill="#ECC9C1" stroke="#ECC9C1" stroke-width="0.35" d="M146.7 430.4l-.3-1.5l-.7-.9l-.3-1l-.5-1.9l-.5-1.4l-.3-.9l-1.4-.1l-1.7 .5l-1.2 0l-1-.4l-.9-.2l-1-.4l-1.2 .5l-1.7 .3l-1.3 .2l-.5 .6l-.5 .5l-1.1 .4l-.9 1l-.9 .9l-.8 .3l-.6 .5l-.9 .6l-1.9-1l-1.7 0l-.9-.2l-1.1-1.2l.3 1.6l.4 1.3l.4 .5l.7 .6l.8 1.3l-.1 1.3l.4 .6l.6 .4l1.3 1.1l.8 .5l.9 .7l.9 1l1.1 .3l1.6 1l.9 .5l.8-.6l1.5-.3l1.6-.2l1.5 .2l.8-.2l.7-.8l1.2-.4l.8-.9l.9-.8l1.1-.3l.9-.8l1.3-.3l.7-.5l.5-.5l.3-.7z"/>
<path fill="#E3B0A6" stroke="#E3B0A6" stroke-width="0.35" d="M121 438.1l-.6 1.2l-.5 .5l-.6 .5l-.8 .7l.5 .1l.6-.7l.4-.4l.4-.5l.4-1l-.4 1.1l-.4 .6l-.4 .5l-.5 .8l-.6 .9l-.8 .7l-.6 .8l-.8 .8l1 0l1.3 1.2l.8 1.2l.6 .2l1.9 1.5l1.2 .7l.9 .7l1.2 .9l1-.6l1.3-.1l.5-1.2l.8-.4l.7-.7l.1-.9l0-1.2l.1-1.4l.3-1.6l.5-1.4l.6-1.3l.5-1.1l.3-.9l-.8-.5l-1.7-1l-1.1-.4l-.9-1l-.9-.8l-.8-.4l-1.3-1.2l-.6-.3l-.4-.6l-.4 1.4l-.6 1.4l-.8 1.5l-.5 1.5l-.1 .2z"/>
<path fill="#E8BAB0" stroke="#E8BAB0" stroke-width="0.35" d="M145.1 432.8l-1.4 .2l-.9 .8l-1.1 .4l-.9 .8l-.9 .9l-1.2 .4l-.7 .8l-.7 .3l-1.5-.3l-1.6 .2l-1.5 .4l-.8 .6l-.4 .9l-.5 1.1l-.6 1.2l-.5 1.4l-.3 1.6l-.1 1.4l0 1.3l-.1 1l-.7 .5l-.8 .4l-.5 1.2l.5 1.6l.1 1.6l.3 .4l1.2 1.4l.9 .4l.8 .6l.8 1.3l.5 .6l1.3 1.1l1.2 .5l.4 .1l.9 1.5l.6 .9l.7 .1l1 .8l.4 .4l.8 .9l1.1 .8l.7-.2l.3-.1l.8 .1l-.3-1l-.1-.4l-.1-1l-.1-1.5l.1-1.1l.1-1l-.5-1.5l.2-.8l.2-.6l.3-.7l.4-1l.7-1l.8-1l.7-.9l.7-1l-.2-1.5l.1-1.2l.1-.9l-.3-1.2l-.6-1.2l-.2-.8l0-.8l-.4-1.4l-.8-1.3l.2-1.1l0-1.4l-.1-1.6l.2-1.5l.5-1.2z"/>
<path fill="#FFFFFF" stroke="#FFFFFF" stroke-width="0.35" d="M127.5 455l-1.6 .3l-1.7-.4l-1.3 .1l-1.2 .6l-.9 1l-1.3 .2l-1.3 0l-.7 1.4l-1 1.5l-1.4 .7l-1.3 .1l-.5 1l-.3 1l-.2 1.2l-.2 1.2l-.4 1l-.5 .6l.1 .4l1.4-.5l1.6 .1l1 .1l.1-.7l.9 .7l1.5 .4l1.2-.9l1.3-.1l1.3 .8l.3 .7l.4 .8l1.5 1.2l1.1 .2l1 .4l1.4 .1l1 0l.2-.7l.7-.5l1.5 .4l1.1-.6l1 .2l1.2 1.5l.5 .5l.5-1l1.3-.7l1.5-.6l1.1-.7l.8-.6l.5-.5l.4-1l.6-.8l-.8 .1l-1.1-.7l-.7-1l-.4-.4l-1-.8l-.7-.1l-.7-.9l-.8-1.5l-.5-.1l-1.1-.5l-1.3-1l-.6-.6l-.8-1.3l-.8-.6l-.9-.5l-1.1-1.5l-.4-.4z"/>
<path fill="#D69185" stroke="#D69185" stroke-width="0.35" d="M127.5 450.2l-1.3 .2l-1 .6l-1.2-.9l-.9-.6l-1.2-.7l-1.8-1.6l-.7-.3l-.8-1l-1.2-1.2l-1-.1l-.5 .5l-.6 .3l-.7 1l-.5 1l-.3 1.4l-.4 1.5l-.6 .7l-1.3-.5l-1.1 .2l-.8 1l-1.1-.1l-.9-.5l-.6 .1l-1.3-.4l-1.6-.6l-.9 .1l-.8-.1l-.8-1.2l-.4-.3l-1.1-.2l-1.8-.4l.3 1l.1 .9l-.2 .9l-.4 1l-.5 1.4l0 .5l.9 1l1 .2l1.1 .8l.9 1.1l.4 .5l1.3 1.6l1.3 1.1l.6 .6l.8 1.4l.7 .7l1.1 .6l1.3 .7l.6 .1l.8 1.1l1.4 1.2l.5-.6l.4-1l.2-1.1l.2-1.1l.3-1l.5-1.1l1.2-.2l1.4-.7l1-1.4l.7-1.3l1.4 0l1.2-.3l1-1.1l1.1-.5l1.4 0l1.7 .3l1.6-.3l.4-1.7l0-1.6z"/>
<path fill="#FEFAF9" stroke="#FEFAF9" stroke-width="0.35" d="M36.6 209l.3 .1l.1 .3l.4-.6l.3-.6l0 .1l-.2 .5l-.4 .2zM54.9 206.1l-.2 .7l0-.2l-.1-.5l-.3 .3l-.4 1.1l-.7 1.2l-1 .8l-1.1 .7l-.9 .9l-.6 .8l-.4 0l-.4-.8l-.6-.7l-.8 .2l-1 .9l-.9 1.1l-.8 1l-.5 1l.1 .8l.7 .1l.6-.4l.4 .3l.3 1l-.1 1l-.6 .6l-.7 1.1l-.5 1.4l.2 .6l.3-.5l0 .1l-.8 1.4l-.6 1.6l.2 .7l.8 .1l1 0l.9 .2l.8 .3l.1 .7l-.6 1.1l.7-1l.5-.8l.3-.2l.3 .7l.4 .6l.6-.2l.8-1l.9-1.2l.8-1.1l.6-.9l.5-.8l.2-.3l0 .6l-.2 1.3l-.1 .6l.2-.8l.8-1.2l1.1-.7l1.1-.2l.8-.7l.5-.9l.2-.6l.2 0l0-.8l.1-1.4l.3-1.1l.5-.9l.6-1.5l.2-1.7l-.2-.5l-.1 .6l.4-.3l.9-1.3l1-.9l.5 .2l0 .2l0-.6l.3-.8l.2-.2l0-.1l0-.6l0-1.5l-.1-1.2l-.8-.1l-1 .1l-.6-1l-.4 .7l.1-.8l.2-.8l0 .1l-.3 .8l-.7 .6l-1.3 .2l-1.3 .4l-1 1zM19.4 223l-.4 .5l0 .2l-.2 .2l-.5-.3l0 .5l.3 .2l.5-.6zM69.9 224.6l-.3 1.5l-.1 .4l.2-.3l0 .1l-.5 1l-1.1 .9l-.8 .4l-.3 .4l.1 .8l.1 .8l.2 1.3l.2 .8l.5 .1l.4 .2l.3 1l.2 1l.5 .2l.5-.5l-.3 .1l-.6 1.2l-.8 1.4l-1.2 .6l-1.2 .1l-.8 .2l-.1 .4l.3 .1l1-.9l.6 .4l.3 1.2l.2 1.3l.3 1.1l.2 1l.6 .4l.9-.2l.6 0l-.6 1.4l-1.1 1.7l-1.2 1.2l-.7 .8l0 .5l.2 0l.1-.8l-.2-.7l-.4 0l-.7 .6l-.7 .4l0 .7l-.1 1.1l.5 1.1l1.1 .6l1 .3l.2 .6l-.6 .6l-.5 .5l-.5 .5l0 .8l.1 .4l.3 0l.3 .1l.1 .8l-.3 1l-.8 .9l-.9 .9l-1.1 .4l-.9 .4l-.4 .3l0-.3l-.3-.4l-.4-.1l-.5 .4l-.6 .6l-.7 .4l.6 0l.5 .4l.7 .8l.7 .7l.3 .2l.1-.3l.3-.2l.6 .1l.8 .2l.7-.2l.5-.7l.5-.6l.9 0l.6 .6l.3 .9l.1 1.1l.2 1l.8 .8l1.1 .3l1 0l.4 0l-.4 .5l-.5 .6l.1 .6l.7 .8l.8 .6l1-.3l.7-.5l-.1 1.2l-.9 2.6l-.9 1.5l-.2 .1l.3 0l.2 .6l-.2 .4l-.2 0l-.1 .6l-.1 1.4l0 .9l-.1 .2l-.3 .3l-.6 .6l-.7 .4l-1 0l-1.1 0l-.9 .4l-.8 .8l-.6 .6l-.2 0l.1-.2l.5 .1l.1 2l-.4 2.8l-.2 1.6l.4-.1l.6-.3l.2 .5l.1 .7l0 .1l-.1 .2l-.3 1.3l0 1.3l.5 0l.9-1l.4 .1l-.4 2l-.9 2l-.7 .6l-.1 .5l0 .8l.3-.1l.2-1l-.2 .3l-.7 1.9l-.7 1.4l.3 .2l-.1 1.3l-.6 1.1l-.2 .3l.1 .7l.2 1.2l.2 .5l.3-.2l.1 .4l-.3 1.1l-.4 .9l-.2 .7l0 .7l-.1 1.1l-.3 .9l-.2 .6l0 .5l.9-.4l.8-.2l.8-.1l.7-.2l.7 0l.2-.3l.2-.4l.2-.4l.1-.3l-.1-.1l-.1-.4l-.1-1.1l.3-1.2l.3-1l-.2-.8l-.4-.6l-.1-.2l.6-.4l.9-1.1l.7-1.1l.4-.4l.3 .1l.1 0l-.2-.2l-.1 .1l.3 0l.8-1.2l.5-2.1l-.2-1.4l-.4-.4l0-.7l.2-1.5l-.1-.9l-.3 .2l-.1 .2l0-1.1l-.2-1.2l0-.3l.2-.4l.5-1.3l.3-1.4l-.4-.1l-.4 .3l.1-.9l.4-1.9l.3-.7l0 .5l.2-.7l0 1.1l0 2.3l.8 1.2l1.1-.6l.7-.8l-.1 .5l-.5 1.5l-.5 1.3l-.4 .8l-.2 .7l.2 .6l.7 .1l1.1-.2l.7 .7l.2 1.6l0 1.6l0 .5l.9-1.2l.9-2.5l.4-1.7l-.2 0l-.4 .3l0-1.1l.2-1.3l.5-.1l.2 .2l.1-.3l.1-1.1l.3-1.3l.7 .2l.8 .2l.5 0l.3 .7l.2 1.1l0 1.5l.1 1.1l.4 .7l.5 .6l.3 .3l.3 0l.3-.2l.3-.2l.3 .3l.5 .5l.6 .5l.8 .5l1.4 .5l1.8 0l-.8 .4l-.3 .1l-1.2 .3l-1 0l-.8-.3l-.3 .1l-.2 .3l-.3 .4l-.5 .3l-.8 .2l.1 .8l0 .7l-.2 .5l0 .3l.1 .5l.2 .8l.2 .7l.3 .3l.1 0l-.1 .4l0 .7l.3 .8l.5 .5l.4 .3l.3 .3l.2 .5l.3 .9l-.5 .5l-.4 .7l-.1 1l0 1.1l.1 1l-.1 .7l-.2 .5l-.4 .6l-.5 .6l-.5 .7l-.6 .7l-.8 1.1l-.8 .8l-.6 .6l-.5 .5l-.6 .5l-.8 .4l-.6 .9l-.4 1.2l-.2 1.4l-.1 1.3l-.8 .2l-.9-.1l-1.2-.4l.1 1.2l.3 1.1l.4 1l.6 1.1l.8 .8l.4 1l.3 1.4l.6 1.3l.8 .9l.2 1.1l.1 1.2l.6-.1l1 .2l0-1l-.1-1.2l0-1.5l0-1.4l-.3-1l.8-.9l.4-1l.6-.4l1.2 1.4l1.2 1.2l.2 1.1l.5 1.2l1 .7l.9 .4l.5 .9l.7 .9l1-.7l.4-.6l.5 0l-.2-1l-.2-1l-.4-1.2l-.4-1.5l1.3 1.1l.9 .3l.7 .3l1.5 .5l1.2-.3l1-.2l1.8 .5l1.5-.5l.8-.7l.5 .1l.4-.2l1.1-.2l1.4-.7l.8-1.1l.9-.3l1.3 0l1.2-.7l1-.8l.6-.5l.3-.4l.8 .1l1.7-.2l1.6-1.1l1.6-.5l1.6 .1l1.4-.2l1.3-.1l.6-.7l.4-.5l.8-.1l1.2-.9l1.3-1.4l.9-1.1l.3-1.3l.2-1.2l.6-.7l.9-.7l.7-1l.7-.9l1.1-.1l1.4-.1l1.2-.8l1-1.1l.5-1.3l-.2-.6l-.5-1.2l-.4-1.5l-.3-.9l-.5-.9l.8-1l.9-.7l.8-.8l.8-.7l.5-1.1l.4-1.3l.6-1l-.7-.2l-.6-.6l-.6-1.2l-.5-.6l-1.1 0l-1.1-.3l-.6 0l-1-.8l-.9-1.2l-.8 0l-1.3-.2l-1.4-1l-.4-.1l-.8-.2l-1.4-1.3l-1.2-.1l-1.3 .2l-1.7-.3l-1 .2l-.1 .8l-.6 .4l-1.2 .1l-1.3 .4l-1.2 .1l-1.1-.3l-.9-.6l-.9 0l-1.3 .3l-1.5-.1l-1.1-.2l-.9-.2l-.7-.8l.7 .2l1.1 .2l1.2-.8l1.3-1.2l1.5-.6l1.2-.2l.6-.5l.8-.3l1.1-.2l.8-.5l.8-.3l1-.6l1.6-.6l2.2 .2l1.4-.2l.5-.5l.6-.1l.8-.4l.8-.9l.7-.7l-.9-1.1l-.7-.2l-.8-.3l-1.2 0l-1.1-.5l-.4-.2l-.8-.7l-1.3-.2l-1.1 .8l-1.7-.6l-1.6-1.1l-.9-.3l1.1 0l1.6 .3l1.4-.2l1-.7l.9-.6l.7-.5l1.3 .1l1.3-.2l.6-1.2l.8-.9l1.3-.1l.8-1l.6-1.2l.4-1.2l.4-.9l.5-.7l.6-.5l.8-.1l.9-.1l.8-.4l.5-1l.3-1.5l.2-1.6l.5-1.2l.4-1l.3-1.2l.2-1.5l.1-1.2l.4-.9l.8-.8l.8-.8l.6-1l.4-1.2l-.1-1.5l-.2-1.4l-.2-1.2l0-.8l1.2-.3l1.2-.4l.7-.8l.5-.6l.5-.5l-.1-1l.1-1.2l.2-1.4l.4-1.5l-.2-.8l-.2-1l-.9-.9l-1.1-.4l-.6-.6l-.5-1l-1.3-.1l-1-.3l-.9 0l-1.1 .4l-.9-.7l-1-1.1l-1.2 0l-1.2 .5l-1.2 .7l-1.9-.1l-1.2-.3l-.6-.1l-1 0l-.7 .7l-1.5-.3l-2.1-.3l-1 .6l-1.3-.4l-1.4-.2l-1.3-.5l-2-.9l-1.4 .8l-.6 1.1l-.8 .1l-1.2 .2l-1.2 .4l-.9 .8l-.8 .6l-1.4-.4l-1.4 .1l-1 .7l-.9 1l-.7 .9l-.7 .7l-1.2-.1l-1.5-.3l-.6 0l-.6 0l-1-.6l1.1-.5l1.2-.7l1.4-.1l1-.4l.4-1.4l.8-1.7l1.4-1.1l1.3-.8l.9-.7l.8-.4l.6-.8l.4-1.1l-1-.3l-1.4 .1l-.9-.2l-.8-.5l.2-1l.4-.9l.8-.8l.7-1l.7-.8l.9-.4l1.1-1l1.5-1.2l1.6-1l.8-1l.3-.9l.9-.4l1.2-.5l.9-.9l.6-.8l.7-.5l.6-1.1l.9-1.2l1.1-1.1l.6-1l-.4-1l-.1-.9l.3-1l.6-1.1l.9-1l.5-.9l.2-.7l-.1-.6l-1 0l-.7-.1l-.5-.3l-.5-.4l-.7-.5l-.8-.4l-.5-.1l-.4 .1l-.5 .2l-.9 .2l-1.2 0l-1.1-.1l-.8 .2l-.7 .1l-.7 0l-.7 .2l-.5 .4l-.4 .5l-.5 .2l-.6-.2l-.7-.4l-.7-.1l-.8 .3l-.9 .5l-.9 .3l-.6 .3l-.5 .2l-.4 0l-.6-.3l-.8-.5l-.7-.2l-.4 .1l-.2 .5l-.2 .4l-.4 .1l-.6 .1l-.8 .1l-.9 .2l-.9 .1l-.9-.2l-.9-.1l-.8 .3l-.6 .4l-.5 .1l-.2-.5l-.4-.8l-.7-.6l-.8-.2l-.9 0l-.8-.1l-.9-.4l-.8-.3l-.7-.1l-.2 1l.1 .9l.1 .4l0 .2l-.2 .6l-.4 .7l-.3 .1l-.2 0l-.3 .5l-.5 1.2l-.6 1.3l-.5 .8l.4 .4l.6 .6l.4 .5l.3 .3l.2 0l0 .5l-.1 1.2l-.5 .7l-.8 .4l-.8 .1l-.9 .1l-.9 .2l-1 .5l-.8 .7l-.4 .8l.4-.5l.5-1l-.1 .5l-.4 1.5l-.4 .8l-.1 .1l-.1 1.3l-.4 2.2l-.3 1.5l0-.1l.2-.1l.2 1l.6 1l.9-.1l.7-.4l.1 .7l-.2 .5l-.5 .3l-.8 .1l-.8 .4l-.8 .6l-.8 .5l-.9 0l-.9-.5l-.7-.6l-.6-.4l-.3 .1zM33.6 254.2l-.3 .4l0 .2l0-.2l-.2-.2l-.1 .6l-.2 1l-.4 .6l-.6 .5l-.2 .9l.4-.8l.5-.5l.5-.9l.3-1l.3-.4l.4 0l.5-.7l.5-1l.5-.4l.6-.2l.7-.9l.3-1.3l-.1-.2l-.3 .8l-.2 0l.4-.6l.6-.9l.9-.6l1.2-.2l1.4-.3l1.1-.6l.3-1.2l-.8 .3l-.9 .9l-.4-.5l.2-2l.2-1.6l.3-.8l.4-1.3l.3-1.5l0-.4l.1 .7l.4-.2l.4-1.4l0-.5l-.3 .6l-.1 .2l.4-1.3l.8-1.8l.6-.8l.2-.1l-.2-.7l-.1-1.1l0-.4l-.4-.9l-.1-1l.4-1.2l.1-.5l-.6 .9l-.9 .4l-.3-1.5l.2-2.1l-.7 1.1l-.6 1.1l-.5 .4l-.5-.3l-.6-.4l-.5-.3l-.7-.1l-.9-.1l-.8 0l-.7 .1l-.4 .7l-.4 1.9l-.2 2.3l.6 .9l1.3-.7l1.1-.3l.1 1.2l-.3 1.5l-.1 .3l.2-.3l.4 .7l.3 1.2l.3 .5l-.4 .7l-.9 2.1l-.7 2.3l0 .2l.6-1.4l.3-.6l-.1 .8l-.3 .9l-.3 0l-.4 .5l-.4 1.6l-.2 1.2l-.1 0l-.2 .2l-.3 1.5l-.3 1.6l0 .6l.5 0l.3 .8l-.3 1.5l-1 1.1zM61.8 241.5l-.1-.4l.5-.2l.4-.4l-.1-.4l-.2-.7l0-1l0-.9l-.5-.9l-.5-1.3l-.2-1.3l-.4-.3l-.6 .6l-.8 .3l-.6-.7l-.6-.9l-.5-.3l-.3-.1l.1-1.2l-.3-1.5l-.7 .1l-.7-.2l-.4 .2l-.3 .8l-.2 .6l-.4 0l-.5-.2l-.7 .6l-.6 1.3l-.7 1.2l-.6 .4l-.5 0l-.2 .4l0 .7l.8 .3l.5 .4l.3 .6l.5 .7l.6 .8l.4 1l-.1 .8l-.1 0l.2-.7l.5 .1l.3 1.4l.3 1.5l.6 .4l.7-.2l.5 .3l0 1l-.3 .6l-.1 0l.5-.2l.7 .4l.9 1.2l.8 1l.7 .6l.6 .2l.8 .3l.7 .5l.4 .3l.2-.1l.2-.4l.9-1.2l.7-1.3l.3-.2l.2 .9l.1 .7l.4 0l.8-.7l.2-1.3l0-.7l-.5 0l-1 .1l-1.1-.4l-.7-.9l-.3-1l-.3-.7zM56.8 252.6l.6-.4l-.1-.4l-.5 .3l-.8-.4l-.8-.8l-.6-.7l-.5-.4l-.1 1.3l.1 1l.2 .5l-.2 .5l.7 0l.7 0l.7-.2zM59.8 257.1l0-.4l-.4-.4l-.5-.6l-.5 .2l-.4 .3l-.3 .1l.2 .9l.5-.2l.4-.4l.3 .1l.3 .1zM49 265.8l.5-.6l.7-.4l.8-.3l.8-.7l.6-.8l.3-.1l.2 .7l0 1l-.4-.6l-.4-.8l-.5-.6l-.5 .3l-.4 .8l-.5 .9l-.7 .5l-.9-.1l-.9 0l-.7 .5l-.5 .8l-.2 .8l-.3 .1l-.4-.3l-.3 .2l-.3 .7l-.5 .7l.4 .2l.1 .6l0 .8l1.1-.4l1.2-.7l.8-1.2l.4-1.2l0-.6l-.2-.1l.1 .3l.2 0zM63 279.8l.4-.4l.6-.8l1.1-.5l1.4-.2l1.5-.1l1.1-1l.7-1.6l.2-.9l-.3 .1l-.4 .4l-.2-.3l.2-1.1l.8-1.2l.6-1.7l.4-1.6l-.2-1.1l-.4-.5l-.3-.1l-.2 .2l-.2 .2l0 .1l-.2-1l-.4-1.5l-.7-.8l-1.1 .3l-1.1 .3l-.8-.7l-.5-.9l-.1-.7l-.2-.3l-.3 .2l-.6 .5l-.8 .7l-1 .8l-.8 .5l-.8 .5l-.7 .4l-.7 0l-.6-.5l-.4-.6l-.3-.3l-.3 0l-.7 0l0 1l-.4 1.4l-.6 .9l-.3 0l.1 0l-.1 1l.2 1.6l.2 1l.4-.3l.5-1l.2-.4l.1 .9l.5 1.5l-.4 .6l0-.2l.1-.6l.1 0l-.3 .9l-.7 1.4l-1.1 1.1l-1.1 .8l.6 .1l.6 0l.9 0l1 .1l.8-.1l.5-.5l.2-.5l.5 0l.7 .6l.7 .7l.3 .4l.1 .5l.3 .9l.8 1zM57.5 283.9l-.1 .2l0 .4l.1-.3l.4-1.4l-.6-.3l-.7-.3l-.6 2.1l-.3 .9l.1-.2l.1 0l.6-.9zM61.5 282.5l-.4 1.4l-.2 .7l-.1-.3l-.1-.1l-.4 .8l-.8 1.3l-1.2 1l-1.1 1l-.7 1.3l.5 .5l1 .2l1 .3l.8 .6l.4 .3l.3-.4l.2 .2l.4-.5l.6-1l.7-.6l.7-.1l.5-.3l.4-1l.3-1.1l.1-.3l-.5 .4l-.8 .2l-.4-.6l.4-1.3l1-1.5l.9-1.4l.1-.9l-.6 .4l-.8 0l-.9-.1l-.8 .2zM78 295.1l-.1-.1l-.4 .3l-.5-.4l-.2-.6l.1 .2l-.6 .6l-.2 .4l-.1-.5l-.5 .9l.1 .3l.4 .3l.5 .1l.2-.5l.4-.7l.5-.4zM49.5 292.8l.2 .9l.8 .1l1.1-.6l.7 .2l.2 1.4l.3 1.3l.2 .6l.1 .1l-.2 .1l-.2 .2l.1 .5l.3 .9l.9 .5l.8 .3l.6 .1l.3 .1l.3 .3l.5-1l.3-.3l.2 .5l.1 .7l.2 .4l.4-.2l.7-.3l.4-.9l.9-1.8l.9-2.4l.1-1.7l-.4-.2l-.2 .3l.1-.1l-.4 .4l-.5 .1l-.5-.4l-.1-1l.1-1.1l-.2-.6l-.8-.2l-.8-.5l-1.1-.3l-1 .4l-1 .8l-1.2 .8l-1.2 .5l-1.1 .5zM75.8 296l-.4 .6l-.5 .8l-.6 .6l-.7 .1l-.5 .5l-.5 1.2l-.2 1l0-.2l-.1-.4l-.1 .7l-.1 1.3l.3 .5l.4 .1l0 1.1l-.2 1.7l-.1 1l.9-.2l.7-.3l.6-.3l.5 .1l.6 .3l.7-1.1l.5-.7l0 .5l-.3 1l-.3 0l-.1-.7l0-.5l.5-.7l.7-1.7l.6-2.1l-.3-.8l-.7 .5l-.3-.4l-.3-1.2l-.1-1.5l0-.8l-.2-.2zM156.1 126.7l-.5-.4l-.5-.1l-.4 .3l-.6 .3l-.7 .1l-.2 1l-.1-.2l-.4 .3l-.3 .8l.2 .6l.4 .8l.3 .9l.4 .6l.1-.2l.4-.6l.5-1l.8-1l.8-.7l.4-.4l.2-.4l-.3-.3l-.4-.1zM152 129.2l0 .2l-.2 .2l-.4 .1l-.5 .3l.2 .8l-.2 1.1l-.6 1.1l-.5 1.1l-.3 1.3l-.2 .8l.2 .3l.5 .3l.7 .2l.8 .6l.6 .5l.2-1l0-.4l0-.3l.2-1.2l.4-1.5l.3-1l-.3-.5l-.3-.8l-.2-1.3l-.1-1.1l-.2-.1zM155.8 135.2l.5-.7l.5-1.1l.4-1l-.9-.3l-.9-.2l-.6 .1l.4 .6l0 .7l-.2 .9l.3 .5l.3 .4zM157 142.2l-.3-.8l-.7-.4l-.7-.8l-.8-.7l.5 .7l.3 .9l1 .7zM145.9 140.2l.3-1.2l.4-1.4l.2-.8l-.1-.2l-.2-.4l0-.7l-.5 .8l-.6 .3l-.6 0l-.6 .1l-.5 .6l-.3 .6l-.2 .3l0 .2l.2 .5l.1 .7l-.2 .7l-.4 .8l-1 .4l-.8 .7l-.6 .8l-.3 .5l.4-.1l.1 .7l-.1 1.4l0 1.3l.2 .7l.4 .2l.4 0l.4-.2l.6 .1l.8 .6l.4 1.1l.5 .7l.2 .1l.2-.1l.5 0l.8 0l.9 0l.6 0l.2 .1l-.4 .3l-.2 .7l-.1 .6l-.2 .6l-.5 1.1l-.4 1.5l0 1.3l.6 .6l.4 .3l.2 .5l.1 .5l.4 .4l.3 .3l0-.5l-.1-.5l0-.2l.2-.4l.4-.8l.4-1.1l.4-.4l.5-.4l.3-.7l-.1-.4l-.3 0l.4-.2l.5-1.4l.7-1.9l.6-1.2l.4-.3l.2-.3l.3-.3l.3 0l.3 .1l-.1 .2l0-.2l0-1l0-1.1l-.3-.7l-.2-.2l-.1-.8l.4-1.4l.4-1l.2-.6l-.1-.9l-.1-.9l-.2-.6l-.3 0l-.2-.1l.1-.8l-.5 1l-.4 .6l-.4 .1l-.2 .2l-.2 .2l-.3 .5l-.6 .2l-.9 .1l-.9 .3l-.3-.4l-.6-.3l-.7 0l-.6 .1zM136 151.6l.1 .2l.2-.5l-.7-.5l-.8-.6l-.3 .6l-.2 .3l.9 .3zM142.9 171.3l-.3 .4l-.3 .3l-.8-.3l-.6-.7l.3 .6l.4 .3l.6-.2zM122.4 177.5l-.4 .1l-.3-.4l-.3-.7l-.4-1l-.6 .5l-.5 .6l-.4 .4l-.4 .4l-.4 .5l.6 .6l.5 .5l.3 .4l-.1 .4l.1 .1l.4-.3l.6-.7l.6-.8l.5-.6zM125.3 181.7l.9-.3l.7-.7l.5-1l.4-.7l.3-.3l.2 0l-.2-.4l-.2-.8l-.1-.6l.1-.1l.3-.4l.7-1.2l-1 .7l-1 .6l-1 .2l-.7-.3l-.2-.1l.2 .1l.2 .4l0 .3l-.4 .1l-.7 0l-.3 .5l-.4 1.1l-.3 .9l-.1 .2l.1 .1l.3 .3l.6 .7zM116.4 195.7l.3 .4l.4 .3l.5 .3l.3 .4l.2 .2l.3-.6l.1-.5l.1-.5l.1-.3l.3 0l.6-.2l.8-1l.4-1.9l.1-1.2l-.3-.4l-.4-.1l-.6-.1l.3-.5l.2-.7l.2-.7l.4-.4l.7-.5l.7-1.3l.7-1l.2 .1l0 .4l0-.6l.3-.9l-.3-.7l-.3-.9l-.2-.8l-.4-.7l-.7 .5l-.8 1.2l-.9 1.4l-.8 1.1l-.7 .7l-.5 .5l-.2 .6l-.2-1.1l-.1-1l-.1-.5l-.2-.1l-.3-.1l-.8 .3l-.8-.4l-.8-.3l-.5 .1l-.4 .3l-.4 0l-.3 .1l-.6 .7l-.7 1.3l-.5 1.2l-.3 .5l-.1 .4l.5 .8l.8 .6l.7 .1l.3 .5l-.1 1.3l0 1.1l.5 0l.5-.1l.5 .1l.7 .3l.7 .5l.6 .7z"/>
<path fill="#D5CBEE" stroke="#D5CBEE" stroke-width="0.35" d="M155.6 467.3l-1.2 0l-1.4-.4l-1-.5l-.4-.6l-.7-1l-.7 .6l-1.1 .6l-1.3 1.2l-1.5 .6l-1.3 0l1.3 1.6l1.1 .5l.8 .3l1 .8l1.3-.3l1.5 .3l1.4 .4l.4-.7l.2-1.4l.5-1.4z"/>
<use href="#mesh" fill="none" stroke="#000" stroke-width="0.33" stroke-linejoin="round"/>
</g>
<rect x="8" y="108.95" width="214.2" height="400.15" fill="none" stroke="#000" stroke-width="1.45"/>
</g>
<g transform="translate(691.5 0)">
<g shape-rendering="geometricPrecision">
<path fill="#E4D8F0" stroke="#E4D8F0" stroke-width="0.35" d="M131.9 372.3l0-.8l0-.8l-1.5-.1l-.8 .9l1 .6l1.1 .4zM123.4 371.5l-.2 .6l-.2 .8l-.7 0l-.4 .9l.1 .7l.2 .8l.6 .5l.4 .4l.4-1l.5-1l.7-.5l.6-.4l-.8-1.1l-1-.3zM115 374.2l-1 0l-.6 .9l.1 .8l.1 1l0 1.2l.2 1l.4 .7l1.5 .1l1.1 .1l.2-.9l.1-1l.2 .4l.8 0l1.2 .2l.1-.4l-.2-1l-1-.4l-.9 .5l-.5-.8l-.8-.3l-.5 1.1l-.3 0l-.1-1.4l0-1.5zM143.8 453.2l-1.3-.7l-.6 0l-1.2-1.1l-1.6-1.4l-.6-.7l-.7-1.4l-.8 .2l-.7 1.2l-1 .6l-1.8-.4l-1.2 .5l-.7 1.2l-1.1 .4l1 .7l1.3 .7l.9 .8l.3 .2l1.3 1l1.3 .5l1-.2l1.3 1.3l.9 .8l.9-.6l.7-.4l.7 .2l.2-.5l.3-.8l.5-1.1zM120.3 458.2l.4 .1l.5 .6l1.2 .3l.9-.2l.6-.6l1.7 .5l2.1 .2l1.5-1.1l1.3-.6l.9 .1l.7 .2l-.8-1.3l-.8-.7l-.9-.5l-1.2-1.5l-.4-.4l-.5 1.7l-1.3 .3l-1.7-.3l-1.2 0l-1.1 .3l-.9 .7l-.8 .8l-1.3 0l.7 .9zM138.4 372.2l.5-.1l.4 .2l.4 1l1.1 .6l1.6-.3l.2-.3l.3-.5l.1-.6l-1.2 .4l-1.3-.3l-1.1-.2l-.4-.2l-.6 .2zM173.2 432.9l.2 .8l0 1l.3 .1l.4-.2l.4-.5l.6 .2l.7 .3l1.2-.2l-.5-.8l-.4-.5l-1 .1l-1-.5zM168.6 440.2l.6 .1l-.2-1.4l0-1.2l.1-1.1l-.5 .6l-.5 .3l.2 1.3zM183.4 438.8l-.3-.3l-.1-.1l-.1-.4l-.1-.6l-.3 .9l-.3 .8zM153.3 445.6l-1.1 .5l-1.1 .3l-1.1 0l-.9-.7l-.3-.5l-.5-.6l-.8 0l-1 .1l.6 .7l.5 1l.6 1.9l.3 1l.6 .4l1-.6l.8 .2l.3 .4l.8 .9l1 .7l1.3 .2l1.1-1l-.1-1.1l-.1-.8l.1-.6l.2-.8l.3-1l-.8-.7l-.7 0z"/>
<path fill="#E4DEF0" stroke="#E4DEF0" stroke-width="0.35" d="M116 372.4l-.7-.5l-.8 .4l-.6 .3l-.3-.7l-.2 1l-.3 1l.2 .6l.1 .7l.6-.9l.9 .1l.1 .2l0 1.5l.2 1.4l.3 0l.5-1l.8 .3l.5 .7l.4-.3l.6-.1l.9 .3l1.1 .1l-.1-1l1-.6l1.1-.7l-.1-.7l-.2-.7l.4-.9l-1-.2l-1-.1l-1 .1l-.8-.8l-1.1-1.2l-.2 .6l-.4 .6zM169.4 368.9l-1.5-.9l-.7-.1l-.9 0l-.3 1.4l-.5 1.2l-.5 1l-.4 .9l-.2 .8l.7-.5l1-.3l1.1-.4l.6-.9l.8-.4l1.1 0l-.1-.9zM131.8 372.3l.9-.8l0 .7l.6-.6l.8-.3l-.1-1.2l-.8-.7l-.2 .3l-.9 .5l-.4 .6l.1 .7zM126 371.2l-.1-.3l-.4-.3l-.5 .4l-.7 .3l-.8 .7l1 .2l.7 .8l.4 1l.3-.9l.1-1.1zM143.7 374.8l1.2-.4l1-.6l-.8-.7l-.8-.6l-1.1-.4l-.3 .2l-.2 .6l-.2 .4l-.3 .4l.8 .3z"/>
<path fill="#DED8F0" stroke="#DED8F0" stroke-width="0.35" d="M147.8 372.9l-.8-.7l-.2 .6l-.3 .8l.1 .3l.4 .3l.7 .8l.9-.3l1.4-.5l.2-.3l-.3-1.3l.8-1.2l.5-1l.4 .6l.4 .8l.6 .4l1.1 .7l1.2 .3l1.5-.1l.5-.5l.5-.3l-1.3-.9l-.7-1.2l-.4-.5l-1.2-.4l-1.4-.9l-1.1 0l-.8 .5l-1 .6l-.8 .6l-.3 .7l0 .7l-.1 1zM127.9 371.3l-1.1 .2l-.7 .5l-.1 0l-.1 1.1l-.3 .8l.2 .3l.7 .6l.7 .6l0-1l0-1.1l.9-.3l.5 .4l.7-.4l.2-.8l.2-.7l-.7-.3l-.8-.2zM133.3 373.6l.9-.3l.7 .2l.8 0l.7 0l0-.8l0-.9l-.7-.1l-1-.1l-.7-.4l-.7 .2l-.5 .6l-.1-.7l-.9 .9l-.2 .2l-.1 .8l-.3 .8l.1 .1l.7-.3l.5-.8zM122.3 375.1l-1.2 .8l-1 .5l.1 1l-1.1-.1l.3 1.1l1 0l1 .1l.1-.8l.8-.2l.6-.5l.4-1l-.4-.4zM172 376.8l.2-1.5l.2-1.3l0-1l-.2-.9l-.3-1l-.3-1.2l-1.1 .3l-.6 .4l-1.2 0l-.9 .4l-.6 .8l-1 .5l-1 .2l.7 1l.9 1.2l.8 .7l.4 .7l.9 .6l1.4-.3l1.1 0zM171.2 434.9l.4 .6l.9 .5l.6-.6l.4-.7l-.1-1l-.1-.9l-.3 .3l-.7 1.3zM162.9 440.2l1.1 .9l.7 0l.8 0l.9-.4l.8 .3l.1-.7l.4 .2l.8 0l.2-.3l-.4-1.4l-.1-1.4l-.8 .2l-.9 .2l-1.1 .1l-.8 .5l-.5 1.2zM158.7 438.3l-.7 .6l-.4 1.2l-.4 1.3l-1.1 0l-1 0l-1-1.3l-.6-.7l-.1 .1l-.8-.3l-1.4-.3l-.2 1.3l-.5 .7l-.9 .1l-.8 .2l-.4 .8l.3 1.5l.2 2l.2 .3l.9 .7l1.1 0l1.1-.3l1.1-.5l1.1-.1l.9 .3l.8 .8l1.2 .6l1.6 .5l.3-1l.1-1.1l.7-.5l.7-.6l.1-1.1l.2-1l.4-1.1l.4-1.1l-1.1 .3l-.5-.9z"/>
<path fill="#F6F6FC" stroke="#F6F6FC" stroke-width="0.35" d="M122.7 370.1l.6-.4l.6-.1l-.5-.8l-.5-.8l-.8-.1l-.5 .9l-.5 .8l-.6 .7l.7 .6l.8 .5l.6 .5l.8-.3l-.3-.8zM132.1 370.3l.9-.4l.2-.4l.2-1l.1-.9l-1 .2l-.9 .6l.3 .9zM118.2 371.4l.7 .9l.6-.8l.2-1.1l-1.3-.6l-1.7-.7l0-.3l-.8 .4l-.9 .6l-.8 1l1-.1l1.1-.3l.5-.1l.1 .3zM165 445.9l-1.1 .7l-1.5-.5l-1.1-.1l-.5 .6l.3 .6l.4 1.4l.3 1.2l.4 .7l.8 1.6l-.2 1.4l.4 .9l.3 .5l1-.3l1.2-.7l1.4-.8l.8-.1l.6 .2l.1-1l.1-.8l.3-.6l1.5 .5l1.5 .3l1-.3l.8-.6l0-.9l-.5-1.4l-1-.2l-.7 .2l-1.2 .7l-.7-1.3l-.6-1.4l-.6 0l-.6 0l-1.2-.2l-1.1-.5zM176.9 445.2l1.1-.1l.7 .2l-.2-1l-.2-.9l-.4 .2l-.6 .5l-.2 .5zM174.9 448l.6-.4l1.1 .1l.1-1.5l.1-1.1l-.3 0l-.6-.2l-.9 1l-.5 1.1l.3 .6z"/>
<path fill="#E4DEF6" stroke="#E4DEF6" stroke-width="0.35" d="M125.9 371.3l.1 .8l.2 0l.7-.5l1.1-.2l.3-.3l-.1-.2l-1-.7l-.7-1l-.4 .9zM116.3 370.4l-.6 .7l-.5 .9l.7 .5l.1 0l1-.5l.4-.6l.3-.6l-.7-.3l0-.3zM132 457.6l-.7-.2l-1-.1l-1.3 .9l-1.5 1l-2.2-.5l-1.5-.4l-.6 .7l-.9 .1l-1.2-.4l.6 1.4l.3 .6l.8 .8l1.1 1.4l.5 1l-.4 1.3l-.5 1.2l-.4 1.1l0 1l1.3 1.1l1.1 .1l.9 .4l1.4 .1l1 0l.2-.7l.7-.5l1.5 .4l1.1-.6l1 .2l1.2 1.5l.5 .5l.5-1l1.3-.7l1.5-.6l1.1-.7l.8-.6l.5-.6l.5-1l.7-.8l.8 .1l-.3-.9l-.1-.4l-.1-.7l-.1-1.3l1.1 .1l.6 0l.2-.6l.1-1.6l.1-1.6l-.6-.9l-.5-.4l-.9-1l-.1 .3l-.1 .3l-.7-.1l-.6 .4l-.8 .6l-.9-.8l-1.4-1.2l-1 .1l-1.3-.4l-1.2-1.1l-.4-.2l-.8-.8l-1.3-.7l-.9-.6l-1-.7l-.8-.7l-.6-.2l-.8 .2l-.1 .1l.5 1.6l.1 1.6l.3 .3l1.2 1.4l.9 .5l.8 .6zM169.3 436l-.4 1.2l0 1.5l.6-.2l.6-.5l.8-.3l.6 .4l.8-.4l.6-.6l-.3-1.2l-1-.4l-.7 .3l-.7 .3zM167.1 440.9l.2 1l.4 .7l1 .1l-.1-1.1l-.1-1.3l-.8 0l-.4-.1zM164.4 445.4l1-.9l.6-1.1l-.1-1.2l-.4-1.3l-.8 0l-.6 0l-1-.7l-1.4 .1l-.5 1.1l-.3 1l-.2 1.1l-.1 1.1l.9 .1l1.3 .1zM144.2 452.5l1.1 0l.8-.7l1.3 0l.8-.4l.7-.7l.3-1.1l-.6-.4l-.3-.9l-.6-1.9l-.5-1.1l-.5-.6l-1-.3l-1-.2l.3 .9l.6 1.2l.1 1l-.1 .8l-.1 1.1l.2 1.4l-.8 1zM155.7 446.1l-.3 1.1l-.2 .9l-.1 .6l.1 .8l.1 1.1l1.3-.3l.9 .3l.8 .3l1.6 .6l.6-.1l-.8-1.2l-.6-.8l.3-.7l0-.8l-1.5-.5l-1.4-.5z"/>
<path fill="#EAE4F6" stroke="#EAE4F6" stroke-width="0.35" d="M145.8 371l.7 .6l.5 .7l.8 .7l.5-.4l.2-1.1l-.1-.7l.6-.8l1.2-.8l-.3-.8l-.9-.4l-.6-.5l-.3 1.5l.1 .9l.2 .9l-.2 .5l-.5 .1l-1-.4zM115.3 372l.5-.9l.6-.7l-1.1 .2l-1 .1l-.4 .7l-.3 .6l.3 .7l.6-.4zM167.2 440.8l-.8-.2l-1 .4l.4 1.2l.1 1.2l.5 .2l.7 .2l.3-.5l.3-.8l-.4-.6zM147.3 451.7l-1.2 .1l-.8 .6l-1 0l-.7 .9l-.7 .9l-.4 .9l-.3 .7l.9 1.1l.5 .4l.5 .8l-.1 1.6l0 1.5l-.2 .6l.4 .6l.6-.2l1.5 .5l1.2 .3l.6-1l.5-.9l.4-.5l-.2-.3l-.3-.2l-.1-1.1l0-1.1l.2-1.2l-.7-1.1l.3-.8l.4-.8l1.2-.4l1.4-.2l1.1 .2l.5-.9l1.3-.5l.3-.8l-1.3-.2l-1-.7l-.8-.9l-.4-.4l-.9-.2l-.9 .6l-.3 1.1l-.7 .6zM175 435.5l.7-.4l.7 1.3l.5-.3l.7 1l.4 1.1l.9-.2l.6-.7l.2-.6l0-.5l-.6-.2l-.6 0l0-1.1l-1 0l-.6-.6l-1.2 .2l-.7-.3l-.5-.2l-.4 .6l.3 .4zM172.9 437.2l.5-.5l.3-.8l.1-1.2l-.3-.1l-.4 .8l-.7 .5l.4 1.2zM181.5 437.6l-.6 .2l-.3 .8l-.2 .9l1 .1l.5-.2l.4-.3l.2-.8l-.3-.3zM168.6 440.1l-.2 .3l.1 1.1l.1 1.1l.9 .7l.8 .3l.2-.7l0-.9l-.5-.3l-.7-.9l-.2-.7z"/>
<path fill="#F6F0FC" stroke="#F6F0FC" stroke-width="0.35" d="M173.9 438.8l-1.4 .8l-.1 .1l.7 .7l-.4 .5l1 .7l-.4 .5l-.3 .5l.6 .1l.4 .2l.6 .4l-.7 1l-1.1-.1l0 .5l-.1 .6l-.3 .5l-.3 .6l-.6-.8l-1-.2l-.7-.5l-.7-.4l-.6 .5l-.7-.7l-.7-.5l-.7-.3l-.4-.2l-.7 1.1l-1 1l-.1 .7l-.1 .5l.8-.6l.7-.2l1 .5l1.2 .2l.6-.1l.6 .1l.7 1.5l.6 1.2l1.3-.7l.7-.2l1 .2l.7-.7l.5-.8l.1 .1l.4-1.1l.9-1l.6 .2l.5 0l.4-1.1l.5-.4l.5-.2l.1-.3l.9 .7l.1-1l0-.8l.7-.2l.5-.4l.3 .5l.7-.9l.6-.8l-.1-.6l-.4 .2l-.7-.2l.5-.2l-1.1-.2l-.4 .2l-1.2 1.3l-1-.3l.1-.3l-.9-1l.2-.6l-.8-.8l-.4 .2l0-.2l-.2 .4l-.1 0l-.1-.9l-1.1-.3l-.3 .1l-.6 .9zM159.8 451.4l-.3 1.3l-.2 1l-.1 .8l.1 .7l.9 .9l.9 1.3l.8 .4l-.7 .7l-.3 .7l1.4 .8l1.3 .5l.9-.1l1.6 1.3l.8-.6l.3-1.1l-.3-1.8l-.5-1.4l-.4-.7l-.6-.6l-.7-1.1l-.6 .3l-.5 .1l-.3-.5l-.4-.9l.2-1.3l-.7-1.5l-.5-.7l-.2-.6l-.3-1.2l-.3-1.1l-.3-.5l-.4 .4l-.5 .5l-.6 .5l0 .8l-.3 .7l.5 .8l.8 1.1zM185.7 440.6l-.2 .9l0 1.3l.8 1l.4 .7l1.1-.5l1-.2l.8-.4l.7-.7l-.3-1.1l-.7 .2l-.6-.9l-1.4-.6z"/>
<path fill="#FCFCFC" stroke="#FCFCFC" stroke-width="0.35" d="M126.6 363.6l-.8 .5l-.9 .7l-.7 1.1l0 .8l.6 .2l.4 .9l.5 .8l.9-.3l1.1 .5l1 .3l1-.1l.4 .8l.3 .9l1.4 .1l.4-.6l-.2-.9l-.2-.9l.7-.5l.9-.2l.8-.1l.2-.6l.1-.4l.6 .1l.3 1l.5 1.2l.8 1l-.6-1.2l-.5-1.3l-.2-1.2l-.6-.4l-1.2-.4l-.9-.9l-.7-1l-.4-.1l-.6-.3l-.9 .2l-.6-.8l-1-.7l-.9-.8l-.1-.1l-.4 1l-.1 1l-.4 .5zM141.7 363.1l.2 1.2l.5 .3l-.4 1.1l-.4 1.2l.5 .7l-.9 .8l-1.4 .1l.3 .8l1.5 .8l.7 .8l.3-.1l.6 .3l.9 .1l.5 .5l.8-.4l.7-.3l.9 .2l-.5-.6l-.5-.7l.4-.1l.4-.4l.8 0l.5-.4l.3-1.4l0-1.1l.8-.6l.9-.5l-.4-.8l-.8-.7l-1.4-.2l-.8 .1l-.5-.3l-.1 .1l-.6-.9l-.6-.9l-.7 .1l-.7 .2l0 .5l-.8 .3zM117.7 365.9l-.2-.1l.3 1.3l.4 1.1l-.4 .3l-.8 .1l-.8 .5l.1 0l.3-.2l0 .3l1.7 .6l1.4 .7l.1-.2l.2 .1l.6 0l.6-.8l.5-.7l.4-.9l-.5-1l.1-1.6l-.1-1.5l-.1-.1l-1.4 .3l-1.6 0l-.7 .3l-.1 .8zM176.5 447.5l-1.1-.1l-.5 .5l-.1 1.2l0 1.3l-.5 .1l-.5 .2l-.8 .6l-1 .2l-1.6-.4l-1.5-.4l-.3 .7l-.1 .8l-.1 1l.7 .6l.4 .5l-.1 .8l.4 1.1l.7 1.5l.5 1.6l.1 .2l0 1l0 1l0 1l1.3 .8l.7 0l.5-1.3l1.3-.7l1.4-.1l.9-.2l1.4 .8l1.4 1l.9-.1l1.3 .3l1.4 1.2l.6 .6l1.4 1.2l1.1-.8l.4-1.7l.6-1.5l.8-.8l.8-.7l1-.4l1.3-.2l.9-.6l.7-.5l.9-.5l.7-.7l.6-.9l1-.4l1.1-.1l1.1-.1l1.3 .2l1-.3l.6-1.3l.9-1.2l1.5-.3l1.1-.5l.8-1l1.2-.8l.3-1.1l.3-.8l.2-.6l.2-.6l-.2-1l-.1-1.4l0-1.5l-.1-1.3l0-1l-1.1-.1l-.7 0l-1.3-.1l-1.7 .4l-.7 .9l-.8 .1l-1.2-.2l-1 .5l-1.4-.2l-1.7-.3l-.7 .1l-.3-.7l0 1.1l0 1l-.9-.6l-1.4 .3l-1.4 0l-1-1.2l-.7 .7l-.8 .4l-1 .2l-1 .5l-.4-.7l-.8-1l.1-1.2l.1-.9l-1.1-.1l-1.5-.8l-1 0l.1 .6l-.7 .8l-.6 .8l-.1 1.1l-.7 .9l-.8-.1l.3 1.2l.1 .9l-.6-.2l-.7-.7l-.7 0l-1.1 .1l-.2 1.1z"/>
<path fill="#F0F0FC" stroke="#F0F0FC" stroke-width="0.35" d="M129.6 371.6l.1-.1l.8-.8l-.3-1l-.4-.8l-.4 0l-.3 .7l-.5 .6l-.5 .7l.1 .2l.7 .2zM120.6 370.3l-.6-.1l-.2 0l-.2 .2l-.2 1l-.6 .8l1 .4l1.4-.4l1.5-.3l-.6-.5l-.8-.5zM170.3 439.1l.3 .7l.4 .4l0 .1l-.6 .7l-.2 1l.5 .2l.6 .2l.6 .8l-.3 .5l-.8 0l-.8 .1l-.4 .4l-.5 .3l.6 .4l.7 .6l1.1 .2l.6 .9l.3-.8l.4-.5l.1-1l1.1 .1l.3-.6l.5-.5l-.7-.4l-.4-.3l-.6 0l.3-.5l.4-.5l-.9-.7l.3-.5l-.6-.7l0-.1l1.4-.7l-.2-.9l.6-.8l.3-.1l1 .3l.1 .8l0 .1l.2-.3l.1 .1l.4-.2l.7 .7l-.2 .5l.8 1.1l0 .3l1.1 .4l1.3-1.4l-.8 0l-.5 0l-.2 .1l-.8-1.1l.2-.4l-.4-1l-1.1 .2l-.3-.8l-.2 .2l-.2-.1l-.9-1.1l-.4 .2l-.9 .2l-.3 .7l-.5 .5l0 .6l.1 .5l-1 .6l-.2 .5z"/>
<path fill="#F0EAF6" stroke="#F0EAF6" stroke-width="0.35" d="M125.8 368.4l-.8 .8l-.8 .3l-.9 .1l-.8 .5l.4 .6l.3 .6l.3 .7l.2 0l1-.8l.9-.5l.3 .4l0 .2l.2-1.1l.5-.8l0-1.2zM139.4 372.2l.9 .2l1.2 .3l.4-.8l.5-1.1l-.7-.7l-1.5-.9l-1.1 .5l-.7 1l-.4 1.1l.4 .4l.6-.1l.3 .3l.1-.1l-.4-.3zM146.6 373.6l.2-.8l.3-.6l-.6-.6l-.6-.7l-.9 .6l-1.4 .5l-.5 .2l1.1 .3l.8 .6l.8 .8zM148.5 456.6l-.2 1.2l0 1.2l.1 1.1l.5 .5l-.6 1l-.8 1.4l-.1 .5l0 .9l.3 1.5l1.4-.3l1.1-.2l-1.2 .6l-1.3 1.2l-1.4 .6l-1.3 0l1.3 1.6l1.1 .5l.8 .3l1 .8l1.3-.3l1.5 .3l1.4 .4l.4-.7l.2-1.4l.5-1.4l1.1-.6l-1.2 0l-1.4-.4l-.9-.5l-.5-.5l.4 0l.8-.7l1.2-.4l1.6 .3l1.4-.2l.9-1.4l1.5 .1l1.5 1.1l.5 .3l1 1.2l1 .3l.5-.7l.8-1l1.3-.5l0-.5l.1-.8l0-1.4l-1.5-1.3l-.9 .1l-1.3-.4l-1.4-.9l.3-.6l.7-.8l-.8-.2l-.9-1.3l-1-1.1l0-.7l.1-.8l.3-.9l.3-1.3l-1.6-.6l-.9-.3l-.8-.3l-1.4 .3l-1.1 .9l-.2 .7l-1.3 .6l-.5 .9l-1.1-.3l-1.3 .2l-1.2 .5l-.5 .7l-.3 .9zM174.7 435.8l.4-.2l-.1-.2l-.5-.5l-.4-.4l-.4 .2l-.1 1.3zM176.3 436.6l.3 .8l1.1-.2l0-.1l-.4-.5l-.4-.6l-.5 .3zM169.5 438.4l-.6 .2l.1 1.1l.2 1.1l.6 .8l.4 .5l.2-1.1l.7-.6l0-.2l-.7-.9l1.5 .1l.2-.5l1-.7l-.1-.5l0-.7l-.2 0l-.6 .6l-.7 .4l-.7-.5l-.8 .3zM179.5 437.1l-.6 .7l-.9 .3l-.2 .4l.5 .7l.4 .5l.2-.1l.3-1l.3-1zM167 443.8l.7 .6l.8 .7l.5-.5l.7-.4l.6-.7l-.7-.3l-1-.6l-1-.1l-.3 .7z"/>
<path fill="#DED2F0" stroke="#DED2F0" stroke-width="0.35" d="M128.1 372.8l-1 .4l0 1.1l.1 1l.5 .9l.8 .9l.5 .6l.5-.2l1.1 0l1.4 .1l.1-.6l.6-.7l.5-.9l.7-.4l.7 0l.2-.8l.1-.7l-.6-.3l-.9 .3l-.8-.7l-.5 .8l-.7 .3l.2-.7l.1-.8l-1.1-.4l-.9-.6l-.1 .1l-.2 .7l-.2 .7l-.6 .4zM136.3 373.5l.8 .7l.7 .9l.4-.8l.2-.9l.1-1.1l-1.1-.1l-1-.6l-.1 .2l0 .9zM125.8 374.1l-.5-1l-.6 .5l-.6 .5l-.2 .4l.8 1l1.4 .7l.2-.7l0-.9zM117.3 378.4l-.2-.5l-.1 1l-.2 1l-1.6-.2l1.3 1l.5 1l.6 .4l.1-1.2l0-1.1l-.3-.6zM122.1 466.8l.3 .6l.1 .4l.7 .9l0-1.1l.4-1.2l.4-1.2l.5-1.4l-.4-.9l-1.2-1.4l-.8-.8l-.3-.5l-.5-1.4l-.6-.6l-.4-.1l-.5 .6l-.5 .8l-.3 1.1l-.5 1.4l-.8 1.2l-.9 .9l-.7 .8l-.3 1.1l.1-.1l.9 .7l1.5 .4l1.2-.9l1.3-.1zM148.6 374.6l-.9 .2l-.7-.7l-.4-.3l-.2 1.1l-.4 1.1l.8 0l1.3 .3l.3 .3l0 .6l-.2 .7l.5 1.1l.6 .8l.8 .4l1.4-.1l1.4-.8l.2-1.1l.1-1l-.6-.6l-.2-.8l-.1-.9l.1-1.6l.3-1.1l-.7-.6l-.4-.7l-.4-.7l-.6 1.1l-.8 1.3l.3 1.3l-.1 .3zM172.2 369.8l-.7 .1l.2 1.3l.3 1l.3 .8l0 1l-.1 1.2l-.3 1.5l.5 .6l.8 .3l.8 .5l1.6-.1l1.5-.3l.3-.8l.1-.9l.2-1.2l.8-1.3l1.1-1l-.3-.2l-1.2 .1l-1.7-.3l-.9-.6l-1.1-1l-.8-.7l-.5 0zM177.4 435l1.1 0l.8-1.5l-.6 .3l-1.2-.4l-1.4-.3l-.1 0l.4 .5l.4 .8zM169.1 436.7l.2-.6l1 .1l.7-.3l.8-.4l-.5-.6l-.9 .2l-.8 .3l-.1 .1l-.9 .3l-1.3 0l.3 .9l.3 1l.6-.3zM155.1 441.5l1 0l1.2-.1l.4-1.2l.4-1.3l.8-.5l-1.1-.4l-.7-.1l-.5-.7l-.8 .8l-.9 .3l-.8 .4l-.7 .7l.4 .5l.6 .7zM144.7 442.9l-1.1 0l-1 .6l-.9 .9l-1.2 .4l-1.3 0l-.5 .3l-.5 .4l-.3 1l-.1 1.5l.7 1.4l.5 .6l1.6 1.4l1.2 1.2l.6 0l1.4 .7l.7-.9l.6-.9l.7-.9l-.2-1.5l.1-1.3l.1-.9l-.3-1.2l-.6-1.2l-.2-.7z"/>
<path fill="#D2C6EA" stroke="#D2C6EA" stroke-width="0.35" d="M119.3 378.3l-.1 .3l.3 .7l1.1 .4l1.7 0l.3-.9l.5-.6l.3-1.1l-.4-.6l-.2 .5l-.6 .4l-.8 .1l-.1 .9l-1-.1zM114.2 379.8l.9 .7l.7 1.2l.2 1.2l.6 1l.8 1.1l.2 0l.4-.5l.3-.7l-.3-.9l-.4-.9l-.6-.4l-.4-.9l-1.2-.9zM119.2 441.4l-.7 1l-.8 .7l-.6 .8l-.8 .8l1 0l1.3 1.2l.8 1.2l.6 .2l1.9 1.5l1.2 .7l.9 .7l1.2 .9l1-.6l1.3-.1l.5-1.2l.8-.4l.7-.7l.1-.7l0-.9l.1-1.1l.1-1.2l.3-1.3l-1-.1l-.2 .5l0-1.2l-.7-1.4l-.7-.6l-1 .4l-1.5 .6l-.9-.8l-.6-.3l-.6-.2l-.2 .9l-.3 .9l-.1 1l-.2 .8l-.8-.3l-.9-1.3l-.7-.3zM88 455.7l-1.5 0l-1.1 .1l-.7 .3l-1.3-.2l-1.4-.3l0 1.4l.1 1.4l.2 1.2l-.1 1.1l-.2 .8l.5 .5l.5 .7l.6 .8l.4 .3l.8 .7l.9 1.2l.3 .9l0 1.3l.7-1.2l.9-.8l1-.5l.7-.8l.3-1.5l.3-1.5l.7-.8l1-.4l.8-.5l.3 .1l.6-.6l.2-1.3l.2-1.6l.3-1.5l.3-1.4l.4-1.2l.5-1l.4-.7l.5-.7l.5-.9l-1.2 .6l-1.1-.3l-1.2-.4l-1.3 .1l-.7 1.2l-.3 1.2l-.4 .7l-.4 .6l-.6 .8l-.7 1zM143.6 375.1l.2-.4l-.7-.7l-.8-.4l-1.6 .3l.8 .4l.4 .6l.3 .9l.6-.4zM136.3 373.4l-.7 0l-.8 0l-.1 .8l-.2 .8l.3 .6l.3-.1l1.1-.2l1.1 .5l.6-.8l-.8-.9zM126.3 378l.5 .4l.5 .2l.1 .8l.1 .9l1 0l.8-.3l.5-1.1l.1-.3l-.4-.6l-.3-.5l-.4 .3l-.9 .1l-.3-.7l-.3-.8l-.3 0l-.8-.1l-.3 .6l.3 .5zM153.5 377.8l-.5-.1l-.2 1.6l-1.1 .6l-1.2 .2l-1.1 .1l-.2 .7l-.1 .7l1.1 0l2 0l1.4-.6l.3-1.1l-.1-1.1zM162 427.5l-.2 1.3l-.3 1.3l.5 .3l1.5 0l1.4 .6l.9-.5l1.2-.4l-.4-.5l-.3-.9l-.3-1.2l-.5-1l-.2-.8l-.4 .3l-.5-.1l-.7 .4l-.7 .5zM178.5 433.4l-1-.9l-.6-.6l-.8 .5l-.6 .4l-.1 .5l.7-.2l1.1 .3l1.1 .5zM180.7 434l-.6 1l-.5 1.3l0 .5l1-.3l1.4-.2l-.7-.4l-.3-.7zM156.5 437.3l.5 .6l.4 .1l1.3-.2l1.4-.4l.1-.2l-.6-.2l-.9-.7l-1.3-1.4l-.9-.2l.2 .5l-.2 1.1z"/>
<path fill="#F0E4F6" stroke="#F0E4F6" stroke-width="0.35" d="M180.1 439.6l.4-.1l.1-.1l.2-.9l.2-.7l-.9-.2l-.6 0l-.4 1l-.3 1l.5 0zM158.8 447.8l.6 .2l.5-.5l.5-.6l.6-.5l.6-.4l1.3 .5l1.3 .1l.2-.5l.1-.8l-1.6-.6l-1.4-.1l-.9-.1l-.7 .6l-.7 .5l-.2 1.2zM141.9 461.7l.2 1.3l.1 .8l.1 .4l.2 .8l1.8 1l.9 .2l.7-.2l1.6-.1l.4-.1l-.4-1.4l0-1l.1-.5l-1.2-.3l-1.5-.5l-.7 .2l-.4-.5l-.7 0z"/>
<path fill="#D8CCF0" stroke="#D8CCF0" stroke-width="0.35" d="M144.5 379.5l1.8-.2l.9 0l1 .7l1 .2l1.1-.1l-.9-.3l-.6-.7l-.5-1.2l.2-.7l.1-.6l-.4-.4l-1.3-.3l-.8 0l-.8 .7l-.2 1.3l0 1.1l-.8 .4zM129.2 377.5l.2 .6l.4 .6l1.1 0l.8 .9l.8-.3l.9-1l.1-.4l0-.8l0-.7l-.5 .6l-.7 .5l-1.7 0l-1.4 0zM157.4 438l.9 .2l1.2 .8l.8 1.1l.3 .6l.5-.1l.1-.8l0-.9l-.5-.9l-.7-.7l-.8 .4l-1 0zM139.2 444.8l1.3 0l1.2-.3l.9-.9l1-.5l1-.1l0 .8l.1 .5l1.2 .3l1.1 .2l.8-.2l.7 .3l.4 .6l-.1-1.9l-.3-1.7l-.6-.1l-.9-.4l-1-1l-.5-.5l-.5-.8l-.7 .7l-.9 .3l-.1 .2l.2 .2l-1.1-.4l-.7-.6l-.8-1.1l-.6-.5l-.7-.6l-1.2-.8l-.5 .8l-.9 0l-1.5-.2l-1.5 .2l-1.4 .4l-.7 .6l-.3 .8l-.5 1l.8 .9l1.1 1l.9 .1l1.1 .1l.8 .5l.7 .3l1.4 1.1zM100.1 448.5l-1.5-.3l-1.2 .2l-.9 .8l-.5 .8l-.5 .7l-.5 .7l-.4 .9l-.4 1.2l-.3 1.4l-.3 1.6l-.2 1.5l-.2 1.3l-.5 .5l-.3 0l-.8 .5l-1.1 .3l-.7 .9l-.3 1.5l-.3 1.5l-.7 .8l-1 .4l-.8 .9l-.7 1.1l.1 .9l1.3 .3l1.6 .2l1.6 .6l1.5-.1l.8-.3l.7 .2l1.3 .5l1.5 .2l-.5 .5l-.5 .6l-.3 .8l-.3 1.3l-.4 1.5l-.7 1.4l-.8 1.2l-.7 1l-.5 .7l1.3 0l1.3 .5l1.2 .2l.7 .6l1 1.3l1.2 1l.5-.9l.9-.8l1.1-1.1l.5-1.1l.2-1l.3-.7l.5-.6l.7-.7l.2-.7l.1-1.1l.1-1.7l0-1.6l1-1.3l.4-1.2l.3-.6l.5-.4l1-.1l1.2-.2l1-.3l1.1-.1l1.4 .3l1.2-.3l1.1-.3l1.4 .3l.7 0l.1-.6l.4-1.2l.9-.9l1-1.2l.7-1.6l.4-1.4l.5-.9l.5-.7l-.3-.4l-.7-.9l-1.2 .1l-.7 1.4l-1 1.4l-1.3 .7l-1.3 .1l-.4 .9l-.4 1l-.4-1.7l-.2-1.2l-.1-.8l-.5-1.1l-.5-1.3l.3-1.2l.6-.7l.7-.3l.6-.4l0-.8l-.1-.8l-.4-1.1l-1.3-.5l-1.2 .1l-.9 1.1l-1.1-.1l-.9-.5l-.6 .1l-1.3-.4l-1.6-.6l-.9 .1l-.8-.1l-.8-1.2l-.4-.3zM169 376.6l-.9-.6l-.4-.6l-.8-.7l-.9-1.2l-.7-1l-.8 .5l-.6 .5l-.6 .5l-.9-.2l-.6-.2l.5 1.3l.8 .7l.4 .7l-.1 1.1l-.1 1.5l.1 1.3l.1 1.1l1.4-.6l.8-.9l.4-.9l.6-.5l1.2-.6zM163 433.4l.7 0l1 .7l.2 .9l.2 1l.2 .7l.7-.3l.9-.7l.5 .2l1.2 0l.9-.3l.1-.2l1.3-.3l1.3-.6l.8-1.3l.8-.5l.9 .4l.7 .2l.1-.5l-.3-.5l-.6-.8l-.1-.4l-1-.5l-.7 0l-.6 1l-.1 .1l-.8-.3l-.7-.4l0-1l-.7-.5l-1.4-.5l-1.6-.5l-.7 .2l.3 1l.3 .3l-1.1 .6l-.9 .3l-1.5-.6l-1.3 0l.3 1l.4 1.2zM179.6 436.3l.5-1.1l.6-1l-.1-.4l-.8-.5l-.6 .3l-.8 1.4l0 1.1l.7 .1zM182.9 437.3l-.7-.9l-.5 .6l-.3 .7l.7 .4l.4 .3l.3-.7l0 .5l.1 .3l.3 .1l-.3-.5l-.1-.6z"/>
<path fill="#FCF6FC" stroke="#FCF6FC" stroke-width="0.35" d="M134 363.2l-.5 .4l-.6-.1l-1 0l.7 1l1 .9l1.3 .5l.6 .5l-.3-.6l-.7-.4l-.3-.6l-.2-.7zM148.4 370.9l-.1-1l-.2-1l-.5 .4l-.9 0l-.4 .3l-.4 .2l.5 .7l.5 .6l.8 .4l.5-.1zM128.2 370.9l.5-.6l.5-.7l.4-.7l-1 .1l-1-.4l-1.1-.4l0 1.2l.7 .9zM144.2 371.1l-1-.1l-.6-.4l-.3 .2l-.5 1l-.4 .8l1.1-.1l1.1-.5l1.1-.3zM180.7 441.4l-.6 .4l-.8 .2l.1 .8l-.1 .9l-.9-.7l-.1 .4l.2 .9l.1 .9l.6 .7l.7 .1l-.2-.8l-.2-1.2l.8-.1l.7-.9l0-1.1zM190.7 441.6l-.8 0l.3 1.1l1 1.1l1.1 .2l1.2-.3l1 0l.6 .5l0-1l-.1-1.1l-.8-.9l-.9 .4l-1 .4zM173.7 450.7l.7-.1l.4-.1l0-1.4l.1-1.3l-.1-.3l-.2-.6l-.2 0l-.5 .7l-.7 .8l.5 1.4zM167.2 459.9l-.4 1l-.8 .6l0 1.5l-.1 .9l-.1 .4l1.5-.2l1.1-.1l1-.2l.7-.3l.4-.7l.7-.2l-.1-1.1l.1-1l0-1l-.2-.2l-.4-1.6l-.7-1.5l-.4-1.1l0-.8l-.4-.7l-.9-.6l-1.1 .1l-1.3 .7l-1.2 .6l.8 1.2l.5 .6l.4 .7l.5 1.3z"/>
<path fill="#F0EAFC" stroke="#F0EAFC" stroke-width="0.35" d="M176.4 436.3l-.7-1.4l-.8 .5l0 .2l1 1.2l.2 0l.2-.2zM172 443.3l-.8-1.1l-.8-.2l-.1 1.1l-.3 .8l.8-.1l.8 0z"/>
<path fill="#D8D2F0" stroke="#D8D2F0" stroke-width="0.35" d="M127.9 378l.9 0l.5-.4l0-.2l-.3 .2l-.4-.6l-.7-.6l-.5-.8l-.5-.6l-.6-.5l-.1 1l-.3 .6l.3 .3l.8 .1l.3 0l.2 .8zM119.6 379.3l-.3-.7l-1.2-.2l-.9 0l.2 .8l.2 .7l.8 0l.8 .3l.2-.5zM116.4 444.6l-.5 .5l-.6 .3l-.7 1l-.5 1l-.3 1.4l-.4 1.4l-.4 .8l.4 1.1l.1 .8l-.1 .8l-.7 .3l-.6 .4l-.6 .7l-.3 1.2l.5 1.4l.5 1.2l.2 .8l.2 1.3l.5 1.7l.3-1l.5-1.1l1.2-.2l1.4-.7l1-1.4l.7-1.3l1.4 0l1.2-.3l1-1.1l1.1-.5l1.4 0l1.7 .3l1.6-.3l.4-1.7l0-1.6l-.5-1.5l.8-.2l.6 .2l.8 .7l1 .7l1-.5l.7-1.2l1.3-.4l1.7 .4l1-.7l.6-1.1l.9-.1l.1-1.6l.3-1l.5-.4l.5-.3l-1.3-.8l-1.4-1l-.7-.4l-.8-.5l-1.1-.1l-1-.1l-1.1-1.1l-.8-.8l-.5 1.1l-.5 1.2l-.4 1.3l-.1 1.4l-.1 1.2l0 1.1l-.1 .9l-.7 .5l-.8 .4l-.5 1.1l-1.3 .2l-.9 .6l-1.2-.9l-.9-.6l-1.2-.7l-1.8-1.6l-.7-.3l-.8-1.1l-1.2-1.1zM143.5 375.1l1.1 .8l.8 .8l.7-.7l.3-1.1l.3-1.1l-.1-.3l-.8 .3l-1 .5l-1.2 .4zM152.2 375l.2 .9l.2 .8l.5 .7l.2-1l.4-.7l.7-.6l.7-.7l.7-.8l.7-.6l-1.5 .1l-1.3-.4l-1.1-.6l-.3 1.2zM134.9 375.5l-.3-.6l-.7 0l-.8 .4l-.5 1l-.7 .7l-.1 .6l.5 0l.9-.8l.8-.8zM181.9 436.2l-1.3 .2l-1 .2l-.2 .7l0 .4l.6 0l1 .2l.5-.2l.4-.6l.4-.6zM167.4 435.8l-.5-.2l-.9 .7l-.7 .3l-.4 .6l-.2 .9l.1 .2l1-.4l1.2 0l.9-.2l-.1-1z"/>
<path fill="#84181E" stroke="#84181E" stroke-width="0.35" d="M118.6 273.9l.5-.4l.9-.1l-.9-.9l-.4-.6l-.7-1.5l-.6-1l-.8-.8l-1.2-1.3l-.3-.7l-.3-1l-.4 1.9l-.4 1.7l-.6 1.4l-.6 1l-.9 .7l-.9 .4l-.8 .5l-.5 .8l-.3 1l-.2 1l-.3 .9l.9 1l.8 1.5l.5 .7l1.2 .9l1.3 .6l.5-.3l.7 .9l.9 1.1l.9-.7l1.6-.5l2.2 .2l1.3-.2l.5-.5l.6-.1l.8-.4l.8-.9l.7-.7l-.9-1.1l-.7-.2l-.8-.3l-1.2 0l-1.1-.5l-.4-.2l-.8-.7l-1.3-.2l-1.1 .8l-1.7-.6l-1.6-1.1l-.9-.3l1.1 0l1.6 .3l1.4-.2l1-.7zM84.5 273.1l-.9 .2l-.9 .1l-.9 .2l-.6 .4l-.3 .5l0 .7l.2 .2l0-.4l-.5-.7l-.8-.4l-.9 .6l-1 1.1l-1.1 1l-1.1 .6l-.9 .1l-.7 .1l-.5-1.2l-.3-.9l-.3-.2l-.4-.1l-.5-.5l-.2 .1l-.1 .1l-.1 .8l-.1 1.3l0 .7l-.1 .2l-.3 .3l-.6 .6l-.7 .4l-1 0l-1.1 0l-.9 .4l-.8 .8l-.6 .6l-.2 0l.1-.2l.5 .1l.1 2l-.4 2.8l-.2 1.6l.4-.1l.6-.3l.2 .5l.1 .7l0 .1l-.1 .1l.4 .6l.6 .4l.5-.2l.5-.6l.6-.4l1 .2l1.3 .5l.3-1.1l.3-1.4l-.4-.1l-.4 .3l.1-.9l.4-1.9l.3-.7l0 .5l.2-.7l0 1.1l0 2.3l.8 1.2l1.1-.6l.7-.8l-.1 .5l-.5 1.4l.8-1.2l.5-.4l0 .3l.3 .2l.3 .2l.5 0l.6-.2l.5-.5l.5-.6l.5-.6l.6-.6l.7-.7l.8-.5l.7-.1l.6 .3l.5 .3l.6 .1l.5-.2l.5-.3l.4-.6l.3-.8l.4-.2l.5 .5l1.3 .6l.7-.4l.9-.5l1.5 0l.8-.8l.5-.9l1-.2l1.2 .2l.9-.3l-.5-.2l-.8-.6l-1-1.7l-.2-1.4l-.3-1.2l-1-1.6l-.7-.8l-.4-.6l-.8-1.4l-.7-1.1l-1.1 .7l-1 1.2l-.4 .6l-.4 .5l-.5 .5zM100.7 276.3l-.6 .6l-.5 .8l-.7 .3l-.8 .4l-.5 .7l-.7 .9l.1 .6l.5 1.1l.6 1.2l.9-.2l.9 .9l1.3 1.5l.8-.2l.6-1.1l.6-.8l.7-.8l1-.8l1.3-.8l.8-1.5l-1.3-.5l-.8-.2l-1.3-1l-1.4-.6zM60.5 291.1l.2 .2l.4-.5l.6-1l.7-.6l.7-.1l.5-.3l.4-1l.3-1.1l.1-.3l-.5 .4l-.8 .2l-.4-.6l.4-1.3l1-1.5l.9-1.4l.1-.9l-.6 .4l-.8 0l-.9-.1l-.8 .2l-.5 .7l-.4 1.4l-.2 .7l-.1-.3l-.1-.1l-.4 .8l-.8 1.3l-1.2 1l-1.1 1l-.7 1.3l.5 .5l1 .2l1 .3l.8 .6l.4 .3zM56 299.8l.5-1l.3-.3l.2 .5l.1 .7l.2 .4l.4-.2l.7-.3l.4-.9l.9-1.8l.9-2.4l.1-1.7l-.4-.2l-.2 .3l.1-.1l-.4 .4l-.5 .1l-.5-.4l-.1-1l.1-1.1l-.2-.6l-.8-.2l-.8-.5l-1.1-.3l-1 .4l-1 .8l-1.2 .8l-1.2 .5l-1.1 .5l-.9 .6l.2 .9l.8 .1l1.1-.6l.7 .2l.2 1.4l.3 1.3l.2 .6l.1 .1l-.2 .1l-.2 .2l.1 .5l.3 .9l.9 .5l.8 .3l.6 .1l.3 .1zM144.2 311.1l-1.4 .5l-1.7-.7l-.8-.4l-.8 .1l-1.2-.4l-1.1 .3l-1.2-.2l-.9-1.2l-.5-.8l-.9-.5l.5 1.7l.2 1.6l-.2 1.4l-.1 1.4l.3 1.3l.3 .9l.1 .6l-.4 .8l-.4 1.4l-.2 1.8l0 1.5l.1 1l.1 .7l.2 1l1.1 .2l.8-.7l1.4 .5l1.1 1l.9-.3l.9-.2l1-.5l.8-.6l.7-.6l.7-1l1.1-.2l-.6-.7l-.4-.4l.1-.2l-.1-.8l-.2-1l-.8-2.1l.1-1.3l.3-1.4l.5-1.4l.8-1.1l-.1-.7z"/>
<path fill="#781218" stroke="#781218" stroke-width="0.35" d="M81.2 286.1l.3 .8l.1 1.2l0 1.3l.1 .9l.4 .6l.5 .6l.3 .3l.3 0l.3-.2l.3-.2l.3 .3l.5 .5l.6 .5l.7 .5l1 .3l1.7 .3l-.2-.9l-.2-1.1l.9 0l.3-.7l.5-.6l-.2-.7l-.1-1l-.1-1.2l.3 0l.8 1.3l.9 .4l.6 .2l.5-.6l0-1.2l0-.8l.7 .9l.5 .7l0 .6l0 .7l.1 .1l.3 .2l.8 .5l-.1 .6l0 .5l.5 1l.4 .9l.6 .2l.2 1.2l0 1.2l-.8-.3l-.8 .4l-.9 .4l-.5 .6l-.4 .5l-.1 .8l-1.1 .1l-1 .4l-.9 0l-1-.3l.5-1.3l.4-1.5l-.4-1.2l-.4-.7l-.7 0l-.4 .1l-1.2 .3l-1 0l-.8-.3l-.3 .1l-.2 .3l-.3 .4l-.5 .3l-.8 .2l.1 .8l0 .7l-.2 .5l0 .3l.1 .5l.2 .8l.2 .7l.3 .3l.1 0l-.1 .4l0 .7l.3 .8l.5 .5l.4 .3l.3 .3l.2 .5l.3 .9l-.5 .5l-.4 .7l-.1 1l0 1.1l.1 1l-.1 .7l-.2 .5l-.4 .6l-.5 .6l-.5 .7l-.6 .7l-.8 1.1l-.8 .8l-.6 .6l-.5 .5l-.6 .5l-.8 .4l-.6 .9l-.4 1.2l-.2 1.4l-.1 1.3l-.8 .2l-.9-.1l-1.2-.4l.1 1.2l.3 1.1l.4 1l.6 1.1l.8 .8l.4 1l.3 1.4l.6 1.3l.8 .9l.2 1.1l.1 1.2l.6-.1l1 .2l0-1l-.1-1.2l0-1.5l0-1.4l-.3-1l.8-.9l.4-1l.6-.4l1.2 1.4l1.2 1.2l.2 1.1l.5 1.2l1 .7l.9 .4l.5 .9l.7 .9l1-.7l.4-.6l.5 0l-.2-1l-.2-1l-.4-1.2l-.4-1.5l1.4 1.2l.9 .2l.4-1.3l.6-1.3l.4-1.1l.5-1l-1.1-1.1l-.8-1l-.6-.5l-.5-.8l-.2-.9l-.6-.6l-.9-1.1l-.3-1.5l.6-1l.5-1.2l.5-.8l.7-.3l1 .2l.8-.9l.8-1.1l1.3 .6l1.4 1.1l.5 .8l.8 1.7l1.6 1.3l.8 .4l.8 .7l.8 .4l.7 .4l.8-.6l1.1-.4l1.3-.5l1.2-.6l.7 0l.9 .7l.6 .6l1 1l1.6 .8l1.2 .6l1.1 .6l1 0l1.1 .3l1.4 .6l1.2-.2l1.2-.1l.6-.7l.4-.5l.8-.1l1.2-.9l1.3-1.4l.9-1.1l.3-1.3l.2-1.2l.6-.7l.9-.7l.7-1l.7-.9l1.1-.1l1.4-.1l1.2-.8l1-1.1l.5-1.3l0-.1l.1-.1l.4-1l1 .1l1.6 .3l1.1-.9l1-1.1l1-.6l1.1-.5l1.3-.3l1.1-.5l-.9-1.3l-.9-.8l-1-.3l-1.1-1.3l-.4-.9l-1-1.2l-1.6-1.2l-.6-.2l-.6-.6l-.6-1.3l-.5-.5l-1.1 0l-1.1-.3l-.6 0l-1-.8l-.9-1.2l-.8 0l-1.3-.2l-1.4-1l-.4-.1l-.8-.2l-1.4-1.3l-1.2-.1l-1.3 .2l-1.7-.3l-1 .2l-.1 .8l-.6 .4l-1.2 .1l-1.3 .4l-1.2 .1l-1.1-.3l-.9-.6l-.9 0l-1.3 .3l-1.5-.1l-1.2-.2l-.9-.3l-.4 .3l-.7 .1l-.6-.6l-.7-.3l-1 .1l-1.1-.3l-1.5-.8l-1 .5l-1.4-.4l-.1-.7l-.1-.4l-1.6 .2l-1.5-.1l-.8-1l-.5-.9l-.7-1.6l-.2-.9l0-.5l-.9 .8l-1.4 0l-.9 .6l-.8 .3l-1.3-.7l.4 1.4l.2 .9l.1 .8l.6 1.4l.6 1.5l-.8 0l-.8 0l-.6 .3l-.5 .2l-.7-.1l-.7-.3l-.8-.4l-.6-.7l-.5-.5zM76 295l-.5 .9l.1 .3l.4 .3l.5 .1l.2-.5l.4-.7l.5-.4l.4 .1l-.1-.1l-.4 .3l-.5-.4l-.2-.6l.1 .2l-.6 .6l-.2 .4zM107.3 287.1l-.1 .1l-.9 .4l-.7 .2l.6 .1l.8-.5l.9-.8z"/>
<path fill="#841E1E" stroke="#841E1E" stroke-width="0.35" d="M88.2 269.2l.7 1.1l.8 1.4l.4 .6l.7 .8l1 1.6l.3 1.2l.2 1.3l.9 1.7l.9 .7l.5 .3l1.3 .2l1.1-.1l.6-.9l.6-.7l.8-.3l.7-.3l.5-.8l.6-.6l-.7-1.5l-.2-1.3l0-.9l-.5-1.5l-.6-1.4l-.1-.7l0-1l-.4-1.4l-.5-.9l-.3-.6l-.5-1.6l-.4-1.9l-.9 1.3l-.7 1.5l-.7 .9l-1 .6l-1.1 .7l-1.3 .6l-1 .3l-.4 .6l-.3 .6zM57.5 283.9l-.1 .2l0 .4l.1-.3l.4-1.4l-.6-.3l-.7-.3l-.6 2.1l-.3 .9l.1-.2l.1 0l.6-.9zM126.7 311.2l-.7 1l-.9 .7l-.5 .8l-.2 1.2l-.4 1.3l-.9 1.2l.2 .6l.5 .9l.8 .9l.3 .6l-.2 1l-.2 1.5l.2 1.6l.2 1.1l.3 .8l.2 1l.3 0l1-.6l1.1-.1l.6-.1l.5-.6l1.5-.1l1.8-.2l1.1-.9l1 .2l-.2-1.1l-.1-.8l-.1-.9l0-1.4l.2-1.8l.4-1.5l.4-.8l0-.6l-.4-.9l-.3-1.3l0-1.4l.2-1.4l-.1-1.6l-.5-1.6l-.6-.8l-.4-.4l-.2 .2l.1 .2l-.6 1.2l-1 1.1l-1.3 .7l-1.3 0l-1.1 .2zM144.3 319.1l-.3 .4l-.6-.2l.2 1.1l.1 .8l-.1 .3l.4 .3l.5 .6l-1 .3l-.7 1l.6 .2l.7 .7l.6 0l.6-.4l-.1-.8l-.2-.8l.2 0l.3-.9l-.7-.7l0-1z"/>
<path fill="#7E1818" stroke="#7E1818" stroke-width="0.35" d="M106.9 279l-.9 1.5l-1.2 .8l-1 .8l-.6 .8l-.6 .9l-.6 1.1l-.7 .1l-1.4-1.5l-.9-.9l-.9 .1l-.4 1.1l-.6 1.1l-.8 .8l.1 .5l.1 .6l1.4 .5l1.1-.5l1.5 .8l1.1 .3l1-.1l.6 .2l.7 .7l.8-.1l.4-.3l-.7-.8l.6 .2l.9 .2l1.3-.7l.1-.1l.2-.7l.1-1l.1-1.4l.1-1.3l.1-1.2l-.1-1.1l-.5-1.5zM75.1 291.1l-.7-.1l-.7 0l-.3-.3l0-.6l-.2 .6l.2 .5l.7 .1zM72.3 300.2l-.1 .7l-.1 1.3l.3 .5l.4 .1l0 1.1l-.2 1.7l-.1 1l.9-.2l.7-.3l.6-.3l.5 .1l.6 .3l.7-1.1l.5-.7l0 .5l-.3 1l-.3 0l-.1-.7l0-.5l.5-.7l.7-1.7l.6-2.1l-.3-.8l-.7 .5l-.3-.4l-.3-1.2l-.1-1.5l0-.8l-.2-.2l-.4 .2l-.4 .6l-.5 .8l-.6 .6l-.7 .1l-.5 .5l-.5 1.2l-.2 1l0-.2zM143.5 303.6l-.7-.7l-.2-.2l-.3-.5l-1.1 .5l-1.3 .3l-1 .5l-1.1 .7l-.9 1.1l-1.2 .8l-1.6-.3l-1 0l-.3 1l.4 .4l.6 .7l.8 .6l.5 .8l1 1.2l1.1 .1l1.1-.3l1.3 .4l.6-.1l.9 .4l1.7 .7l1.4-.6l-.1-.3l-.2-.9l-.2-1.5l.2-1.3l.3-1.1l-.2-1.1zM102.4 326.9l-1-.6l-.6-1.4l-.1-1.4l-.3-1.1l-.6-1.2l-1.4 0l-1-.4l-.7 .4l-.7 1l-1.2 .3l-.9 .4l-1.1 .4l-.5 1l-.4 1.1l-.5 1.3l-.5 1.3l.7 .4l1.5 .4l1.2-.3l1-.2l1.8 .5l1.5-.5l.8-.7l.4 .1l.4-.1l.8-.2z"/>
<path fill="#963030" stroke="#963030" stroke-width="0.35" d="M124.9 321.3l.1-.9l-.3-.7l-.7-.8l-.6-.9l-.1-.8l-1.4 1.4l-1.2 .9l-.9 .1l-.3 .5l-.7 .8l-1 .3l-.9 .4l.1 1l.6 1.5l.8 .9l.5 1l.6 1.6l.5 1l.3 .6l1 1l1.5 0l.9-.4l.3-1.1l.5-1.1l.8-1.2l-.2-.8l-.3-1.1l-.1-1.5zM144.5 327.7l2 .7l1-.2l.1-1l-.1-1.2l-.6-.6l-.5-.8l-.2-.1l-.2 .6l-.6 .5l-.5 1z"/>
<path fill="#9C3C36" stroke="#9C3C36" stroke-width="0.35" d="M147.4 326l.1 1.2l-.1 1l.7 .6l.8 .4l.3-.5l-.1-.4l-.2-.6l-.3-1.4l-.2-1.2l-.1-.8l-.5 1z"/>
<path fill="#8A2424" stroke="#8A2424" stroke-width="0.35" d="M37.5 208.8l-.4 .2l-.5 0l.3 .1l.1 .3l.4-.6l.3-.6l0 .1zM54.9 206.1l-.2 .7l0-.2l-.1-.5l-.3 .3l-.4 1.1l-.7 1.2l-1 .8l-1.1 .7l-.9 .9l-.6 .8l-.4 0l-.4-.8l-.6-.7l-.8 .2l-1 .9l-.9 1.1l-.8 1l-.5 1l.1 .8l.7 .1l.6-.4l.4 .3l.3 1l-.1 1l-.6 .6l-.7 1.1l-.5 1.4l.2 .6l.3-.5l0 .1l-.8 1.4l-.6 1.6l.2 .7l.8 .1l1 0l.9 .2l.8 .3l.1 .7l-.6 1.1l.7-1l.5-.8l.3-.2l.3 .7l.4 .6l.6-.2l.8-1l.9-1.2l.8-1.1l.6-.9l.5-.8l.2-.3l0 .6l-.2 1.3l-.1 .6l.2-.8l.8-1.2l1.1-.7l1.1-.2l.8-.7l.5-.9l.2-.6l.2 0l0-.8l.1-1.4l.3-1.1l.5-.9l.6-1.5l.2-1.7l-.2-.5l-.1 .6l.4-.3l.9-1.3l1-.9l.5 .2l0 .2l0-.6l.3-.8l.2-.2l0-.1l0-.6l0-1.5l-.1-1.2l-.8-.1l-1 .1l-.6-1l-.4 .7l.1-.8l.2-.8l0 .1l-.3 .8l-.7 .6l-1.3 .2l-1.3 .4l-1 1zM112.9 199.6l-.9 .2l-1.2 0l-1.1-.1l-.8 .2l-.7 .1l-.7 0l-.7 .2l-.5 .4l-.4 .5l-.5 .2l-.6-.2l-.7-.4l-.7-.1l-.8 .3l-.9 .5l-.9 .3l-.6 .3l-.5 .2l-.4 0l-.6-.3l-.8-.5l-.7-.2l-.4 .1l-.2 .5l-.2 .4l-.4 .1l-.6 .1l-.8 .1l-.9 .2l-.9 .1l-.9-.2l-.9-.1l-.8 .3l-.6 .4l-.5 .1l-.2-.5l-.4-.8l-.7-.6l-.8-.2l-.9 0l-.8-.1l-.9-.4l-.8-.3l-.7-.1l-.2 1l.1 .9l.1 .4l0 .2l-.2 .6l-.4 .7l-.3 .1l-.2 0l-.3 .5l-.5 1.2l-.6 1.3l-.5 .8l.4 .4l.6 .6l.4 .5l.3 .3l.2 0l0 .5l-.1 1.2l-.5 .7l-.8 .4l-.8 .1l-.9 .1l-.9 .2l-1 .5l-.8 .7l-.4 .8l.4-.5l.5-1l-.1 .5l-.4 1.5l-.4 .8l-.1 .1l-.1 1.3l-.4 2.2l-.3 1.5l0-.1l.2-.1l.2 1l.6 1l.9-.1l.7-.4l.1 .7l-.2 .5l-.5 .3l-.8 .1l-.8 .4l-.8 .6l-.8 .5l-.9 0l-.9-.5l-.7-.6l-.6-.4l-.3 .1l-.2 .2l-.3 1.5l-.1 .4l.2-.3l0 .1l-.5 1l-1.1 .9l-.8 .4l-.3 .4l.1 .8l.1 .8l.2 1.3l.2 .8l.5 .1l.4 .2l.3 1l.2 1l.5 .2l.5-.5l-.3 .1l-.6 1.2l-.8 1.4l-1.2 .6l-1.2 .1l-.8 .2l-.1 .4l.3 .1l1-.9l.6 .4l.3 1.2l.2 1.3l.3 1.1l.2 1l.6 .4l.9-.2l.6 0l-.6 1.4l-1.1 1.7l-1.2 1.2l-.7 .8l0 .5l.2 0l.1-.8l-.2-.7l-.4 0l-.7 .6l-.7 .4l0 .7l-.1 1.1l.5 1.1l1.1 .6l1 .3l.2 .6l-.6 .6l-.5 .5l-.5 .4l-.1 .7l.2 .6l.2 0l.9 .4l1.4 .2l1.1 0l.3 .3l-.1 1.4l0 1.9l.4 1.1l.6-.2l.8-.6l.8 0l.9 .7l.9 .7l.6 .3l.4 .4l.3 .7l.2 .7l.2-.1l.2-.5l.5 .3l.8 1.3l.7 1.4l.7 .3l.8-.5l.9-.2l.8 .4l.5 .8l.2 .6l.3 .5l.5 .6l.6 .8l.3 .6l.2 .4l.6 .4l1 .5l.8 .1l1-1.2l1.1-.7l1-.3l.3-.6l.3-.5l1-.4l1.3-.5l1.1-.8l1-.6l.7-.9l.6-1.5l1-1.2l.8-1.2l.4-1l.2-.9l.2-.9l.5-.6l1.8 .6l1.4-.1l.9-.5l1.2 0l1.1-.3l1.2-.3l1.2 .4l.7 .9l.8 .2l1.6-.2l2 0l.2 .6l.4 .9l.5 1.1l.1 1.2l.1 .6l.3 .5l.3 1.2l.3 1.7l.2 1l.4 .6l1.2 1.3l.7 .8l.6 .9l.7 1.5l.4 .6l.9 .9l1.6 .1l.9-1.1l.8-1.2l1.4-.1l.8-1l.6-1.2l.4-1.2l.4-.9l.5-.7l.6-.5l.8-.1l.9-.1l.8-.4l.5-1l.3-1.5l.2-1.6l.5-1.2l.4-1l.3-1.2l.2-1.5l.1-1.2l.4-.9l.8-.8l.8-.8l.6-1l.4-1.2l-.1-1.5l-.2-1.4l-.2-1.2l0-.8l1.2-.3l1.2-.4l.7-.8l.5-.6l.5-.5l-.1-1l.1-1.2l.2-1.4l.4-1.5l-.2-.8l-.2-1l-.9-.9l-1.1-.4l-.6-.6l-.5-1l-1.3-.1l-1-.3l-.9 0l-1.1 .4l-.9-.7l-1-1.1l-1.2 0l-1.2 .5l-1.2 .7l-1.9-.1l-1.2-.3l-.6-.1l-1 0l-.7 .7l-1.5-.3l-2.1-.3l-1 .6l-1.3-.4l-1.4-.2l-1.3-.5l-2-.9l-1.4 .8l-.6 1.1l-.8 .1l-1.2 .2l-1.2 .4l-.9 .8l-.8 .6l-1.4-.4l-1.4 .1l-1 .7l-.9 1l-.7 .9l-.7 .7l-1.2-.1l-1.5-.3l-.6 0l-.6 0l-1-.6l1.1-.5l1.2-.7l1.4-.1l1-.4l.4-1.4l.8-1.7l1.4-1.1l1.3-.8l.9-.7l.8-.4l.6-.8l.4-1.1l-1-.3l-1.4 .1l-.9-.2l-.8-.5l.2-1l.4-.9l.8-.8l.7-1l.7-.8l.9-.4l1.1-1l1.5-1.2l1.6-1l.8-1l.3-.9l.9-.4l1.2-.5l.9-.9l.6-.8l.7-.5l.6-1.1l.9-1.2l1.1-1.1l.6-1l-.4-1l-.1-.9l.3-1l.6-1.1l.9-1l.5-.9l.2-.7l-.1-.6l-1 0l-.7-.1l-.5-.3l-.5-.4l-.7-.5l-.8-.4l-.5-.1l-.4 .1zM18.3 223.6l0 .5l.3 .2l.5-.6l.3-.7l-.4 .5l0 .2l-.2 .2zM37.6 235.5l-.1 .3l.2-.3l.4 .7l.3 1.2l.3 .5l-.4 .7l-.9 2.1l-.7 2.3l0 .2l.6-1.4l.3-.6l-.1 .8l-.3 .9l-.3 0l-.4 .5l-.4 1.6l-.2 1.2l-.1 0l-.2 .2l-.3 1.5l-.3 1.6l0 .6l.5 0l.3 .8l-.3 1.5l-1 1.1l-.9 .7l-.3 .4l0 .2l0-.2l-.2-.2l-.1 .6l-.2 1l-.4 .6l-.6 .5l-.2 .9l.4-.8l.5-.5l.5-.9l.3-1l.3-.4l.4 0l.5-.7l.5-1l.5-.4l.6-.2l.7-.9l.3-1.3l-.1-.2l-.3 .8l-.2 0l.4-.6l.6-.9l.9-.6l1.2-.2l1.4-.3l1.1-.6l.3-1.2l-.8 .3l-.9 .9l-.4-.5l.2-2l.2-1.6l.3-.8l.4-1.3l.3-1.5l0-.4l.1 .7l.4-.2l.4-1.4l0-.5l-.3 .6l-.1 .2l.4-1.3l.8-1.8l.6-.8l.2-.1l-.2-.7l-.1-1.1l0-.4l-.4-.9l-.1-1l.4-1.2l.1-.5l-.6 .9l-.9 .4l-.3-1.5l.2-2.1l-.7 1.1l-.6 1.1l-.5 .4l-.5-.3l-.6-.4l-.5-.3l-.7-.1l-.9-.1l-.8 0l-.7 .1l-.4 .7l-.4 1.9l-.2 2.3l.6 .9l1.3-.7l1.1-.3l.1 1.2zM66.1 246.8l.2-1.3l0-.7l-.5 0l-1 .1l-1.1-.4l-.7-.9l-.3-1l-.3-.7l-.6-.4l-.1-.4l.5-.2l.4-.4l-.1-.4l-.2-.7l0-1l0-.9l-.5-.9l-.5-1.3l-.2-1.3l-.4-.3l-.6 .6l-.8 .3l-.6-.7l-.6-.9l-.5-.3l-.3-.1l.1-1.2l-.3-1.5l-.7 .1l-.7-.2l-.4 .2l-.3 .8l-.2 .6l-.4 0l-.5-.2l-.7 .6l-.6 1.3l-.7 1.2l-.6 .4l-.5 0l-.2 .4l0 .7l.8 .3l.5 .4l.3 .6l.5 .7l.6 .8l.4 1l-.1 .8l-.1 0l.2-.7l.5 .1l.3 1.4l.3 1.5l.6 .4l.7-.2l.5 .3l0 1l-.3 .6l-.1 0l.5-.2l.7 .4l.9 1.2l.8 1l.7 .6l.6 .2l.8 .3l.7 .5l.4 .3l.2-.1l.2-.4l.9-1.2l.7-1.3l.3-.2l.2 .9l.1 .7l.4 0zM54.1 249.8l-.1 1.3l.1 1l.2 .5l-.2 .5l.7 0l.7 0l.7-.2l.6-.3l.6-.4l-.1-.4l-.5 .3l-.8-.4l-.8-.8l-.6-.7zM57.7 256.3l.2 .9l.5-.2l.4-.4l.3 .1l.3 .1l.4 .3l0-.4l-.4-.4l-.5-.6l-.5 .2l-.4 .3zM45 270.1l1.1-.4l1.2-.7l.8-1.2l.4-1.2l0-.6l-.2-.1l.1 .3l.2 0l.4-.4l.5-.6l.7-.4l.8-.3l.8-.7l.6-.8l.3-.1l.2 .7l0 1l-.4-.6l-.4-.8l-.5-.6l-.5 .3l-.4 .8l-.5 .9l-.7 .5l-.9-.1l-.9 0l-.7 .5l-.5 .8l-.2 .8l-.3 .1l-.4-.3l-.3 .2l-.3 .7l-.5 .7l.4 .2l.1 .6zM58.5 275.8l.2-.5l.5 0l.7 .6l.7 .7l.3 .4l.1 .5l.3 .9l.8 1l.9 .4l.4-.4l.6-.8l1.1-.5l1.4-.2l1.5-.1l1.1-1l.7-1.6l.2-.9l-.3 .1l-.4 .4l-.2-.3l.2-1.1l.8-1.2l.6-1.7l.4-1.6l-.2-1.1l-.4-.5l-.3-.1l-.2 .2l-.2 .2l0 .1l-.2-1l-.4-1.5l-.7-.8l-1.1 .3l-1.1 .3l-.8-.7l-.5-.9l-.1-.7l-.2-.3l-.3 .2l-.6 .5l-.8 .7l-1 .8l-.8 .5l-.8 .5l-.7 .4l-.7 0l-.6-.5l-.4-.6l-.3-.3l-.3 0l-.7 0l0 1l-.4 1.4l-.6 .9l-.3 0l.1 0l-.1 1l.2 1.6l.2 1l.4-.3l.5-1l.2-.4l.1 .9l.5 1.5l-.4 .6l0-.2l.1-.6l.1 0l-.3 .9l-.7 1.4l-1.1 1.1l-1.1 .8l.6 .1l.6 0l.9 0l1 .1l.8-.1zM153.7 131.7l.1-.2l.4-.6l.5-1l.8-1l.8-.7l.4-.4l.2-.4l-.3-.3l-.4-.1l-.1-.3l-.5-.4l-.5-.1l-.4 .3l-.6 .3l-.7 .1l-.2 1l-.1-.2l-.4 .3l-.3 .8l.2 .6l.4 .8l.3 .9zM152.1 138.1l.2-1l0-.4l0-.3l.2-1.2l.4-1.5l.3-1l-.3-.5l-.3-.8l-.2-1.3l-.1-1.1l-.2-.1l-.1 .3l0 .2l-.2 .2l-.4 .1l-.5 .3l.2 .8l-.2 1.1l-.6 1.1l-.5 1.1l-.3 1.3l-.2 .8l.2 .3l.5 .3l.7 .2l.8 .6zM154.8 132l.4 .6l0 .7l-.2 .9l.3 .5l.3 .4l.2 .1l.5-.7l.5-1.1l.4-1l-.9-.3l-.9-.2zM154.5 139.5l.5 .7l.3 .9l1 .7l.7 .4l-.3-.8l-.7-.4l-.7-.8zM151.3 139.7l-.2 .2l-.3 .5l-.6 .2l-.9 .1l-.9 .3l-.3-.4l-.6-.3l-.7 0l-.6 .1l-.3-.2l.3-1.2l.4-1.4l.2-.8l-.1-.2l-.2-.4l0-.7l-.5 .8l-.6 .3l-.6 0l-.6 .1l-.5 .6l-.3 .6l-.2 .3l0 .2l.2 .5l.1 .7l-.2 .7l-.4 .8l-1 .4l-.8 .7l-.6 .8l-.3 .5l.4-.1l.1 .7l-.1 1.4l0 1.3l.2 .7l.4 .2l.4 0l.4-.2l.6 .1l.8 .6l.4 1.1l.5 .7l.2 .1l.2-.1l.5 0l.8 0l.9 0l.6 0l.2 .1l-.4 .3l-.2 .7l-.1 .6l-.2 .6l-.5 1.1l-.4 1.5l0 1.3l.6 .6l.4 .3l.2 .5l.1 .5l.4 .4l.3 .3l0-.5l-.1-.5l0-.2l.2-.4l.4-.8l.4-1.1l.4-.4l.5-.4l.3-.7l-.1-.4l-.3 0l.4-.2l.5-1.4l.7-1.9l.6-1.2l.4-.3l.2-.3l.3-.3l.3 0l.3 .1l-.1 .2l0-.2l0-1l0-1.1l-.3-.7l-.2-.2l-.1-.8l.4-1.4l.4-1l.2-.6l-.1-.9l-.1-.9l-.2-.6l-.3 0l-.2-.1l.1-.8l-.5 1l-.4 .6l-.4 .1zM134.3 151.1l.9 .3l.8 .2l.1 .2l.2-.5l-.7-.5l-.8-.6l-.3 .6zM141.6 171.9l.6-.2l.7-.4l-.3 .4l-.3 .3l-.8-.3l-.6-.7l.3 .6zM118.7 177.9l.6 .6l.5 .5l.3 .4l-.1 .4l.1 .1l.4-.3l.6-.7l.6-.8l.5-.6l.2 0l-.4 .1l-.3-.4l-.3-.7l-.4-1l-.6 .5l-.5 .6l-.4 .4l-.4 .4zM124.3 177.2l-.3 .5l-.4 1.1l-.3 .9l-.1 .2l.1 .1l.3 .3l.6 .7l1.1 .7l.9-.3l.7-.7l.5-1l.4-.7l.3-.3l.2 0l-.2-.4l-.2-.8l-.1-.6l.1-.1l.3-.4l.7-1.2l-1 .7l-1 .6l-1 .2l-.7-.3l-.2-.1l.2 .1l.2 .4l0 .3l-.4 .1zM112.6 193.1l.5 0l.5-.1l.5 .1l.7 .3l.7 .5l.6 .7l.3 1.1l.3 .4l.4 .3l.5 .3l.3 .4l.2 .2l.3-.6l.1-.5l.1-.5l.1-.3l.3 0l.6-.2l.8-1l.4-1.9l.1-1.2l-.3-.4l-.4-.1l-.6-.1l.3-.5l.2-.7l.2-.7l.4-.4l.7-.5l.7-1.3l.7-1l.2 .1l0 .4l0-.6l.3-.9l-.3-.7l-.3-.9l-.2-.8l-.4-.7l-.7 .5l-.8 1.2l-.9 1.4l-.8 1.1l-.7 .7l-.5 .5l-.2 .6l-.2-1.1l-.1-1l-.1-.5l-.2-.1l-.3-.1l-.8 .3l-.8-.4l-.8-.3l-.5 .1l-.4 .3l-.4 0l-.3 .1l-.6 .7l-.7 1.3l-.5 1.2l-.3 .5l-.1 .4l.5 .8l.8 .6l.7 .1l.3 .5l-.1 1.3zM146.9 321.3l-.2-.9l-.2-.6l-.8 .5l.3 1.2l.3 .3zM144.5 324.5l.6 .6l.3 .6l.6-.5l.3-.6l-.1-.8l-.3 .3l-.7 0z"/>
<path fill="#8A1E1E" stroke="#8A1E1E" stroke-width="0.35" d="M144.4 311.9l-.9 1.2l-.5 1.4l-.3 1.4l-.1 1.4l.4 1.1l.4 1l.6 .2l.3-.4l.4 .8l0 1l.7 .7l-.3 .8l-.3 0l.3 .9l.1 .8l.7 0l.3-.3l.1-.9l0-1.2l0-.1l-.3-.3l-.2-1l.7-.5l-.6-1.1l-.8-1.4l-.3-1.2l0-1.2l-.1-1.6zM141.4 327.4l.8-.9l1-1.1l1-.9l-.7-.6l-.6-.3l-.7 .7l-.8 .6l-1.1 .4l-.9 .3l-1 .2l.4 .2l.9 .1l.7 .5z"/>
<path fill="#96302A" stroke="#96302A" stroke-width="0.35" d="M146.5 323.7l-.1 .9l.5 .9l.5 .6l.5-.7l.4-1l-.5-.9l-.7 .2z"/>
<path fill="#902A24" stroke="#902A24" stroke-width="0.35" d="M147.8 323.6l-.6-1.2l-.4-1.2l-.5 .5l0 .1l0 .9l.2 1.2l.6-.1zM141.3 327.3l1 .3l.9-.4l1.5 .6l.3-1.2l.5-1l-.3-.5l-.5-.6l-.6 0l-1.1 .9l-.9 1.1zM137.5 324.9l-1.3-.6l-.8 .6l-1 0l-1.1-.2l-1.1 .9l-1.8 .2l-1.6 .1l-.4 .6l-.6 .1l-1.2 .1l-1.1 .7l1.1 .1l.9 .1l.8 .6l1.1 .6l.9-.2l0 1.1l0 1.4l.1 1.6l-.1 1.5l.6 1.3l.7-.4l.7-.8l.9-1.1l1.4-.6l1.7 0l.7-.6l.6-.4l1 .1l0-1.3l.1-1.3l.4-1.2l.4-1l.5-.7l-1.2-.2z"/>
<path fill="#902424" stroke="#902424" stroke-width="0.35" d="M146.2 324.7l.3 0l.1-.9l-.2-1.2l-.1-.9l0 1.3l-.1 .9z"/>
<path fill="#A23C36" stroke="#A23C36" stroke-width="0.35" d="M147.3 336.9l.4-1.2l.7-.9l.7-.7l.5-1l.1-1.3l-.1-1.4l0-1.3l-.4-.5l-.4 .5l-.7-.5l-.7-.5l-.9 .2l-1.3 .6l-1.6 .4l-1.2 .9l-.7 1.2l-.8 .5l-.8 0l1.5 1.3l1.3 .7l.4 .3l1 .9l1.3 .3l.8 .5zM133.4 339.3l-.3-1.1l-.8-1.2l-.6-.8l-.6-.5l-.7-1.5l0-1.5l0-1.6l-.1-1.5l.1-1.1l-1 .2l-1.1-.6l-.8-.6l-.9-.1l-1.1-.1l-.3-1l-.7 1.2l-.5 1.2l-.4 1l-.9 .4l-1.5 0l-.1 .4l-.1 .3l1.4 .5l.9 1.3l1.2 1.2l.9 .5l1.3 1.2l1.2 .8l.4 .2l.7 .6l1.4 .3l1 .3l.9 1.1l.7 1z"/>
<path fill="#9C3C30" stroke="#9C3C30" stroke-width="0.35" d="M146.6 328.3l-1.8-.6l-1.6-.6l-.9 .4l-1.3-.5l-1.1-.9l-.4 .7l-.5 1l-.3 1.2l-.2 1.4l0 1.3l.8 .1l.9 .2l.9 0l.7-.6l.8-1.2l1.2-.8l1.6-.5z"/>
<path fill="#AE4E42" stroke="#AE4E42" stroke-width="0.35" d="M138.5 331.6l-1-.1l-.5 .4l-.8 .6l-1.7 0l-1.4 .6l-.8 1.2l-.7 .7l-.8 .4l.8 .8l.6 .7l.7 1.2l.5 1.2l.5 .7l.9 .5l.9-.3l.7-.3l.9-.2l1.1 0l1.4 .2l1-.1l1.2-.1l1.5 .2l1-.2l1.2 .1l1.2-.1l.4-1.1l.7 .1l1.7 .8l1.5-.3l.1-.5l.1-.8l-1-.9l-.3-1l-.3-.8l-.9-1.2l-.7 .7l-.6 .8l-.4 1.2l-.8-1l-.9-.4l-1.2-.4l-1-.9l-.4-.2l-1.2-.6l-1.5-1.3l-.9-.2z"/>
<path fill="#A8423C" stroke="#A8423C" stroke-width="0.35" d="M156 337.4l-.8-.9l-.8-1.2l-.6-.8l-.4 1.3l-.3 1.3l.6 .6l.7 1l.7-.7z"/>
<path fill="#A84236" stroke="#A84236" stroke-width="0.35" d="M121.2 330.8l.1-.3l.1-.3l-1-1l-.4-.7l-.4-1l-.6-1.5l-.5-1l-.7-.9l-.7-1.5l-.1-1l-.6 .5l-1 .5l-1.6 .4l-1.6 .9l-1.2 .6l-.7 .4l-.2 1l-.3 1.2l-.7 1l-.9 1l.8 .7l.8 1.4l.8 .9l.7 .3l.8 .6l1.5 .5l.9-.2l.3-.5l1-.1l1.3-.3l.9-.5l.7-.2l.7 0l.7-.3zM153.8 334.3l-.6-.1l-.8-.5l-.5-1.8l-.3-.9l-1-.9l-1.1-1.1l0 1.1l.1 1.2l0 1.1l-.2 1l-.6 .7l1 1.2l.2 .8l.4 1l.9 .9l1.1-.4l.8-.5l.3-1.3l.4-1.2z"/>
<path fill="#C07266" stroke="#C07266" stroke-width="0.35" d="M156.7 337.3l.1 .3l.3 .5l1.1-.5l1-.4l.6-.4l-.8-.1l-1.4-.6l-.6-.4z"/>
<path fill="#B45448" stroke="#B45448" stroke-width="0.35" d="M108.3 329l-.5 1.2l-.2 1.2l-.2 1.1l-.3 1l-.5 .9l-.7 1.1l-.7 1.3l-.6 1.3l.4 .9l.7 .5l.4 .6l.4 1.2l.6 1.1l1.4-.4l.8-1.1l.6-1.2l.4-1.2l.3-1.2l.4-1.2l.3-1.3l.5-1l.4-.8l-.9-.6l-.6-.4l-.8-.9l-.8-1.4zM157.2 338.1l-.3-.6l-.2-.3l-.8 .2l-.9 .5l-.7 .7l0 .1l.9-.3l1-.1z"/>
<path fill="#A8483C" stroke="#A8483C" stroke-width="0.35" d="M157 335.7l-.5 .2l-1.5-1l-1.2-.6l0 .4l.5 .7l.8 1.1l.8 1l.8-.2zM151.2 337.9l0 .8l-.1 .6l1.2-.5l1.1 0l1-.2l-.7-1l-.5-.6l-.8 .6z"/>
<path fill="#EAE4F0" stroke="#EAE4F0" stroke-width="0.35" d="M134 371.3l.7 .4l.9 .1l.7 0l.2-.1l-.1-1l-.2-1.1l-.8-.1l-.6-.3l-.4 .4l-.5 .5z"/>
<path fill="#F6F0F6" stroke="#F6F0F6" stroke-width="0.35" d="M134.4 365.4l.8 .5l.3 1l.3 1.4l.2-.4l.1-1l.3-.9l-.9-.9l-1.3 0zM123.8 369.6l1.1-.1l.9-1l-.5-.8l-.4-.9l-.7-.2l-.4 .7l-.5 .3l-.4 .4l.4 .8zM135.1 366.6l-.7-.1l-.1 .5l-.2 .5l.4 .8l.3 1l.7 .3l.7 .1l.2-.3l-.7-.9l-.3-1.1z"/>
<path fill="#EADEF0" stroke="#EADEF0" stroke-width="0.35" d="M149.8 368.4l.2 .9l.5-.4l1.3-.4l1.6 .1l1.1-.6l-1 .2l-1.3-.3l-1.4-.3zM138.5 372.1l-.7-.6l-.6-.9l-.6-1l-.3-.3l-.2 .3l.2 1.1l.1 1l1 .6l1.1 .1z"/>
<path fill="#F0F0F6" stroke="#F0F0F6" stroke-width="0.35" d="M150.9 367.7l-.2-.9l.1-1.2l-.8-.3l-.9 .5l-.8 .7l.1 1.2l.6 .4l.9 .4zM134.2 367.4l-.9 .2l0 .9l-.1 1l.7 .8l.6-.5l.4-.5l-.3-1z"/>
<path fill="#CC847E" stroke="#CC847E" stroke-width="0.35" d="M108.5 341.9l-1.5 .4l.7 .7l.7 .6l1 .4l1 .4l.4 1.2l-.1 1l0 1l.2 .8l1.8 1l1.4 .8l1.5 .5l.8 .2l.7 0l-.3-1.3l.1-1.5l.1-1.4l-.2-1.2l-.5-1.1l-.3-1.1l-1.1 0l-1.1-.1l-1-.5l-.4 .4l-1.4 0l-1.5-.9z"/>
<path fill="#CC8478" stroke="#CC8478" stroke-width="0.35" d="M115.9 343.3l.3 1.1l.4 1.1l.3 1.2l-.1 1.4l0 1.5l.2 1.3l1.7 0l1.4-.2l1.2-.4l1.2-.1l.5 .1l1.1 .5l1.9 .5l1.3-.1l-1-.4l.6-1l.3-1.2l.1-1l.2-.9l.3-.9l.6-.9l1-.8l.9-.9l-1.2-.1l-1.3-.3l-1.2-.8l-1.3-.4l-1.2 .4l-.9 .2l-.8-.1l-1-.6l-1.1-1l-1.3 .3l-1.4 1l-.8 1z"/>
<path fill="#C6786C" stroke="#C6786C" stroke-width="0.35" d="M130.4 343.2l.6-1l.6-1l.7-.8l.7-.7l-.7-1l-.9-1l-.9-.4l-1.4-.3l-.8-.7l-.3-.1l-1.3-.8l-1.2-1.1l-1-.6l-1.1-1.2l-.9-1.3l-1.4-.4l-1 .5l-.8 .3l-.7 0l-.6 .2l-.9 .5l-1.3 .3l-1 .1l-.3 .5l-.9 .2l-1.6-.5l-.4 .9l-.4 1l-.4 1.2l-.3 1.3l-.3 1.2l-.4 1.2l-.6 1.2l-.8 1.1l1 .2l1.6 .9l1.4 .1l.4-.4l1 .4l1.1 .2l1.1 0l.9-.6l.8-.9l1.4-1l1.2-.3l1.1 1l1 .6l.8 .1l.9-.1l1.2-.5l1.2 .4l1.2 .8l1.3 .3l1.3 .1z"/>
<path fill="#FCF6F6" stroke="#FCF6F6" stroke-width="0.35" d="M148.9 364l.8-.5l.7-.6l-.7-.8l-.2-.9l-1.4-.2l-1.2 1.1l-.7 1.5l.2 .2l.2 .2l.9-.2zM116.3 363.3l.6 1.2l.6 1.5l.3 .1l0-.8l0-.9l-.1-1.2l-.3-1l-1.2-.4l-1.1-.8l.4 .6l.4 .8zM142 364.2l-.8 .4l-.5 .5l.1 1.4l-1.2-.3l-.6 .3l.1 .7l.1 .8l.7 .6l1.4-.1l.9-1l-.4-.7l.3-1.2l.4-1.1zM122.1 368.1l.8 0l.5-.4l.4-.4l.5-.6l-.1-.9l-.5-.7l-.7-1l-.9-.3l-.5 .1l0 1l0 1.1l-.1 1.1z"/>
<path fill="#E4C0BA" stroke="#E4C0BA" stroke-width="0.35" d="M129.9 353.6l-.3-.2l-.6-.8l-.9-.8l-1-.7l-1 .1l-1.6-.3l.3 .7l0 1l-.1 1.3l.7 1.8l.8 .2l.8-.1l1.1-.8l1.1-.7z"/>
<path fill="#EAC0BA" stroke="#EAC0BA" stroke-width="0.35" d="M147 351.5l-.7 .7l-.9 .6l-1.2 .2l.4 1l.4 .9l.2 0l1-.6l1-.4l.9 .5l1 .1l.9-.6l1.9 .5l1.8 .3l.8 .5l.9 1l-.3-1.6l-.1-1.3l-.3-1l-.7-.8l-1 0l-.5-.3l-.3 0l-.5-.5l-1.1-.9l-1-.7l-1.3 .9l-1.3 .7l-.1 .4zM118.7 353.8l1.2 .8l.9 .2l1.3 .2l1.7 .3l.6-1l.4-.3l.1-1.4l0-.9l-.2-.8l-1.6-.6l-.4-.2l-1.1 0l-1.3 .4l-1.3 .4l-1.8-.1l-.8 0l-.7-.2l-1.6-.5l-1.4-.8l-1.9-1l.2 .7l.1 .7l.1 .8l.9 .9l1 .7l.8 .5l1-.2l.8-.5l.8 .7l1.1-.1l.8 0l.7 .9zM136.8 353.5l-1-.1l-.4 0l-.1 .9l-.2 .7l-.5 .5l-.5 .8l.2 .6l1.2 0l1.3 .1l.5-.5l.3-.4l.9-.1l-.1-1.2l-.6-.7zM129.8 353.6l-.7 .7l-1.1 .6l-1.1 .8l.4 .6l.8 .4l.8 .3l1.5-.2l.8 0l.5-.6l.5-.6l.5-.6l-.8-1l-1-.2z"/>
<path fill="#F0D8D2" stroke="#F0D8D2" stroke-width="0.35" d="M165 351.9l-.9 .3l-1.4-.7l-.3 1.3l0 1.2l0 .8l.2 .8l.3 1.1l.3 1.6l.6 .9l.4 .8l.6 .1l1 .3l1.6 0l1.3-.6l.7-1.3l.8-1.1l1-.4l.9-.1l.5-.5l-.3-.8l-.7-.5l-1.3-1.2l-.9-1.2l-.9 .1l-1.7-.2l-1.2-.5zM118.8 353.7l-.7 .9l-.6 1.2l-.9 1.2l.8 .5l.7 .4l.8 .8l1.1 .5l1-.7l1.2-.4l.6 .6l.7 .4l.9-.6l.7-.4l0-.7l.1-.8l.2-.9l-.4-.9l-.3-1l-.3 .4l-.6 .9l-1.7-.2l-1.3-.3l-.8-.1zM143.1 355.1l.4 1.2l.2 1.2l.2 .5l0 .8l.2 .2l.8-.2l.8-.3l.3-1.6l.4-1.6l.3-1.3l-.6 .3l-1 .5l-1.2 .1zM135.1 360l.8 .8l.9-.5l.4-.8l.2-1l.3-.9l-.1-1.6l-.3 .4l-.6 .5l-1.2-.1l-1.2 .1l.3 .9l.4 1.1z"/>
<path fill="#F6E4E4" stroke="#F6E4E4" stroke-width="0.35" d="M151.8 362.6l.2 1.1l.1 1.6l1.2 .3l.6-.2l.1-1.2l.2-1.2l.1-1.4l.1-1.2l-.7-.6l0-.1l-1.3 .6l-1.5 .1l-.6 .1l-.9 .7l.2 .9l.7 .9zM117.8 364.5l.7-.3l1.5 0l1.5-.3l.1 .1l.6-.1l.8 .4l.4-1.2l.5-1.1l.4-1.1l-.6-.2l-1.9 .2l-1.4 .3l-.4-.5l-.8 .2l-1.1 .5l-.8 .8l.3 1.1z"/>
<path fill="#EAC6C0" stroke="#EAC6C0" stroke-width="0.35" d="M152.9 357.3l.7-.7l.5-.7l.4-.8l-.8-.5l-1.6-.3l-2-.5l-.9 .5l-1 .1l.4 1.6l.3 1.2l.4 1.2l.8 .3l.8-.9l.9-.5zM134.9 358.1l-.4-1l-.3-.9l-.4-.7l-.6-.2l-.5-.4l-.6 .6l-.5 .6l-.5 .7l.4 .8l.6 .7l1 .2l.8-.1z"/>
<path fill="#F0D2D2" stroke="#F0D2D2" stroke-width="0.35" d="M127.2 359.3l.4-.9l.6-.8l.9-.6l-.9-.3l-.7-.5l-.5-.5l-.8 .1l-.9-.2l-.2 .9l-.1 .9l0 .7l.7 .7l.8 .8z"/>
<path fill="#FCF0F0" stroke="#FCF0F0" stroke-width="0.35" d="M132 358.7l-1.3 .6l-1.6 1l-1.6 .7l.9 .9l1 .7l.6 .9l.9-.3l.7 .3l.4 .1l.9 .1l.6 0l.5-.4l.4-1.3l-.4-.4l-.6-.4l-.8-.9l-.3-.9zM146.1 363.7l.1-.1l.8-1.6l1.2-.9l-.8-.6l-.8-.5l-1.2 .9l-.3 .5l-.3 .4l.6 1zM157.5 369l.4 .9l.4 .9l.2 1l-.7-.3l0 .1l.6 .2l.7 .5l.5-1l.4-1l.3-1.3l.1-1.4l.2-1.1l.5-.8l.8-.5l-1.2-.5l-.9-.4l-.9 0l-.7 1l-.5 .9l-.5 .8l-.4 .6l-.4 .4l.5 .5z"/>
<path fill="#F0DED8" stroke="#F0DED8" stroke-width="0.35" d="M135.9 360.7l.4 1.1l-.2 .9l-.1 .7l-.1 .5l1 .2l.6 .2l.7-.5l.4-.5l.7 .4l.6 .5l.4 .2l.2-1l.2-1l0-.2l.9-.8l.3-1.1l1-.2l.2 .8l.8 .1l1.1-.1l.4 0l1.2-.8l.6-.8l.6-.7l-1 0l-1.1-.2l-.9 .3l-.7 .1l-.1-.2l-.1-.7l-.1-.5l-.2-1.1l-.5-1.3l-.8 0l-1.2-.1l-1.4 .6l-1.3 .4l-.8 .1l.1 1.6l-.4 .8l-.1 1l-.5 .8zM128.9 357l-.8 .6l-.6 .8l-.3 .9l.1 .7l.2 1.1l.1 0l1.5-.7l1.6-1l1.2-.6l.3 .7l.3 .9l.9 .8l.6 .5l.3 .4l.4-.9l.5-1l0-1.1l-.3-1l-1 .2l-.8 .1l-.9-.2l-.6-.6l-.4-.9l-.7 0zM117.4 362.3l.8-.8l1-.5l.7-.2l.5 .5l1.4-.3l1.9-.2l.6 .2l.9-.7l.8-.4l.6-.4l-.9-.7l-.6-.8l-.7 .4l-.9 .6l-.7-.4l-.5-.7l-1.2 .5l-1.1 .7l-1-.5l-.9-.8l-.7-.4l-.7-.5l-1.1 1.2l-1.1 .8l0 .9l.3 .6l.3 .7l1.1 .8z"/>
<path fill="#E4BAB4" stroke="#E4BAB4" stroke-width="0.35" d="M147.1 351.6l0-.5l.1-.4l-1.4-.6l-.7-1.1l-.2-.6l-.7-1l-.7 .7l-.8 .8l-.6 .9l.3 1.1l.3 1l.2 .7l.5 0l.9 .5l1.2-.2l.9-.7zM111.3 351.5l.6 .5l-.7-.7z"/>
<path fill="#F6EAE4" stroke="#F6EAE4" stroke-width="0.35" d="M175.9 364.3l-.4-1.3l-.7-.5l-1.1-.8l-.3-1.3l.1-1.1l-.4-1.4l-.3-.8l-.3-.8l-.5 .4l-.9 .1l-1 .5l-.7 1.1l-.7 1.4l.1 .8l.2 1.1l.3 1l.6-.6l.7 .1l1.5 .7l1.1 .3l.7 .8l1 .3zM126.5 359.5l-.6 .3l-.8 .4l-.9 .8l.9 .5l1 .8l.6 1.3l.3-.6l.1-1l.5-1l-.2-1.1l-.2-.7zM143 361.9l-.8-.2l-.6-.4l-.9 .9l0 .2l.3 .3l.7 .5l1.1-.2l.8-.3l0-.5l.7-.3l.6-.1l.3-.4l.3-.6l-.5 0l-1.1 .1l-.8-.1l-.1 .6zM158.8 364.4l.9 .1l.9 .3l1.2 .4l.8 .2l.7 0l.4-1l.1-1.4l.2-1.6l.2-1.5l-.3-.8l-.6-.9l-.5 .5l-.7 .4l-1.3-.1l-1-.1l-1 .1l-.1 1l0 1.3l.4 1.2l.4 .8z"/>
<path fill="#E4C0B4" stroke="#E4C0B4" stroke-width="0.35" d="M111.2 350.4l.1 1l.3 .4l.8 .6l.5 .6l.5-.2l.6-.2l-.8-.5l-1-.8z"/>
<path fill="#F6F0F0" stroke="#F6F0F0" stroke-width="0.35" d="M122.9 364.2l.8 1l.5 .8l.7-1.1l1-.7l.8-.5l0-.2l-.6-1.3l-.9-.8l-1-.5l-.4 1.1l-.5 1.1zM172.2 364.2l.3 .9l.6 1.4l1.2 1l1.1 .8l1.2 .5l1.2 0l.7 .1l-.4-.8l-.9-.9l-.6-1l-.2-.7l-.5-1.4l-1 0l-.9-.2l-1-.8l-1.7-.6l-1.3-.5l-.7 .6l-.4 1l-.4 .9l.3 .2l.9-.8l1.3 .1zM151.9 362.5l-1.6 .4l-.7 .5l-.9 .5l.8 .8l.5 .7l.7 .3l.8-.2l.8-.2l-.2-1.6zM169.6 365.4l1.1 .7l-.1 1.2l.4 .4l.6 1.1l1 .7l.7 .1l.6 .5l.8 .7l-.6-1l-.5-1l-.2-.8l-.7-.6l-.5-.8l-.3-1.1l-.7-.4l-1.3 .2zM163.3 365.4l-.7-.1l-.9-.1l-.7 .5l-.4 .8l-.2 1.2l-.2 1.3l-.3 1.2l-.5 1.1l-.5 .9l1.4 .9l1.1 .5l.6 .2l1.3 .3l.7-.5l.5-.5l.2-.8l.4-.8l.6-1l.5-1.1l.2-1.4l-.2-1l-.3-.6l-.3-.4l-.8 .3l-1 .2l1.3-.5l-1-.1z"/>
<path fill="#C6B4E4" stroke="#C6B4E4" stroke-width="0.35" d="M138.3 378.9l1.1 .8l.7 .2l1.3 .2l.4 .8l.5 .6l.7-.5l.9 0l.9 .4l.8-.6l.8-.9l.7-.8l-.9 .1l-1.6 .3l-1.1-1l-.5-1.3l-.5-1l-.4-1l-.5-1l-1.2-.6l-.5 .7l-.2 1.1l-.2 1.4l-.5 1.2zM133.5 377.9l-.2 .4l.3 .8l.4 .9l.4 1l.8-.1l.5-1.5l.5-1.1l.8-.6l0-.3l-1.2-.4l-.9 .3zM110.6 378.9l-.4 .1l-1.1-.6l-1.5-.8l-.9-.2l.4 .9l.8 1l1.3 1.1l.8 1.3l.9 .3l1.1 .1l1.3-.3l1.5-.4l1.3 .7l-1.1-1l-1.4-.2l-1-.3l-1.1-1zM128.2 386.8l.4-.5l.6-.6l.7-1l.4-1.1l-1.3-1.1l-1.2-.9l-.9-.9l-.8 .5l-.8 .8l-.6 1.3l-.6 1.7l1.2-.1l1.3 .3l.9 .7zM123.5 430.9l-.1 1.3l.4 .6l.5 .3l1.2 1l.9 .6l.7-1.2l1-.7l1.3-.1l.2-1l.2-1l.2-.8l.2-.7l.4-.9l.3-1l.3-1.4l.3-1.6l-1 .5l-.8 .9l-.9 .9l-.8 .3l-.6 .5l-.9 .6l-1.9-1l-1.7 0l-.9-.2l-1.1-1.2l.3 1.6l.4 1.3l.4 .5l.7 .6zM176.8 432l.6 .6l1 .9l.9-1l.7-1.2l1-.6l-.5 .6l-.5 .9l1.2-.1l1.3 .4l.3 .8l-.7 1.2l-.7 1l1.4-.3l1.6 0l.6 .8l.8 .2l.4-.2l.4-.1l.7 1.3l.2 .2l.7 .6l1.1 .9l.7-.3l.9-.5l.9-.6l.5-1.2l.8-.4l-.8-.2l-.5 .3l-1.6 0l-1.6 .5l.3-1.1l.5-1.5l-.3-.7l-.4-.7l.2-1.5l.2-1.3l-1.1 .4l-1.8-.7l-.8 0l-.4 .3l-.2 .7l-.3-.3l-.2-.4l-.5 .2l-.7 .5l-.8 0l-1-.3l-.1 .3l-1.6 .1l-1.4 .8l-1.3 .6zM121.6 436.5l-.6 1.5l.6-1.1z"/>
<path fill="#C6BAE4" stroke="#C6BAE4" stroke-width="0.35" d="M123 378.1l-.6 .7l-.3 .9l-1.5 0l-1.1-.5l-.2 .4l-.1 .5l.7 .7l1 .5l1.1 .4l.5 1.5l.6 1.1l1 .8l.2-.1l.5-1.7l.6-1.2l.8-.8l.8-.5l.8 .9l1.2 .8l1.2 1.2l.6-.4l0-1.7l-.4-1.6l-.6-1.3l-.5 1.1l-.7 .4l-1 0l-.1-.8l-.1-.8l-.5-.2l-.5-.5l-1.2 .1l-1-.3zM126.7 434.9l.9 .9l.8 .8l1.2 .3l1.5 1l.8 .4l.8-.5l1.5-.4l1.5-.2l1.5 .2l.9-.2l.6-.8l1.2-.3l.9-.9l.8-.9l1.1-.3l.9-.7l1.2-.4l-.6 .6l1.5-.3l1.3 0l1.1 .2l.9-.5l1-1.3l1.7-.3l.7-.3l-.7-.5l-.7-.5l-.8-1.1l-.4-.8l0-.9l-1.8 0l-1.7 .1l-.7 .6l.4 .5l.5 .9l.2 1.1l-.2 .8l-.3 .6l-.5 .5l-.7 .4l-1-1.1l-1.2-.3l-.9 .4l-1.4-.9l-.7-.7l-.3-.8l-1.2-1.2l-1.6 .3l-.6 1.1l-.3 1.3l0 1.2l-.1 .9l-.9 0l-1.7 .1l-1.8 .3l-.9 .2l-1.1-.9l-1.2 0l-1 .8l-.8 1.2l-.8-.6l-1.2-1.1l-.5-.2l-.4-.6l-.4 1.5l-.8 1.5l-.7 1.7l0 .7l.4 .6l.5 1l.5 .9l.5 .1l.6 .3l1 .8l1-.4l.9-.3l.7-.4l-.1-.5l-.1-.9l-.3-1.1l-.2-1.4zM119 441.1l.6-.7l.5-.5l.4-.6l.5-1.2l-.6 1.2l-.5 .5l-.6 .5l-.8 .7zM149.4 384.8l.5 0l.5 .1l1 .3l1.1-.8l.7-1.5l.6-1.5l-.2-.5l-1.4 .6l-2 .1l-1.1-.1l0 .7l.1 .7l.1 .9z"/>
<path fill="#B4A2DE" stroke="#B4A2DE" stroke-width="0.35" d="M94 379.9l-1.3-.3l-.8-.6l-.5-1.4l-.6-1.2l-.4-.9l-1-.7l-1.6-.6l-1 .1l-.9-.7l-.7 .6l-.5 .8l-.7 1l-1 1.1l-.9 1.1l.8 1.5l.8 1.1l.9 .3l1.2 .5l.4 .7l.7 .7l1.3 1.3l.8 1l.6 .8l.9-.6l1.1-.4l1.1-.4l1.2-.2l.9-.8l-.1-1.3l-.1-1.3zM104.7 377l-.3 1l-.5 .4l-1.3-.3l-1.5 .3l-1.2 .8l-1 .2l-.7 .6l-.8 .6l-1 .7l-.9 1.5l-.5 1.9l-.7 1l-1.1 .5l-1.1 .4l-.9 .9l-.7 .9l-.6 .7l-.5 .6l-.8 .3l-1.2 0l-1.1 1l-1 1.2l-1.3 .2l-1.1 0l-.8 .4l-.7 .7l-.4 1l-.6 1l-1.1 .3l1.5 .5l1 1.1l.4 .6l.9-.6l.7-.6l.9-.2l1.4-.3l1.4-1.2l1.6-.7l1.2-.1l.8-.1l1.3 .3l.7 1.7l.6 1.3l.4 .6l.6 1l0 1.2l-.2 .8l-.3 .6l0 .5l.1 1l-.4 1.2l-.3 1.2l-.3 1.2l-.1 1l-.1 .8l-.2 .8l-.3 1.1l-.3 1.4l1.7-.1l1.5 .7l.6 .3l.6 1l.6 .4l1-1.2l1.8-.1l1.5 .4l0-1.1l-.2-1.3l-.2-1.2l-.1-.9l.2-.8l.3-.8l-.6-.8l-1.3-.7l-.7-.7l1 .3l1.2-.3l1.4 .1l1 .5l.7 .2l.6-.6l1-.4l1.5-.9l1.1-1.4l.7-1.1l.3-1.2l.3-1.4l1.2-.9l1.3-.6l.8-.6l1.1-.1l.3 1.1l.2 .9l.3 1.1l1 .4l.9-.2l1.1-1l.9-.9l.4-1.1l0-1.3l.1-1.4l-.2-1.3l-.5-.9l-.5-.5l-.3 .2l0-.7l.1-.9l.1-.8l-.1-.7l-.8 .6l-.7 .7l-.5 1.2l-.4 1.4l-.9 1.1l-1.1-.4l-1.1-.7l-1.3-.2l-1.4-.1l-1.2-.2l-1.6-.4l-1.3-.5l-.7 0l-.7-1.2l-.6-.7l.6-1.2l.8-.9l1-.8l1-.7l.7-.9l.3-1.2l0-1.5l-.1-1.6l-.1-1.3l-.7-.8l-.4-.8l1.3 .4l.4 .2l0-.1l-1.3-.5l-.7-.2l-.8-.3zM129.5 387.7l-.8-.5l-.5-.4l-.7-1l-.9-.7l-1.2-.3l-1.2 .1l-.1 .1l-1 1.1l-.9 .6l-.6 .8l.4 .9l.4 .8l0 1l-.1 .9l.6-.3l1 .1l.9-.1l.9-.6l.2-.1l.7 .7l.7 1.2l.1 1.6l.1 1.3l1.2-.1l.9 .4l.5 0l.4-.2l.6-.6l.3-.7l.5-.6l-.1-.5l1.4-.8l1.2-.8l.7-.2l.3-1l.2-1l1-.2l.9-.9l.5-1.1l.8-.3l.5 .1l.3 0l.3 .1l-.3-1.1l-.4-.9l-.6-.7l-.6-.7l-.9-.4l-.3 .1l-.4 .6l-1 .5l.5 1.3l-.3 .9l-.3 .9l-.1 1l-.6 .1l-.9 0l-.7 .7l-1.4 .5l-1.2 .1l-1.1-.4l-.9-.5l-1.2 .5l.6-.9l.6-.5zM115.8 424.1l0-.4l-.9 .3l-.9 1l-1 1.4l-1.3 .8l-1 .6l-.4 .9l-.2 1l0 .1l.3 1.8l0 1.3l.3 1.1l-1.4 .2l-.9 .4l-.2 .4l-.1 .3l1 .5l1.4 1l-.9 .6l-.6 .9l0 .3l.2 .2l.9 1.2l1.3 1l.4-.2l1.2-1.2l1-.5l.9-.2l0-.8l0-.9l0-.9l.3-1l.9-.8l0-1l.1-.9l0-1.2l-1-.9l-1-.1l.3-1.1l.4-1.1l.4-1.1l.4-1.3l.3-1.2l.7 .8l1.1 .1l1.8 .6l.7-.3l.6 0l1.2 1.2l.9 0l1.7 .1l1.8 1l.9-.6l.6-.5l.8-.3l.9-1l.8-.8l1-.4l.6-.3l.3-.6l.6 .4l1.3 1.1l.7 .9l.4 .6l.7 1.1l.6 .8l1.6-.4l1-.7l.7-1.1l.9-.8l1.2-.8l1-.9l.7-1l.2 .1l.4 .8l.5 1.4l.4 1.8l.3 1.1l.8-.6l1.6 0l1.8-.1l1-1.3l.6-1.1l.4-1.1l.1-1.3l.1-1.6l-.4-.5l-1.1-.2l-.7-.2l.3-1.1l.4-1.4l-.8 .2l-1.5-.3l-.8 .6l-.6 .1l-1.3-.4l-.7 1.2l-.8 .9l-.8 .4l-.8-1l-.4-1l-1-.7l-1.2-.1l-.4 .1l-.3-1l-.4-1.1l-.3-.8l0-.6l-.8 1.1l-1 .5l-.8-.1l-.4 .6l.2 1.1l0 1.2l-1.3-.4l-1.7-.1l-1.3 .2l-1.6-.5l-.2-.2l-.8-.1l-.4 0l-1.4 .4l-1.6 0l-.8 .3l-.9-.3l-.1 .2l-.8 .4l-.7 .6l-1.2-.4l-1.4-.5l-.5 1.2l-.4 1.3l-.6 1.1l-.7 1l-.6 1l-.6 .8zM103.5 443.8l1.3 .4l1-.2l.6-1l1.3 .1l1.3 .4l.1-.1l-.1-.3l-.7-1.6l0-1.2l-1-.1l-1.4 0l-1.2 .7l-.4 1.2l-.4 .9zM70.9 474.3l-.6 1.1l-.9 .8l-1.1 .7l-1 .3l-.6 .3l-.4 .7l-.2 1.3l-.5 1.1l1 .9l.4 .7l.1 1.1l.9 .1l1.2 .2l.4 .2l.4 .6l.9-.7l1.4-1l1-1.5l.8-1.3l.8-.6l-.6-1l-1.1-1l-.8-.9l-.5-.6l-.6-1.1l-.3-1.5zM158.6 385.8l.8 .7l.9 .4l.6 .6l.3 .9l1.1 .4l.9 .6l.6 .4l-.3-1.4l0-1.4l.2-1.3l.7-.9l-.2-.9l-.3-.9l-.2-1.1l-.1-1.1l0-1.1l-.1-1.3l-1 .2l-.7 .1l-.8 1.1l-.8 1l-.6 1l-.4 1.3l-.3 1.4zM140.7 390.6l.2-.1l.7-.7l1.5-.5l1.4-.9l1-.7l.4-1l.3-.9l.3-1.1l.4-1.2l-1-.5l-.8-.7l-.3-1l-.9-.4l-.9 .1l-.8 .4l-.2 1.2l-.6 .9l-.7 1l-.6 1l-.2 1.1l.3 1.2l.3 1.4zM153.3 387.4l.1 .1l-.4 1.2l-.2 1l-.9-.6l-1.2-.3l-1.1-.3l-.9-.5l-.1 .1l.1 1.4l.5 .9l.6 .7l1.4 0l.7-.1l.6 .2l.8-.3l0-.3l1-1.1l.9-1l.9-.8l1 0l.1 0l.3-.6l.3-.6l.6-.6l-.8-.6l-.5-.5l-.7-.2l-.5 .6l-.7-.1l-1 1.1zM179 392.6l.3-1l.4-.9l.7-.6l.9-.2l.9-.5l.6-1.1l.4-1.4l.2-.9l.1-.9l.1-.8l-1.3 .2l-1.1 .1l-.6-.4l-.7 .7l-1.2 .4l-1.7-.2l-1.3 .6l-.6 1.1l-.7 .7l-1 .8l-1.1 1.3l.7 1l.3 1l.1 1.1l.3 1l1.1 .1l.9 .6l1.1 1.3l.8 1.3l.3 1.3l1.2 .6l.8-.7l.4-1l.2-1.3l.2-.7l-.8-.5l-.7-.8zM177.7 417.9l-.9 .5l-.7 .7l-.9 .5l-.8 .5l.3 .6l.4 .5l1.4 .4l.7 .2l1.1-.1l1.5-.1l.6-.8l.9-.3l.5-.5l.4-.3l-.6-.8l-.9-.5l-1.2 .1l-.8-.1z"/>
<path fill="#EADEF6" stroke="#EADEF6" stroke-width="0.35" d="M123.4 371.6l0-.1l-1.1 .4l-1.3 .2l-1.2 .4l-.8-.2l-1-1.2l.8 1.1l.7 .6l.9-.1l.9 .1l.9 .2l.9 0l.2-.7z"/>
<path fill="#C0B4E4" stroke="#C0B4E4" stroke-width="0.35" d="M142.3 381.4l-.5-.6l-.4-.8l-1.2-.2l-.8-.2l-1-.7l-1.2-.3l-.2-1l-.9 .5l-.5 1.2l-.4 1.5l-.7 .1l-1 1.2l-.8 1.1l-.5-.3l-.9-.1l-.2 .2l-.3 .2l-.6 .4l-.5 1l-.6 .9l-.6 .7l-.4 .6l.5 .4l.8 .4l1.6 .2l1.2-.7l.8-.8l.5-.7l.6-.7l1.1-.8l1.1-.5l.5-.7l.2-.1l.9 .4l.7 .7l.6 .8l.4 .9l.4 1.2l.1-1l.4-.9l.6-.9l.7-.7l.4-.9zM124.2 385l-1-.8l-.6-1.1l-.5-1.5l-1.2-.4l-.8 .5l-.6 .6l-.6 .7l-.7 .8l-.3 .7l-.4 .5l1.1 .6l.9 .2l1 .9l.5 .8l.7 0l.6-.7l1-.6zM121.5 427.9l-.5 .9l-.4 1.2l-.5 1.2l-.7 1l.6 .8l.4 .5l.3 1.3l.3 1.8l.1 1.3l.1-.3l.6-1.4l.7-1.4l.6-1.3l.4-1.3l0-1.3l-.6-1.2l-.7-.7l-.4-.3zM81.4 478.5l.2-1.1l.2-1.2l.1-1.1l.2-1.2l-.5-.4l-.5-1l-.5-.7l-.8-.7l-.9-1.5l-.3-1.1l-.5-.6l-.8 .2l-1.2-.1l-1 .4l-.8 1l-1.2 .6l-1.3 .3l-.3 .8l-.3 1l-.2 1.4l.3 1.4l.6 1.1l.5 .5l.8 .8l1.1 1l.5 1l.3-.2l.6-.2l1.1 0l1.3-.1l.6-.7l1 .1zM153.7 381.5l-.6 1.5l-.7 1.4l.9 .3l1.1 .1l.8 .4l.8 .1l.5-.6l.6 .2l.5 .4l.7 .7l.4-.2l.2-1.3l.4-1.3l.4-1.3l.6-1l.7-1l.9-1.2l-.6-.2l-1-.6l-1.2-.5l-.5-.4l-.9 .3l-1.6-.1l-.9 0l-.7 .1l-1.1 .6l.3 1l.1 1l-.2 1.2zM168.8 425.8l-.3-.6l-.2-.7l-.5 .5l-.9 0l-1 0l-.6 .5l.1 .8l.4 1.1l.4 1.4l.7-.3l.9-.4l.6-.5l.3-.8zM143.7 422.7l-.6 1l-1.1 1l-1.2 .7l-.9 .9l-.7 1l-1 .8l1.2 1.1l.3 .9l.3 .5l1.2 .9l1.1 .3l.8-.5l1.1 .6l.8 .9l.7-.4l.6-.5l.2-.7l.2-.8l-.3-1.5l-.7-.9l-.3-1l-.5-1.9l-.5-1.4l-.3-.9zM181.3 430.2l1 .3l.8 0l.7-.5l.5-.2l.2 .5l.3 .2l.2-.7l.5-.3l.8 0l-.4-.6l-.1-.7l0-.7l-1-.9l-.9 .1l-.7 .5l-1.1 .4l-.8 .1l.1 1.1l.1 .8z"/>
<path fill="#D8CCEA" stroke="#D8CCEA" stroke-width="0.35" d="M126 376.9l.3-.5l-.2-.3l-1.4-.7l-.8-1l-.5 1.2l-.5 1.1l.4 .5l1.3-.5z"/>
<path fill="#CCC0EA" stroke="#CCC0EA" stroke-width="0.35" d="M133.4 376.5l0 .7l0 .8l1.5-.6l.9-.2l1.2 .3l.1-.9l.2-.9l-1.1-.5l-1.1 .2l-.9 .4zM145.4 376.6l-.7-.8l-1.1-.8l-.8 .3l-.7 .4l.5 .9l.4 1l.5 1.1l1 .8l.8-.5l-.1-1.1zM132.2 383l-.3-1.1l-.2-1.2l.1-1.2l-.9-.8l-1.1-.1l0 .3l.5 1.2l.4 1.6l.1 1.6l.3-.2l.3-.1zM119.2 380.1l-.8-.3l-.8 0l0 1.1l0 1.2l.3 .9l.3 .9l.8-.8l.6-.7l.6-.6l.8-.5l-1.1-.6zM156.6 434.7l.9 .5l1.2 1.3l.8 .6l.6 .1l1.2-.5l1.1-.6l.4-1.4l.3-1.4l-.3-.9l-.4-1.1l-.3-1l-.5-.3l.3-1.2l.2-1.2l.9-.7l.8-.5l.7-.4l-1.1-.9l-1.2-.2l-.7-.3l-1-1.1l-1 .6l-.8 1l-.5 1.2l-.2 1.3l-.7 .5l-.4 .2l-.7 .2l-1.7 0l.3 .4l-.4 .9l.2 .9l-1 .2l-1.4 0l-.6 .3l.3 1.4l0 1.5l0 1.1l.5 .9l.8 1.3l.5 1l.1 .6l.6-.5l.8-.2l.8-.3l.6-.6l0-1.1l.2-1.1zM143.8 440.9l-.3-.6l.2-1.1l0-1.4l-.1-1.6l.2-1.5l.5-1.2l.8-.7l-1.3 .2l-.9 .7l-.9 .4l-.9 .5l-.7 1l-1.1 .5l-1 .5l1.3 .8l.7 .7l.6 .6l.9 1.1l.8 .5zM123 439.9l-.5-1.1l-.7-1.1l-.2-.8l-.7 1.5l-.4 1.1l-.4 .7l-.5 .5l-.5 .8l.5 .1l.7 .3l.9 1.3l.9 .3l.2-1l.2-.9l.2-.8zM151.4 438.9l-1.1 .5l-.7 .1l-1.1-1.5l-1.2-.5l-.9 .4l-.8 .5l-.7 .8l.6 .9l.4 .4l1.1 1l.9 .5l.5 .1l.5-.8l.9-.2l.8-.1l.5-.8zM80.6 449.1l-1.4-.7l0 1.9l1.1 .1zM172.1 431.8l.2 0l.5-1.1l.7-.1l.9 .5l1 0l.8-.3l-1.1-.8l-1.1-.8l0-.7l-1.4-1.4l-.7-.4l-.1 .1l-.7-.7l-1.4-.5l-1 .1l0 1.1l-.3 .8l-.7 .4l-.9 .5l1.6 .5l1.5 .6l.7 .5l-.1 1l.7 .4zM178.3 433.4l-.1 .4l.9 0l.6-.4l.5-1.3l.6-.9l.5-.6l-1.2 .5l-.8 1.2zM183.9 438.9l1.8 .6l1.1-.2l1-.4l.8 0l.7 0l-.6-.7l-.7-.4l-.5-.4l-.2-.2l-.4 .3l-.5 .7l-1 .6z"/>
<path fill="#B4A8DE" stroke="#B4A8DE" stroke-width="0.35" d="M118.3 388.4l-.3 1.4l-.2 1.2l0 .8l.9-.5l1.5-.1l1.5 .2l.6-.4l.2-.9l-.1-.9l-.3-.9l-.4-.9l-.7 0l-.4-.8l-1-.9l-1-.2l-1-.6l-.2 0l.4 1.2l.2 1.1zM164.9 423.9l.8-.5l.9 0l.6-.1l.4-1l.9-1l0-1.1l.1-1l0-1.2l-1.7 .6l-1.3 .3l-.7-.6l-.1 .4l-.3 1.2l-.1 1l0 1l.2 1zM120.3 439.6l.4-.7l.4-1.1l0-1.3l-.3-1.8l-.4-1.3l-.3-.5l-.6-.8l-1.5-.5l-.8-.2l-.2 .2l-.9-.3l0 1.2l-.1 1l0 1l1.4 .9l1.2 1l.4 .4l.6 1.3z"/>
<path fill="#CCC0E4" stroke="#CCC0E4" stroke-width="0.35" d="M134.5 380.9l-.3-.9l-.5-1l-.3-.8l-.9 1l-.8 .3l0 1.2l.1 1.2l.3 1.1l.6 .4l.5-.8l.6-.9zM149.5 380.1l-.9 0l-.9-.5l-.7-.5l-.7 .8l-.8 .9l-.8 .5l.4 1.1l.8 .6l.9 .6l.9-.2l.9 .2l.8 0l-.2-1l0-.9l.1-.7zM168.9 376.6l-1.2 1.1l-1.1 .6l-.6 .5l-.3 .9l-.8 .8l-1.4 .7l.1 1l.2 1l.3 .8l.1 .8l-.4 .6l1.2 .3l1.5 0l1.5 .4l1 .9l.6 .4l.2-1.6l.5-1.4l.7-1l.6-1l.5-1l.4-1.2l.7-1.1l.9-1.1l-.8-.5l-.8-.3l-.5-.6l-.6-.3l-1.1 0z"/>
<path fill="#CCBAEA" stroke="#CCBAEA" stroke-width="0.35" d="M123.3 377.1l-.3 1.2l1.2-.5l1 .3l.7 0l.5-.1l-.1-.6l-.3-.5l-1.4-.2zM176.1 430.7l-.8 .3l-.9 0l.1 .5l.6 .8l.4 .6l.7-.4l.7-.5l.1-.1l-.2-.9zM148.5 438.1l1.1 1.5l.8-.1l1.1-.5l1.2 .4l.7 .2l.4-.6l-.1-.7l-.4-1l-.7-1.2l-.6-.9l0-1.1l0-1.5l-.3-1.4l-1.7 .3l-1 1.3l-.9 .5l-1.1-.2l-1.2 0l-1.5 .3l-.5 1.1l-.2 1.6l0 1.6l0 1.5l-.3 1l1.3-.5l.8-.9l.8-.7l.9-.5zM183.2 438.7l1 .3l1.4-.2l.9-.6l.5-.6l.4-.3l-.8-1.5l-.4 .1l-.4 .2l-.8-.2l-.8 .7l-.7 .6l-.7 .6l.1 .5zM87.2 471.3l-.8 .6l-1.3 .6l-1.5 .3l-.9 .3l-.7 .9l-.1 1.2l-.2 1.1l-.2 1.1l-.3 1.1l1.7-.5l1.3-.8l.6-.3l.4 .4l.8 .6l1 .1l0-1.3l.1-1.3l0-1.4l0-1.4z"/>
<path fill="#F0E4F0" stroke="#F0E4F0" stroke-width="0.35" d="M166.9 366l-.3 .1l-.4 .9l.1 1l.9 .1l.7 0l1.4 .9l.2 .9l.1 .8l.7-.2l.7-.4l1.2-.2l.9 0l.5-.1l.5 .5l-.7-.7l-.6-.2l-1-.6l-.7-1.1l-.4-.5l.1-1.3l-1-.5l-1.1 .4l-.9 0zM158.7 372l-.3-1.2l-.4-.9l-.4-1l-.8-.5l-.6-.7l-1-.2l-.8 .6l-1 .4l-1.2-.1l1.4 .9l1.3 .5l.4 .5l.7 1.1l1.3 .9l.6-.7zM179.4 372.3l-.5-.3l-1.7-.7l-.6-.6l-.7-.4l-1.2-.9l-1-1.1l-.4-.4l.2 .8l.4 1l.6 1l1.1 .9l.8 .6l1.7 .3z"/>
<path fill="#E4B4A8" stroke="#E4B4A8" stroke-width="0.35" d="M162.3 345.9l.6 1l1.2 .6l.9-.7l1.3 .4l1.4 .7l.5 .2l.8 1.1l1.3 .9l.7-.8l-.8-.3l-.8-1.7l-.2-1.4l-.5-1l-.9-1l-.5-.1l-.6-.5l-.7-1.4l-.4-1.1l-.6-.6l-.2 0l-.7 1.4l-.7 1.3l-.6 .8l-.4 .7l-.3 .7l.2 .4z"/>
<path fill="#DEA89C" stroke="#DEA89C" stroke-width="0.35" d="M134.1 350.3l.5-.6l.9-.9l1.1-.9l1.2-1l-1.1-.6l-.8-.1l-.9-.1l-.6-.8l-.4-.9l-1.3-.4l-1.2-.3l-.6-.4l-.5-.3l-.1 .1l-1 .9l-.9 .9l-.6 .9l-.4 .9l-.2 .9l-.1 1.1l-.3 1.2l-.6 1l.8 .3l.7 .6l.9 .7l.9-.8l.3-1l.2-.7l.7-.3l1.5 .5l1.1-.4z"/>
<path fill="#D2968A" stroke="#D2968A" stroke-width="0.35" d="M162.2 345.1l.3-.7l.4-.6l.6-.9l.7-1.3l.7-1.4l-1.5-.4l-1.1-.4l-1-.8l-1-1.3l-.6-.5l-.3 .2l.2 .7l.1 .9l-.3 1.1l-.4 1.4l.4 1.5l.4 1l.3 .6l1.1 .5z"/>
<path fill="#C67E72" stroke="#C67E72" stroke-width="0.35" d="M154.4 340.5l-.3-.2l-.7-.6l-.9-1l-1.5 .6l-1.8 0l-1.5-.9l-.5 .6l-.9 .7l-1.5-.1l-1 .2l-1.6-.2l.4 .9l0 .8l-.1 1.1l.6 1.2l.6 .6l.4 .5l1.1 .2l1.8 .4l1.3-.3l.7 0l1.1 .6l.4-.7l.6-.2l.8-.9l1.1-.9l.8-1.2z"/>
<path fill="#C06C60" stroke="#C06C60" stroke-width="0.35" d="M137.2 339.5l-.8 .2l-.7 .3l-1 .3l-.7-.4l-.6-.7l-.8 .8l-.8 .8l-.8 1.1l-.6 1.1l.4 .4l.7 .4l1.2 .2l1.3 .4l1.1-.7l.7-1.5l.7-1.5z"/>
<path fill="#DEAEA2" stroke="#DEAEA2" stroke-width="0.35" d="M144.1 344.6l-.1 .8l.1 1l.1 1.1l.7 1l.2 .6l.6 1l1.4 .6l1.3-.7l1.2-.9l.3-.8l.2-.8l.1-.9l-.1-1.1l-1-.7l-.8 .1l-1.2 .3l-1.9-.5z"/>
<path fill="#D28A7E" stroke="#D28A7E" stroke-width="0.35" d="M156 338.3l-.5 .6l-.4 .6l-.4 .8l1.9 .7l1.5 0l1 .2l.4-1.4l.2-1.2l0-.9l-.2-.7l-1.1 .4l-1.3 .6zM144.1 344.6l-.4-.4l-.6-.7l-.5-1.1l-.8 .5l-.7 .8l-.8 .5l-.7 .3l-.4 .9l-.4 1.4l.3 .5l0 .8l.4 1l1 .3l1 .3l.7 .2l.5-.9l.8-.7l.8-.7l-.2-1.6z"/>
<path fill="#BA665A" stroke="#BA665A" stroke-width="0.35" d="M154.9 340.3l.3-.8l.4-.6l.5-.6l-1.3 .1l-1.1 .3l-1.4 0l.9 1l.8 .7l.3 .2z"/>
<path fill="#D8A29C" stroke="#D8A29C" stroke-width="0.35" d="M158.3 349.6l.7-1l1.1-.7l1-.8l.7-.7l.5-.5l0-.5l-.1-.4l-.9-.4l-1.1-.5l-1.7 .5l-1.5 .7l-1.4 .1l-1 0l-.8 1l-.2 1l0 1.1l.3 1.1l.6 .9l1.2-1.1l1.2 .3l.9 .2z"/>
<path fill="#E4B4AE" stroke="#E4B4AE" stroke-width="0.35" d="M137.7 346.9l-1.2 .9l-1.1 .9l-.8 .9l-.5 .5l-.9-.4l-1.1 .3l-1.4-.5l-.7 .4l-.2 .7l-.4 1l-.8 .8l.5 .5l.5 .6l1.1 .4l1.1 .2l.9 .9l1 .6l.3 .4l.1 .4l.6-.8l.4-.5l.2-.7l.1-.9l.4 0l1 0l1.3-.4l1.8-.5l1-.2l1.1 .8l.6-.1l.4-.6l-.2-.7l-.4-.9l-.2-1.1l-.7-.2l-1-.2l-1-.4l-.3-1l-.1-.8l-.2-.5z"/>
<path fill="#F0CCCC" stroke="#F0CCCC" stroke-width="0.35" d="M141 355l1.2 0l.8 .2l.8-.2l1.3-.1l-.3-.9l-.4-1l-.9-.4l-.6-.1l-.4 .5l-.6 .1l-.2 .7l-.3 .6z"/>
<path fill="#C0665A" stroke="#C0665A" stroke-width="0.35" d="M137.7 347l1.2-.2l.4-1.3l.3-.9l.8-.4l.7-.5l.7-.7l.8-.5l.1-1.2l0-.8l-.3-.9l-1.3-.1l-.8 .3l-1.1 0l-1.2-.2l-1-.1l-.7 1.2l-.5 1.6l-.8 1.5l-1.1 .6l.4 .9l.6 .9l.9 .1l.8 0z"/>
<path fill="#F0CCC6" stroke="#F0CCC6" stroke-width="0.35" d="M159.6 353l1.1-.8l1.1-.8l1.5 .5l1.3 .5l.8-.9l1.3-.8l1.2-.6l1.3 0l1.2-.1l-1.3-.8l-.8-1.1l-.5-.3l-1.3-.6l-1.5-.5l-.9 .7l-1.2-.5l-.6-1.1l-.5 .6l-.8 .7l-1 .7l-1 .8l-.7 1l.1 1.1l.5 1.2zM136.6 353.5l1.1 .7l.6 .6l.1 1.3l1.3-.5l1.5-.6l.4-.6l.3-.6l.1-.6l-1.1-.9l-1 .2l-1.8 .6z"/>
<path fill="#EACCC6" stroke="#EACCC6" stroke-width="0.35" d="M155.3 356.1l.7-.2l.8-.6l1.2-.8l.8-.7l.9-.8l-.7-1.1l-.5-1.3l-.2-1.1l-.5 .3l-.9-.2l-1.1-.3l-1.3 1.1l-.6 1.2l.7 .8l.3 .9l.2 1.3zM146.6 354.1l-.2 1.2l-.5 1.6l-.3 1.6l1.1 .2l1-.1l.9-.1l.8-.1l-.4-1.2l-.3-1.2l-.4-1.6l-1-.6z"/>
<path fill="#E4BAAE" stroke="#E4BAAE" stroke-width="0.35" d="M150 345.5l.1 1.1l-.1 .9l-.2 .8l-.3 .8l1.1 .8l1 .8l.6 .6l.3 0l.6 .3l1 0l.5-1.2l-.5-.9l-.5-1l0-1.1l.3-1l-.7-.2l-1.2-.8l-.9-.8l-.6 .2z"/>
<path fill="#D29084" stroke="#D29084" stroke-width="0.35" d="M153.8 346.5l.8-1l1.1 .1l1.4-.2l1.5-.8l1.7-.4l-.4-.6l-.4-1l-.4-1.5l-1-.2l-1.5 .1l-1.8-.8l-.5 .3l-.6 1.2l-.8 1.2l-1.1 .9l-.8 .9l.9 .8l1.2 .8z"/>
<path fill="#F0EAF0" stroke="#F0EAF0" stroke-width="0.35" d="M155.2 367.6l.7 .1l.6 .4l.2-.3l-.7-.7l-1.2-.9l-.9-.9l-.6 .2l-1.1-.4l-.8 .3l-.7 .2l-.1 1.2l.2 .9l1.3 .2l1.2 .3l1.1 0zM136.5 369.7l.8 1.1l.8 1.1l.4-1.2l.7-.9l1.1-.5l-.3-.7l-.7-.7l-1.2-.1l-1 .2l-1.1-.2l-.3 .3l.4 .8z"/>
<path fill="#F6E4DE" stroke="#F6E4DE" stroke-width="0.35" d="M156.8 355.2l-.9 .7l-.8 0l-.7-.9l-.4 .8l-.5 .7l-.6 .7l0 1.3l.4 .8l.3 .5l.1 .1l.6 .5l1.5 1l1.2 .3l.6-.6l1.2-.2l0-1l.1-.8l.9 0l1.2 .1l1.2-.1l.7-.3l.4-.4l-.4-1.7l-.2-1.2l-.2-.7l0-.8l.1-1.1l.3-1.4l-1.3-.1l-1.1 .9l-1.1 .7l-.8 .7l-.7 .7zM136 360.7l-.9-.8l0 .3l-.6 1.1l-.4 1.2l-.2 1l0 .9l.9-.3l1.3-.2l.1-.5l.1-.7l.2-.9zM138.6 363.2l-.5 .5l-.6 .6l.1 .2l.8 .4l.9 .4l.7-.2l.4-.8l-.5-.2l-.5-.5z"/>
<path fill="#F0D8D8" stroke="#F0D8D8" stroke-width="0.35" d="M150.2 360.6l.7-.1l1.6-.2l1.2-.5l-.1-.5l-.3-.3l-.3-.7l0-1.1l-1.1 0l-1.1 .5l-.8 1l.3 .7l.1 .6z"/>
<path fill="#F6EAEA" stroke="#F6EAEA" stroke-width="0.35" d="M165 366.1l.9-.7l.4-.4l.5-.2l1 .1l1.1-.2l-.3-.2l.4-.9l.3-1l-.2-.9l-.2-1.1l-.1-.9l-1.4 .6l-1.6-.1l-1-.2l-.6-.1l-.3 1.5l-.1 1.6l-.2 1.4l-.4 1l.8 .5zM140.7 362.3l-.2 1.1l-.2 1l-.4 .6l-.6 .2l-.9-.4l-.8-.3l0-.2l-.7-.2l-.9-.2l-1.2 .1l-.9 .3l.3 .8l1.3 .1l.8 .9l.4-.1l1.2 .3l1.2 .3l.6-.3l1.2 .3l-.1-1.5l.4-.4l.9-.4l-.2-.6l-.1-.6l-.7-.5z"/>
<path fill="#F6EAF0" stroke="#F6EAF0" stroke-width="0.35" d="M166.7 366.1l-.6-.1l-.7 .1l.4 .3l.4 .8zM135.9 367.9l1.2 .2l1-.2l1.2 .2l-.1-.9l0-.7l-1.3-.3l-1.2-.3l-.4 .1l-.3 .9z"/>
<path fill="#F6DEDE" stroke="#F6DEDE" stroke-width="0.35" d="M141.8 360.3l-.3 1l.8 .5l.8 .2l0-.5l0-.6l-.2-.9l-.5 .1z"/>
<path fill="#F0DEDE" stroke="#F0DEDE" stroke-width="0.35" d="M147.7 358.6l-.6 .7l-.6 .8l.7 .5l.8 .5l1.4 .2l.9-.8l.1-.6l0-.6l-.3-.7l-.8-.3l-.7 .1z"/>
<path fill="#FCF0EA" stroke="#FCF0EA" stroke-width="0.35" d="M153.9 365.3l.8 1l1.3 .8l.7 .7l.4-.5l.5-.8l.6-1l.7-1.1l.7-1.2l-.2-.6l-.4-.8l-.2-1.1l-1.2 .3l-.6 .6l-1.2-.3l-1.5-1l-.1 1.3l-.1 1.3l-.2 1.2z"/>
<path fill="#F0D2CC" stroke="#F0D2CC" stroke-width="0.35" d="M172.4 355.7l-.3-.6l-.2-.4l.1-1.3l.5-.9l1.1-.6l-.9-.6l-1.1-1.4l-.6-.7l-.8 .8l-1.2 0l-1.1 0l-1 .5l-1.2 .6l-.8 .9l.6 .2l1.2 .5l1.7 .2l.9-.1l1 1.2l1.3 1.2z"/>
<path fill="#A896D8" stroke="#A896D8" stroke-width="0.35" d="M133.2 403.2l-2-.7l-1.4 .9l-.9 .7l-.3 1l-.3 .9l-.3 .9l-.9 .6l-1.3 .5l-1.2 .6l1.1 .6l.9 .4l.7 0l.8 .4l-.4 1.1l-.3 1.2l-.4 1.2l.1 .2l0 .9l.3 .8l.5 1l.3 1.1l.5-.1l.8 .1l.6-.6l.7-.6l.6-.7l.6-1.1l1-.4l.8 .5l.2-.8l.8-.4l1.3-.1l.7 .2l1-.9l1-.2l.9-.1l.8-.1l.7 .7l.7 .9l.9 .6l1.3 .5l.6 .1l.3-1l.5-.6l.4-.4l.6-.5l1-.6l.4 0l.6 1.2l.5 1l.8 .6l.8 1.2l.1 1.1l.3-1.1l.5-.9l.3 1.3l1 1.3l.7 .8l.9-.1l1.5 .9l.4 .8l.7 .3l1.1-.8l1.2-.5l.9-.1l.8-.1l.7-.5l1.4 0l1.2 .3l.6 .2l0-.3l.7 .5l1.3-.3l1.7-.6l.8-.8l1.3-.5l.6-.8l.9-.3l.1-1l.3-1l.3-.8l-1.1-.2l-.9-.7l-.9-1l-.5-.6l-.4-.7l.1-.4l-.8-1.2l-.7-1.1l-.3-1.4l-.3-1.4l.7-.7l.7-.6l-1.5-.2l-1.3-.8l-1-.7l-.8-.2l-.7 1.4l-.5 1.3l-.5 1.1l-.3 .9l-.4-.3l-.8-.5l-1 .9l-1.2 .6l-1.6-.3l-.3 .2l-.9-.3l-.7-.3l-.8 .2l-.5 .4l-.4 .5l-.9-.1l-1.3-.2l-.5-.5l-.4-.6l.1-1l.2-.8l.1-.8l-.5-1.1l-.4-.9l-.2-.8l-.4-.7l-.9 .2l-1.2 .5l-1 1.1l-.4 1.4l.3 .7l.3 .5l-.5 .1l-1 .3l-1.2 .1l-.6-.3l-.8 .3l-.4 .7l-.9-.1l-.5 .2l-.1 .1l-.5 .1l-.7-1.3l-.8 .2l-.7 .4l-.2 .2l-.8-.3l-.7 .5l0-.1l-.2-.8l-.1-.8l-.5 .2l-.5-.9l-.2-.9l-.4-1.1l-.8 .1l-.2 .7l.2 1zM149 405.3l-1-.7l-.5-.7l.5 .3l.5 .3l.8 .4zM137.5 392.3l-.5 1l-.5 .8l1.2 .4l1 0l1-.2l1.6-.1l.4-.2l-.9-.7l-.6-.9l-.6-1.3l-1 .7zM186.9 427.2l-.5 .3l-.7-.1l0 .8l.1 .6l.4 .6l1.7 .8l1.1-.3l1.1-1.4l0-.8l.1-.8l-1.3-.2l-1.2 .2z"/>
<path fill="#A890D8" stroke="#A890D8" stroke-width="0.35" d="M133.9 395.9l.3 .4l-.2 .4l-1.5 .4l-.7 .6l-.1 .3l.2 1.1l.4 .8l.8 .8l.7-.1l.4 1.1l.3 1l.5 .9l.4-.2l.3 1.5l.1 .1l.7-.5l.7 .3l.4-.2l.6-.5l.8-.1l.6 1.3l.4 .1l.2-.2l.1-.2l.6-.1l.9 .1l.4-.8l.7-.2l.6 .2l1.2 0l1-.3l1.2-.1l.8 .4l.4 .7l.9 .6l.5-.7l-1-.5l-.6-.4l-.9-.2l-.6 0l-.4-.6l-.4-.7l.8-1.7l1.4-1l1.3-.3l.4 1l.4 1l.6 1.3l-.2 .8l-.1 .9l-.1 1.1l.5 .5l.5 .6l1.2 .2l1 .2l.4-.5l.5-.4l.8-.3l.8 .3l.8 .3l.3-.2l1.7 .3l1.2-.7l1-.8l.7 .5l.4 .3l.3-.9l.5-1.1l.6-1.2l.6-1.4l.8 .2l.9 .6l1.2 .7l1.5 .2l-.7 .6l-.6 .6l.4 1.4l.2 1.4l.7 1.2l.8 1.2l-.1 .4l.4 .8l.6 .6l.9 .9l.8 .8l1.2 .1l1 .5l.4 1.2l.8 1.1l.9-.8l.9-1.1l1.3-.8l1.5-.7l-.2-.9l-.3-.9l-.2-.8l-.4-1l-.6-1.1l.2-1.2l.1-1.3l-.8-.8l-.5-1.1l-1-.6l-1.2 .2l-.9-.2l-1.1-.8l1.3 0l.7-.7l.8-.6l1.3-.2l.8-.4l.7-.5l.8-.5l-1.2-.7l-.4-1.2l-.7-1.4l-1.1-1.2l-.9-.7l-1.2-.1l-1 .9l-1 .2l-.8 0l-1.3-.4l-1 .4l-.5 1.1l-1.2 .3l-1.2-.5l-.9-.4l-.4-.9l-1.1-.8l-1.2-.9l-.8-.8l0 1.4l-.1 1.3l0 1.1l-.1 .9l-.1 .9l-.2 1.1l-.3 1.3l-.7-.3l-.8-.3l-.6 .3l0 1l0 1.1l-.9 .5l-1 .1l-.9-.2l.1-.9l0-.8l-.9-.1l-.1-.6l0-.8l-.6-.8l-1.2-.9l-1-.6l1.4 .2l1.3 0l.6-.8l-.2-.4l-.9 .1l-1-.7l-1.2-.8l-1.1-.3l-.8-.8l-.3 1.3l-.1 1.2l-.6-1.2l-.3-1.1l-1.1-.4l-1.1-.8l-1.3-.5l-1 .1l-.8-.5l-1.5-.4l-1.1-.3l-.1 .1l0 .2l.4 .8l1 .4l.6 .8l.3 .8l.9 .5l.8 .4l-.1 1.5l-.1 1.5l-.5 .9l-.7 .2l-1 .3l.3 1.2l0 1.1l.1 .9l-.8 .1l-.8-.1l-.9-1.2l-1.3-.7l-.6 1l-.5 .5l-.6-.6l-.7-.8l-.4-.9l1-.6l1-.6l-.4-1l-.5-.7l.8-.5l.8-.9l1-.8l-1 .2l-1 0l-1.2-.3l-.8 .1l-.9 .8zM65.7 480.5l-.9 .7l-.7 .6l-.9 .5l-1.4 .4l-1.4-.2l-.9-.4l-.9 0l-.7-.2l.4 1.3l1 1.1l1 .5l.7 1l1.1-.1l1.1-.3l.3 .5l.9-.9l.9-.5l1.1-.4l.8-.9l-.1-1.1l-.5-.7z"/>
<path fill="#A290D8" stroke="#A290D8" stroke-width="0.35" d="M151.6 396.4l1 .6l1.3 1l.8 .9l-.1 .8l.1 .5l.8 .1l.1 .8l-.2 1l1.1 .2l1-.1l.9-.5l0-1.1l0-1l.7-.3l.8 .4l.7 .2l.2-1.3l.3-1.1l.1-1l.1-.9l0-1l.1-1.3l0-1.4l-.6-.5l-.7 1.1l-.9 .5l-1 .4l-1 .7l-.9 1l-.8 .3l-.6 .8l-.8 .5l-1.3-.3zM144.8 394.3l-.6-.4l-.8-.2l-.4-.5l-.5 .3l-.2 .3l-.7 .2l-.4 .1l-1.5 .2l-1 .8l-.8 .8l-.8 .4l.4 .8l.5 .9l-1 .6l-1.1 .7l.6 1l.7 .8l.6 .7l.5-.6l.6-.9l1.3 .7l.9 1.1l.8 0l.9 0l-.1-.9l0-1.1l-.2-1.2l.9-.3l.6-.2l.6-1l.1-1.6zM61.1 485.8l-.6-1.1l-1.1-.4l-1-1.1l-.4-1.3l-.8 .3l-.4 1.1l-.1 .9l-.1 .9l-.3 1.1l1-.5l1.2 .1l1 .5l.6-.3zM42.1 489.7l.6 .2l.7 .7l.2-.7l.1-.5l-1-.4l-1-.2l.2 .4z"/>
<path fill="#BAA8DE" stroke="#BAA8DE" stroke-width="0.35" d="M133.4 385.5l-.4 .7l-.8 .8l-1.1 .7l-1.6-.1l-1.3-.1l-.6 .7l-.7 .9l1-.3l.8-.2l.6 .5l1.1 .4l1.3-.2l1.4-.4l.7-.8l.9 .1l.5-.2l.2-1l.2-.9l.4-.9l-.2-.7l-.3-.6l-1.3 .8zM103.6 389.2l.6 .8l.8 1.2l.6 0l1.3 .5l1.6 .4l1.3 .1l1.4 .2l1.3 .2l1 .7l1.2 .3l.9-1l.5-1.4l.4-1.1l.6-.7l.8-.6l.1 .8l0 .7l.2-1l.2-1l-.3-1.2l-.2-1l-.4-1.2l-.8-1.1l-.6-.9l-.2-1.1l-1.3-.5l-1.5 .5l-1.2 .2l-1.1-.2l-.8-.2l-.7-1.2l-1.3-1.2l-.2-.2l.1 1.3l.2 1.6l0 1.5l-.4 1.2l-.7 .9l-1 .8l-1 .8l-.8 .9zM145.4 387.7l.8 .6l.8 .6l.8 .1l1 .5l-.1-1.3l.4-.5l.4-.6l0-1.3l0-1.2l-.2-1.1l-.7 0l-.9-.2l-.9 .2l-.4 1.2l-.3 1l-.3 .9zM152.3 387.3l-1.4 .4l-.8 .5l-.6 .3l1.1 .4l1.3 .3l.9 .6l.3-1.1l.4-1.2l-.1-.2zM149.7 427.2l0 1l.3 .7l.8 1.1l.7 .6l.7 .4l1.5 0l1-.2l-.2-1l.4-.9l-.6-.9l-.5-.6l-.2-1.3l-.3-1.8l-.4-1.5l-.3-1l-.7-1l-.1 1.6l-.1 1.3l-.4 1.1l-.6 1.1zM135.8 432.9l0-.8l0-1.2l.3-1.4l.7-1.1l-.6-.8l-.8-1.1l-.3-.5l-.8-1l-1.3-1l-.5-.6l-.4 .6l-.8 .3l-.2 1.7l-.3 1.3l-.4 1.2l-.3 .8l-.2 .7l-.2 .8l-.2 .8l-.3 1.1l1.2 1l.8-.3l1.9-.2l1.8-.1zM114 430.5l1 0l1.2 .9l.8 .3l.2-.2l.8 .2l1.5 .5l.7-.9l.5-1.3l.4-1.1l.4-.9l-.3-1.1l-.2-1.2l-.7-.1l-.7 .3l-1.8-.5l-1-.1l-.8-.9l-.4 1.2l-.4 1.3l-.4 1.3l-.4 1.2zM113.2 441.5l1.6 .1l1.2 0l.5-.5l.3-.5l.8 .1l1.1 .4l.6-.7l.5-.5l.5-.3l-.7-1.5l-.6-1.4l-.4-.4l-1.1-.9l-1.5-1l-.8 .9l-.3 .9l0 1l0 .8l-.1 .8l-.9 .3l-.9 .4l-.6 .7l-.7 .6l.5 .1zM111.6 440.9l-1.3-.9l-1-1.3l-.3-.2l-.3 .9l-.5 1l0 .7l.2 1l.6 1.1l.4-.8l.8-.6zM177 377.6l-1.4 .3l-1.6 .1l-.9 1.1l-.6 1.1l-.5 1.2l-.5 1l-.7 1l-.7 1l-.4 1.4l-.2 1.6l.7 .7l.8 .9l1.4 .7l1.1-1.3l1-.8l.6-.7l.6-1.1l1.3-.5l1.7 .1l1.2-.4l.7-.7l.6 .4l1.1-.1l1.3-.2l.1-.8l0-.9l-.4-1.2l-.1-1.4l.1-1l-.3-.6l-1-.7l-.6-.8l-.4-.8l-.4-1.2l-.5-1.5l-.6-1l-1.1 .9l-.7 1.3l-.3 1.3l-.1 .8zM168.4 418.1l0 1.1l0 1l0 1l-1 1.4l-.5 .7l-.9 0l-1 .4l-.3-1.2l-.2-1.2l0-1.3l.4-1.3l-.4-.2l-.6-.2l-1 .8l-.8 .9l-.4 1.1l-.5 1.1l-.9 .8l.1 .6l1 1.1l.7 .3l1.2 .1l1.1 .9l.5 .1l.4-.3l0-.2l.7-.6l.9 .1l.9 0l.5-.5l.2 .7l.3 .6l.9-.2l1.4 .5l.6 .7l.1-.1l.7 .4l1.4 1.3l1.1 .2l.7-.3l.6-.7l.7 .7l.6 1.2l.7 0l.6-.6l1.2-.1l1.4 .4l.1 0l-.1-.6l-.1-.8l.8-.3l1-.3l.8-.5l.9-.1l-1-1l-.8-.8l-.5-1.5l-1.1-.8l-.8-.1l.2-1.2l.5-.9l-1 .3l-.7 .8l-1.5 .1l-1 .1l-.7-.2l-1.3-.4l-.4-.5l-.3-.5l.2-.2l-.9-.9l-1-.7l-.2-1.1l-.5-1.6l-.8 .3l-.6 .9l-1.4 .4z"/>
<path fill="#B49CD8" stroke="#B49CD8" stroke-width="0.35" d="M136.5 388.5l-.9 .2l-.3 1l-.2 1.1l-.7 .1l-1.3 .9l-1.4 .8l0 .6l2.1-.2l1.7 0l.4-.9l.2-1l.8 0l.6 1.3l1.1-.5l1-.6l0-.1l.7-.9l.3-1l-.3-1.6l-.4-1.3l-.4-.1l-.3 0l-.5-.2l-.7 .4l-.6 1.1zM104.3 405.8l.5 1l.6 .7l.6 .4l.9 1.3l.2 1.5l.2 .7l.8-1.5l1.5-.7l1.6-.4l.9-.6l.6-.7l.4-1l.4-1.2l.3-1.1l.3-1l.4-.8l.3-.6l.5-.7l-.2-1.4l-.3-1.2l-.2-.9l-.3-1.1l-1.1 0l-.8 .5l-1 .6l-1.3 .6l-.6 1.2l-.1 1.3l-.4 1l-.9 1.1l-1.1 1.3l-1.3 .7l-1 .4zM99.1 421.6l.8-.7l.3-1.5l.5-1.4l.7-.7l-.1-1.2l-.1-1.1l.2-.8l.2-1l-1.6-.4l-1.8 .1l-.9 1.2l0 1.5l.1 1.2l0 .9l-.3 .7l-.6 .6l-.7 .7l-.7 1l-.5 1.3l-.4 1.5l-.6 1.5l.6 1.3l.8 .4l1.5 1.2l.7 .4l.5 .4l1 1.1l1 .4l.3-.4l.5-.5l-.4-.4l-.1-.6l-.3-1.5l0-1.3l.1-.9l-.3-1.4zM157.2 387.7l-.2-.1l-1 .1l-1 .8l-.8 1.1l1.4 0l1.7 .2l1.4 .1l.4-.4l.9 0l.6-.4l.7-.7l-.4-1l-.5-.6l-.9-.4l-.9-.7l-.3 .2l-.6 .5l-.2 .6zM173.8 393.7l-.4-1l0-1.2l-.3-1l-.6-.9l-1.5-.7l-.7-.9l-.7-.7l-.6-.4l-1-.9l-1.5-.3l-1.5-.1l-1.2-.3l-.3 .9l-.1 1l.1 1.2l.3 1.4l.3 1.3l.3 1.2l.1 1.1l-.2 1l.4 .9l.9 .4l1.3 .5l1.2-.3l.5-1.1l1.1-.4l1.2 .4l.8 0l1-.2zM149.7 395.7l.1-1.3l.3-1.4l.1-1.3l-.4-.8l-.6-.6l-.4-.9l-1-.5l-.8-.1l-.7-.6l-.9-.6l-1 .8l-1.5 .8l-1.5 .6l-.6 .7l1 .2l1.5 .5l.8 .5l1.1-.1l1.3 .6l1.2 .7l1 .5l.3 1.2z"/>
<path fill="#CCBAE4" stroke="#CCBAE4" stroke-width="0.35" d="M161.9 373.6l-.5-.1l-1-.5l-1.6-1l-1-.5l-.1 .2l.3 .9l.1 1.2l.1 1.2l.2 1l.1 .8l-.7-.4l-.9-1l-.8-.7l-1.2-.2l-.7 .5l-.6 .7l-.5 .8l-.1 1.3l.5 .1l1-.6l.7 0l.9 0l1.5 .1l1-.3l.5 .4l1.1 .5l1 .5l.6 .3l.7-.1l1-.1l0-1.4l.1-1.1l-.4-.6l-.8-.7zM138.4 372.1l-.1 1.1l-.2 1l-.4 .8l-.5 .6l-.3 1.1l0 1l.2 1l1.4 .3l.7-1l.4-1.3l.2-1.3l.2-1.1l.5-.6l-.8-.6l-.3-.8l-.4-.3z"/>
<path fill="#AE96D8" stroke="#AE96D8" stroke-width="0.35" d="M119.3 395.5l0 1.3l-.4 1.1l-1 .9l-1.1 1.1l.6 .5l1.4 .3l1.3 .8l.6 .6l.5 .6l-1.2 .6l-1.4 .7l-1.2 1l-.5 1.3l-.4 1.1l-.7 .7l-.7-.5l-.8-.2l-.9 .2l.6 1.4l.2 1.6l.1 .7l1 .5l.9 1l.5 .7l.6 1.3l.8 1.7l.5 .8l.8 .8l1.5 .5l1.1 .4l.8-.6l.8-.3l.1-.3l.9 .3l.7-.3l1.7 0l1.3-.4l-.3-1.1l-.5-1l-.3-.9l0-.8l-.1-.2l.3-1.2l.4-1.1l.4-1.1l-.7-.5l-.7 0l-.9-.3l-1.1-.6l1.2-.5l1.2-.5l.9-.7l.3-.8l.3-.9l.2-1l.9-.8l1.5-.8l2 .8l0-1l-.3-1.1l.2-.7l-.8-.8l-.5-.7l-.2-1l.1-.4l.8-.5l1.5-.5l.3-.4l-.3-.4l.9-.9l.9-.8l-.2-.6l-.2-.7l-1.7 .1l-2 .1l-.5 .6l-.3 .7l-.6 .6l-.4 .1l-.4 0l.4 .7l.5 .5l.7 .8l-.5 .4l-.6 .7l-.6 1.1l-.5 .4l.1-1.1l.1-1l0-.8l-.7-.8l-.7-.9l-.3-1.1l0-1.6l-1.4 .7l-1 1l-.9 .9l-.9 .6l-.9 .9l-1.2-.1l-1.4-.6zM95.8 436.3l.6 0l1.2 1.5l1 .9l1-.2l1.8 .9l.4 .7l.1 .7l.4 1.5l.5 1.2l.3 .5l.6-.2l.3-.8l.4-.9l.4-1.2l0-.9l.1-.9l-.6-.8l-.8-1l.8-.9l.9-1.3l.1-.9l0-.8l-.2-1.3l-.3-1.8l0-.2l.1-.8l-.7 .2l-.8 .3l-1.5-.4l-1.5-.1l-.6 .7l-.5 .6l-.2 1.2l-.2 1.4l-.8 1l-1.1 .5l-.9 .7l-.5 1.1zM70 484.2l-.4-.6l-.4-.1l-1.2-.2l-.9-.2l-.7 .9l-1.1 .4l-.9 .5l-1 .9l.3 .7l.1 .9l.7 .8l1 .7l.5 .7l.7 .1l1-.2l1.4-.1l.7-.9l.2-1.2l0-1.6zM153.2 390.8l-.8 .3l-.6-.2l-.6 .1l-1.4 0l.3 .9l-.2 1.2l.8 .8l1.2 .4l1.2 .7l1 .7l.9-.1l.2 .3l.4-.4l.7-.3l.9-.9l1-.7l1-.4l.9-.6l.7-1.1l.7 .7l.8 .8l1.2 .7l.9 .8l.3-1.1l-.1-1.1l-.4-1.2l-.4-1.4l-.6-.4l-.9-.6l-1-.4l-.7 .7l-.7 .4l-.9 0l-.3 .4l-1.4 0l-1.6-.3l-1.4 0l-1 1.1zM139.8 417.5l.9-.9l.6-1l.7-.6l1.1 0l1.1-.1l-1.3-.5l-1-.6l-.7-1l-.7-.6l-.8 0l-.9 .1l-1.1 .3l-1 .8l1 .4l.6 .1l0 .6l.2 .8l.5 1.2l.3 1.1zM184.9 423.3l.1-.8l.1-.9l-.7-.6l-1-.5l-1.3-1l-.7 .7l-.5 1l-.3 1.5l.8 0l1.2 .8l.9 .1l.7 0z"/>
<path fill="#C0AEE4" stroke="#C0AEE4" stroke-width="0.35" d="M151.4 385.1l-.9-.3l-.6-.1l-.5 0l.1 1.2l-.1 1.1l-.3 .6l-.5 .5l1 .5l.6-.4l.8-.4l1.3-.4l1.1 0l.9-1.2l1-1l-.8-.5l-1.1-.1l-.9-.3zM112.7 441.5l.7 0l-1-.7l-.5-.1l-.5 .2l-1.3 .8l-.8 .6l-.4 .7l.1 .5l.5-.4l.7-.4l1.1-.6z"/>
<path fill="#D2C0EA" stroke="#D2C0EA" stroke-width="0.35" d="M157.8 371.6l-.6 .6l-.7 .6l-.8 .9l-.9 .9l1.2 .2l.9 .8l.9 1l.7 .3l0-.8l-.2-.9l-.1-1.3l-.1-1.3z"/>
<path fill="#B49CDE" stroke="#B49CDE" stroke-width="0.35" d="M125.7 390.2l-1.2 .6l-1.2-.1l-.9 .2l-.8 .4l-1.9-.2l-1.6 .4l.5 .5l.5 .9l.2 1.3l0 1.4l.5 .3l1.4 .6l1.2 .1l.9-.9l1-.6l.8-.9l1.1-1l1.3-.6l-.3-1.3l-.7-.8l-.6-.6zM133.8 414.5l-.3-.1l-.5-.5l-1.1 .5l-.6 1.1l-.6 .8l-.7 .5l-.6 .7l.2 .1l1.7 .6l1.3-.2l1.8 .1l1.3 .5l-.1-1.3l-.1-1.2l-.7-.8l-.7-.4zM172.7 412.9l-.3 .8l-.2 .9l-.1 1.1l.4 1.6l.2 1.1l1 .7l.9 .8l1.2-.5l.9-.8l1.1-.6l-1.1-.6l-.6-.6l-.9-1.1l-.8-1.2l-.5-1.2zM149.7 420.1l.8 .2l1.3 .3l.9 .4l.7 .3l.9 1.2l.5-.2l0-.5l.2-.4l1.1 .5l1.7 .4l1.2 .2l1.4 .6l.9-.8l.4-1.1l.5-1.2l.9-.8l.9-.8l-1.3-.3l-1.2 .2l-.6 .4l-.7 .1l-1 .1l-1.1 .5l-1.1 .8l-.6-.3l-.4-.7l-1.5-.9l-1 0l-.5-.5l-.7-1l-.6-1l-.2-1l-.5 1.2l-.5 1.5l-.4 1.4zM104.7 430.1l1.1 1.2l.8 .6l1.2 1.5l.6 1.3l.9-.5l1.6-.1l-.4-.9l-.1-.9l0-1.1l-.2-1.4l.2-1.1l.4-.9l1-.6l1.3-.8l.9-1.3l.9-1l.9-.2l-.1-.6l-1 0l-1 1l-2.1 .2l-1.9 .1l-1 .2l-1.2-.8l-.7 .5l-.8 .5l-1.6-.7l-1.3 .3l-.9 1l-1.2 .4l-1.4-.1l.1 1.3l.2 1.3l.2 .5l.3 .3l1.4 .2l1.5 .4l.8-.3l.7-.2zM108.2 440.4l.5-.9l.3-1l.1-.2l.6-.9l1-.6l-1.5-1l-1.1-.5l-.6 .3l-.3 .5l-.2 .7l-1.2 1l-1 1.3l-.1 1l0 .9l1.2-.6l1.4-.1z"/>
<path fill="#AE9CD8" stroke="#AE9CD8" stroke-width="0.35" d="M101.6 407.3l-.4 .9l-.2 .8l.1 1.2l.3 1.4l.1 1.3l-.1 1.1l-.3 .9l0 1l.2 1.3l-.8 .8l-.3 1.4l-.4 1.4l-.9 .7l.4 1.3l.4 1.4l0 .9l-.1 .9l1.4 .1l1.2-.4l.9-1l1.3-.3l1.6 .7l.8-.5l.7-.4l1.2 .6l.9-.1l1.9-.1l2.1-.2l1-1l1-.1l.1 .8l.4 .5l.6-.9l.6-.9l.7-1.1l.6-1.1l.4-1.3l.5-1.3l-.8-.8l-.5-.7l-.7-1.6l-.7-1.4l-.4-.7l-.9-.9l-1.1-.7l-.2-.6l-.1-1.4l-.6-1.5l.9-.1l.7 .2l.7 .4l.7-.7l.4-1.2l.6-1.3l1.2-1l1.5-.7l1.2-.6l-.6-.7l-.5-.5l-1.3-.8l-1.4-.4l-.7-.5l-.9 .1l-1.1-.3l.3 1.4l-.5 .7l-.3 .6l-.3 .8l-.4 1.1l-.3 1.1l-.4 1.1l-.3 1.1l-.7 .6l-.9 .6l-1.5 .3l-1.5 .8l-.8 1.4l-.1-.6l-.3-1.5l-.8-1.2l-.7-.4l-.5-.7l-.6-1.1l-.7-.2l-1.1-.5l-1.5-.1l-1.3 .3l-.9-.5l.5 .9l.8 .3l1 .7zM91.6 414.4l-1 .7l-.9 .8l-1.4 .2l-1.3 .1l-.5 .5l-.7 0l-1.2 .2l-1.6 .6l-1.7 .5l-1.2 .8l-.7 1l-1.2 .3l-1.1 .4l-.6 .6l-.6 .3l-.6 .6l-1.3 .5l-1.9 .1l-1.3 .7l-.6 .8l-.8 .2l-.9 .5l-.8 .9l-.9 .6l1.1 1l.3 .3l.5 .9l.7 1l-.3 1l-.3 1.1l.7-.5l1.2 .8l1.1 1.2l.6 .6l1.4 1.2l1.6 .1l1-.7l1 .5l1-.1l.9-.2l1.3-.1l1.5-.3l1.2-.6l1.3-.6l1.4-.4l1.1-.6l.8-.5l.2 .8l.6 1.2l.9 1.3l.4 .8l.1 1.2l.7 .6l.8 .4l.9-.8l1.7-.2l1.5-.3l.5-1l.8-.6l1.1-.5l.8-1l.3-1.3l.2-1.2l.3-.7l-.9-.4l-1.1-1.1l-.5-.5l-.6-.3l-1.5-1.1l-.8-.5l-.6-1.2l.6-1.5l.4-1.5l.6-1.3l.7-.9l.7-.8l.5-.6l.3-.7l0-1l-.1-1.2l-.1-1.5l-.6-.3l-.7-1.1l-.5-.2l-1.5-.7l-1.6 .1l-.4 1.4zM108.1 435.3l.1-.3l.2-.4l-.6-1.2l-1.1-1.6l-.9-.6l-1-1.2l-.1 .3l.3 1.8l.2 1.4l0 .8l-.1 .9l-.9 1.2l-.8 .9l.7 1l.7 .9l1-1.4l1.3-.9l.2-.7l.2-.6zM140.5 389.1l-.1 .7l-.4 .6l-.5 .7l0 .1l.6 1.3l.6 .9l1 .6l.6-.1l.2-.3l.5-.3l-.3-.8l-.7-.8l-.9-.3l-.4-.7zM137.6 392.3l-.2-.6l-.4-.7l-1 0l-.2 1l-.4 1l.2 .7l.2 .5l.8-.1l.5-.8zM131.3 397.2l-.7-.8l-.5-.6l-.5-.7l-1-.4l-1.1 .1l.4 .7l.7 .7l.5 .7l0 .9l-.2 .9l-.1 1.3l.7-.6l.7-1.2l.7-.6zM135.4 416.2l.4-.5l.8 0l1-.5l.8-1.1l0-.3l-.8-.2l-1.5-.4l-1.3 .2l-.8 .3l-.3 .9l.4 .4l.6 .4zM144.9 413.9l-.3 1l-.5-.1l-1.2 .1l-1.1 0l-.6 .7l-.7 1l-.9 .9l1.3 .1l1.1 .7l.4 1l.9 1l.7-.4l.9-.8l.6-1.3l1.3 .5l.7-.2l.8-.6l1.4 .4l.8-.2l.2-.8l-.1-1.2l-.7-1.1l-.8-.7l-.5-.9l-.5-1.2l-.6 0l-1 .6l-.6 .6l-.5 .3zM187 427.3l.2-1.4l.1-1.7l-1.3-.4l-1.2-.6l-.6 .2l-.8 .1l-.9-.1l.5 1.5l.8 .8l1 .9l1 .9l.6 .1zM189.3 433.8l-.3 1.2l-.3 .9l-.2 .8l1.5-.6l1.6 0l.6-.3l.8 .1l.8 .1l-.3-1l-.1-.8l-.1-.9l-.4-1l-1.4 .3l-1.2 .7z"/>
<path fill="#8A72CC" stroke="#8A72CC" stroke-width="0.35" d="M182 401.3l.8 .8l.9 .9l.3 1.3l.1 1.1l.8 .6l.9 .5l0 1.2l.1 1.2l-.2 1.1l-.6 1.1l-.8 1.2l1.3 .7l1.1 .4l.9 .4l1.5 .3l.9 .3l.7-1.2l1-.6l.6-.4l.1-.9l.2-.9l1-.8l1.2-1.1l.3-1.1l.2-.9l.2-.8l-.8 0l-.9 0l-2 .1l-1.5 0l-.1-1l.1-1.2l-.4-.9l-.4-1.2l0-1.4l-.1-1.2l-.3-1.2l-1.2-.5l-.9 .6l-1.5 .8l-1.5 1.1l-1.2 .9l-.8 .6zM197.4 432.7l.5-1l.8-1l1.1-.9l1-1.2l-.5-.8l-.8-.8l-1.2-.4l-.1 .1l-.6 .9l-.6 .9l-.5 .8l-.3 1l.8 1.1z"/>
<path fill="#7854BA" stroke="#7854BA" stroke-width="0.35" d="M193.1 395.5l.5 .4l1.4 .2l1.6 .1l.9 .3l.8 .3l.7 .6l.4 .3l.6 .1l.2-1.3l.4-1.2l.4-1.2l.3-1.3l.2-1.3l.1-1.2l-.8 .2l-1.2-.2l-.8-.1l-.9 .4l-1.3-1l-.7-.8l-.6 .5l-1.6 .3l-1.4 .2l0 1.3l.2 1.2l.3 1.2l.2 1z"/>
<path fill="#6C48B4" stroke="#6C48B4" stroke-width="0.35" d="M201.7 398.5l.2 1.2l.2 1.4l.4 1.1l.4 .6l.4 .7l.5 1l.3 1.1l1.1-.6l1.5 .3l1.2-.1l.9-.1l1 .2l1.2-.2l1.2 0l.3-1l.2-1l0-.9l-.6-1.2l-.4-.8l-.4-.8l-.5-1.1l-.3-1.1l-.4-.7l-1.1-.6l-.8-1.3l-.7-1.2l-1.1-.9l-1.1-.7l-1.2-.2l-1.4-.7l-.8-.6l-.4 0l-.1 1.2l-.1 1.3l-.3 1.2l-.5 1.2l-.4 1.3l-.2 1.2l.8 .5z"/>
<path fill="#7254BA" stroke="#7254BA" stroke-width="0.35" d="M189 397.6l.2 1.2l.1 1.3l.1 1.4l.4 1.2l.4 1l-.1 1.2l.1 1l1.6-.1l2-.1l.9 0l.7-.8l.5-.8l.5-.6l.5-.8l.6-1.2l.6-1.5l.5-1.5l.4-1.1l-.6-.8l-.9-.3l-.9-.2l-1.5-.1l-1.4-.2l-.6-.4l-.4 .7l-.7 .9l-.9 .8l-1.5-.3z"/>
<path fill="#8466C0" stroke="#8466C0" stroke-width="0.35" d="M193.1 395.5l0-1l-.2-1.1l-.2-1.1l-.2-1.2l-.1-1.3l-1.1 0l-1.3 0l-.8 .3l-.3 .5l-.6-.1l-1-.1l-.3 .8l-.6 .9l-.7 1l.6 1l.5 1.1l1 .6l1 .6l.9 1.2l1.4 .3l1-.8l.6-.9z"/>
<path fill="#A28AD8" stroke="#A28AD8" stroke-width="0.35" d="M185.3 393.7l-1.1 .9l-1.1 .8l-1.2 0l-1 .1l-.2-.3l-.3 .6l-.2 1.5l-.6 1.1l-.9 .7l-1 .7l-.9 .5l-1.3 .2l-.8 .6l-.9 .7l-1.3-.2l1.2 1l.9 .4l1.2-.2l1.1 .4l.5 1.2l.8 .8l.9-.3l1.4 .4l1.5-.5l1.2-.8l.8-.3l-.4-1l-.9-.8l-.6-.7l.8-.6l1.2-.9l1.5-1l1.4-.8l.9-.6l1.2 .5l.7-.2l-.9-1.2l-1-.6l-1.1-.6l-.4-1.1l-.6-1.1z"/>
<path fill="#6648B4" stroke="#6648B4" stroke-width="0.35" d="M199.9 397.6l-.5-.1l-.4-.2l-.5 1.2l-.5 1.5l-.6 1.5l-.6 1.2l-.5 .8l-.5 .6l-.5 .8l-.7 .8l1.4 .2l1.2 .8l.7 .1l1-.2l1.7-.1l1-.2l.6-.1l1 0l1-.7l-.2-1.1l-.5-.9l-.4-.8l-.4-.6l-.5-1l-.1-1.4l-.3-1.3l-1-.3z"/>
<path fill="#9078CC" stroke="#9078CC" stroke-width="0.35" d="M179.6 412.3l1 .1l.9 0l1.1 .4l.7 .2l.5 .1l-.5 1.5l-.2 1.4l-.3 1.1l-.5 .6l-.8 .4l-.9 .3l.8 .5l.6 .7l1.4 .9l.9 .5l.8 .7l.8 .3l1.2-.6l1.5-.1l.5-.9l.5-.8l.3-.9l.1-1l.2-1.1l-.3-.6l0-.7l.1-1.1l-.9-.2l-1.5-.3l-.8-.4l-1-.4l-1.4-.6l.9-1.2l.5-1.1l.2-1.2l-.1-1.2l0-1.2l-1.1-.5l-.7-.8l-.1-1.5l-.9 .3l-1.2 .8l-1.4 .5l-1.4-.4l-.9 .3l-.1 1.3l-.3 1.2l.7 1.1l.3 1l.3 .9l.3 .8z"/>
<path fill="#7E60C0" stroke="#7E60C0" stroke-width="0.35" d="M199.1 414.3l-1.1 .4l-1.1 .7l-.7 1.4l-.4 1.5l.1 1.5l.1 1.2l-.2-.1l.2 1.1l-.1 1l-.3 .9l-.2 .7l0 .8l1.1 .7l.8 .5l1 .1l1.1-1.1l.8-1.2l.5-1.2l.5-.7l.7-.2l1.1 .6l.3 .1l.7 0l.7-.5l.8-.3l.9-.4l-.5-.5l-.7-.5l-.7-.8l-1.1 .1l-.8 .7l-1 .6l-1-.2l-.1-1.2l0-1.5l-.3-1.3l-.4-1.1l-.3-1z"/>
<path fill="#6C4EB4" stroke="#6C4EB4" stroke-width="0.35" d="M211.1 409.1l.1-1l.2-1l.5-1l.4-1.1l-1.4 0l-1.2 .2l-1-.2l-1 .2l-1.4-.1l-1.4-.2l-1.1 .9l-1.3 .3l-.7 0l-.8 .3l-1.8 .1l-1.2 .2l-.7-.1l-.9-.7l-1.1-.2l-.1 .8l-.3 .9l-.2 1.1l.3 1.1l.7 1.1l1.3 .7l.8 1l.5 1.2l.7 .8l.5 .8l.3 1l.3 1.1l.3 1.3l0 1.4l.1 1.3l1.1 .1l.9-.5l.8-.7l1.1-.1l.7 .7l.7 .5l.5 .6l1-.4l1-.8l.8-1.2l.5-1.5l.3-1.5l.5-1.2l.5-1l.4-1l.1-.9l-.1-1.1l-.2-1.1z"/>
<path fill="#846CC6" stroke="#846CC6" stroke-width="0.35" d="M195.9 418.4l.4-1.5l.6-1.5l1.2-.6l1-.4l-.7-.8l-.5-1.2l-.8-1l-1.3-.8l-.7-1.1l-.4-1.1l-1.2 1l-.9 .9l-.3 .9l0 .8l-.6 .5l-1 .6l-.8 1.2l-.1 1l0 .8l.4 .6l1.3-.3l1.4 .4l1.4 .2l1 .7z"/>
<path fill="#8A72C6" stroke="#8A72C6" stroke-width="0.35" d="M188.4 421.3l.8 .4l.6 .3l.8-.6l1-.6l1-.1l1.1-.1l1.7 .3l.8 .2l-.2-.8l-.1-1l0-1l-.6-.7l-1-.7l-1.3-.2l-1.5-.3l-1.4 .2l-.2 1.1l-.1 1l-.4 .8l-.4 .8z"/>
<path fill="#9C84D2" stroke="#9C84D2" stroke-width="0.35" d="M177.6 418l1 .5l.8 .1l1.3-.1l.9-.4l.8-.3l.5-.7l.2-1.2l.3-1.5l.6-1.4l-.6-.1l-.7-.2l-1.2-.4l-.9 0l-1-.1l-1.5 .7l-1.3 .9l-.9 1l-.9 .8l.8 .9l.5 .7l.5 .3zM185.1 421.6l-.2 .8l-.1 .9l1.1 .6l1.3 .4l-.1 1.7l-.2 1.3l.7-.3l1.2-.2l1.2 .2l0 .7l0 .9l1.2 .4l.6 .9l.4 .7l1.1 .7l-.3 .5l-.2 .5l.4 1l.1 .9l.1 .8l.3 .9l.5 .1l1-.3l.8-.7l.7-.9l.4-.8l.4-.7l-.5-1.3l-.7-1l.3-.9l.5-.9l.6-.9l.7-1l-1 0l-.8-.5l-1.1-.8l-1.1-.1l-.4 .6l-.2 .7l-.9-.6l-1.3-.1l-.4-.6l-.2-1l0-1.2l-.1-1.3l.3-.9l-.7 .6l-.7 .5l-1.2-.7l-1.5 0l-1.2 .7z"/>
<path fill="#8A6CC6" stroke="#8A6CC6" stroke-width="0.35" d="M195.6 425.4l-.1-.7l.2-.8l.3-.9l.1-1l-.1-1l-.6-.2l-1.5-.3l-1 0l-.9 .1l-1 .3l-.1 .8l0 1.3l.1 1.3l.1 .9l.4 .7l1.4 .1l.9 .6l.2-.7l.4-.6z"/>
<path fill="#8A6CCC" stroke="#8A6CCC" stroke-width="0.35" d="M198.2 426.7l1.2 .3l.8 .9l.5 .8l.4-1.1l.3-.9l.5-.8l.6-.4l.5-.5l.5-1l.6-1.1l-.8 0l-.3-.1l-1.2-.5l-.7 .2l-.5 .7l-.6 1.2l-.8 1.2z"/>
<path fill="#C6BAEA" stroke="#C6BAEA" stroke-width="0.35" d="M180.1 432.1l-.5 1.4l.9 .3l.3 1.4l.5 .8l.8 .5l.7 .8l-.1 .2l.1 .4l.7-.6l.8-.6l.8-.7l-.6-.9l-1.6 0l-1.3 .3l.6-1l.7-1.1l-.4-.9l-1.2-.3zM131.9 438.3l-.8-.5l-1.6-1l-1.1-.3l-.8-.9l-1-.9l.2 1.3l.2 1.4l.3 1.2l.1 1l.1 .6l.6 .5l.7 1.5l0 1.3l.3-.6l.9 .1l.5-1.4l.6-1.3l.5-1.1zM87.4 470.4l-.3-.5l-.5-.5l-.5-1.4l0-1.4l-.2-.9l-1-1.1l-.8-.9l-.5-.3l-.5-.8l-.6-.7l-.5-.5l0 .1l-1.1 .5l-1 .7l-.6 1.4l-.4 1.5l-.4 1.2l-.3 1l-.1 .1l.5 .7l.2 1.1l.9 1.5l.9 .7l.4 .7l.6 1.1l.4 .4l.7-.9l1-.3l1.4-.4l1.3-.5l.8-.6z"/>
<path fill="#A28AD2" stroke="#A28AD2" stroke-width="0.35" d="M190 428.5l-1 1.3l-.2 1.3l-.2 1.5l.4 .7l.3 .7l1-.6l1.2-.7l1.4-.3l.3-.6l.3-.5l-1.2-.8l-.5-.6l-.6-.9z"/>
<path fill="#BAA8E4" stroke="#BAA8E4" stroke-width="0.35" d="M160.6 423.6l-.2-.6l-1.4-.6l-1.2-.2l-1.7-.4l-1.1-.5l-.2 .4l0 .4l-.5 .2l-1-1.2l-.8-.3l-1.2-.4l.9 1l.5 1.1l.3 1.2l.4 1.8l.3 1.6l.3 .8l.6 .7l1.6 0l.7-.2l.5-.3l.7-.4l.1-1.3l.5-1.3l.9-.9zM176.1 430.8l.7 .3l.1 .8l1.4-.5l1.4-.9l1.6 0l.2-.6l.1-.7l-1.4-.4l-1.2 .1l-.6 .6l-.8-.1l-.6-1.1l-.7-.8l-.6 .8l-.7 .3l-1.1-.2l0 .7l1.1 .9z"/>
<path fill="#D2CCF0" stroke="#D2CCF0" stroke-width="0.35" d="M165.3 436.7l-.1-.7l-.2-.9l-.2-1l-1-.7l-.8-.1l-.3 1.3l-.3 1.5l-1.1 .5l-1.3 .6l0 .2l.6 .6l.5 .9l0 .9l-.1 .8l1.3-.2l1.4-.3l.7-.9l.4-1l0-.1l.2-.9z"/>
<path fill="#D2C6F0" stroke="#D2C6F0" stroke-width="0.35" d="M96.6 470.2l-1.5-.2l-1.4-.6l-.7-.3l-.9 .4l-1.4 .1l-1.7-.5l-1.6-.3l-1.3-.4l.5 1.2l.5 .4l.2 .4l-.2 1.1l-.1 1.3l0 1.4l0 1.3l-.1 1.3l0 1.2l1.1 0l1.2 .1l.6 .3l.3 .5l.7 .4l1.1-.1l.4-.7l.8-.9l.8-1.3l.6-1.4l.4-1.5l.3-1.2l.3-.9l.5-.6z"/>
<path fill="#721218" stroke="#721218" stroke-width="0.35" d="M89 291.7l-1 0l.2 1.1l.2 1l.8-.1l-.8 .4l0 .1l.8 0l.3 .6l.4 1.2l-.4 1.5l-.6 1.3l1.1 .4l1 .1l1.1-.5l1.1-.2l.1-.7l.9-1.2l1.6-.7l.8 .4l0-1.4l-.2-1.3l-.6-.2l-.4-.8l-.4-.9l0-.6l.2-.7l-1-.5l-.3-.2l0-.7l0-.7l-.5-.6l-.8-1.1l-.1 .9l0 1.2l-.4 .6l-.6-.2l-.8-.4l-.9-1.3l-.4 0l0 1.2l.2 1.1l.2 .7l-.5 .5z"/>
<path fill="#7E1218" stroke="#7E1218" stroke-width="0.35" d="M92.8 323.4l1-.4l1-.4l1.2-.3l.7-.9l.6-.5l1.1 .3l1.3 .1l.6 1.2l.3 1.1l0 1.3l.7 1.4l.9 .7l.6-.4l.8-1.1l.9-.3l1.3 0l1.2-.7l1-.8l.6-.5l.3-.4l.8 .1l1.7-.2l1.3-.9l1.3-.7l1.4 .1l1.2 0l-1.3-.6l-1.1-.4l-1.1 0l-1.1-.6l-1.1-.6l-1.7-.7l-1.1-1l-.6-.7l-.9-.7l-.7 0l-1.2 .6l-1.3 .5l-1.1 .4l-.8 .6l-.7-.4l-.8-.5l-.7-.6l-.9-.4l-1.5-1.3l-.9-1.7l-.5-.8l-1.4-1.1l-1.3-.6l-.9 1.1l-.7 .9l-1.1-.3l-.7 .3l-.4 1l-.5 1.1l-.7 1.1l.2 1.4l1 1.3l.7 .6l.2 .8l.5 .9l.5 .4l.8 1z"/>
<path fill="#7E181E" stroke="#7E181E" stroke-width="0.35" d="M107.2 287.2l.5-.4l1.3-1.1l1.5-.4l1-.2l.5-.5l.8-.3l.9-.1l.7-.4l.7-.3l.7-.3l-.9-.9l-.8-1.1l-.4 .3l-1.3-.5l-1.2-1l-.5-.6l-.8-1.5l-1-1.1l-.6 .4l-.6 .7l-.5 1l.5 1.6l.1 1.2l-.1 1l-.2 1.3l-.1 1.4l-.1 1.1zM97 279.9l-1.1 0l-1.3-.1l-.9 .2l-1.2-.1l-.9 .2l-.5 .9l-.1 .5l.3 .8l.6 1.6l.5 .9l.9 1.1l1.5 .1l1.6-.3l.8-.8l.6-1l.4-1.1l-.6-1.2l-.5-1zM78.3 285.5l-.5 .7l-.6 .4l-.6 .1l-.5 0l-.3-.1l-.3-.2l.1-.4l-.4 .3l-.7 1.1l-.5 1.3l-.4 .9l-.4 .7l.2 .7l.6 .1l.8 0l.8 .2l.4 1.1l.2 1.5l-.1 1.2l0 .4l.9-1.2l.9-2.5l.4-1.7l-.2 0l-.4 .3l0-1.1l.2-1.3l.5-.1l.2 .2l.1-.3l.1-1.1l.3-1.3l.7 .2l.8 .2l.5 0l.2 .4l.4 .3l.5 .6l.6 .7l.7 .3l.8 .3l.7 .1l.5-.2l.6-.2l.9-.1l.8 0l0-.1l-.5-1.4l-.6-1.5l-.2-.9l-.2-.8l-.3-1.3l-.6-.5l-.4 .2l-.3 .9l-.4 .6l-.5 .3l-.6 .2l-.6-.1l-.5-.3l-.6-.3l-.7 0l-.7 .6l-.7 .7l-.6 .7zM68.1 289.9l-.4 2l-.9 2l-.7 .6l-.1 .5l0 .8l.3-.1l.2-1l-.2 .3l-.7 1.9l-.7 1.4l.3 .2l-.1 1.3l-.6 1.1l-.2 .3l.1 .7l.2 1.2l.2 .5l.3-.2l.1 .4l-.3 1.1l-.4 .9l-.2 .7l0 .7l-.1 1.1l-.3 .9l-.2 .6l0 .5l.9-.4l.8-.2l.8-.1l.7-.2l.7 0l.2-.3l.2-.4l.2-.4l.1-.3l-.1-.1l-.1-.4l-.1-1.1l.3-1.2l.3-1l-.2-.8l-.4-.6l-.1-.2l.6-.4l.9-1.1l.7-1.1l.4-.4l.3 .1l.1 0l-.2-.2l-.1 .1l.3 0l.8-1.2l.5-2.1l-.3-1.4l-.3-.4l0-.9l.2-1.6l-.1-.7l-.3 .4l-.1-.1l-.1-1.3l-.1-1l0-.2l.4-.7l-1.2-.5l-1.1-.2l-.6 .4l-.4 .7l-.6 .2l-.6-.4l-.4-.6l-.2 1.1l-.1 1.6l.4 .1l.9-1z"/>
<path fill="#841E24" stroke="#841E24" stroke-width="0.35" d="M66 255.5l.3-.2l.2 .4l.1 .8l-.4 1l-.7 .7l-.9 .9l-1.1 .4l-.9 .4l-.4 .3l0-.3l-.3-.4l-.4-.1l-.5 .4l-.6 .6l-.7 .4l.6 0l.5 .4l.7 .8l.7 .7l.3 .2l.1-.3l.3-.2l.6 .1l.8 .2l.7-.2l.5-.7l.5-.6l.9 0l.6 .6l.3 .9l.1 1.1l.2 1l.8 .8l1.1 .3l1 0l.4 0l-.4 .5l-.5 .6l.1 .6l.7 .8l.8 .6l1-.3l.7-.5l-.1 1.2l-.9 2.6l-.9 1.5l-.2 .1l.3 0l.2 .6l-.1 .4l.5 .4l.3 .1l.3 .3l.4 1l.5 1.2l.6-.2l.9-.1l1.1-.5l1-.9l1.1-1.2l1-.6l.9 .2l.5 .7l.1 .3l-.2-.2l-.1-.6l.3-.6l.7-.3l.8-.2l.9-.1l.9-.2l.5-.3l.4-.5l.4-.6l.4-.7l-.8-.1l-1-.4l-.6-.5l-.3-.4l-.3-.6l-.5-.8l-.5-.6l-.3-.4l-.2-.6l-.5-.7l-.9-.5l-.9 .3l-.8 .4l-.6-.4l-.7-1.4l-.8-1.3l-.5-.2l-.3 .4l-.1 0l-.2-.6l-.4-.6l-.4-.3l-.6-.3l-.9-.8l-.9-.8l-.8 .1l-.8 .6l-.6 .1l-.3-1.2l0-1.9l.1-1.3l-.4-.2l-1.2 .2l-1.4-.3zM109 276.9l.3-1l.2-1l.3-1l.5-.7l.8-.4l.9-.5l.8-.6l.7-1l.5-1.4l.4-1.6l.5-1.9l-.2-1.8l-.4-1.2l-.2-.5l-.1-.6l-.2-1.1l-.5-1.2l-.3-.9l-.3-.6l-2.1 0l-1.6 .2l-.8-.2l-.8-.9l-1.1-.4l-1.2 .3l-1.1 .3l-1.3 0l-.8 .6l-1.5-.1l-1.8-.4l-.4 .6l-.2 .8l-.2 1l-.5 1l-.8 1.1l.4 1.9l.5 1.5l.3 .7l.4 .8l.5 1.4l0 1l.1 .8l.6 1.3l.5 1.5l.1 1l.1 1.2l.7 1.4l1.4 .5l1.4 .6l1.3 1.1l.8 .2l1.4 .5l.3-.2l.7-1.5z"/>
<use href="#mesh" fill="none" stroke="#000" stroke-width="0.33" stroke-linejoin="round"/>
</g>
<rect x="8" y="108.95" width="214.2" height="400.15" fill="none" stroke="#000" stroke-width="1.45"/>
</g>
<g transform="translate(922 0)">
<g shape-rendering="geometricPrecision">
<path fill="#5436A2" stroke="#5436A2" stroke-width="0.35" d="M104.2 295.2l1.1 .9l.8 0l1.3 .7l1.6 .2l.9-.6l.5-1.4l.9-1l-.1-.6l-.4-.4l-.5-.8l-1.4-.7l-.6-.2l-.3 0l-.9 .1l-.8-.4l-.6 .3l-.8 .5l-.1 .7l-.3 .8l-.2 .9zM113.6 377.8l.2 1.2l.4 .8l1.5 .1l1.1 .1l.1-.3l-.6-1.3l-.8-1l-.3 0l-.8 .3z"/>
<path fill="#3C1E96" stroke="#3C1E96" stroke-width="0.35" d="M92.7 310.7l-.8 1.1l-.8 .8l-1-.3l-.7 .3l-.4 .9l-.5 1.2l-.7 1l-.8 .4l-1.8-.4l-1.7-.3l-1.1 1.2l-1.5 .6l-1.2-.5l-.8-.4l-.5 .2l-.6 1.1l-.5 1.4l.9 1.3l1.1 .9l.4 1l.4 1.2l.9 .7l.8 .7l1.3 1.4l1.1 1.2l.2 1.1l.5 1.2l1 .7l.9 .4l.5 .9l.7 .9l1-.7l.4-.6l.5 0l-.2-1l-.2-1l-.4-1.2l-.4-1.5l1.4 1.2l.9 .2l.4-1.3l.5-1.2l.5-1.2l.5-.9l1-.4l1-.4l1.1-.3l.7-1l.7-.4l1 .4l1.4 0l.6-1.1l.6-1.1l.5-1.1l.8-.5l1.2-.5l1.3-.4l0-1.1l-.1-1.4l0-1.7l.3-1.8l.5-1.6l.6-1.1l.5-.7l-1.5-.5l-1.5 0l-1.2 .6l-1.1 .6l-1-.2l-1.2-.5l-1.4 .3l-1.4 .2l-.9-.1l-.2 .7l-.2 .7l-.6 .4l-.9 .5zM126 372.1l.2 0l.7-.5l1.1-.2l.3-.3l-.1-.2l-1-.7l-.7-1l-.4 .9l-.2 1.2zM115.3 372l.6 .5l.1 0l1-.5l.4-.6l.3-.6l-.7-.3l0-.3l-.7 .2l-1.1 .2l-.9 .1l-.4 .7l-.3 .6l.3 .7l.6-.3zM131.3 374l.7-.2l.5-.8l.8 .6l1-.3l.2-.8l.3-.8l-.8-.5l-.7 .2l-.5 .6l-.1-.7l-.9 .9l-.1 .2l-1.1-.4l-.9-.6l-.1 .1l-.2 .7l-.2 .8l.9 .4l.9 .7zM123.1 373l.2-.7l.1-.7l0-.1l-1.1 .4l-1.3 .2l-1.2 .4l-.8-.2l-1-1.2l.9 1.2l.8 .5l-.4 .4l.4 .7l.2 .7l.1 .1l.9-.3l1.1-.6l.3-.8zM139.3 367.9l-1.2-.1l-1 .2l-1.1-.2l-.3 .3l.6 1.2l-.2 .3l.2 1.1l.1 1l1 .6l1.1 .1l0-.3l-.4-.3l.5-1.1l.7-.9l1-.5l-.3-.7zM155.2 367.5l-1 .7l-1.4 .3l-1.5 0l-.2 .7l.1 1.1l-.6 1.1l-.8 1.2l.3 1.4l.9-.1l.5-1l.5-1.1l.6 .4l1.1 .7l1.2 .3l1.5-.1l.9-.8l.6-.7l.8 .4l-.3-1.2l-.4-.9l-.4-1l-.8-.5l-.6-.7zM142.6 370.6l-.3 .2l-.5 1l-.4 .8l.9 0l.9-.4l1 .4l.8 .6l.8 .7l.8-.3l0 .3l.4 .3l.7 .8l1-.4l-.6-.7l-.3-1l-.8-.7l-.5-.6l-.6-.7l-.5 .3l-.7 .4l-.5-.5l-1-.1z"/>
<path fill="#3C1890" stroke="#3C1890" stroke-width="0.35" d="M99.8 321.2l-1.4 0l-1-.4l-.7 .4l-.7 1l-1.2 .3l-.9 .4l-1.1 .4l-.5 1l-.4 1.1l-.5 1.3l-.5 1.3l.7 .4l1.5 .4l1.2-.3l1-.2l1.8 .5l1.5-.5l.8-.7l.4 .1l.4-.1l.8-.2l1.4-.5l-1-.6l-.6-1.4l-.1-1.4l-.3-1.1zM129 365.1l-.7 .5l-.4 .9l-.9 .3l-1.3-.1l-.9 .1l.4 .9l.5 .9l.8-.3l0 1.1l.6 .8l1 .7l.1 .2l.7 .2l.7 .3l.1 0l.9 .5l1.1 .4l.2-.2l.8-.9l.3-1.6l.2-.3l.7 .8l.5-.5l.5-.5l.6 .3l.7 .1l.1-.2l.4 .4l-.4-.8l-.5-.9l.2-.3l1.1 .2l1-.2l1.2 .2l-.1-.9l0-.7l-1.2-.3l-1.2-.3l.4-.7l.5-.7l-.1-.2l-.7-.2l-.9-.2l-1.2 .1l-.8 .3l0-1.1l.4-1.2l-.4-.5l-.6-.4l-.9-.8l-.6 .7l-.5 .9l-.5 1.2l-.9 .2l-.6 1zM119.4 373.3l.4-.6l-1-.6l-1.3-1.4l-.2 .6l-.4 .6l.8 1.1l.9 .3zM173.4 364.5l.6-.5l-.7-.8l-1.2-.3l-1.4-.7l-.8-.2l-.6 .6l-.4 1l-.4 .9l-.8 .4l1.1-.2l.9-.8l1.3 .1l1.2 .2l.1 .2l.4-.1zM165.4 366.1l.4 .3l.4 .7l.1 .9l-.3 1.4l-.5 1.1l-.5 1l-.4 .9l-.2 .8l.7-.5l1-.3l1.1-.4l.6-.9l.8-.4l1 0l.7-.2l.7-.4l1.2-.2l.9 0l.5-.1l.5 .5l-.7-.7l-.6-.2l-1-.6l-.7-1.1l-.4-.5l.1-1.2l.6-.9l-.7 .1l-.8 .1l-1.1 .4l-1 .1l-.9 .2l-.5 .1l-.4-.1zM157.8 371.6l.6 .2l.7 .5l.5-1l.4-1l.3-1.3l.1-1.4l.2-1.1l.5-.8l.8-.5l-1.2-.5l-.9-.4l-.9 0l-.7 1l-.5 .9l-.5 .8l-.4 .6l-.4 .4l.5 .5l.6 .5l.4 .9l.4 .9l.2 1l-.7-.3zM139.8 368.5l.3 .8l1.5 .8l.7 .8l.3-.2l.4-1.5l.3-1.7l-.5-.3l-.7 .3l-.9 .9zM148.6 374.7l.7-.1l.7-.4l.2-.3l-.3-1.4l-.9-.4l-.6-.8l-.1 1.2l-.5 .4l.2 1z"/>
<path fill="#422496" stroke="#422496" stroke-width="0.35" d="M119.4 373.2l-.7 0l-.9-.2l-.8-1.1l-1 .5l0 .7l.3 .7l.6 0l.6-.1l1.5 .6l1 .4l-.2-.8zM131.8 375.5l.8-.6l.8-1.4l-.5-.2l-.3-.5l-.5 .9l-.9 .2l.3 1zM113.8 372.6l.3 .5l.2 .6l-.4 .6l1.1 .1l.4-1l.6-1l-.7-.5l-.8 .4z"/>
<path fill="#4E30A2" stroke="#4E30A2" stroke-width="0.35" d="M83 295.5l.1 .8l0 .7l-.2 .5l0 .3l.1 .5l.2 .8l.2 .7l.2 .2l.1 .1l.5-.5l.6-.4l.6-.3l.5-.2l.5-.2l.3-.2l0-1.2l-.7-1.4l-.8-1.4l-.4 0l-.2 .3l-.3 .4l-.5 .3zM104.4 295.2l-1.2-.8l-.7 0l-.4 .7l-1.2 .7l-1.2 1.2l-1.1 .9l.8 1.2l.6 1.1l-.1 .9l.6-.1l1.6 .1l1.4-.2l1 .8l.7 .9l.3 .4l.2-1.5l.5-1.3l.6-1.2l.5-1.2l.2-1l-1.3-.8l-.8 0zM93.2 298.6l-1.2 .1l-1.1 .5l.3 1.1l0 1l-.3 .9l.8 .1l1.6 1.1l.9 .1l.5 .5l0-1.5l.1-1.1l.1-.6l0-.7l.1-1.1l-1.1-.6zM115.1 374.5l-.1-.3l-1 0l-.6 .9l.1 1.3l.1 1.6l.8-.2l.9-.3l-.2-1.4zM116 376.3l-.6 1.1l.9 1.1l.6 1.3l.1-1.3l.3-1l-.5-.8zM119.6 379.3l-.3-.7l-1.2-.2l-.9 0l.2 .8l.2 .7l.8 0l.8 .3l.2-.5zM132.2 383l.5 .4l.5-.8l.6-.9l.7-.8l-.3-.9l-.5-1l-.3-.8l-.9 .9l-.8 .4l-.8-.9l-1.1 0l0 .3l.5 1.2l.4 1.6l.1 1.6l.3-.1l.2-.2zM149.5 380.1l-.9 0l-.9-.5l-.7-.5l-.7 .8l-.8 .9l-.8 .5l.4 1.1l.8 .6l.9 .6l.9-.2l.9 .2l.8 0l-.2-1l0-.9l.1-.7zM124.3 385l.5-1.7l.6-1.3l.8-.7l.8-.5l0-.2l-.8-.5l-.9-.6l-.9-.1l-.6 .5l-.9 .5l-.4 .7l-.5 .5l.5 1.5l.6 1.2l1 .8zM137 382.6l.9 .6l.7 .7l.6 .8l.4 .9l.4 1.2l.1-1l.4-.9l.6-.9l.7-.7l.4-.9l.1-1l-.5-.6l-.4-.8l-1.2-.2l-.8-.2l-1-.7l-1.4-.3l.2 1.2l-.1 1.4z"/>
<path fill="#482A9C" stroke="#482A9C" stroke-width="0.35" d="M94.7 303.8l-.5-.4l-1-.1l-1.5-1.1l-.7-.1l-1.3 .9l-1.4 .2l-1 0l-.9-.1l.4 1.5l.4 1.6l.2 1.1l.4 1l.9 1.2l.8 .7l.3 .8l.4 1.4l1 .3l.8-.9l.8-1.1l.8-.8l.9-.4l.5-.5l.3-.7l.1-.7l-.1-.8l-.2-1.1l-.2-1.5zM114.4 373.7l-.4-.9l-.4-.9l-.2 1l-.3 1l.2 .6l.1 .7l.5-.8zM121.9 373.7l-1 .6l-1 .3l-.3 1.1l-1.3-.3l-.7-.9l-.7-.8l-.6 0l-.6 .7l-.3 .2l-.4-.2l0 1.7l.2 1.4l.3 0l.5-1l.8 .3l.5 .7l.4-.3l.6-.1l.9 .3l1.1 .1l-.1-1l1-.5l1-.7l.6 .5l.4 .4l.3-.8l.4-.8l.8 .9l1.4 .7l.2-.7l0-.9l-.5-.5l-.5-1l-.5 .4l-.5 .4l.2-.4l-1-.6l-1.2 0zM168.9 376.7l1.4-.3l1.1 0l.6 .4l.2-1.5l.2-1.3l0-1l-.2-.9l-.3-1l-.3-1.2l-1.1 .3l-.6 .4l-1.2 0l-.9 .4l-.6 .8l-1 .5l-1 .2l.7 1l.9 1.2l.8 .7l.4 .7zM129 377.7l.5-.2l1.1 0l1.4 .1l.1-.7l-.7-.2l-.4-.4l-.6-.2l-.1-.7l-.1-.8l-1 .1l-.7 .5l0-.9l.2-1l-.6-.5l-1 .4l0 1.1l.1 1l.5 .9l.8 .9zM157.7 371.7l.3 1l.1 1.2l.1 1.2l.2 1l.1 .8l0 .2l.6 .4l1.1 .5l1 .5l.6 .3l.7-.1l1-.1l0-1.4l.1-1.1l-.4-.6l-.8-.7l-.5-1.2l-.5-.1l-1-.5l-1.6-1l-1-.5zM148.4 376.6l0 .6l-.2 .7l.5 1.1l.6 .8l.8 .4l1-.1l-.1-.8l-.1-1l-.1-1.1l-.5-.5l-.4-.5l-.6 .3z"/>
<path fill="#48249C" stroke="#48249C" stroke-width="0.35" d="M100 301l-.7 .8l-1 .6l-1.1 .7l-1.3 .6l-1.1 .5l.3 1.5l.1 1.1l.2 .8l1.1 .2l1.6-.4l1.4 0l1.3 .7l1.2-.5l1.2-.7l1.7-.1l1.6 .4l.6-.2l.2-.8l0-1.1l-.4-.3l-.8-.8l-.6-1.2l-.3-.3l-.8-1l-.9-.7l-1.4 .2l-1.6-.1zM85.7 304.5l-.5 .5l-.4 .7l-.1 1l0 1.1l.1 1l-.1 .7l-.2 .5l-.4 .6l-.5 .6l-.5 .7l-.6 .7l-.9 1.2l-.8 .8l-.7 .7l-.5 .5l-.8 .5l.8 .5l1.3 .4l1.5-.5l1.1-1.2l1.7 .3l1.8 .4l.8-.3l.7-1.1l.5-1.1l.5-.9l.7-.3l-.4-1.5l-.3-.8l-.7-.7l-1-1.2l-.4-1.1l-.1-1l-.4-1.6l-.4-1.5l-.8-.4l-1.1-.1l.7 .5zM125.4 373.3l-.8-1.1l-1-.3l-.2-.4l-.2 .7l-.2 .8l.8 0l.6 .5l-.5 .9l.8-.6zM127.2 375.4l0-1.1l0-1l-.5-.7l-.5-.6l-.2 0l-.1 1.1l-.3 .8l.2 .3l.7 .6zM133.3 373.5l-.8 1.3l-.6 .6l-1.1 .9l.5 .4l.6 .3l-.1 .6l.5 0l.9-.8l.9-.9l1-.4l1.1-.2l1.1 .5l.5-.7l.4-.7l.2-1l.1-1.1l-1.1-.1l-1-.6l-.1 .2l0 .8l0 .8l-.7 0l-.7 0l-.6-.2zM120 374.6l-1.1-.4l-1.4-.6l-.7 .1l.7 .8l.7 1l.8 .3l.7 0l.3-1.1zM139.3 372.3l.4 1l1.1 .6l1.5-.2l.7 .3l.6 .7l-.1 .4l1 .8l.8 .8l-.3 1.3l.1 1l1.3-.6l1-.6l.9 .2l.2-.7l.1-.7l-.4-.4l-1.3-.3l-.8 0l.3-1.1l.3-1l-.1-.3l-.7 .3l-.8-.7l-.8-.6l-1.1-.4l-1.3 .5l-1.3-.3l-1.2-.2l-.4-.2l-.6 .2l0 .1l.5-.1zM151 373.8l-.9 .1l-.2 .3l.1 1l-.2 1.1l.4 .5l.5 .5l.5-.8l.4-1l.7-.5l.1-1.6l.3-1.2l-.7-.6l-.5 1.1z"/>
<path fill="#482AA2" stroke="#482AA2" stroke-width="0.35" d="M119.9 298.5l-.6-.2l-.8-1.1l-.7-1.8l-.5-.9l-1.7 .2l-1.3 0l-.8-.2l-.9-.2l-1.3-.3l-1 1l-.4 1.3l-.9 .6l-1.7-.2l-.1 1.1l-.5 1.2l-.5 1.2l-.5 1.3l-.2 1.4l.5 1.2l.8 .8l.5 .3l.5-.2l1.3 .7l.9-.1l1.1 .2l1.8 .7l1.1-.5l.8-1.3l1.1-.5l1-.4l.5-.8l.3-1.2l.5-1.1l.8-1.2zM91 302.1l.3-.9l0-.9l-.3-1.1l-.9-.1l-1.1-.3l-1.7-.5l-.6-.1l-.3 .2l-.5 .2l-.5 .2l-.6 .4l-.6 .4l-.5 .5l.1 0l-.1 .3l0 .7l.2 .7l.4 .6l.4 .3l1 0l.8 .5l.9 .1l1 0l1.4-.2zM126.3 374.5l-.1 .9l-.2 .7l-1.3-.8l-.8-.9l-.3 .8l-.4 .8l-.3-.4l-.6-.5l-1.2 .8l-1 .5l.1 1l-1-.1l-1-.4l-.7 .3l-.4 .8l.2 .5l.8 0l1.2 .2l.2 .6l1.1 .4l1.6 .1l.4 .3l.4 .4l.8-.5l.6-.5l.9 .1l.8 .5l.8 .6l.7-.4l1 0l.7-.4l.5-1l.1-.2l1 .1l.8 .8l.8-.3l.8-.9l.6 1.2l.5 1.4l.8-.1l.8 .5l.7 .6l.2 .8l.4 .1l1 .4l0-.1l-1.2-.7l.1-1.4l.1-1.4l-.1-1.2l-.2-1.1l-1.2-.4l-.9 .3l-1.4 .6l0-.8l0-.7l-.5 .6l-.7 .5l-1.4 0l-1.4-.1l-.5 .2l-.4-.6l-.7-.6l-.5-.8l-.5-.6zM58 481.9l-.8 .3l-.4 1.1l-.1 .9l-.1 .9l-.3 1.1l1-.5l1.2 .1l1 .5l.6-.3l1-.2l-.6-1.1l-1.1-.4l-1-1.1zM43.4 490.6l.2-.7l.1-.5l-1-.4l-1-.2l.2 .4l.2 .5l.6 .2zM151.6 375.3l-.4 1l-.5 .9l.1 1.1l.1 1l0 .7l-.8 .1l-.8-.4l-.6-.7l-.4-1.2l-.9-.1l-1 .6l-1.3 .6l-.7 .5l-1.1-1.2l-.5-1.3l-.7 .9l-.4 1.1l-.4 1.2l.5 .8l.5 .6l.7-.5l.9 0l.9 .4l.8-.6l.7-.8l.7-.8l1.1 .7l1.2 .3l-.1 .7l-.1 .7l1.1 0l1.9 0l1.5-.5l.1 .4l.6-.1l.9 .1l.6 0l.4-.8l.9-.5l1.2-.3l1-.8l.9-.5l1.2-.1l-1-.5l-1.2-.6l-.6-.4l-.1-.2l0-.7l-.2-1l-.1-1.3l-.2-1.2l-.2-1l-.6 .7l-.9 .7l-1.5 .1l-1.1-.4l-1.1-.6l-.3 1.2l0 1.6z"/>
<path fill="#361890" stroke="#361890" stroke-width="0.35" d="M102.8 326.6l.8-1.1l.9-.3l1.3 0l1.2-.7l1-.8l.6-.5l.3-.4l.8 .1l1.7-.2l1.3-.9l1.3-.7l1.4 .1l1.2 0l-1.3-.6l-1.1-.4l-1.1 0l-1.1-.6l-1.1-.6l-1.7-.7l-1.1-1l-.6-.7l-.9-.7l-.7 0l-1.2 .6l-1.4 .5l-1.1 .4l-.8 .6l-.5 1l-.6 1.1l-.7 1.1l.7 1.3l.3 1l0 1.4l.6 1.4l1 .7zM118.2 368.2l-.5 .3l-.7 .2l-.9 .5l-1.1 .6l-.8 1l1-.1l1.1-.3l.5-.1l.1 .3l1.3 .8l1.1 1.2l1.1-.2l1.6-.3l1.3-.5l.2 .4l.2 0l.7-.6l.7-.4l.5-.3l-.3-.7l-.4-.6l.9-.9l-.4-.8l-.5-.8l1-.1l1.2 .1l.9-.4l.4-.9l.6-.3l.5-.9l.6-1l.9-.2l.5-1.1l.5-.9l.6-.8l-.3-1l-.3-.7l-1.3 .6l-1.6 1l-1.5 .7l-.1-.1l-.4 1l-.1 1l-.4 .5l0 .2l-.8 .4l-.9 .7l-.7 1.1l-.5-.7l-.7-1l-.8-.3l-.6 .1l-.1-.1l-1.4 .3l-1.6 0l-.7 .3l-.1-1.2l-.3-1l-1.2-.4l-1.1-.8l.4 .6l.4 .8l.4 .9l.6 1.1l.5 1.2l.4 1.4zM133.2 292.7l-1.1 0l-1.1-.3l-.6 0l-1-.8l-.9-1.2l-.8 0l-1.3-.2l-1.4-1l-.4-.1l-.8-.2l-1.4-1.3l-1.2-.1l-1.3 .2l-1.5-.2l-1.1 0l-.1 1.3l.3 1.4l.3 1.3l.1 1l-.2 1l-.5 1.1l.4 .9l.7 1.8l.9 1.1l.6 .2l1.9 .4l1.4 .5l.4-.6l1.3 .6l1.4 .1l.5-.6l.6-.6l.7-.9l1.1-1.1l1.6-.3l1.2-.1l.5-.9l.5-1l.9-.7l-.3-.5zM133.9 364.4l.9-.3l1.3-.2l.1-.5l.1-.7l.2-.9l-.5-1.1l-.9-.8l0 .3l-.6 1.1l-.4 1.2l-.2 1zM139 366.5l.1 .7l.1 .8l.7 .6l1.4-.1l.9-1l-.5-.7l-.9-.3l-1.1-.3l-.4-.9l-.9-.5l-.8-.3l-.5 .7l-.5 .7l1.2 .4zM142.5 370.7l.7 .4l.9 .1l.5 .5l.8-.3l.5-.4l.6 .6l.5 .7l.8 .7l.5-.4l.2-1l.5 .6l.8 .5l.9-1.3l.6-1.1l-.1-1.1l.2-.8l-.9 .5l-1 .6l-.8 .5l-.3 .7l-.1-.9l-.2-.9l-.5 .4l-.9 0l-.4 .3l-.4 .2l-.9-.7l-.4-.8l-.6-.5l-.4-.7l-.4 .4l-.3 1.7z"/>
<path fill="#42249C" stroke="#42249C" stroke-width="0.35" d="M139.4 372.3l-.4-.3l.4 .2l.9 .2l1.2 .3l.4-.8l.5-1.1l-.7-.7l-1.5-.9l-1.1 .5l-.7 1l-.4 1.1l.4 .4l.6-.1l.3 .3zM126 372l0-.8l-.1-.3l-.4-.3l-.5 .4l-.7 .3l-.8 .7l1 .2l.7 .8l.4 1l.3-.9zM128.2 372.9l-.1-.8l-.1-.8l-1.2 .2l-.7 .5l.5 .7l.6 .7zM134.7 371.6l-.3 .9l-.2 .8l.7 .2l.8 0l.7 0l0-.8l0-.9l-.8-.1zM130.9 376.4l1-1l-.3-.5l-.2-.9l-.1-.1l-.3 0l-.8-.6l-.9-.4l-.7 .4l-.2 1.1l0 1l.7-.5l1-.2l.2 1.4zM115.8 374.6l.6-.9l-.3-.6l0-.8l-.2 .1l-.5 1l-.5 .9l.1 .3l.4 .1zM147.7 374.8l-.7-.7l-.4-.3l-.2 1.1l-.4 1.1l.8 0l1.3 .3l.4 .4l.8-.1l.6-.3l.2-1.1l-.1-1.1l-.7 .4l-.7 .1z"/>
<path fill="#F0EAF0" stroke="#F0EAF0" stroke-width="0.35" d="M171.8 439.3l-1.5-.2l.3 .7l.4 .4l0 .1l-.6 .7l-.2 1l.6 .2l.8 .6l.6 1.2l.6 .3l1.1 .1l1.4 .4l1.2 .4l.1 0l-.1 1.1l0 1.3l1 1.3l.8 .1l1.1 .1l-.2-.6l1.2 .7l.8 .4l.1-.1l-.1-1.2l-.4-1.3l-.4-1.2l-.2-.1l.5-1.2l.7-1.3l-.4-.3l0-1l.7-.8l.6-.8l-.1-.6l-.4 .2l-.7-.2l.5-.2l-1.1-.2l-.4 .2l-.7 0l-.5 0l.3-.9l.3-1l0-.5l-.6 .7l-.9 .3l-.3-1l-.4-.5l-.4-.6l-.5 .2l-.7-1.3l-.8 .5l0 .1l-.3 .2l-.9 .2l-.3 .7l-.5 .5l0 .6l.1 .5l-1 .6z"/>
<path fill="#EAE4F0" stroke="#EAE4F0" stroke-width="0.35" d="M173 433.1l-.7 1.3l-1.1 .5l.4 .6l-.7 .3l-.7 .3l-.9-.1l-.3 .7l-.6 .7l-.9 .2l-1 .2l.5 1.2l.3 1.3l.4 .2l.8 0l.2-.3l.5 .1l-.2-1.6l.5-.2l.6-.5l.8-.3l.6 .4l.8-.4l.6-.6l-.3-1.1l.5-.6l.4-.7l-.1-1l-.1-.9zM182.3 436.5l-.4-.3l-1.3 .2l-1 .2l-.2 .7l0 .4l.6 0l1 .2l.5-.2l.4-.6zM183.4 438.8l-.3-.3l-.1-.1l-.1-.4l-.1-.6l-.3 .9l-.3 .8z"/>
<path fill="#F0E4F0" stroke="#F0E4F0" stroke-width="0.35" d="M172.8 437.1l-.6 .6l-.7 .3l-.7-.5l-.8 .3l-.5 .6l-.6 .2l.1 1.5l-.4 0l-.2 .2l-.7 0l-.4-.1l-.2 .7l.2 1l.4 .7l1 .1l.9 .6l.7 .3l.2-.7l0-.9l-.2 0l.2-1.1l.6-.5l0-.2l-.7-.9l1.5 .1l.2-.5l1-.7l-.1-1.1l.4-.4l.3-.8l1-.1l.4-.2l-.1-.2l.7-.3l.7 1.3l.5-.3l.7 1l.4 1.1l.9-.2l.6-.7l.2-.6l0-.5l-.6-.2l-.6 0l0-1.1l-1 0l-.6-.6l-1.2 .2l-.7-.3l-.5-.2l-.4 .5l-.4 .2l-.2-.1l-.4 .8l-.7 .5zM155.7 446.1l-.3 1.1l-.2 .9l-.1 .6l.1 .8l.1 1.1l1.3-.3l.9 .3l.8 .3l1.6 .6l.6-.1l-.8-1.2l-.6-.8l.3-.7l0-.8l-1.5-.5l-1.4-.5zM180.1 439.6l1.3 0l.5-.2l.4-.3l.2-.8l-.3-.3l-.7-.4l-.5 .2l-1-.2l-.5 0l-.4 1l-.3 1l.5 0z"/>
<path fill="#EADEF0" stroke="#EADEF0" stroke-width="0.35" d="M176.1 433.1l-1 .1l-.9-.5l-1 .2l.2 .8l0 1l.3 .1l.4-.2l.4-.5l.6 .2l.7 .3l1.1-.2l.5 .6l1 0l0 1.1l.7 .1l.5 .1l.5-1.1l.6-1l-.1-.4l-1-.5l-.7 .5l-1.2-.3zM183.2 438.6l-.3-.5l-.1-.6l.1-.2l-.7-.9l-.5 .6l-.3 .7l.7 .4l.4 .3l.3-.7l0 .5l.1 .3zM161.7 440.3l-.5 1.1l-.3 1l-.2 1.1l-.1 1.1l.9 .1l1.3 .1l1.6 .6l1-.9l.6-1.1l-.1-1.2l-.4-1.2l.9-.3l.8 .3l.1-.7l-.2-1.3l-.5-1.2l-1.1 .1l-.8 .3l-.5 1.2l-1 .7z"/>
<path fill="#EAE4F6" stroke="#EAE4F6" stroke-width="0.35" d="M164.7 434l.2 1l.2 .9l.2 .8l.7-.3l.9-.7l.4 .2l.4 .8l.2 1l.6-.3l.6-.7l.2-.6l1 .1l.7-.3l.8-.4l-.4-.5l1.1-.7l.6-1.3l-.7 .9l-1 .3l-1.3-.3l.9-.4l.7-.6l.5-1.2l-.9-.3l-.7-.4l-.8 .7l-.7 .6l-1 .4l-.2-1l-.5-1.1l-.8 .7l-.5 1l-.4 1l-.4 .8zM144.2 452.5l1.1 0l.8-.7l1.3 0l.8-.4l.7-.7l.3-1.1l-.6-.4l-.3-.9l-.6-1.9l-.5-1.1l-.5-.6l-1-.3l-1-.2l.3 .9l.6 1.2l.1 1l-.1 .8l-.1 1.1l.2 1.4l-.8 1zM150.9 449.2l.3 .5l.8 .9l1 .7l1.3 .2l1.1-1l-.1-1.1l-.1-.8l.1-.6l.2-.8l.3-1l-.8-.7l-.7 0l-1 .1l-.6 .3l-.6 1l-.6 .9l-.4 .8zM143.8 453.2l-1.3-.7l-.6 0l-1.2-1.1l-1.6-1.4l-.6-.7l-.7-1.4l-.8 .2l-.7 1.2l-1 .6l-1.8-.4l-1.2 .5l-.7 1.2l-1.1 .4l1 .7l1.3 .7l.9 .8l.3 .2l1.3 1l1.3 .5l1-.2l1.3 1.3l.9 .8l.9-.6l.7-.4l.7 .2l.2-.5l.3-.8l.5-1.1zM115.8 466l.1-.1l.9 .7l1.5 .4l1.2-.9l1.3-.1l1.3 .8l.3 .6l.1 .4l.7 .9l0-1.1l.4-1.2l.4-1.2l.5-1.4l-.4-.9l-1.1-1.4l-.8-.8l-.4-.5l-.5-1.3l1.2 .3l.8-.3l.6-.6l1.8 .6l2.1 .2l1.4-1.1l1.3-.6l.9 .1l.7 .2l-.8-1.3l-.8-.7l-.9-.5l-1.2-1.5l-.4-.4l-.5 1.7l-1.3 .3l-1.7-.3l-1.2 0l-1.1 .3l-.9 .7l-.8 .8l-1.3 0l.6 .9l.4 .4l-.5 .7l-.5 1l-.4 1.5l-.7 1.5l-1 1.1l-.9 .9zM195 444.1l-.9-.6l-1.4 .3l-1.5-.1l0 1l0 .7l0 .6l-.6 .5l-1 .1l-1.3 0l.6 .7l.4 .7l.6 1l.6 1.1l-.8 .7l-.9 .8l-.5 .9l-.2 1.2l.5 .1l.5-.1l1 .8l.6 1.1l.4 .1l1.4 .6l1.2 1.1l.6 .7l.6-.8l.7-.7l.9-.3l1-.1l1.1-.1l1.1 .2l1.1-.2l.6-1l.6-1.3l-.5-.4l-.1-.7l-.5-1.1l-.2 0l-.9-.7l-.6-1l-.7-1.8l-.5-1.2l-.4-.9l.2-.8l.9-.7l1-1.1l.9-.9l-1.1 .4l-1.4 .1l-2-.4l-.8 .1l-.3-.7l0 1.1z"/>
<path fill="#E4DEF0" stroke="#E4DEF0" stroke-width="0.35" d="M179.6 436.8l1-.3l1.4-.2l-.7-.4l-.3-.7l-.3-1.2l-.6 1l-.5 1.3zM163 433.3l-.3 1.4l-.3 1.4l.5 .3l.5 .2l.7 .8l.6 .7l.1 .2l1-.4l1.2 0l.9-.2l-.1-1l-.4-.9l-.5-.2l-.9 .7l-.7 .3l-.1-.7l-.2-.9l-.2-.9l-1-.7zM150 446.5l1.1 0l1.1-.3l1.1-.5l1.1-.1l.9 .3l.8 .8l1.2 .6l1.6 .5l.3-1l.1-1.2l-.8-.8l-.1-.8l-.3-1.4l-.8-1.2l-1.2 0l-1 0l-1-1.3l-.6-.7l-.1 .1l-.8-.3l-1.4-.3l-.2 1.3l-.5 .7l-.9 .1l-.8 .2l-.4 .8l.3 1.5l.2 2l.2 .3zM207.6 441.6l-1.1-.1l-.6 0l-1.1-.1l-1.7 .2l-.8 .9l-.7 .3l.4 1.2l.6 .7l1.1 .9l.4 1.4l0 .3l-.4 1.4l-1 .6l-1.2 .9l-.7 1.4l.6 1.2l0 .7l.6 .4l.4-.4l1.5-.3l1.1-.5l.8-1l1.2-.8l.3-1.1l.3-.8l.2-.6l.2-.6l-.2-1l-.1-1.4l0-1.5l-.1-1.3z"/>
<path fill="#F0EAF6" stroke="#F0EAF6" stroke-width="0.35" d="M180 445.8l.3 .2l.4 1.1l.4 1.2l.1 1.2l-.1 .7l-.1 .5l.1 .7l1 .3l1.3 0l1.5-.4l1.2 .5l-.3 .5l-.4 1.4l-.3 1l0 .9l.3 .9l-.9 1.2l-.7 1.1l-.9 .1l-.7-.8l-.9-1.1l-.9 .6l-.7 1l-.3 1.1l.4 .1l.9 .8l1 .8l1.1 .2l-.3 .6l-.3 .7l1.4 1.3l.6 .6l1.4 1.2l1.1-.8l.4-1.7l.6-1.5l.8-.8l.8-.7l1-.4l1.3-.2l.9-.6l.7-.5l.6-.3l.6-.4l-.6-.7l-1.2-1.2l-1.4-.6l-.5-.1l-.6-1l-.9-.9l-.6 .1l-.4-.1l.4-1.4l.9-1.1l1.1-.9l-.5-1.1l-.6-1.1l-.4-.6l-.6-.8l1.3 .1l.9-.2l.5-.5l.1-.6l0-.7l0-.9l-1-1.1l-.3-1.1l-.6 .2l-.6-.7l-1.2-.8l-1.4 .3l-1.5-.1l-1.5-.8l-1 0l.1 .6l-.7 .8l-.6 .8l-.1 1.2l.4 .2l-.7 1.2l-.5 1.2zM121.1 458.7l.6 1.4l.3 .6l.8 .8l1.1 1.4l.5 1l-.4 1.3l-.5 1.2l-.4 1.1l0 1l1.3 1.1l1.1 .1l.9 .4l1.4 .1l1 0l.2-.7l.7-.5l1.5 .4l1.1-.6l1 .2l1.2 1.5l.5 .5l.5-1l1.3-.7l1.5-.6l1.1-.7l.8-.6l.5-.6l.5-1l.7-.8l.8 .1l-.3-.9l-.1-.4l-.1-.7l-.1-1.3l1.1 .1l.6 0l.2-.6l.1-1.6l.1-1.6l-.6-.9l-.5-.4l-.9-1l-.1 .3l-.1 .3l-.7-.1l-.6 .4l-.8 .6l-.9-.8l-1.4-1.2l-1 .1l-1.3-.4l-1.2-1.1l-.4-.2l-.8-.8l-1.3-.7l-.9-.6l-1-.7l-.8-.7l-.6-.2l-.8 .2l-.1 .1l.5 1.6l.1 1.6l.3 .3l1.2 1.4l.9 .5l.8 .6l.8 1.3l-.7-.2l-1-.1l-1.3 .9l-1.5 1l-2.2-.5l-1.5-.4l-.6 .7l-.9 .1z"/>
<path fill="#1E007E" stroke="#1E007E" stroke-width="0.35" d="M144.3 319.1l-.3 .4l-.5-.1l-.8-2.1l.1-1.3l.3-1.4l.5-1.4l.8-1.1l-.1-.7l-.1-.3l-1.4 .5l-1.7-.7l-.8-.4l-.8 .1l-1.2-.4l-1.1 .3l-1.2-.2l-.9-1.2l-.5-.8l-.9-.5l.5 1.7l.2 1.6l-.2 1.4l-.1 1.4l.3 1.3l.3 .9l.1 .6l-.4 .8l-.4 1.4l-.2 1.8l0 1.5l.1 1l.1 .7l.2 1l1.1 .2l.8-.7l1.4 .5l1.3 1.1l1.1 .2l-.5 .7l-.4 .9l-.3 1.2l-.2 1.3l0 1.3l-1-.1l-.5 .4l-.8 .6l-1.7 0l-1.4 .6l-.8 1.2l-.7 .7l-.8 .4l.8 .8l.6 .7l.7 1.2l.5 1.2l.5 .7l.9 .5l.9-.3l.7-.3l.5-.2l-.6 1.1l-.6 1.6l-.7 1.4l-1.1 .6l.4 .9l.6 .9l.9 .1l.8 0l1.1 .7l1.2-.2l.4-1.3l.3-.9l.8-.4l.7-.5l.7-.7l.8-.5l.1-1.2l0-.7l-.3-.9l1.4 .2l.9-.2l1.3 .2l1.1-.4l.1-1.4l.1-1.3l-.9-1l-.8-.5l-1.2-.3l-1.1-.9l-.3-.3l-1.2-.6l-1.5-1.2l1-.1l.8-1l1.1-1.2l1.8-.7l1.5-.6l1-.2l.1-1l-.1-1.1l.4-.8l.4-.9l-.5-.9l-.8-1.6l-.2-1.3l-.3-.8l-.8 .5l-.9-.4zM118 331.8l.1 1.2l.1 1.6l.1 1.7l-.2 1.5l-.4 1.4l-.2 1.4l.1 1.3l-.9 .9l-.8 .5l.3 1.1l.4 1.1l.3 1.2l-.1 1.4l0 1.5l.2 1.3l1.6 0l1.5-.2l1.1-.4l1.3-.1l.4 0l1 .5l1.8 .5l1.4 0l.7 .6l.8 .7l.9-.9l.3-.9l.2-.7l.8-.3l.2-1.2l.2-1.2l.2-.9l.1-.9l0-.8l.1-.9l-.7-.4l-.4-.4l.5-1l.6-.9l.7-.7l.7-.7l-.7-1l-.9-1l-.9-.4l-1.4-.3l-.8-.7l-.3-.1l-1.3-.8l-1.2-1.1l-1-.6l-1.1-1.2l-.9-1.3l-1.4-.4l-1 .5l-.8 .3l-.7 0zM150.5 344.8l-.5 .7l-1-.7l-.7 .1l-1.3 .3l-1.8-.5l-1.1-.1l-.1 .8l.1 1l.1 1.1l.7 1l.2 .6l.6 1l1.3 .6l-.1 .4l.1 .5l.6 .5l.6 1.3l.6 1.3l.7-.6l1.3-.1l1.9 .6l1.2 .2l.7 .6l.8 .8l-.3-1.6l-.1-1.3l-.3-.9l-.6-.8l.5-1.2l1.2-1l1.2 .3l.8 .2l.5-.3l.7-1l1.1-.7l1-.8l.7-.7l.5-.5l0-.5l-.1-.3l.3-.7l.4-.6l.6-.9l.7-1.3l.7-1.4l-1.5-.4l-1.1-.4l-1-.8l-1-1.3l-.6-.5l-.6 .4l-1.1 .3l-1 .5l-1 .3l-.5 .6l-.4 .6l-.3 .7l-.5 .3l-.6 1.2l-.8 1.1l-1 .9l-.8 .9z"/>
<path fill="#2A0C8A" stroke="#2A0C8A" stroke-width="0.35" d="M133.7 293.3l-.8 .8l-.5 1l-.5 .8l-1.4 .1l-1.5 .3l-1.1 1.1l-.7 1l-.6 .5l-.5 .7l.3 .7l.3 1.4l.2 1.8l-.3 1.4l-.2 1l.1 .9l.5 1.1l.2 .9l-.2 .9l-.2 1.5l.7-.8l1.2-.1l1.3-.1l1.2-.8l1-1.2l.5-1.2l0-.1l.1-.1l.4-1l1 .1l1.6 .3l1.1-.9l1-1.1l1-.6l1.1-.5l1.3-.3l1.1-.5l-.9-1.3l-.9-.8l-1-.3l-1.1-1.3l-.4-.9l-1-1.2l-1.6-1.2l-.6-.2l-.6-.6zM114 352.6l-.8-.5l-1-.8l-1-.9l.1 1l.3 .4l.8 .6l.5 .6l.5-.2zM131.1 356.7l-.7 0l-1.5 .3l-.8 .6l-.6 .7l-.3 .9l-.7 .3l-.6 .3l-.8 .4l-.9 .8l.9 .5l1 .8l.6 1.3l.3-.6l.1-.9l.4-1l.1 0l1.6-.7l1.6-1l1.2-.6l.2-.5l.9 .2l.8-.1l1-.3l-.4-1l-.3-.9l-.4-.7l-.6-.2l-.5-.4l-.6 .6l-.5 .6zM135.9 360.7l.5 1.1l1.2 .4l.6 .4l.4 .7l.8 .4l.1-.8l.1-1.1l-.5-.3l-.5-.3l.1-1.2l.2-1.4l-.6-.4l-.6-.7l-.3 .9l-.2 .9l-.5 .9zM171 349.2l-1 .9l-1.2-.2l-1.2 .2l-1.3 .6l-1.1 .9l-.8 .7l-1.4-.7l-1.3-.3l-1.1 .9l-1.2 .8l-.7 .7l-.8 .7l-1.1 .8l-.1 .1l.5 1l.8 1.1l.7 1l0 .9l0 1.5l.4 1.4l.4 1.1l-.7 1.1l.9 .1l.9 .3l1.2 .4l.8 .2l.7 0l.4-1l.1-1.4l.1-1.5l.3-1.5l.7 .1l1 .3l1.5 0l1.3-.6l.7-1.3l.8-1.1l1-.4l.9-.1l.5-.5l-.4-1l-.3-.7l.1-1.3l.5-.9l1.1-.6l-.9-.6l-1.1-1.4zM142.6 364.5l.7 .9l.3 1.5l.3-.9l.3-.8l.5 .6l.6 .6l.2-.8l.2-.8l.3-1l-1.1-.1l-.8-.5l-.1 .5l-.5 .3z"/>
<path fill="#1E0084" stroke="#1E0084" stroke-width="0.35" d="M143.4 319.4l.6 .2l.3-.4l.4 .8l1 .4l.8-.5l-.6-1.1l-.8-1.4l-.3-1.2l0-1.2l-.1-1.6l-.3-1.5l-.9 1.2l-.5 1.4l-.3 1.4l-.1 1.4l.4 1.1zM123.1 317.4l.2 .6l.5 .9l.8 .9l.3 .6l-.2 1l-.2 1.5l.2 1.6l.2 1.1l.3 .8l-.8 1.2l-.4 1.1l-.4 1.1l-.9 .3l-1.5 0l-.1 .4l-.1 .3l1.4 .5l1.1 1.5l1.2 1.1l1.1 .7l1.5 1.3l.9 .5l.4 .4l1.4 .5l1.2 .3l.9 1l.8 1.1l-.7 .6l-.6 .8l-.7 1l-.5 .9l.4 .4l.7 .4l1.2 .2l1.3 .4l1.1-.7l.7-1.5l.7-1.5l.7-1.2l-.8 .2l-.7 .3l-.9 .3l-.8-.4l-.6-.6l-.4-1.1l-.7-1.3l-.6-.7l-.7-.7l.7-.5l.7-.7l.8-1.1l1.5-.6l1.6-.1l.7-.5l.6-.4l1 .1l0-1.3l.1-1.3l.4-1.2l.4-1l.5-.7l-1.2-.2l-1.3-1.1l-1.4-.6l-.7 .6l-1.1 0l-.2-1.1l-.2-.7l0-1l0-1.4l.2-1.8l.5-1.5l.3-.8l0-.5l-.4-.9l-.3-1.3l0-1.4l.2-1.4l-.1-1.6l-.5-1.6l-.6-.8l-.4-.4l-.2 .2l.1 .2l-.6 1.2l-1 1.1l-1.3 .7l-1.3 0l-1.1 .2l-.7 .9l-.7 1l-.9 .7l-.5 .8l-.2 1.2l-.4 1.3zM149.6 329.1l-.4-.5l-.3-.9l-.3-1.4l-.2-1.2l-.1-.8l-.5 1l-.4 .7l.1 1.2l-.1 .9l-.9 .2l-1.3 .6l-1.6 .4l-1.2 .9l-.7 1.2l-.8 .5l-.8 0l1.5 1.3l1.3 .7l.4 .3l1 .9l1.3 .3l.8 .5l.9 1l.4-1.2l.7-.9l.7-.7l.5-1l.1-1.3l-.1-1.4zM139.5 349.1l1 .3l1 .3l.6 .2l.3 1l.3 1l.2 .7l.5 0l.8 .5l.4 .9l.4 .9l.2 0l1-.6l.8-.3l.5 0l.7 .5l.4 1.5l.3 1.2l.4 1.2l.8 .3l.8-.9l.9-.5l1.1 0l.7-.7l.5-.7l.4-.8l-.6-.5l-1.3-.1l-1.8-.6l-1.2 0l-.7 .6l-.7-1.1l-.5-1.3l-.6-.6l0-.4l.1-.4l-1.4-.6l-.7-1l-.2-.7l-.6-.9l-.2-1.5l0-1.3l1.2 .2l1.8 .4l1.2-.3l.7 0l1.1 .6l.5-.7l-.3-1.1l-.3-1.6l-.1-1.2l-.2-.6l-.8-.6l-.8-1.2l-.7-.1l-.4 1l-1.2 .2l-1.2-.1l-1 .2l-1.4-.2l.4 .9l0 .8l-.1 1.1l-.7 .5l-.7 .8l-.8 .5l-.7 .3l-.4 1l-.4 1.3l.3 .5l0 .8zM155.9 337.4l-.9 .5l-.7 .7l-.9 .1l-1.1 0l.9 1l.8 .7l.3 .2l.6-.3l.3-.8l.4-.6l.4-.5l1.1-.3l1.1-.5l1-.4l.6-.4l-.8-.1l-1.4-.6l-.6-.4l-.3 1.5zM167.8 343.9l-.5-.1l-.6-.5l-.7-1.4l-.4-1.1l-.6-.6l-.2 0l-.7 1.4l-.7 1.3l-.6 .8l-.4 .7l-.3 .7l.2 .4l0 .4l.6 1l1.2 .6l.9-.7l1.3 .4l1.4 .7l.5 .2l.8 1.1l1.3 .9l.7-.8l-.8-.3l-.8-1.7l-.2-1.4l-.5-1z"/>
<path fill="#240684" stroke="#240684" stroke-width="0.35" d="M132.8 306.8l.4 .4l.6 .7l.8 .6l.5 .8l1 1.2l1.1 .1l1.1-.3l1.3 .4l.6-.1l.9 .4l1.7 .7l1.4-.6l-.1-.3l-.2-.9l-.2-1.5l.2-1.3l.3-1.1l-.2-1.1l-.5-1.3l-.7-.7l-.2-.2l-.3-.5l-1.1 .5l-1.3 .3l-1 .5l-1.1 .7l-.9 1.1l-1.2 .8l-1.6-.3l-1 0zM118.8 320.9l-.9 .3l-.8 .3l-.7 .6l-1 .5l-1.6 .4l-1.6 .9l-1.2 .6l-.7 .4l-.2 1l-.2 1.1l-.8 1l-.8 .9l-.5 1.2l-.2 1.3l-.2 1.1l-.3 1l-.5 .9l-.7 1.1l-.7 1.3l-.6 1.3l.3 .9l.7 .5l.5 .5l.3 1.1l.5 1.1l.7 .8l.7 .6l1.1 .4l1 .4l.4 1.2l-.1 1.2l0 1.1l.3 .9l.1 .8l.1 .9l.9 .9l1 .7l.8 .5l1-.2l.8-.5l.8 .7l1.1-.1l.8 0l.7 .9l-.8 .9l-.7 1.3l-1 1.4l.7 .5l.8 .4l.8 .7l1.1 .5l0 .8l-.1 .8l.5 .6l1.4-.3l1.9-.2l.6 .2l.9-.7l.8-.4l.6-.3l.6-.3l.4-.9l.6-.8l.8-.6l1.4-.2l.8 0l.5-.6l.5-.5l.5-.7l1 .6l.3 .4l.1 .4l.6-.8l.4-.5l.2-.7l.1-.9l.4 0l.9 0l1 .7l.5 .6l.2 1.1l-.8 .1l.1 1.6l.5 .7l.6 .4l-.2 1.4l-.1 1.1l.5 .4l.5 .3l-.1 1l-.1 .7l.5 .6l.5 .2l.3 .4l.2 .4l.4-.5l.8-.4l.4 .3l.3 0l.8-.5l.6-.3l.1-.5l.7 .5l1.1 .1l.1-.2l.1-.1l.8-1.5l1.1-1l1.3 .2l.9-.7l.7-.1l1.5-.2l1.2-.5l-.1-.5l-.3-.3l-.3-.7l0-1.1l-1.1 0l-1 .5l-.8 .9l-.8-.3l-.7 .1l-.8 .1l-1 .1l-1.1-.2l.3-1.6l.4-1.5l.3-1.3l-.6 .3l-1 .5l-.3-.9l-.4-.9l-.9-.4l-.5-.1l-.3-.7l-.3-.9l-.2-1.1l-.7-.2l-1-.2l-1-.4l-.3-1l-.1-.8l-.2-.5l-1.2 .2l-1.2 .9l-1.1 .9l-.8 .9l-.5 .5l-.9-.4l-1.1 .3l-1.4-.5l-.7 .4l-.2 .7l-.3 .9l-.8 .8l-.9-.6l-.7-.6l-1.3 .1l-1.9-.5l-.9-.6l-.5 0l-1.2 .1l-1.2 .4l-1.4 .3l-1.6-.1l-.3-1.3l.1-1.5l.1-1.4l-.3-1.2l-.4-1l-.3-1.1l-1 0l-1.2-.1l-1-.5l-.4 .3l-1.3 .1l-1.5-.9l-1.1-.3l.8-1.1l.6-1.1l.4-1.2l.3-1.2l.4-1.2l.3-1.2l.5-1.1l.4-.8l1.7 .5l.7-.5l.7-.3l1.6-.2l1.1-.6l.7-.2l.7 0l.7-.3l1.1-.6l.1-.3l.1-.3l1.5 0l.8-.5l.4-1l.4-1.1l.8-1.2l-.2-.8l-.3-1.1l-.1-1.5l.2-1.7l.1-.9l-.3-.7l-.7-.8l-.6-.9l-.1-.8l-1.4 1.4l-1.2 .9l-.9 .1l-.3 .5z"/>
<path fill="#240084" stroke="#240084" stroke-width="0.35" d="M149.5 329l0 1.3l.1 1.3l-.1 1.3l-.4 .9l-.7 .7l-.7 .8l-.4 1.1l-.2 1.6l-.1 1.6l.4-1l.7 .1l.9 1.2l.8 .7l.1 1.1l.2 1.8l.4 1.4l.6-.2l.8-.9l1.1-.9l.8-1.2l.6-1.2l-.3-.2l-.7-.5l-.8-1l1 0l.8-.2l.7-.6l.8-.5l.8-.2l.3-1.6l-.3 .2l-1.2-.6l-1.2-.9l-.9-.1l-1-.6l-.5-1.8l-.3-.9l-1-.9zM116 343.4l.9-.6l.8-.9l-.1-1.3l.2-1.4l.3-1.5l.3-1.5l0-1.6l-.2-1.6l-.2-1.2l-.9 .5l-1.3 .3l-1 .1l-.3 .5l-.9 .2l-1.6-.5l-.4 .9l-.4 1l-.4 1.2l-.3 1.3l-.3 1.2l-.4 1.2l-.6 1.2l-.8 1.1l1 .2l1.6 .9l1.4 .1l.4-.4l1 .4l1.1 .2zM134 344.4l-1.3-.4l-1.3-.3l0 1l0 .9l-.1 .8l-.2 .9l-.2 1.1l-.2 1.2l1.4 .6l1.2-.4l.8 .5l.5-.6l.9-.9l1.1-.9l1.2-1l-1.1-.6l-.8-.1l-.9-.1l-.6-.8zM147.7 358.6l.9-.1l.8-.1l-.4-1.2l-.3-1.2l-.4-1.6l-1-.6l-.7 .3l-.2 1.2l-.5 1.6l-.3 1.6l1.1 .2zM154.5 350.4l-.6 1.2l.7 .8l.3 .9l.2 1.3l.2 1.5l.7-.2l.8-.6l1.2-.8l.8-.7l.8-.8l1.2-.8l1-.8l1.5 .6l1.3 .4l.8-.9l1.3-.8l1.2-.6l1.3 0l1.2-.1l-1.3-.8l-.8-1.1l-.5-.3l-1.3-.6l-1.5-.5l-.9 .7l-1.2-.5l-.6-1.1l-.5 .6l-.8 .7l-1 .7l-1 .7l-.7 1l-.5 .3l-.9-.3l-1.2-.2z"/>
<path fill="#3C1E90" stroke="#3C1E90" stroke-width="0.35" d="M173.2 366.6l.1-1.1l.1-1.2l-.6-.1l-.5 .2l.2 .9zM174.7 370.8l-.6-1l-.5-1l-.2-.8l-.7-.6l-.5-.8l-.3-1.1l-.6-.4l-.6 .9l-.1 1.3l.4 .4l.6 1.1l1 .7l.7 .1l.6 .5zM163.3 365.4l-.7-.1l-.9-.1l-.7 .5l-.4 .8l-.2 1.2l-.2 1.3l-.3 1.2l-.5 1.1l-.5 .9l1.4 .9l1.1 .5l.6 .2l1.3 .3l.7-.5l.5-.5l.2-.8l.4-.8l.6-1l.5-1.1l.2-1.4l-.2-1l-.3-.6l-.3-.4l-.8 .3l-1 .2l1.3-.5l-1-.1zM125.8 368.4l-.5 .6l-.5 .4l.4 .6l.3 .7l.4 .3l0 .3l.2-1.1l.5-.8l0-1.2zM136.5 371.7l-.1-1l-.2-1.1l-.8-.1l-.6-.3l-.4 .4l-.5 .5l-.7-.7l-.2 .4l-.3 1.6l0 .8l.6-.6l.7-.3l.7 .4l.9 .1l.7 0z"/>
<path fill="#421E96" stroke="#421E96" stroke-width="0.35" d="M173.1 366.4l1.2 1.1l1.1 .8l1.2 .5l1.2 0l.7 .1l-.4-.8l-.9-.9l-.6-1l-.2-.7l-.5-1.4l-1 0l-1-.2l-.6 .4l-.2 1.1zM129.3 373l.2-.8l.2-.7l-.7-.3l-.8-.2l-.4 .3l.2 .8l.1 .8l.5 .5z"/>
<path fill="#301290" stroke="#301290" stroke-width="0.35" d="M134.9 358.1l-1.1 .2l-.8 .1l-.9-.2l-.2 .5l.3 .7l.3 1l.9 .8l.6 .5l.3 .4l.4-.9l.5-1l0-1.1zM173.7 361.7l-.3-1.3l.1-1.1l-.4-1.4l-.3-.8l-.3-.8l-.5 .4l-.9 .1l-1 .5l-.7 1.1l-.7 1.4l.1 .8l.2 1.1l.3 1l.6-.6l.7 .1l1.5 .7l1.1 .3l.7 .8l1 .3l1 0l-.4-1.3l-.7-.5zM121.4 363.9l.2 .1l.5-.1l.9 .4l.7 .9l.5 .8l.7-1.1l1-.7l.8-.5l0-.2l-.7-1.5l-1.2-.8l-1.1-.5l-1.2 .2l-1.3 .1l-.8 .2l.2 .9l.4 .8zM153.7 359.8l-.6 .9l-.6 1l-.7 .9l.2 1.1l.1 1.6l1.2 .3l.6-.2l.8 .9l1.3 .8l.7 .7l.4-.5l.5-.8l.6-1l.7-1.1l.7-1.2l-.2-.6l-.4-.8l-.2-1.1l-1.1 .3l-.7 .6l-1.2-.3l-1.5-1zM146.7 363.8l-.5-.3l-.1 .1l-.2 .3l-.4 1.2l-.3 1.1l-.6-.6l-.4-.6l-.3 .8l-.3 .9l-.1 .5l.5 .7l.6 .5l.4-.8l.5-.5l.6 .7l.3-.5l.3-.9l-.1-1.3z"/>
<path fill="#301890" stroke="#301890" stroke-width="0.35" d="M120 360.7l-.8 .2l-1.1 .5l-.8 .8l.3 1.1l.2 1.2l.7-.3l1.6 0l1.4-.3l-.4-1l-.4-.8l-.3-.9z"/>
<path fill="#300C8A" stroke="#300C8A" stroke-width="0.35" d="M126.8 311.3l.1-.2l.1-1.5l.3-.9l-.2-.9l-.5-1l-.2-1l.3-.9l.2-1.4l-.1-1.8l-.3-1.5l-.3-.6l-1.1 0l-1.3-.8l-.5 .2l-.5 .4l-1.5-.7l-1.5-.2l-.9 1.1l-.8 1.1l-.5 1.1l-.3 1.2l-.5 .8l-1 .3l-1.1 .6l-.7 1.3l-1.2 .4l-1.7-.7l-1-.2l-1 .1l-1.3-.7l-.6 .2l.1 1.1l-.3 .7l-.5 .2l-.5 .8l-.6 1.1l-.5 1.6l-.2 1.8l-.1 1.8l.1 1.4l-.1 1l1.3-.6l.6 0l.9 .7l.6 .6l1.1 1l1.6 .7l1.2 .6l1 .7l1.1 0l1.1 .3l1.4 .6l1.2-.2l1.2-.1l.6-.7l.4-.5l.8-.1l1.2-.9l1.3-1.4l.9-1.1l.3-1.3l.2-1.2l.6-.7l.9-.7zM111.9 352l-.7-.7l.1 .2l.6 .5zM135.1 360l.8 .8l.9-.5l.4-.8l.2-1l.3-.9l-.1-1.6l-.3 .4l-.6 .5l-1.2-.1l-1.2 .1l.3 .9l.4 1.1zM115.1 361.1l1.1 .8l1.2 .4l.8-.8l1-.5l.8-.3l.1-.8l0-.8l-1.1-.5l-.8-.7l-.8-.5l-.7-.5l-1.1 1.2l-1.1 .8l0 .9l.3 .6zM153.8 359.8l-.1-.1l-1.3 .6l-1.5 .1l-.6 .1l-.9 .7l.2 .9l.7 .9l1.5-.4l.7-.9l.6-1zM140.7 365.1l.1 .8l0 .6l.9 .4l.4-1.3l.4-1.1l-.5-.3l-.8 .4z"/>
<path fill="#724EB4" stroke="#724EB4" stroke-width="0.35" d="M74.1 277.4l.6 1.1l1.1-.1l.7-.5l-.4 .8l-.9 1.7l-.5 1.1l-.2 0l0 .1l.3 .7l.3 .9l-.3 1.1l-.8 1.4l-.1 1l.9 .1l.8-.5l.3 .3l.3 .2l.5 0l.5-.2l.6-.5l.5-.6l.5-.6l.6-.6l.7-.7l.8-.5l.7-.1l.6 .3l.5 .3l.6 .1l.6-.2l.5-.4l.3-.6l.4-.8l0-.5l0-.6l0-.6l-.2-.6l-.3-.8l-.2-1.1l-.1-1l.1-.9l.1-.7l.1-.7l.2-.6l-.1-.3l-.1-.2l-.9 .1l-.9 .2l-.9 .2l-.7 .3l-.3 .6l0 .7l.2 .2l0-.4l-.5-.7l-.8-.4l-.9 .6l-1.1 1.2l-1.1 1l-1.1 .5l-.9 .1zM55.9 285l.6-.9l1-.2l-.1 .2l0 .4l.1-.3l.4-1.4l-.6-.3l-.7-.3l-.6 2.1l-.3 .9l.1-.2zM116.1 382.1l-1.1-1l-1.4-.2l-1-.3l-1.1-1l-.9-.7l-.4 .1l-1.1-.6l-1.5-.8l-.9-.2l.4 .9l.8 1l1.3 1.1l.8 1.3l.9 .3l1.1 .1l1.3-.3l1.5-.4z"/>
<path fill="#6042AE" stroke="#6042AE" stroke-width="0.35" d="M97 279.9l-1.1 0l-1.3-.1l-.9 .2l-1.2-.1l-.9 .2l-.5 .9l-.1 .5l.3 .8l.6 1.6l.5 .9l.9 1.1l1.5 .1l1.6-.3l.8-.8l.6-1l.4-1.1l-.6-1.2l-.5-1zM128.2 386.8l-.7-1l-.9-.7l-1.2-.3l-1.2 .1l-.1 .1l-.9 1.1l-1 .6l-.6 .7l-.6 0l-.4-.8l-1-.9l-1-.2l-1-.6l-.2 0l.4 1.2l.2 1.1l.3 1.2l-.4 .3l.1 1.4l-.2 1l0 .7l1-.6l1.8 .1l1.4 0l.6-.5l1 .1l1.1 0l1-.7l.7-.6l.7-.5l1.3-.5l.9 .5l.6 1.4l.9 1.2l.9 1l0 .5l2-.2l1.7 0l.2 .7l.2 .5l.7-.1l1.2 .4l1 0l1-.2l1.6-.1l.4-.2l-.9-.7l-.6-.9l-.6-1.3l-1 .6l-1 .6l-.6-1.3l-.9 0l-1-.2l-.7 .1l-.5-1l-.8-1.1l.7-.7l-.5-.8l-.6-.8l-.7 .8l-1.2 .4l-1.4-.1l-.7-.4zM149.4 387l-.3 .6l-.5 .5l1 .5l.6-.4l.8-.4l1.3-.4l1.1 0l.9-1.2l1-1l-.8-.5l-1.1-.1l-.9-.3l-1.1 .8l-.9-.3l-.6-.1l-.5 0l.1 1.2zM140.8 390.5l1 .2l1.5 .5l.8 .5l1.1-.1l1.3 .6l1.2 .7l1 .5l.3 1.2l.7 1.1l.1-1.3l.3-1.4l.1-1.3l-.4-.8l-.6-.6l-.4-.9l-1-.5l-.8-.1l-.7-.6l-.9-.6l-1 .8l-1.5 .8l-1.5 .6z"/>
<path fill="#5A3CA8" stroke="#5A3CA8" stroke-width="0.35" d="M83.5 291.6l.3-.2l.3 .3l.5 .5l.6 .5l.8 .5l1.4 .5l1.8 0l-.8 .4l0 .1l.8 0l.3 .7l.4 1.2l.7-.6l.5 0l.5 .1l.5 1l1.1 1.3l-.1 .7l.8-.1l1 .6l1.2 0l1-.2l.4-.5l.4-.3l.6-.2l.2 .1l1.1-.9l1.2-1.2l1.1-.8l.4-.6l.7 0l1.2 .8l.1-1l.2-1l.2-.8l.1-.7l-.3-.7l-.4-1.1l-.3-1.4l-.7-.6l-.7-.3l-1 .1l-1.1-.4l-.8 .4l-.6 .8l.4 1.3l.1 1.2l0 .9l-.7 1.2l-.9 1.2l-.7-.8l-.6-.8l-.3 .3l0 .6l.2 1.3l0 1.2l-.8-.3l-.4-.8l-.7-1.1l-.9 .1l-.7 .3l-.3 0l0-.1l-.6-.4l-.9-.9l-.1-.1l-1-.6l-.4-.4l-.5-.2l-.3 0l-.9 0l-.9-.7l-.9 .8l-1.1 .3l-.6-.8l-.6-.8l-.4-.6l-.3-.5l-.2-.7l-.3-1l-.6-.8l-.5-.5l-.5-.3l.3 .8l.1 1.2l0 1.3l.1 .9l.4 .6l.5 .6l.3 .3l.3 0zM69.2 301.4l-.3-.1l-.2 .2l-.6 .2l-.9-.1l-.9-.3l-1-.3l-.9 0l-.1 .3l.1 .8l.2 1.1l.2 .4l.3-.2l.1 .4l-.3 1.1l-.4 .9l-.2 .7l0 .7l-.1 1.1l-.3 .9l-.2 .6l0 .5l.9-.4l.8-.2l.8-.1l.7-.2l.7 0l.2-.3l.2-.4l.2-.4l.1-.3l-.1-.1l-.1-.4l-.1-1.1l.3-1.2l.3-1l-.2-.8l-.4-.6l-.1-.2l.4-.3zM65.7 480.5l-.9 .7l-.7 .6l-.9 .5l-1.4 .4l-1.4-.2l-.9-.4l-.9 0l-.7-.2l.4 1.3l1 1.1l1 .5l.7 1l1.1-.1l1.1-.3l.3 .5l.9-.9l.9-.5l1.1-.4l.8-.9l-.1-1.1l-.5-.7zM174.4 370.5l-.8-.7l-.5 0l-.9 0l-.7 .1l.2 1.3l.3 1l.3 .8l0 1l-.1 1.2l-.3 1.4l-.6-.3l-1 0l-1.4 .3l-1.2 1.1l-1.1 .6l-.6 .5l-.3 .9l-.8 .8l-1.4 .7l.1 1l.2 1l.3 .8l.1 .8l-.4 .6l1.2 .3l1.5 0l1.5 .4l1 .9l.6 .4l.2-1.6l.4-1.3l.8-1.1l.6-.9l.5-1.1l.4-1.1l.6-1.1l.9-1.1l1.7-.1l1.4-.3l.3-.8l.1-.9l.2-1.2l.8-1.3l1.1-1l-.3-.2l-1.2 .1l-1.7-.3l-.9-.6zM158.3 386l.4-.2l.2-1.3l.4-1.3l.4-1.3l.6-1l.7-1l.9-1.2l-.6-.2l-1.4 .1l-1.1 .8l-1.3 .6l-1.2 .5l-.5 .9l.2 1l.2 1.2l.2 1.1l.6 .2l.6 .4zM114.2 379.8l.6 .5l.7 .7l.3 .9l.2 1.1l.6 .9l.8 1.1l.2 0l.4-.5l.3-.7l-.3-.9l-.4-.9l-.6-.4l-.4-.9l-1.2-.9zM132.7 386.6l.5 .8l.5 .7l1 .1l.5-.1l.4 .7l.9-.2l1.4 1l-.5 .8l-.5 .7l.4 .7l.2 .6l1.1-.5l1-.6l0-.1l.7-.9l.2-.9l.2 1.2l.2-.1l.7-.7l1.5-.5l1.4-.9l1-.7l.4-1l.3-.9l.3-1.1l.4-1.2l-1-.5l-.8-.7l-.3-1l-.9-.4l-.9 .1l-.8 .4l-.2 1.1l-.6 1l-.7 .9l-.5 1l-.3 1.1l-.3-1.1l-.4-.9l-.6-.7l-.6-.7l-.9-.4l-.3 .1l-.7 .8l-1.5 .7l-.9 1l-.5-.9l-.5-1.1l-.5-.4l-.9-.1l-.2 .2l-.3 .2l-.6 .4l-1.2-1.2l-1.2-.8l-.9-.9l-.8 .5l-.8 .8l-.6 1.3l-.6 1.7l1.2-.1l1.2 .3l1 .7l.6 .9l.5 .4l.8 .4l1.4 .2l1.1-.4z"/>
<path fill="#5430A2" stroke="#5430A2" stroke-width="0.35" d="M94.7 303.9l.2 .4l1.1-.5l1.2-.6l1.1-.7l1-.6l.7-.8l0-1l-.5-1l-.8-1.2l-.2-.1l-.6 .2l-.4 .3l-.5 .5l-1 .2l-1.2-.1l-.1 1.1l.1 .8l-.1 .7l-.1 .9zM163.3 374l-.9-.2l-.6-.2l.5 1.3l.8 .7l.4 .7l-.1 1.1l-.1 1.5l.1 1.3l.1 1.1l1.4-.6l.8-.9l.4-.9l.6-.5l1.2-.6l1.1-1.2l-.9-.6l-.4-.6l-.8-.7l-.9-1.2l-.7-1l-.8 .5l-.6 .5zM115.2 379.7l1.2 1l.6 1l.6 .4l.3 .9l.3 .9l.8-.8l.6-.7l.6-.6l.8-.5l-1.1-.6l-.7-.6l-.7-.3l-.9 0l-.2-.7l-.1-.7l-.2-.5l-.1 1l-.2 1zM149.1 381.5l0 .7l.1 .7l.1 .9l.1 1l.5 0l.5 .1l1 .3l1.1-.8l.7-1.5l.6-1.5l-.2-.5l-1.4 .6l-2 .1z"/>
<path fill="#603CA8" stroke="#603CA8" stroke-width="0.35" d="M85.2 292.1l1.1-.2l.8-.8l1 .7l1 0l.1 0l.6 .2l.3 .4l1 .5l.1 .1l.9 1l.6 .4l.1 .1l.3 .1l1.5-.5l.7 1.1l.5 .8l.8 .4l0-1.3l-.2-1.3l0-.6l.3-.2l.6 .8l.7 .7l.9-1.3l.8-1.2l0-.9l-.1-1.1l-.4-1.4l.7-.7l.7-.3l1 .3l1-.1l.6 .2l.7 .7l.8-.1l.4-.3l-.7-.8l.6 .2l.9 .2l.6-.3l.8-.5l.4-.3l1.3-1.1l1.5-.4l1-.2l.5-.5l.8-.3l.9-.1l.7-.4l.7-.3l.7-.3l-.9-.9l-.8-1.1l-.4 .3l-1.3-.5l-1.2-1l-.5-.6l-.8-1.5l-1-1.1l-.9 .6l-.8 1.5l-.3 .1l-.9 1.5l-1.2 .8l-1 .8l-.6 .8l-.6 .9l-.6 1.1l-.7 .1l-1.4-1.5l-.9-.9l-.9 .1l-.4 1.1l-.6 1l-.8 .9l-1.5 .2l-1.5-.1l-.8-1l-.5-.9l-.7-1.6l-.2-.9l0-.5l-.9 .8l-1.4 0l-.9 .6l-.8 .3l-1.3-.7l.4 1.4l.2 .9l.1 .8l.6 1.4l.6 1.5l-.8 0l-.9 .1l-.5 .2l-.6 .2l-.6-.1l-.8-.4l-.8-.3l.3 1.1l.2 .7l.3 .5l.4 .6l.7 .8zM71.7 298.4l.5-2.1l-.3-1.4l-.3-.4l0-.9l.2-1.6l-.1-.7l-.3 .4l-.1-.1l-.1-1.3l-.1-1l0-.2l.4-.7l-1.2-.5l-1.1-.2l-.6 .4l-.4 .7l-.6 .2l-.6-.4l-.4-.6l-.2 1.1l-.1 1.6l.4 .1l.9-1l.5 .1l-.4 1.9l-.9 2l-.6 .7l-.2 .4l0 .8l.2 .1l.3-.9l0-.2l-.6 1.5l-.8 1.8l-.3 .4l.3-.1l.1 .9l-.4 1.3l-.5 .6l.9 0l1 .2l.9 .4l.9 .2l.5-.2l.3-.2l.2 .1l.9-1.3l.5-.7l.4 .1l.1 .1l-.2-.3l-.2 .1l.4 0zM122.1 381.6l-1.2-.4l-.8 .5l-.6 .6l-.6 .7l-.7 .8l-.3 .7l-.4 .5l1.1 .6l.9 .2l1 .9l.5 .8l.7 0l.6-.7l1-.6l.9-1.2l-1-.8l-.6-1.1zM145.4 387.7l.8 .6l.8 .6l.8 .1l1 .5l-.1-1.3l.4-.5l.4-.6l0-1.3l0-1.2l-.2-1.1l-.7 0l-.9-.2l-.9 .2l-.4 1.2l-.3 1l-.3 .9zM136.1 391.1l.9 .1l.5-.8l.5-.8l-.6-.7l-.8-.4l-1 .2l-.4-.8l-.5 .2l-1 0l-.7 .8l.8 1l.6 1.1l.7-.1zM139.5 391.1l0 .1l.6 1.3l.6 .9l1 .6l.6-.1l.2-.3l.5-.3l-.3-.8l-.7-.8l-.9-.3l-.4-.7l-.2-1.6l-.1 .7l-.4 .6z"/>
<path fill="#4E2AA2" stroke="#4E2AA2" stroke-width="0.35" d="M120.9 381.3l1.2 .4l.5-.5l.5-.7l-.4-.5l-.4-.3l-1.7 0l-1.1-.5l-.2 .4l-.1 .5l.7 .7zM126.9 380.7l.9 1l1.1 .8l1.3 1.2l.6-.4l0-1.7l-.4-1.6l-.6-1.3l-.5 1.1l-.8 .4l-1 0l-.6 .4z"/>
<path fill="#5430A8" stroke="#5430A8" stroke-width="0.35" d="M132.6 383.3l.6 1.1l.5 1l.6-.7l1.1-.7l1-.5l.4-.6l.1-.2l-.2-.8l-.6-.6l-.9-.5l-.7 .1l-1.1 1.2z"/>
<path fill="#4824A2" stroke="#4824A2" stroke-width="0.35" d="M143.8 374.7l-.7-.7l-.8-.4l-1.4 .2l-1.1-.5l-.4-1l-.4-.3l-.6 .1l-.1 1.1l-.2 1l-.4 .8l-.5 .6l-1.1-.4l-1 .2l-.9 .4l-.8 .7l0 .7l0 .8l1.4-.5l.9-.3l1.2 .3l0 .6l.2 .6l1.3 .3l1 .7l.8 .2l1.2 .2l.3-1.1l.4-1l.7-1l.5 1.4l1.2 1.1l.8-.5l-.1-1.1l.2-1.3l-.7-.8l-1.1-.7z"/>
<path fill="#2A0C84" stroke="#2A0C84" stroke-width="0.35" d="M134.1 356.3l.2 .6l1.2 0l1.3 .1l.5-.5l.3-.4l.9-.1l-.1-1.2l-.6-.7l-1-.6l-1-.1l-.4 0l-.1 .9l-.2 .7l-.5 .5z"/>
<path fill="#361290" stroke="#361290" stroke-width="0.35" d="M136.4 361.7l-.3 1l-.1 .7l-.1 .5l1 .2l.6 .2l.7-.5l.5-.6l-.4-.6l-.6-.5zM150.3 362.9l-.7 .5l-.8 .5l-1.4-.2l-.8 .1l-.1 1.3l.2 1.3l-.6 1.2l-.6-.6l-.6 .4l-.4 .9l.5 .9l.4 .3l.6 .4l.4-.1l.4-.4l.8 0l.5-.3l.2 .9l.1 1l.3-.8l.8-.6l1-.7l1.2-.4l1.4 .1l1.2-.3l.9-.7l.7 .1l.6 .4l.2-.3l-.7-.7l-1.2-.9l-.9-.9l-.6 .2l-1.1-.3l-.1-1.6l-.2-1.1z"/>
<path fill="#2A0684" stroke="#2A0684" stroke-width="0.35" d="M153.7 359.9l.6 .5l1.5 1l1.2 .3l.6-.6l1.2-.2l0-1.3l.1-.9l-.4-.8l-.7-.8l-.6-1l-.4-.9l-.9 .7l-.8 0l-.7-.9l-.4 .8l-.5 .7l-.6 .7l0 1.3l.4 .8l.3 .5z"/>
<path fill="#30128A" stroke="#30128A" stroke-width="0.35" d="M165 366.1l.9-.7l.4-.4l.5-.2l1.1 .1l.7-.4l.4-.9l.3-1l-.2-.9l-.2-1.1l-.1-.9l-1.4 .6l-1.6-.1l-1-.2l-.6-.1l-.3 1.5l-.1 1.6l-.2 1.4l-.4 1l.8 .5zM148.9 364l.8-.5l.7-.6l-.7-.8l-.2-.9l-1.4-.2l-1.2 1.1l-.7 1.5l.2 .2l.2 .2l.9-.2zM138.6 363.2l-.5 .5l-.6 .6l.1 .2l.7 .4l.9 .4l.4 1l1.3 .3l0-.7l-.1-.9l-.2-.3l-.3-.4l-.4-.2l-.5-.5zM142.7 364.5l-.3 0l-.4 1.1l-.4 1.3l.5 .7l.7-.2l.4 .2l.4-.3l0-.5l-.3-1.4z"/>
<path fill="#4E309C" stroke="#4E309C" stroke-width="0.35" d="M174.5 370.7l1.1 .9l.8 .6l1.7 .3l1.3-.2l-.5-.3l-1.7-.7l-.6-.6l-.7-.4l-1.2-.9l-1-1.1l-.4-.4l.2 .8l.4 1z"/>
<path fill="#8A72C6" stroke="#8A72C6" stroke-width="0.35" d="M151 406.5l.9 .9l.7 1.4l.4 1l.8 .3l.6-.8l.6-.9l.5-.7l.5-.7l.7-.6l-.9-.4l-.8-.3l-.8 .2l-.5 .4l-.4 .5l-1-.1zM138.3 413.9l0 .6l.2 .8l.5 1.2l.3 1.1l.5-.1l.9-.9l.6-1l.7-.6l1.1 0l1.1-.1l-1.3-.5l-1-.6l-.7-1l-.7-.6l-.8 0l-.7 .7zM116.5 441.1l.6-.6l1.4 .5l-1.2-1l-.5-.1l-.8-.5l-1.1-.6l-.9 .3l-1 .4l-.6 .7l-.7 .6l.5 .1l1 .6l1.6 .1l1.2 0z"/>
<path fill="#8466C0" stroke="#8466C0" stroke-width="0.35" d="M151.1 406.6l1.3 .2l.9 .2l.4-.6l.5-.3l.9-.3l-.2-1l0-1.2l-.2-1.2l-1.2-.6l-1.1-.1l-.5 .9l-.5 .4l-.9-.3l-.1 .8l-.2 .9l-.1 1.1l.5 .5zM139.8 412.2l-.9 .1l-1.2 .3l-1 .8l1.1 .4l.6 .1l.7-.9zM123.6 417.8l.8 .2l.5-.1l1-.2l1.4 .1l1-.4l-.3-1.1l-.5-1l-.3-.9l0-.8l-.1-.2l-1-.1l-1.2-.5l-.9-.2l-1-.7l0 1l-.2 1.1l.1 1.2l.2 1.3zM115.8 423.7l-.9 .3l-.9 1l-1 1.4l-1.3 .8l-1 .6l-.4 .9l-.2 1l.1 .2l.3 0l.6 .3l1.6 1l1.3-.7l.2-.1l.3-1l.4-1.2l.4-1.2l.4-1.3l.4-1.2l-.3-.4zM121.1 437.8l0-1.3l-.3-1.8l-.4-1.3l-.3-.5l-.6-.8l-1.5-.5l-.8-.2l-.2 .2l-.9-.3l0 1.2l-.1 1l0 .9l-.8 .9l-.3 .9l-.5-.7l-1-.3l-.8 .8l-.8 .7l-1.2 0l-1 .6l-.6 .9l-.8-.7l-1.2-.7l-1.2 .9l-1 1.4l-.1 1l0 .9l1.2-.6l1.4-.1l.9 .1l.5-.9l.3-.9l.2 .2l1 1.3l1.2 .9l.4-.2l1.2-1.2l1-.5l.9-.2l1.1 .6l.7 .5l.5 .1l1 .8l.5 .2l.7-.8l.6-.5l.5-.6z"/>
<path fill="#7E60C0" stroke="#7E60C0" stroke-width="0.35" d="M140.2 410.1l-1.3-.5l-.7 .7l-.6 .9l0 .7l.1 .8l1.1-.3l.9-.1l.8-.1l.7 .7l.7 .9l.9 .6l1.3 .5l.6 .1l.3-1l.5-.6l.4-.4l.6-.5l1-.6l.5 0l1.2-.9l.9-1.1l.6-1.2l.6-.9l-.3-.6l-.2-.5l-.7-.5l-1-.8l-1-.7l-.4-.7l-1-.3l-.8 1l-1.2 .4l-1.1 .6l-.5 1.2l-.5 0l-.4-.3l-.6 .2l-.5 .1l0 .8l-1 .4l.1 .9zM132 414.5l-.4-.6l-.7-1l-1.6-.3l-1.4 .2l-.8 .8l0 .9l.3 .8l.5 1l.3 1.2l.5-.1l.8 .1l.6-.6l.7-.6l.6-.8zM110.1 429.7l.3 1.4l0 1.2l0 .9l.3 .9l.9 .5l.8-.7l.6-.8l.2-.7l.4-.9l.5-1.1l-1.3 .7l-1.7-1l-.6-.3zM168.2 397.7l-.7-1l-1.1-.8l-1.3-.4l-.5-.8l-.7-.9l-1.4-.8l-.9-.9l-.8-.7l-.3 .6l-.6 1l-.8 .7l-.9 .5l-.8 .8l-.6 1l-.5 1.1l-1.1 .9l-.5 .8l-.1 .8l.1 .6l-1.4-.1l-1.1-.1l0 .9l.2 .9l1 .1l1.2 .5l.2 1.2l0 1.2l.2 1l.7 .3l.9 .3l.3-.2l1.7 .3l1.2-.7l1-.8l.7 .5l.4 .3l.4-1.1l.6-1.2l.6-1.6l.8-1.6l1.3-1.1l1.5-.6z"/>
<path fill="#7254B4" stroke="#7254B4" stroke-width="0.35" d="M94.6 279.9l1.2 .2l1.1-.1l.1 .6l.5 1.1l.6 1.2l.9-.2l.9 .9l1.3 1.5l.8-.2l.6-1.1l.6-.8l.7-.8l1-.8l1.3-.8l.8-1.5l-1.3-.5l-.8-.2l-1.3-1l-1.4-.6l-1.4-.5l-.7-1.5l-.2-1.2l0-1l-.6-1.5l-.6-1.3l0-.8l0-.9l-.4-1.5l-.5-.8l-.3-.6l-.5-1.6l-.4-1.9l-.9 1.3l-.7 1.5l-.7 .9l-1 .6l-1.1 .7l-1.3 .6l-1 .3l-.4 .6l-.3 .6l-1 .4l.7 1.1l.8 1.4l.4 .6l.7 .8l1 1.6l.3 1.2l.2 1.3l.9 1.7l.9 .7zM120 273.4l-.9-.9l-.4-.6l-.7-1.5l-.6-1l-.8-.8l-1.2-1.3l-.3-.7l-.3-1l-.4 1.9l-.4 1.7l-.6 1.4l-.6 1l-.9 .7l-.9 .4l-.8 .5l-.5 .8l-.3 1l-.2 1l-.3 .9l.9 1l.8 1.5l.5 .7l1.2 .9l1.3 .6l.5-.3l.7 .9l.9 1.1l.9-.7l1.6-.5l2.2 .2l1.3-.2l.5-.5l.6-.1l.8-.4l.8-.9l.7-.7l-.9-1.1l-.7-.2l-.8-.3l-1.2 0l-1.1-.5l-.4-.2l-.8-.7l-1.3-.2l-1.1 .8l-1.7-.6l-1.6-1.1l-.9-.3l1.1 0l1.6 .3l1.4-.2l1-.7l.9-.6l.5-.4zM66.7 287.9l0 .1l-.1 .1l.4 .6l.6 .4l.5-.2l.5-.6l.6-.4l1 .2l1.3 .5l.3-1.1l.3-1.4l-.4-.1l-.4 .3l.1-.9l.4-1.9l.3-.7l0 .5l.2-.7l0 1.1l0 2.3l.8 1.2l1.1-.6l.7-.8l-.1 .5l-.5 1.4l.8-1.2l.5-.4l0 .3l-.9 .4l-.7-.1l.1-1.1l.8-1.4l.4-1.1l-.3-.9l-.3-.6l0-.1l.1 0l.4-1.1l.8-1.7l.5-.8l-.6 .5l-1.1 .1l-.6-1l-.6-1.2l-.3-.9l-.3-.3l-.4-.1l-.5-.5l-.2 .1l-.1 .1l-.1 .8l-.1 1.3l0 .7l-.1 .2l-.3 .3l-.6 .6l-.7 .4l-1 0l-1.1 0l-.9 .4l-.8 .8l-.6 .6l-.2 0l.1-.2l.5 .1l.1 2l-.4 2.8l-.2 1.6l.4-.1l.6-.3l.2 .5zM107.8 379l.1 1.3l.2 1.6l0 1.5l-.4 1.2l-.7 .9l-1 .8l-1 .8l-.8 .9l-.6 1.2l.6 .8l.8 1.2l.6 0l1.3 .5l1.6 .4l1.3 .1l1.4 .2l1.3 .2l1 .7l1.2 .3l.9-1.1l.5-1.5l.6-1.1l.8-.7l.9-.8l-.3-1.2l-.2-1.1l-.4-1.2l-.8-1.1l-.5-.9l-.3-1.1l-1.3-.5l-1.5 .5l-1.2 .2l-1.1-.2l-.8-.2l-.7-1.2l-1.3-1.2zM134.4 408.7l.6 .9l.7 1.5l1-.1l.6-1.4l0-.3l.4-1l.2-1l-.1-.4l.5-.8l.5-.4l.4 .2l.5-.6l.5-.1l.1-.2l.6-.1l.9 .1l.4-.8l-1.1-.6l-.7-.6l-.1 .6l-.1 .6l-.4-.2l-.9-.3l0 .2l-.7 .2l-.7 .4l-.3 .2l-.3 1l-.4 .9l.2 .3l-.5 .6l-.6 .2l.3 .7l-.8 .1zM174 378l-.9 1.1l-.6 1.1l-.5 1.2l-.5 1l-.7 1l-.7 1l-.4 1.4l-.2 1.6l.7 .7l.8 .9l1.4 .7l1.1-1.3l1-.8l.7-.7l.5-1.1l1.3-.5l1.8 .1l1.1-.4l.8-.7l-.4-1.1l-.7-.9l-.4-.7l-.6-.4l-.7-1.1l-.3-1.4l-.6-1.1l-1.4 .3zM149.7 397.3l-.1-.4l-1.1 .4l-.8 .4l-1 .3l-1 .5l-.5 1.4l.2 1.5l.2 1.2l.5-1.4l.9-1.1l1.2-.5l.9-.2l.2-.7l.1-.7z"/>
<path fill="#785ABA" stroke="#785ABA" stroke-width="0.35" d="M145.7 403.8l-1.1 .3l-1.1 .1l.5 .5l.6 .6l1.3-.4l.9-1.1l.8 .1l.5 .4l.7 .3l1 .5l.4 .5l.1-1.1l.1-.9l.2-.8l-.5-1.1l-.4-.9l-.2-.8l-.4-.7l-.9 .2l-1.2 .5l-1 1.1l-.4 1.4l.3 .7l.3 .5zM139.7 405.2l-.6 .6l.3 .8l.5 0l.6-.1l.7 .6l.5-.2l.5-.2l-.2-.9l-.2-.9l-1-.1l-.5 .2l-.1 .1zM137.9 407.2l-.3 1.1l-.4 1l0 .3l-.6 1.4l.4 .4l.6-.2l.7-.9l.7-.6l-.7-.8l.4-1.1l-.5-.3zM132.9 410.7l0 1.1l0 1.1l0 1.2l.5 .4l.4 .1l.2-.9l.9-.3l1.3-.2l-1-.6l-.6-1.4l-.7-1.3l-.5 .4z"/>
<path fill="#7860C0" stroke="#7860C0" stroke-width="0.35" d="M156.3 395.1l-.9 .4l-.5 .7l-.8 .5l-1.4-.3l-1.1 0l-1.2 .3l-.9 .3l0 .3l-.2 .7l-.1 .7l-.2 .6l.4 .8l.2 .8l.4 .8l.6 1.1l.8 .3l.5-.4l.6-.9l-.2-.8l0-.9l1.2 .1l1.3 0l-.1-.5l0-.8l.6-.8l1.1-1l.5-1.1l.7-1l.8-.7l.9-.6l.8-.7l.6-1.3l-.1 0l-.7 .9l-.8 .5l-1 .4l-.9 .7zM144.7 405.2l-.6-.5l-.5-.5l-.7-.3l-.8 .3l-.4 .7l.2 .9l.2 .9l.5 .3l.5 .1l.5-1.3zM138.2 409l.7 .7l1.5 .5l0-1.1l-.1-1l-1.2-.6l-.5 .3zM137.7 411.1l-.6 .2l-.4-.4l-1 0l-1 .9l.8 1.2l1.3 .5l1-.9l-.1-.7z"/>
<path fill="#6648B4" stroke="#6648B4" stroke-width="0.35" d="M164.4 384.8l-.2-.9l-.3-.9l-.2-1.1l-.1-1.1l0-1.1l-.1-1.3l-1 .2l-.7 .1l-.8 1.1l-.8 1l-.6 1l-.4 1.3l-.3 1.4l-.3 1.3l.8 .7l.9 .4l.6 .6l.3 .9l1.1 .4l.9 .6l.6 .4l-.3-1.4l0-1.4l.2-1.3zM148.6 388.1l.1 1.4l.5 .9l.6 .7l1.4 0l.7-.1l.6 .2l.8-.3l0-.4l-.5-.7l.3-1.1l.4-1.2l-.1-.2l-1.1 0l-1.4 .4l-.8 .4l-.5 .4l-.9-.5zM144.3 402.9l1 .9l1.3 0l1 .3l.4 .7l1 .7l.5-.7l-1-.5l-.6-.4l-.9-.2l-.6 0l-.5-.6l-.3-.8l-.2-1.1l-.1-1.3l.5-1.4l1.1-.4l1-.4l.9-.5l1.2-.3l-.2-.6l-.1-.7l-.6-1.2l-.4-1.1l-1-.5l-1.1-.7l-1.3-.5l-1.1 0l-.8-.5l-1.5-.4l-1.1-.3l-.1 .1l0 .2l.4 .8l1 .4l.6 .8l.3 .8l.9 .5l.8 .4l-.1 1.6l-.1 1.7l0 1.6l0 1.5l0 1.2zM131.7 398l.2 1.1l.4 .8l.8 .8l.7-.1l.4 1.1l.3 1l.5 .9l1-.6l1.1-.3l1.4 0l-.4-.4l-.3-.6l-.6-.7l-.7-.8l-.5-.9l-.9-.1l-.2-1l-.4-.9l-.4-.7l-1.6 .5l-.7 .5z"/>
<path fill="#6C4EB4" stroke="#6C4EB4" stroke-width="0.35" d="M60.5 291.1l.2 .2l.4-.5l.6-1l.7-.6l.7-.1l.5-.3l.4-1l.3-1.1l.1-.3l-.5 .4l-.8 .2l-.4-.6l.4-1.3l1-1.5l.9-1.4l.1-.9l-.6 .4l-.8 0l-.9-.1l-.8 .2l-.5 .7l-.4 1.4l-.2 .7l-.1-.3l-.1-.1l-.4 .8l-.8 1.3l-1.2 1l-1.1 1l-.7 1.3l.5 .5l1 .2l1 .3l.8 .6l.4 .3zM60.2 292.8l-.4 .4l-.5 .1l-.5-.4l-.1-1l.1-1.1l-.2-.6l-.8-.2l-.8-.5l-1.1-.3l-1 .4l-1 .8l-1.2 .8l-1.2 .5l-1.1 .5l-.9 .6l.2 .9l.8 .1l1.1-.6l.7 .2l.2 1.4l.3 1.3l.2 .6l.1 .1l-.2 .1l-.2 .2l.1 .5l.3 .9l.9 .5l.8 .3l.6 .1l.3 .1l.3 .3l.5-1l.3-.3l.2 .5l.1 .7l.2 .4l.4-.2l.7-.3l.4-.9l.9-1.8l.9-2.4l.1-1.7l-.4-.2l-.2 .3zM118 388.6l-.8 .7l-.7 .7l-.5 1.3l-.6 1.4l-.9 1l-1.1 .3l.1 .9l.5 1.2l.4 1.3l.2 1.1l.4 1.2l1 .4l.9-.2l.6 .5l1.3 .4l1.3 .7l.6 .6l.6 .6l.7 .5l.6 .8l.3 1l.5 .8l.5 1.2l0 1.4l-.2 .9l.3-.1l.9-.7l1.1-.4l1.2-.5l.9-.7l.3-.8l.3-.9l.2-1l.7-.5l1-.9l1.5 0l.1 .9l-.1 .8l.8 .7l.6 .3l.3 .6l-1 .2l.5 .5l.6 .6l-.4 .5l-.4 .6l-.4 .2l-1.1-.7l-.2 .9l-.1 1.2l-1 .2l-.8-.5l-.7 0l-.7 .2l-.4 1.1l-.3 1.2l-.4 1.2l.1 .2l.8-.8l1.5-.2l1.5 .3l.5-1l.3-1.3l.7 0l.6 .1l.9-.8l.4 .9l.5 1.1l1-.9l-.6-1.5l-.7-.9l.8-.1l.7-.1l-.3-.8l.7-.2l.5-.6l-.3-.4l.3-.8l.4-.9l.3-.2l.7-.5l.8-.1l0-.2l-.2-.2l-1-.3l-.9-.1l-.3 .5l-.2 .7l-.7 .5l0-.1l-.2-.8l-.1-.8l-.5 .2l-.5-.9l-.2-.9l-.4-1.1l-.8 .1l-.8-.8l-.4-.8l-.2-1l-.5-.9l-.6-.7l-.5-.6l-.5-.7l-.9-.4l-1.1 .1l-.1-1l0-1.4l-1.4 .7l-1 1l-.9 .9l-.9 .6l-.9 .9l-1.2-.1l-1.4-.6l-.5-.3l.1-1.3l-.2-1.3l-.5-.9l-.5-.5l-.3 .2l0-.7l.1-.9l.1-.8zM149.8 391l.3 .9l-.2 1.2l.8 .8l1.2 .4l1.2 .7l1 .7l.9-.1l.2 .3l.4-.4l.7-.3l.9-.9l1-.7l1-.4l.9-.6l.7-1.1l.7 .7l.8 .8l1.2 .7l.9 .8l.3-1.1l-.1-1.1l-.4-1.2l-.4-1.4l-.6-.4l-.9-.6l-1-.4l-.7 .7l-.7 .4l-.9 0l-.3 .4l-1.4 0l-1.6-.3l-1.4 0l-1 1.1l-.1 .2l-.8 .3l-.6-.2l-.6 .1zM142.9 404l-.2-1.1l-.2-.9l-1.2 0l-1.2-.1l.3 1.2l.6 .6l1.1 .6z"/>
<path fill="#6C48B4" stroke="#6C48B4" stroke-width="0.35" d="M118.1 391.5l.5 .5l.5 .9l.2 1.3l0 1.4l.5 .3l1.4 .6l1.2 .1l.9-.9l1-.6l.8-.9l1.1-1l1.3-.6l-.3-1.3l-.7-.8l-.6-.6l-.2 .3l-1.2 .6l-1.2-.1l-.9 .2l-.8 .4l-1.9-.2zM132.3 402.8l-1.7-.1l-1 .9l-.7 .5l-.3 1l-.3 .9l-.3 .9l-.9 .6l-1.3 .5l-1.2 .6l1.1 .6l.9 .4l.8 0l.7 .5l.7-.2l.7 0l.8 .5l1.1-.2l.1-1.1l.2-1l1 .7l.5-.2l.4-.7l.4-.5l-1-1l.9-.3l-.3-.6l-.6-.4l-.8-.6l.1-.9zM70 484.2l-.4-.6l-.4-.1l-1.2-.2l-.9-.2l-.7 .9l-1.1 .4l-.9 .5l-1 .9l.3 .7l.1 .9l.7 .8l1 .7l.5 .7l.7 .1l1-.2l1.4-.1l.7-.9l.2-1.2l0-1.6zM155.2 385.1l-1 1.1l-.9 1.2l.1 .1l-.4 1.2l-.3 1.1l.6 .9l1-1.1l1.4 0l1.6 .2l1.4 .1l.4-.4l.9 0l.6-.4l.7-.7l-.4-1l-.5-.6l-.9-.4l-.9-.7l-.3 .2l-.7-.7l-.6-.4l-.6-.2l-.5 .6zM129.6 395.1l.4 .7l.6 .6l.6 .8l.5 .9l.1-.4l.8-.5l1.5-.5l.3-.4l-.4-.4l-.7-.5l-1-.8l-1.2-.2l-.6 .6l-.5 .1zM135.8 405l.7-.5l.6-1.2l1.7 .3l.2 .2l.8 .3l.4 .2l.1-.6l.1-.6l-.2-1.2l-1.2 .5l-1.3 .3l-1.3-.1l-1 .6l.2 .9l.1 .8z"/>
<path fill="#7854BA" stroke="#7854BA" stroke-width="0.35" d="M149.9 397l.6-.2l1.2-.3l1.5 .1l1.4 .1l.6-.8l-.2-.4l-.9 .1l-1-.7l-1.2-.8l-1.1-.3l-.8-.8l-.3 1.5l-.1 1.3zM138.6 407.9l.5-.3l.3-1.1l-.2-.7l-.5-.3l-.5 .5l-.4 .9l0 .5l.4 .2z"/>
<path fill="#5436A8" stroke="#5436A8" stroke-width="0.35" d="M106.2 287.9l1-.6l.7-.7l-.6 .5l-.9 .5l-.8 .2zM103.9 288.6l.3 1.3l.4 1.2l.3 .8l1-.7l1 .2l1 0l.3 .1l.6 .1l1.3 .7l.6 .7l.3 .4l.2 .7l1.4 .3l.9 .2l.8 .2l1.3 .1l1.7-.3l.5-1.1l.3-.9l-.2-1.1l-.3-1.3l-.3-1.4l.1-1.4l-.3 .8l-.5 .6l-1.2 0l-1.4 .5l-1.2 .1l-1.1-.3l-.9-.6l-.9 0l-1.3 .3l-1.5-.1l-1.2-.2l-.9-.3l-.4 .3zM78 295.1l-.1-.1l-.4 .3l-.5-.4l-.2-.6l.1 .2l-.6 .6l-.2 .4l-.1-.5l-.5 .9l.1 .3l.4 .3l.5 .1l.2-.5l.4-.7l.5-.4zM86.6 298.3l.7 .2l1.6 .4l1.1 .3l1 .1l1.1-.5l1.1-.2l.1-.8l-1.1-1.2l-.6-1.1l-.5-.1l-.5 0l-.6 .5l-.4-1.1l-.4-.7l-.7 0l-.4 .1l-1.2 .3l-1 0l-.8-.3l.5 1.1l.7 1.1l.4 1zM75.8 306.2l.7-1.1l.5-.7l0 .5l-.3 1l-.3 0l-.1-.7l0-.5l.5-.7l.7-1.7l.6-2.1l-.3-.8l-.7 .5l-.3-.4l-.3-1.2l-.1-1.5l0-.8l-.2-.2l-.4 .2l-.4 .6l-.5 .8l-.6 .6l-.7 .1l-.5 .5l-.5 1.2l-.2 1l0-.2l-.1-.4l-.1 .7l-.1 1.3l.3 .5l.4 .1l0 1.1l-.2 1.7l-.1 1l.9-.2l.7-.3l.6-.3l.5 .1zM155.2 385.2l.8 .1l.5-.6l-.2-1.2l-.2-1.1l-.3-1l-.6 0l-.9-.2l-.6 .2l-.6 1.5l-.7 1.5l.9 .3l1.1 .1z"/>
<path fill="#7E60BA" stroke="#7E60BA" stroke-width="0.35" d="M37.5 208.8l-.4 .2l-.5 0l.3 .1l.1 .3l.4-.6l.3-.6l0 .1zM54.9 206.1l-.2 .7l0-.2l-.1-.5l-.3 .3l-.4 1.1l-.7 1.2l-1 .8l-1.1 .7l-.9 .9l-.6 .8l-.4 0l-.4-.8l-.6-.7l-.8 .2l-1 .9l-.9 1.1l-.8 1l-.5 1l.1 .8l.7 .1l.6-.4l.4 .3l.3 1l-.1 1l-.6 .6l-.7 1.1l-.5 1.4l.2 .6l.3-.5l0 .1l-.8 1.4l-.6 1.6l.2 .7l.8 .1l1 0l.9 .2l.8 .3l.1 .7l-.6 1.1l.7-1l.5-.8l.3-.2l.3 .7l.4 .6l.6-.2l.8-1l.9-1.2l.8-1.1l.6-.9l.5-.8l.2-.3l0 .6l-.2 1.3l-.1 .6l.2-.8l.8-1.2l1.1-.7l1.1-.2l.8-.7l.5-.9l.2-.6l.2 0l0-.8l.1-1.4l.3-1.1l.5-.9l.6-1.5l.2-1.7l-.2-.5l-.1 .6l.4-.3l.9-1.3l1-.9l.5 .2l0 .2l0-.6l.3-.8l.2-.2l0-.1l0-.6l0-1.5l-.1-1.2l-.8-.1l-1 .1l-.6-1l-.4 .7l.1-.8l.2-.8l0 .1l-.3 .8l-.7 .6l-1.3 .2l-1.3 .4l-1 1zM18.6 224.3l.5-.6l.3-.7l-.4 .5l0 .2l-.2 .2l-.5-.3l0 .5zM75 219.9l-.3 1.5l0-.1l.2-.1l.2 1l.6 1l.9-.1l.7-.4l.1 .7l-.2 .5l-.5 .3l-.8 .1l-.8 .4l-.8 .6l-.8 .5l-.9 0l-.9-.5l-.7-.6l-.6-.4l-.3 .1l-.2 .2l-.3 1.5l-.1 .4l.2-.3l0 .1l-.5 1l-1.1 .9l-.8 .4l-.3 .4l.1 .8l.1 .8l.2 1.3l.2 .8l.5 .1l.4 .2l.3 1l.2 1l.5 .2l.5-.5l-.3 .1l-.6 1.2l-.8 1.4l-1.2 .6l-1.2 .1l-.8 .2l-.1 .4l.3 .1l1-.9l.6 .4l.3 1.2l.2 1.3l.3 1.1l.2 1l.6 .4l.9-.2l.6 0l-.6 1.4l-1.1 1.7l-1.2 1.2l-.7 .8l0 .5l.2 0l.1-.8l-.2-.7l-.4 0l-.7 .6l-.7 .4l0 .7l-.1 1.1l.5 1.1l1.1 .6l1 .3l.2 .6l-.6 .6l-.5 .5l-.5 .4l-.1 .7l.2 .6l.2 0l.9 .4l1.4 .2l1.1 0l.3 .3l-.1 1.4l0 1.9l.4 1.1l.6-.2l.8-.6l.8 0l.9 .7l.9 .7l.6 .3l.4 .4l.3 .7l.2 .7l.2-.1l.2-.5l.5 .3l.8 1.3l.7 1.4l.7 .3l.8-.5l.9-.2l.8 .4l.5 .8l.2 .6l.3 .5l.5 .6l.6 .8l.3 .6l.2 .4l.6 .4l1 .5l.8 .1l1-1.2l1.1-.7l1-.3l.3-.6l.3-.5l1-.4l1.3-.5l1.1-.8l1-.6l.7-.9l.6-1.5l1-1.2l.8-1.2l.4-1l.2-1l.2-.8l.5-.6l-.7-.3l-1-.9l-.8-1.1l-.1-1.1l-.8-1.8l-.8-.8l-.5-.1l-.8-.8l-.5-.5l-.6-.3l-1.3-.9l-.7-.3l-.3-1l-.8-2l-.8-1.1l.9-.4l.4-.7l0-1.3l-.3-1.8l0-1.6l.5-1.2l.6-1.1l.7-1.2l.6-1.3l.9-1.2l1-1l1-.9l.7-.9l.3-.8l.1-.7l.2-.8l.3-1l1.6-.6l1.3-.3l.8-.2l.5-.4l.4-.9l.8-.8l.7-1.1l.7-.8l.9-.4l1.1-1l1.5-1.2l1.6-1l.8-1l.3-.9l.9-.4l1.2-.5l.9-.9l.6-.8l.7-.5l.6-1.1l.9-1.2l1.1-1.1l.6-1l-.4-1l-.1-.9l.3-1l.6-1.1l.9-1l.5-.9l.2-.7l-.1-.6l-1 0l-.7-.1l-.5-.3l-.5-.4l-.7-.5l-.8-.4l-.5-.1l-.4 .1l-.5 .2l-.9 .2l-1.2 0l-1.1-.1l-.8 .2l-.7 .1l-.7 0l-.7 .2l-.5 .4l-.4 .5l-.5 .2l-.6-.2l-.7-.4l-.7-.1l-.8 .3l-.9 .5l-.9 .3l-.6 .3l-.5 .2l-.4 0l-.6-.3l-.8-.5l-.7-.2l-.4 .1l-.2 .5l-.2 .4l-.4 .1l-.6 .1l-.8 .1l-.9 .2l-.9 .1l-.9-.2l-.9-.1l-.8 .3l-.6 .4l-.5 .1l-.2-.5l-.4-.8l-.7-.6l-.8-.2l-.9 0l-.8-.1l-.9-.4l-.8-.3l-.7-.1l-.2 1l.1 .9l.1 .4l0 .2l-.2 .6l-.4 .7l-.3 .1l-.2 0l-.3 .5l-.5 1.2l-.6 1.3l-.5 .8l.4 .4l.6 .6l.4 .5l.3 .3l.2 0l0 .5l-.1 1.2l-.5 .7l-.8 .4l-.8 .1l-.9 .1l-.9 .2l-1 .5l-.8 .7l-.4 .8l.4-.5l.5-1l-.1 .5l-.4 1.5l-.4 .8l-.1 .1l-.1 1.3zM37.2 242.9l-.3 0l-.4 .5l-.4 1.6l-.2 1.2l-.1 0l-.2 .2l-.3 1.5l-.3 1.6l0 .6l.5 0l.3 .8l-.3 1.5l-1 1.1l-.9 .7l-.3 .4l0 .2l0-.2l-.2-.2l-.1 .6l-.2 1l-.4 .6l-.6 .5l-.2 .9l.4-.8l.5-.5l.5-.9l.3-1l.3-.4l.4 0l.5-.7l.5-1l.5-.4l.6-.2l.7-.9l.3-1.3l-.1-.2l-.3 .8l-.2 0l.4-.6l.6-.9l.9-.6l1.2-.2l1.4-.3l1.1-.6l.3-1.2l-.8 .3l-.9 .9l-.4-.5l.2-2l.2-1.6l.3-.8l.4-1.3l.3-1.5l0-.4l.1 .7l.4-.2l.4-1.4l0-.5l-.3 .6l-.1 .2l.4-1.3l.8-1.8l.6-.8l.2-.1l-.2-.7l-.1-1.1l0-.4l-.4-.9l-.1-1l.4-1.2l.1-.5l-.6 .9l-.9 .4l-.3-1.5l.2-2.1l-.7 1.1l-.6 1.1l-.5 .4l-.5-.3l-.6-.4l-.5-.3l-.7-.1l-.9-.1l-.8 0l-.7 .1l-.4 .7l-.4 1.9l-.2 2.3l.6 .9l1.3-.7l1.1-.3l.1 1.2l-.3 1.5l-.1 .3l.2-.3l.4 .7l.3 1.2l.3 .5l-.4 .7l-.9 2.1l-.7 2.3l0 .2l.6-1.4l.3-.6l-.1 .8zM61.8 241.5l-.1-.4l.5-.2l.4-.4l-.1-.4l-.2-.7l0-1l0-.9l-.5-.9l-.5-1.3l-.2-1.3l-.4-.3l-.6 .6l-.8 .3l-.6-.7l-.6-.9l-.5-.3l-.3-.1l.1-1.2l-.3-1.5l-.7 .1l-.7-.2l-.4 .2l-.3 .8l-.2 .6l-.4 0l-.5-.2l-.7 .6l-.6 1.3l-.7 1.2l-.6 .4l-.5 0l-.2 .4l0 .7l.8 .3l.5 .4l.3 .6l.5 .7l.6 .8l.4 1l-.1 .8l-.1 0l.2-.7l.5 .1l.3 1.4l.3 1.5l.6 .4l.7-.2l.5 .3l0 1l-.3 .6l-.1 0l.5-.2l.7 .4l.9 1.2l.8 1l.7 .6l.6 .2l.8 .3l.7 .5l.4 .3l.2-.1l.2-.4l.9-1.2l.7-1.3l.3-.2l.2 .9l.1 .7l.4 0l.8-.7l.2-1.3l0-.7l-.5 0l-1 .1l-1.1-.4l-.7-.9l-.3-1l-.3-.7zM54.1 253.1l.7 0l.7 0l.7-.2l.6-.3l.6-.4l-.1-.4l-.5 .3l-.8-.4l-.8-.8l-.6-.7l-.5-.4l-.1 1.3l.1 1l.2 .5zM75.9 421.4l-.6 .6l-1.3 .5l-1.9 .1l-1.3 .7l-.6 .8l-.8 .2l-.9 .5l-.8 .9l-.9 .6l1.1 1l.3 .3l.5 .9l.7 1l-.3 1l-.3 1.1l.7-.5l1.2 .8l1.1 1.2l.6 .6l1.4 1.2l1.6 .1l1-.7l1 .5l1-.1l.9-.2l1.3-.1l1.5-.3l1.2-.6l1.3-.6l1.4-.4l1.1-.6l.8-.5l.2 .8l.6 1.2l.9 1.3l.4 .8l.1 1.2l.7 .6l.8 .4l.9-.8l1.7-.2l1.5-.3l.5-1.1l.9-.5l1.1-.6l.7-1.1l.3-1.4l.2-1.1l.4-.6l.7-.7l-.3-.3l-.2-.5l-.2-1.2l-.1-1.3l1.4 .1l1.2-.4l.9-1.1l1.3-.2l1.6 .7l.7-.6l.7-.3l1.2 .7l.9-.2l2-.1l2-.2l1-1l1-.1l.1 .8l.4 .5l.6-.9l.6-.9l.7-1.1l.6-1.1l.4-1.3l.5-1.3l-.8-.8l-.5-.7l-.7-1.7l-.7-1.3l-.5-.8l-.9-.9l-1-.6l-.2-.6l-.1-1.6l-.6-1.4l-.8 .1l.1-.3l-.7 .6l-.9 .6l-1.5 .4l-1.5 .7l-.9 1.5l-.1-.6l-.3-1.5l-.8-1.2l-.7-.4l-.5-.7l-.6-1.1l-.6-.2l-1.1-.5l-1.5-.1l-1.2 .3l-1-.3l-.5-1.2l-.3-.7l.4-1.3l.2-1.1l.2-.9l.3-.8l.4-.8l.6-.6l.4-.8l-.6-1l-.6-1.4l-.2-1.2l0-1.4l-.6-1.3l-.9-.8l-.3-.6l-.2-1.2l-.4-1.3l-.4-1l-.4-1l-.5-1.4l-.5 1.6l-.7 1l-1.1 .5l-1.1 .4l-.9 .9l-.7 .9l-.6 .7l-.5 .6l-.8 .3l-1.2 0l-1.1 1l-1 1.2l-1.3 .2l-1.1 0l-.8 .4l-.7 .7l-.4 1l-.6 1l-1.1 .3l1.5 .5l1 1.1l.4 .6l.9-.6l.7-.6l.9-.2l1.4-.3l1.4-1.2l1.6-.7l1.2-.1l.8-.1l1.3 .3l.7 1.7l.6 1.3l.4 .6l.6 1l0 1.2l-.2 .8l-.3 .6l0 .5l.1 1l-.4 1.2l-.3 1.2l-.3 1.2l-.1 1l-.1 .8l-.2 .8l-.2 1.1l-.3 1.3l-.4 1.4l-.4 1.2l-1 .7l-.9 .8l-1.4 .2l-1.3 .1l-.5 .5l-.7 0l-1.2 .2l-1.6 .6l-1.7 .5l-1.2 .8l-.7 1l-1.2 .3l-1.1 .4l-.6 .6zM122.1 181.3l-.7 .5l-.8 1.2l-.9 1.4l-.8 1.1l-.7 .7l-.5 .5l-.2 .6l-.2-1.1l-.1-1l-.1-.5l-.2-.1l-.3-.1l-.8 .3l-.8-.4l-.8-.3l-.5 .1l-.4 .3l-.4 0l-.3 .1l-.6 .7l-.7 1.3l-.5 1.2l-.3 .5l-.1 .4l.5 .8l.8 .6l.7 .1l.3 .5l-.1 1.3l0 1.1l.5 0l.5-.1l.5 .1l.7 .3l.7 .5l.6 .7l.3 1.1l.3 .4l.4 .3l.5 .3l.3 .4l.2 .2l.3-.6l.1-.5l.1-.5l.1-.3l.3 0l.6-.2l.8-1l.4-1.9l.1-1.2l-.3-.4l-.4-.1l-.6-.1l.3-.5l.2-.7l.2-.7l.4-.4l.7-.5l.7-1.3l.7-1l.2 .1l0 .4l0-.6l.3-.9l-.3-.7l-.3-.9l-.2-.8zM90.4 375.5l-1-.7l-1.6-.6l-1 .1l-.9-.7l-.7 .6l-.5 .8l-.7 1l-1 1.1l-.9 1.1l.8 1.5l.8 1.1l.9 .3l1.2 .5l.4 .7l.7 .7l1.3 1.3l.8 1l.6 .8l.9-.6l1.1-.4l1.1-.4l1.2-.2l.9-.8l-.1-1.3l-.1-1.3l-.6-1.2l-1.3-.3l-.8-.6l-.5-1.4l-.6-1.2zM110.6 436.8l1.3-.1l.7-.7l-.2-.6l-.8-.9l-.8-.5l-1.5 .2l-.9 .4l-.2 .4l-.1 .3l-.6 .3l-.3 .6l-.3 .7l1.3 .7l.8 .8l.6-1zM153.7 131.7l.1-.2l.4-.6l.5-1l.8-1l.8-.7l.4-.4l.2-.4l-.3-.3l-.4-.1l-.1-.3l-.5-.4l-.5-.1l-.4 .3l-.6 .3l-.7 .1l-.2 1l-.1-.2l-.4 .3l-.3 .8l.2 .6l.4 .8l.3 .9zM153.2 132.7l-.3-.5l-.3-.8l-.2-1.3l-.1-1.1l-.2-.1l-.1 .3l0 .2l-.2 .2l-.4 .1l-.5 .3l.2 .8l-.2 1.1l-.6 1.1l-.5 1.1l-.3 1.3l-.2 .8l.2 .3l.5 .3l.7 .2l.8 .6l.6 .5l.2-1l0-.4l0-.3l.2-1.2l.4-1.5zM155 134.2l.3 .5l.3 .4l.2 .1l.5-.7l.5-1.1l.4-1l-.9-.3l-.9-.2l-.6 .1l.4 .6l0 .7zM154.5 139.5l.5 .7l.3 .9l1 .7l.7 .4l-.3-.8l-.7-.4l-.7-.8zM148.4 141l-.3-.4l-.6-.3l-.7 0l-.6 .1l-.3-.2l.3-1.2l.4-1.4l.2-.8l-.1-.2l-.2-.4l0-.7l-.5 .8l-.6 .3l-.6 0l-.6 .1l-.5 .6l-.3 .6l-.2 .3l0 .2l.2 .5l.1 .7l-.2 .7l-.4 .8l-1 .4l-.8 .7l-.6 .8l-.3 .5l.4-.1l.1 .7l-.1 1.4l0 1.3l.2 .7l.4 .2l.4 0l.4-.2l.6 .1l.8 .6l.4 1.1l.5 .7l.2 .1l.2-.1l.5 0l.8 0l.9 0l.6 0l.2 .1l-.4 .3l-.2 .7l-.1 .6l-.2 .6l-.5 1.1l-.4 1.5l0 1.3l.6 .6l.4 .3l.2 .5l.1 .5l.4 .4l.3 .3l0-.5l-.1-.5l0-.2l.2-.4l.4-.8l.4-1.1l.4-.4l.5-.4l.3-.7l-.1-.4l-.3 0l.4-.2l.5-1.4l.7-1.9l.6-1.2l.4-.3l.2-.3l.3-.3l.3 0l.3 .1l-.1 .2l0-.2l0-1l0-1.1l-.3-.7l-.2-.2l-.1-.8l.4-1.4l.4-1l.2-.6l-.1-.9l-.1-.9l-.2-.6l-.3 0l-.2-.1l.1-.8l-.5 1l-.4 .6l-.4 .1l-.2 .2l-.2 .2l-.3 .5l-.6 .2l-.9 .1zM134.8 150.2l-.3 .6l-.2 .3l.9 .3l.8 .2l.1 .2l.2-.5l-.7-.5zM141.6 171.9l.6-.2l.7-.4l-.3 .4l-.3 .3l-.8-.3l-.6-.7l.3 .6zM120.1 179.9l.4-.3l.6-.7l.6-.8l.5-.6l.2 0l-.4 .1l-.3-.4l-.3-.7l-.4-1l-.6 .5l-.5 .6l-.4 .4l-.4 .4l-.4 .5l.6 .6l.5 .5l.3 .4l-.1 .4zM124.3 177.2l-.3 .5l-.4 1.1l-.3 .9l-.1 .2l.1 .1l.3 .3l.6 .7l1.1 .7l.9-.3l.7-.7l.5-1l.4-.7l.3-.3l.2 0l-.2-.4l-.2-.8l-.1-.6l.1-.1l.3-.4l.7-1.2l-1 .7l-1 .6l-1 .2l-.7-.3l-.2-.1l.2 .1l.2 .4l0 .3l-.4 .1zM130.4 231l-1.2 0l-1.2 .5l-1.2 .7l-1.9-.1l-1.2-.3l-.6-.1l-1 0l-.6 .6l-1.1 0l.1 1.1l-.4 1.1l-.4 1.1l-.2 1.4l-.2 1.3l-.1 .7l.2 .5l.4 .9l.3 1.6l.1 1.8l.2 1.4l.6 1.2l-.7 1.2l-.7 1.3l-.5 1l-.6 .5l-.8 .3l-.9 .6l-1 1l-.9 .9l-.6 .9l-.2 1.3l-.5 1.4l-1.1 1.2l.3 .6l.4 .9l.5 1.2l1.2 .1l1.3 .1l1.5 .8l.3-.2l1 .3l1.5 .9l1-.2l1.5 .9l.9 .8l.4-.4l1.5 .7l1.4 .4l1.3 .6l1-.1l.8-.3l.6-1l.3-1.6l.2-1.6l.5-1.2l.4-1l.3-1.2l.2-1.5l.1-1.2l.4-.9l.8-.8l.8-.8l.6-1l.4-1.2l-.1-1.5l-.2-1.4l-.2-1.2l0-.8l1.2-.3l1.2-.4l.7-.8l.5-.6l.5-.5l-.1-1l.1-1.2l.2-1.4l.4-1.5l-.2-.8l-.2-1l-.9-.9l-1.1-.4l-.6-.6l-.5-1l-1.3-.1l-1-.3l-.9 0l-1.1 .4l-.9-.7zM179 392.6l.3-1l.4-.9l.7-.6l.9-.2l.9-.5l.6-1.1l.4-1.4l.2-.9l.1-.9l.1-.8l-1.3 .2l-1.1 .1l-.6-.4l-.7 .7l-1.2 .4l-1.7-.2l-1.3 .6l-.6 1.1l-.7 .7l-1 .8l-1.1 1.3l.7 1l.3 1l.1 1.1l.3 1l1.1 .1l.9 .6l1.1 1.3l.8 1.3l.3 1.3l1.2 .6l.8-.7l.4-1l.2-1.3l.2-.7l-.8-.5l-.7-.8z"/>
<path fill="#9072CC" stroke="#9072CC" stroke-width="0.35" d="M166.8 396.1l.7 .8l.6 .8l-1 .8l-1.3 .5l-1.2 .8l-.8 1.3l.8 .2l1 .7l1.3 .7l1.6 .2l.6-.8l.4-.9l1.3-.2l.6 .2l.7 .4l1.5 .3l1-.5l.9-.8l1.4-.3l.8-.4l.7-.5l.8-.5l-1.2-.7l-.4-1.2l-.7-1.4l-1.1-1.2l-.9-.7l-1.2-.1l-1.1 .9l-.9 .2l-.8 0l-1.3-.4l-1 .5l-.6 1.1zM161 412.6l1.1-1l1-.8l.5-.8l.2-.9l-.4-1l-.8-.8l-.7-.7l-.2-1l-.5-.5l-.8 0l-.9 .9l-1.2 .4l-1.4-.3l-.9 .7l-.6 .8l-.6 .9l.1 .6l0 .6l1.1 .5l.7 .4l.6 .7l.4 .9l.9 .1l1.3 .2z"/>
<path fill="#6C48AE" stroke="#6C48AE" stroke-width="0.35" d="M183.6 384.4l.1-.8l0-.9l-.4-1.2l-.1-1.4l.1-1l-.3-.6l-1-.7l-.6-.8l-.4-.8l-.4-1.2l-.5-1.5l-.6-1l-1.1 .9l-.7 1.3l-.3 1.3l-.1 .9l-.3 .8l.5 .9l.3 1.5l.7 1.1l.6 .5l.5 .6l.6 1l.4 1l.6 .4l1.1-.1z"/>
<path fill="#7860BA" stroke="#7860BA" stroke-width="0.35" d="M163.8 385.3l-.3 .9l-.1 1l.1 1.2l.3 1.4l.3 1.3l.3 1.2l.1 1.1l-.2 1l.4 .9l.9 .4l1.3 .5l1.2-.3l.5-1.1l1.1-.4l1.2 .4l.8 0l1-.2l1.1-.9l-.4-1l0-1.2l-.3-1l-.6-.9l-1.5-.7l-.7-.9l-.7-.7l-.6-.4l-1-.9l-1.5-.3l-1.5-.1z"/>
<path fill="#9C7ECC" stroke="#9C7ECC" stroke-width="0.35" d="M169 409.8l.2-.5l-.8-1.2l-.7-1.1l-.3-1.4l-.3-1.4l.7-.7l.7-.6l-1.5-.2l-1.3-.8l-1-.7l-.8-.2l-.7 1.4l-.5 1.3l-.5 1.1l-.3 .9l-.3-.1l.3 1l.6 .7l.8 .8l.5 1l1 .5l1.4 .5l.6-.1l1-.4z"/>
<path fill="#B49CD8" stroke="#B49CD8" stroke-width="0.35" d="M195.4 420.9l.5 .1l.1 1l-.1 1l-.3 .9l-.2 .7l0 .8l1.1 .7l.8 .5l1 .1l1.1-1.2l.8-1.1l.5-1.2l.5-.7l.8-.2l-1.6-.5l-.7-.3l-.8-.5l-1.1-.1l-.6 .2l-1-.1l-.2-1.3l-.1-1.4l-.6-.7l-1-.7l-1.3-.2l-1.5-.3l-1.4 .2l-.2 1.1l-.1 1l-.4 .8l-.4 .8l-.6 1l.8 .4l.6 .3l.8-.6l1-.6l1-.1l1.1-.1zM157.1 420.2l-.7-.3l-.4-.7l-1.5-.9l-1 0l-.5 .5l-.9 .5l-.9 1.2l1.2 .4l.9 .3l1 1.3l.5-.3l.1-.6l.8-.5zM151.9 420.8l-.1 1.6l-.1 1.3l-.4 1.1l-.6 1.1l-1 1.3l0 1l.3 .7l.8 1.1l.7 .6l.7 .4l1.5 0l1-.2l-.2-1l.4-.9l-.6-.9l-.5-.6l-.2-1.3l-.3-1.8l-.4-1.5l-.3-1zM79.2 450.3l1.1 .1l.3-1.3l-1.4-.7z"/>
<path fill="#A896D8" stroke="#A896D8" stroke-width="0.35" d="M199.1 414.4l-.7-.8l-.5-1.2l-.8-1l-1.3-.8l-.7-1.1l-.4-1.1l-1.2 1l-.9 .9l-.3 .9l0 .8l-.6 .5l-1 .6l-.8 1.2l-.1 1l0 .8l.4 .6l1.3-.3l1.4 .4l1.4 .2l1 .7l.6 .7l.4-1.5l.6-1.5l1.2-.6l1-.4zM164.8 418.4l.8 .6l1.3-.3l1.7-.6l.8-.8l-.6-1.1l-.5-.7l-.2-.7l-.2-.8l-.8-.5l-1.2 1.2l-1.2 .4l-.7 .5l.4 .5l.4 .9zM151.3 420.5l.9-1.2l.9-.5l.4-.5l-.5-.4l-.7-1l-.6-1.1l-.2-1l-.5 1.3l-.5 1.5l-.9 .1l-1.4-.3l-.8 .6l-.7 .1l-1.2-.4l-.7 1.3l-.8 .8l-.8 .4l.6 1l.7 1l.3 .7l.7-.3l1.3-.4l1.6 0l.7-.6l.2-.8l.4-.7l.7 .2zM120.9 425.6l.3 1.6l.4 1.3l.4 .5l.7 .6l.8 1.3l-.1 1.3l.4 .6l.5 .3l1.2 1l.9 .6l.7-1.2l1-.7l1.3-.1l.2-1l.2-1l.2-.8l.2-.7l.4-.9l.3-1l.3-1.4l.3-1.6l-1 .5l-.8 .9l-.9 .9l-.8 .3l-.6 .5l-.9 .6l-1.9-1l-1.7 0l-.9-.2zM119 441.1l.6-.7l.5-.5l.4-.6l.5-1.2l-.6 1.2l-.5 .5l-.6 .5l-.8 .7z"/>
<path fill="#AE96D8" stroke="#AE96D8" stroke-width="0.35" d="M164.9 418.8l0-1.4l-.2-1l-.9-.3l-.7-.5l-.9-1.1l-.7-1l-.5-1l-1.1-.1l-1.3-.1l-.9-.2l-.2 1.3l-.1 1.3l0 1.2l-.3 1.2l-.6 1l-.6 1.1l.4 .8l.7 .3l1.1-.8l1.2-.5l.9-.1l.8-.1l.7-.5l1.4 0l1.2 .3zM199.1 414.3l-1.1 .4l-1.1 .7l-.7 1.4l-.4 1.5l0 1l.1 1l.1 .8l1.2 .1l.7-.2l1.2 .2l.7 .5l1.3 .3l1.6 .7l.6 .3l.7 0l.7-.5l.8-.3l.9-.4l-.5-.5l-.7-.5l-.7-.8l-1.1 .1l-.8 .7l-1 .6l-1-.2l-.1-1.2l0-1.5l-.3-1.3l-.4-1.1l-.3-1zM132.5 423.4l-.4 .6l-.8 .3l-.2 1.7l-.3 1.3l-.4 1.2l-.3 .8l-.2 .7l-.2 .8l-.2 .8l-.3 1.1l1.2 1l.8-.3l1.9-.2l1.8-.1l.9-.2l0-.8l0-1.2l.3-1.4l.7-1.1l-.6-.8l-.8-1.1l-.3-.5l-.8-1l-1.3-1z"/>
<path fill="#9C84D2" stroke="#9C84D2" stroke-width="0.35" d="M178.2 405.1l-.1 1.3l-.3 1.2l.7 1.1l.3 1l.3 .9l.3 .8l.2 .9l1 .1l.9 0l1.2 .4l.6 .2l.6 .1l.5-.7l1.3 .6l1 .5l.9 .3l1.5 .3l.9 .3l.7-1.2l1-.6l.6-.4l.1-.9l.2-.9l1-.8l1.2-1.1l.3-1.1l.2-.9l.2-.8l-.8 0l-.9 0l-2 .1l-1.5 0l-.1-1l.1-1.2l-.4-.9l-.4-1.2l0-1.4l-.1-1.2l-.3-1.2l-1.2-.5l-.9 .6l-1.5 .8l-1.5 1.1l-1.2 .9l-.8 .6l0 .1l.6 .7l.8 .7l.5 .9l-.9 .3l-1.2 .9l-1.4 .4l-1.3-.4zM172.9 412.9l-1.2-.2l-.8-.8l-.9-.9l-.5-.6l-.5-.8l-1.3-.1l-.9 .3l-.6 .1l-1.4-.4l-1-.5l-.3 .9l-.5 .7l-1 .9l-1.1 1l.5 1.1l.7 .9l1 1.2l.7 .5l1 .3l-.4-.5l-.4-.4l.8-.4l1.1-.4l1.2-1.2l.7 .6l.2 .8l.2 .6l.5 .7l.6 1l1.4-.4l.6-.9l.9-.3l.1-1l.3-1zM135.4 416.1l.2 1.1l0 1.3l.2 .9l.8 1.1l1.1 1.4l.7 .8l-.7-.1l-.8-.4l-1.5 .6l-1.9 .2l-1.1 .5l.5 .5l1.3 1l.8 1l.3 .5l.8 1.2l.6 .8l1.6-.4l1-.7l.7-1.1l.9-.8l1.2-.8l1-.9l.7-1l.3 .1l.4-.1l.3 .1l-.2-.7l-.6-.9l-.7-1.1l-.9-.9l-.3-1.1l-1.1-.7l-1.2-.1l-.4 .1l-.3-1l-.4-1.1l-.3-.8l0-.6l-.8 1.1l-1 .5l-.8-.1zM81.4 478.5l.2-1.1l.2-1.2l.1-1.1l.2-1.2l-.5-.4l-.5-1l-.5-.7l-.8-.7l-.9-1.5l-.3-1.1l-.5-.6l-.8 .2l-1.2-.1l-1 .4l-.8 1l-1.2 .6l-1.3 .3l-.3 .8l-.3 1l-.2 1.4l.3 1.4l.6 1.1l.5 .5l.8 .8l1.1 1l.5 1l.3-.2l.6-.2l1.1 0l1.3-.1l.6-.7l1 .1z"/>
<path fill="#8A6CC6" stroke="#8A6CC6" stroke-width="0.35" d="M154.9 408.3l-.5 .9l-.6 .8l-.9-.4l-.5-1.4l-1-1.5l-.8-.8l-.8-.9l-.4-.2l-.5 .6l1.1 .9l.7 .5l.2 .4l.3 .6l-.5 .9l-.7 1.2l-.9 1l-1.1 .9l-.5 0l-1 .6l-.6 .6l-.5 .3l-.5 .6l-.3 1l.4 1.1l.1 .9l.4 .9l1.3 .5l.6-.2l.8-.6l1.4 .4l.9-.2l.4-1.4l.5-1.1l.6-.9l.7-.6l0-1.5l-.5-1.2l-.6-.7l1.2 .2l1.2-.3l1-.5l0-.7z"/>
<path fill="#9078CC" stroke="#9078CC" stroke-width="0.35" d="M180.6 395.3l-.2 .5l-.2 1.5l-.6 1.1l-.9 .7l-1 .7l-.9 .5l-1.3 .2l-.8 .6l-.9 .7l-1.3-.2l1.2 1l.9 .4l1.2-.2l1.1 .4l.5 1.2l.8 .8l.9-.3l1.4 .4l1.5-.5l1.2-.8l.8-.3l-.4-1l-.8-.8l-.7-.7l-.3-1.2l-.3-1l-.3-1.2l-.3-1.2zM157.7 412.1l-.4-.9l-.6-.7l-.7-.4l-1.1-.5l-1 .6l-1.2 .2l-1.2-.1l.5 .6l.6 1.2l0 1.5l-.6 .6l-.5 .7l.1 1l.6 1l.8 1l.5 .5l1-.1l1.5 1l.7-1.1l.5-1.1l.3-1.2l0-1.2l.1-1.3zM135.5 416.1l-.7-.8l-.7-.4l-.3-.4l-.3-.1l-.5-.5l-1.1 .5l-.5 1.1l-.7 .7l-.7 .6l-.6 .6l-.7-.1l-.4 0l-1.4 .4l-1.6 0l-.8 .3l-.9-.3l-.1 .2l-.8 .4l-.7 .6l-1.2-.4l-1.4-.5l-.5 1.3l-.5 1.2l-.5 1.1l-.7 1.1l-.6 .9l-.6 .9l.7 .9l1.1 .1l1.8 .6l.7-.3l.6 0l1.2 1.2l.9 0l1.7 .1l1.8 1l.9-.6l.5-.5l.8-.2l.4-.9l.4-1.1l.3-1.5l0-1.6l-.1-1.6l0-1.4l0-1l1.7 .5l1.2-.2l1.9 .1l1.2 .5l-.1-1.3z"/>
<path fill="#6648AE" stroke="#6648AE" stroke-width="0.35" d="M73.2 290.3l.2 .7l.6 .1l.8 0l.8 .2l.4 1.1l.2 1.5l-.1 1.2l0 .4l.9-1.2l.9-2.5l.4-1.7l-.2 0l-.4 .3l0-1.1l.2-1.3l.5-.1l.2 .2l.1-.3l.1-1.1l.3-1.3l.3 .1l0-.1l-.6-.2l-.5 .3l-.5 .6l-.6 .5l-.6 .1l-.5 0l-.3-.1l-.3-.2l.1-.4l-.4 .3l-.7 1.1l-.5 1.3l-.4 .9zM127.5 394.9l1.2-.1l.9 .4l.5 0l.4-.2l.6-.6l1.1 .3l1 .7l.7 .5l.3 .4l-.2 .4l.4 .6l.4 .9l.2 1.1l1 .1l.5 .9l.6 .7l.6 .7l.3 .6l.4 .4l1.2-.5l1-.2l1.1 .1l1.3 0l1.5 .5l.1-1l0-1.2l0-1.5l0-1.6l.1-1.5l.1-1.5l-.6-.4l-.8-.2l-.4-.5l-.5 .3l-.2 .3l-.7 .2l-.4 .1l-1.5 .1l-1 .3l-1-.1l-1.1-.3l-.8 .1l-.1-.6l-.2-.7l-1.6 .1l-2 .1l-.1-.5l-.9-.9l-.9-1.2l-.6-1.5l-1.1-.5l-1.3 .5l-1.2 1l.7 .7l.8 1.2l.1 1.7z"/>
<path fill="#7854B4" stroke="#7854B4" stroke-width="0.35" d="M108.5 378l-1.3-.5l-.7-.2l-.8-.3l-1 0l-.3 1l-.5 .4l-1.3-.3l-1.5 .3l-1.2 .8l-1 .2l-.6 .5l-.6 .5l-.8 .6l-.9 .8l-.6 1.5l.6 1.4l.3 1l.4 .9l.5 1.3l.1 1.2l.4 .6l.8 .8l.6 1.4l.1 1.3l.1 1.2l.7 1.4l.6 1l.5-1l.7-.3l.8-.7l.9-1.1l.9-1.2l.6-1.3l-.7-1.2l-.6-.8l.6-1.2l.8-.9l1-.8l1-.7l.7-.9l.3-1.2l0-1.5l-.1-1.6l-.1-1.3l-.7-.8l-.4-.8l1.3 .4l.4 .2zM106.2 430.3l-1.1-.9l-.8 0l-.8 .4l-1.5-.4l-1.6-.1l-.6 .7l-.5 .6l-.2 1.2l-.2 1.4l-.8 1l-1.1 .5l-.9 .7l-.5 1.1l.2-.2l.6 0l1.2 1.6l1.3 .4l1.3-.4l1.8 .4l.8-.4l.7-.5l.8-1l.9-1.2l1.3 .1l1 .4l.6-.4l.1-.3l.2-.4l1-.4l1.5-.1l-.4-.9l-.1-.9l0-1.1l-.2-1.4l-.1-.2l-.1 .2l-1.4 0l-1.2 .5zM127.3 266.1l.6-.4l.7-.2l-1.3-.6l-1.4-.5l-1.6-.7l-.4 .3l-.9-.7l-1.5-.9l-1 .2l-1.5-.9l-1-.3l-.4 .2l-1.4-.8l-1.3 0l-1.2-.3l.1 1.2l.1 .7l.3 .5l.3 1.1l.3 1.8l.2 1l.4 .6l1.2 1.3l.7 .8l.6 .9l.7 1.5l.4 .6l.9 .9l1.6 .1l.9-1.1l.8-1.2l1.4-.1l.8-1l.6-1.2l.4-1.2l.4-.9zM112.6 407.8l.8-.1l.6 1.5l.2 1.5l.2 .6l.9 .6l1 .9l.4 .7l.7 1.3l.7 1.7l.5 .8l.8 .8l1.5 .5l1.1 .4l.8-.6l.8-.3l.1-.3l-.5-1.3l-.3-1.3l0-1.1l.1-1l.1-1l1 .6l.8 .2l1.2 .5l1 .1l.3-1.2l.4-1.2l.4-1.1l-.8-.5l-.7 0l-.9-.4l-1.1-.6l-.7 .7l-.2 .1l.2-.9l-.1-1.4l-.4-1.2l-.5-.9l-.3-1l-.6-.7l-.7-.5l-.6-.7l-.6-.5l-1.3-.8l-1.3-.4l-.7-.5l-.9 .1l-1.1-.3l.3 1.4l-.5 .7l-.4 .7l-.3 .9l-.3 1.1l-.4 1.2l-.4 1.1z"/>
<path fill="#6C54B4" stroke="#6C54B4" stroke-width="0.35" d="M145.8 403.8l-.7-.2l-.7-.7l.1-.3l-1.1-.5l-1-.1l.2 .9l.2 1.1l.7 .2l1.2 0zM131.7 410.6l-.4 1.3l-.5 1.1l.7 1l.4 .5l1.1-.4l-.1-1.2l0-1.2l.1-1l-.6-.1z"/>
<path fill="#785AC0" stroke="#785AC0" stroke-width="0.35" d="M141.2 407l-.7-.6l-.6 .2l-.5-.2l-.4 1.2l1.2 .6l1-.4z"/>
<path fill="#967ECC" stroke="#967ECC" stroke-width="0.35" d="M169.4 401.1l-.5 1l-.6 .8l-.7 .6l-.6 .6l.4 1.4l.2 1.4l.7 1.2l.8 1.2l-.1 .4l.3 .5l.6-.6l1.3-.1l1.5-.2l.8-.3l.8 .3l1-.1l1.2-.8l1.5-.8l.2-1.2l.1-1.3l-.8-.8l-.5-1.2l-1-.5l-1.3 .3l-.9-.3l-1.1-.9l-1-.4l-.4-.2l-.7-.2zM145.6 417.8l-.4-1l-.1-.9l-.4-1l-.6-.1l-1.2 .1l-1.1 0l-.6 .7l-.7 1l-.9 .9l1.3 .1l1.1 .7l.4 1l.9 1l.8-.4l.8-.9zM136.9 422.3l.9 .4l.8 .1l-.5-.5l-.7-1l-1.1-1.3l-.5-.8l-.1-.8l-1.3-.4l-1.8-.1l-1.3 .2l-1.7-.5l-.1 1.1l.1 1.4l.1 1.7l0 1.6l-.3 1.5l-.4 1.1l-.5 .8l.6-.3l.6-.8l1.1-1l1.2-.4l.4-.7l1.1-.5l1.9-.2z"/>
<path fill="#9072C6" stroke="#9072C6" stroke-width="0.35" d="M138.4 414.1l0-.3l-.8-.2l-1.5-.4l-1.3 .2l-.8 .3l-.3 .9l.4 .4l.6 .4l.7 .8l.4-.5l.8 0l1-.5z"/>
<path fill="#785AB4" stroke="#785AB4" stroke-width="0.35" d="M53 264.6l-.5-.6l-.4-.8l-.5-.6l-.5 .3l-.4 .8l-.5 .9l-.7 .5l-.9-.1l-.9 0l-.7 .5l-.5 .8l-.2 .8l-.3 .1l-.4-.3l-.3 .2l-.3 .7l-.5 .7l.4 .2l.1 .6l0 .8l1.1-.4l1.2-.7l.8-1.2l.4-1.2l0-.6l-.2-.1l.1 .3l.2 0l.4-.4l.5-.6l.7-.4l.8-.3l.8-.7l.6-.8l.3-.1l.2 .7zM59.7 260.8l.6 0l.5 .4l.7 .8l.7 .7l.3 .2l.1-.3l.3-.2l.6 .1l.8 .2l.7-.2l.5-.7l.5-.6l.9 0l.6 .6l.3 .9l.1 1.1l.2 1l.8 .8l1.1 .3l1 0l.4 0l-.4 .5l-.5 .6l.1 .6l.7 .8l.8 .6l1-.3l.7-.5l-.1 1.2l-.9 2.6l-.9 1.5l-.2 .1l.3 0l.2 .6l-.1 .4l.5 .4l.3 .1l.3 .3l.4 1l.5 1.2l.6-.2l.9-.1l1.1-.5l1-.9l1.1-1.2l1-.6l.9 .2l.5 .7l.1 .3l-.2-.2l-.1-.6l.3-.6l.7-.3l.8-.2l.9-.1l.9-.2l.5-.3l.4-.5l.4-.6l.4-.7l-.8-.1l-1-.4l-.6-.5l-.3-.4l-.3-.6l-.5-.8l-.5-.6l-.3-.4l-.2-.6l-.5-.7l-.9-.5l-.9 .3l-.8 .4l-.6-.4l-.7-1.4l-.8-1.3l-.5-.2l-.3 .4l-.1 0l-.2-.6l-.4-.6l-.4-.3l-.6-.3l-.9-.8l-.9-.8l-.8 .1l-.8 .6l-.6 .1l-.3-1.2l0-1.9l.1-1.3l-.4-.2l-1.2 .2l-1.4-.3l-.9-.4l.3-.2l.2 .4l.1 .8l-.4 1l-.7 .7l-.9 .9l-1.1 .4l-.9 .4l-.4 .3l0-.3l-.3-.4l-.4-.1l-.5 .4l-.6 .6zM113.8 260.6l-.5-1.2l-.3-.9l-.3-.6l-2.1 0l-1.6 .2l-.8-.2l-.8-.9l-1.1-.4l-1.2 .3l-1.1 .3l-1.3 0l-.8 .6l-1.5-.1l-1.8-.4l-.4 .6l-.2 .8l-.2 1l-.5 1l-.8 1.1l.4 1.9l.5 1.5l.3 .7l.4 .8l.5 1.4l0 1l.1 .8l.6 1.3l.5 1.5l.1 1l.1 1.2l.7 1.4l1.4 .5l1.4 .6l1.3 1.1l.8 .2l1.4 .5l.3-.2l.7-1.5l1-.6l.3-1l.2-1l.3-1l.5-.7l.8-.4l.9-.5l.8-.6l.7-1l.5-1.4l.4-1.6l.5-1.9l-.2-1.8l-.4-1.2l-.2-.5l-.1-.6zM105 391.1l-.7 1.4l-1 1.2l-.9 1.1l-.8 .7l-.7 .4l-.5 1.1l-1 1l-.3 .9l-.3 .8l-.2 .9l-.2 1.2l-.4 1.3l.3 .7l.6 1.2l.9 .3l1.3-.3l1.4 .1l1.1 .5l.7 .2l.6 1l.5 .8l.6 .4l.9 1.3l.2 1.4l.2 .7l.8-1.5l1.5-.7l1.6-.4l.9-.6l.6-.7l.4-1l.4-1.2l.3-1.1l.3-1l.4-.8l.3-.6l.5-.7l-.3-1.5l-.3-1.2l-.2-1.1l-.3-1.2l-.5-1.2l-.2-.8l.7-.2l.7-.3l-1.3-.4l-1-.6l-1.4-.3l-1.3-.1l-1.3-.2l-1.6-.4l-1.3-.5zM110 430l.4-1l.2-1.1l1-.6l1.3-.8l1.1-1.3l.8-1l1-.3l-.1-.6l-1 0l-1 1l-2.1 .2l-1.9 .1l-1 .2l-1.2-.8l-.7 .5l-.8 .5l-1.6-.7l-1.3 .3l-.9 1l-1.2 .4l-1.4-.1l.1 1.3l.2 1.3l.2 .5l.3 .3l1.6 .2l1.4 .4l.8-.4l.9 .1l1.1 .8l1.2 0l1.3-.5zM107.1 436.9l.2-.8l.2-.5l-1-.4l-1.4-.1l-.9 1.3l-.8 .9l.7 1l.7 .9l1-1.4z"/>
<path fill="#8466BA" stroke="#8466BA" stroke-width="0.35" d="M103.5 437.3l-.7 .6l-1 .3l-1.8-.4l-1.2 .5l-1.4-.7l1.1 1.1l1-.2l1.9 .9l.4 .7l.1 .7l.4 1.5l.5 1.2l.3 .5l.6-.2l.3-.8l.4-.9l.4-1.2l0-.9l.1-.9l-.7-.8z"/>
<path fill="#7E66C0" stroke="#7E66C0" stroke-width="0.35" d="M114.9 436.3l.3-1l.9-.8l0-1l.1-.9l0-1.2l-1.1-.9l-1-.1l-.1 .1l-.5 1l-.4 .9l-.2 .7l-.6 .7l-.8 .7l.8 1l.2 .5l.9-.7l1 .4zM70 484.4l.9-.7l1.4-1l1-1.5l.8-1.3l.8-.6l-.6-1l-1.1-1l-.8-.9l-.5-.6l-.6-1.1l-.3-1.5l-.1 1.1l-.6 1.1l-.9 .8l-1.1 .7l-1 .3l-.6 .3l-.4 .7l-.2 1.3l-.5 1.1l1 .9l.4 .7l.1 1.1l.9 .1l1.2 .2l.4 .2z"/>
<path fill="#9678CC" stroke="#9678CC" stroke-width="0.35" d="M119.4 432.2l.6 .8l.4 .5l.3 1.3l.3 1.8l.1 1.3l.1-.3l.6-1.4l.7-1.4l.6-1.3l.4-1.3l0-1.3l-.6-1.2l-.7-.7l-.4-.3l-.3-.8l-.5 .9l-.4 1.2l-.5 1.2z"/>
<path fill="#9078C6" stroke="#9078C6" stroke-width="0.35" d="M109 443.2l.4-.8l.8-.6l1.4-.9l-1.3-.9l-1-1.3l-.3-.2l-.3 .9l-.5 1l0 .7l.2 1z"/>
<path fill="#846CC6" stroke="#846CC6" stroke-width="0.35" d="M116.2 431.4l.8 .3l.2-.2l.8 .2l1.5 .5l.7-.9l.5-1.3l.4-1.1l.4-.9l-.3-1.1l-.2-1.2l-.7-.1l-.7 .3l-1.8-.5l-1-.1l-.8-.9l-.4 1.2l-.4 1.3l-.4 1.3l-.4 1.2l-.4 1.1l1 0z"/>
<path fill="#9C84CC" stroke="#9C84CC" stroke-width="0.35" d="M185.3 393.7l-1.1 .9l-1.1 .8l-1.2 0l-1 .1l-.2-.3l-.1 .2l.3 1.2l.2 1.3l.4 1.1l.3 1.1l.2 1.2l.8-.6l1.2-.9l1.5-1.1l1.5-.8l.8-.6l1.3 .5l.7-.2l-.9-1.2l-1-.6l-1.1-.6l-.4-1.1l-.6-1.1zM113.4 441.5l-1-.7l-.5-.1l-.5 .2l-1.2 .8l-.9 .6l-.4 .7l-.6-1.5l0-1.2l-1-.1l-1.4 0l-1.2 .7l-.4 1.2l-.4 .9l-.4 .8l1.3 .4l1-.2l.6-1l1.3 .1l1.3 .4l.5-.4l.7-.4l1.1-.6l1.4-.6z"/>
<path fill="#A28AD2" stroke="#A28AD2" stroke-width="0.35" d="M191.3 389.8l-1.3 0l-.8 .3l-.3 .5l-.6-.1l-1-.1l-.3 .8l-.6 .9l-.7 1l.6 1l.5 1.1l1 .6l1 .5l.8 1.2l-.6 .1l.2 1.2l.1 1.3l.1 1.4l.4 1.2l.4 1l-.1 1.2l.1 1l1.6-.1l2-.1l.9 0l.7-.8l.5-.7l.5-.7l.5-.8l.6-1.2l.5-1.5l.5-1.4l.5-1.1l.4 .2l.6 .1l.2-1.3l.4-1.2l.4-1.2l.3-1.3l.2-1.3l.1-1.2l-.8 .2l-1.2-.2l-.8-.1l-.8 .4l-1.4-.9l-.7-.9l-.5 .4l-1.4 .4l-1.5 .1zM179.7 412.3l-.2-1l-.3-.8l-.3-.9l-.3-1l-.7-1.1l-1.4 .8l-1.2 .8l-1 .1l-.8-.3l-.9 .3l-1.4 .2l-1.4 .1l-.5 .6l.4 .7l.8 .8l1 1.1l1.1 .2l1.2 .4l.5 1.2l.8 1.2l.9-.8l.9-1.1l1.3-.8z"/>
<path fill="#A890D8" stroke="#A890D8" stroke-width="0.35" d="M212.7 402.2l-.6-1.2l-.4-.8l-.4-.8l-.5-1.1l-.3-1.1l-.4-.7l-1.1-.6l-.8-1.3l-.7-1.2l-1.1-.9l-1.1-.7l-1.2-.2l-1.4-.7l-.8-.6l-.4 0l-.1 1.2l-.1 1.3l-.3 1.2l-.4 1.2l-.4 1.2l-.3 1.2l-.5-.1l-.4-.2l-.5 1.2l-.5 1.5l-.6 1.5l-.6 1.2l-.5 .8l-.5 .6l-.5 .8l-.7 .8l.7 0l-.1 .8l-.3 .9l-.2 1.1l.3 1.1l.7 1.1l1.3 .7l.8 1l.5 1.2l.7 .8l.5 .8l.3 1l.3 1.1l.3 1.3l0 1.4l.1 1.3l1.1 .1l.9-.5l.8-.7l1.1-.1l.7 .7l.7 .5l.5 .6l1-.4l1-.8l.8-1.2l.5-1.5l.3-1.5l.5-1.2l.5-1l.4-1l.1-.9l-.1-1.1l-.2-1.1l0-1.1l.1-1.1l.4-1.2l.4-1.1l.4-1.2l.3-1.2zM121.6 436.9l0-.4l-.6 1.5zM82 461.5l-1.1 .5l-1 .7l-.6 1.4l-.4 1.5l-.4 1.2l-.3 1l-.1 .1l.5 .6l.2 1.1l.8 1.6l.9 .7l.5 .7l.6 1l.4 .4l-.1 1.2l-.2 1.2l-.2 1l-.3 1.1l1.7-.5l1.3-.8l.6-.3l.4 .4l.8 .6l1 .1l0-1.3l.1-1.3l0-1.3l0-1.3l.1-1.3l.2-1.1l-.3-.5l-.5-.5l-.5-1.4l0-1.4l-.2-.9l-1-1.1l-.8-.9l-.5-.3l-.5-.8l-.6-.7l-.5-.5z"/>
<path fill="#BAA8DE" stroke="#BAA8DE" stroke-width="0.35" d="M177.6 418l1 .5l.8 .1l1.2-.2l.8 .5l.6 .7l1.4 .9l.9 .5l.8 .7l.8 .3l1.2-.6l1.5-.1l.5-.9l.5-.8l.3-.9l.1-1l.2-1.1l-.3-.6l0-.7l.1-1.1l-.9-.2l-1.5-.3l-.9-.4l-1-.4l-1.3-.7l-.5 .8l-.6-.1l-.7-.2l-1.1-.4l-.9 0l-1-.1l-1.5 .7l-1.3 .9l-.9 1l-.9 .8l.8 .9l.5 .7l.5 .3zM190.1 427l.8-.5l.7-.7l-.4-.6l-.2-1l0-1.2l-.1-1.4l-.7 .8l-1.1 .4l-1.1 .3l-.8 1.1l-.1 1.7l-.2 1.4l.8-.3l1.1-.2zM125 441.2l1.4-.6l1.1-.4l.7 .6l.6 1.4l0 1.3l.3-.6l.9 .1l.5-1.4l.6-1.3l.5-1.1l.3-.9l-.8-.5l-1.7-1l-1.1-.4l-.9-1l-.9-.8l-.8-.4l-1.3-1.2l-.6-.3l-.4-.6l-.4 1.5l-.8 1.5l-.7 1.7l0 .7l.4 .6l.5 1l.5 .9l.5 .1l.6 .3zM90.4 452.2l-.4 .6l-.6 .8l-.7 1l-.7 1.1l-1.6 0l-1 .1l-.8 .3l.8 .3l1.1 1l.8 .4l.8 .1l1.7 .6l1.4 .4l1.2 1l.3 .1l.6-.6l.2-1.3l.2-1.6l.3-1.5l.3-1.4l.4-1.2l.5-1l.4-.7l.5-.7l.5-.9l-1.2 .6l-1.1-.3l-1.2-.4l-1.3 .1l-.7 1.2l-.3 1.2z"/>
<path fill="#C0AEE4" stroke="#C0AEE4" stroke-width="0.35" d="M160.3 423l.1 .6l1 1.1l.7 .3l1.2 .1l1.1 .9l.5 .1l.4-.3l0-.4l-.2-.6l-.1-1.1l-.4-1.2l-.1-1.2l0-1.3l.4-1.3l-.6-.3l-1.2-.2l-1.4 0l-.8 .5l-.7 .1l-1.3 .2l-1.6 .9l-1.4 1l-.9 .4l1 .6l1.7 .4l1.2 .2zM185.1 421.6l-.2 .8l-.1 .9l1.2 .6l1.2 .4l.8-1l1.1-.4l1.1-.4l.7-.8l.3-.9l-.7 .6l-.7 .5l-1.2-.7l-1.5 0l-1.2 .7zM186.9 427.2l-.5 .3l-.7-.1l0 .8l.1 .6l.3 .6l-.7 0l-.4 .4l-.2 .6l.3 .7l.5 .7l.5 .5l.5 .1l1 .4l1-.2l.4 .7l.3 .7l1-.6l1.2-.7l1.3-.4l.4 1.1l.1 .9l.1 .7l.3 .9l.5 .1l1-.3l.8-.7l.7-.9l.4-.8l.4-.7l-.5-1.3l-.8-1.1l-.6 .4l-.9 .3l-.5-1.5l-.3-1.4l-.1-1.5l-.9-.6l-1.4-.1l-.6 .7l-.8 .4l-1.3-.2l-1.1 .2z"/>
<path fill="#CCBAE4" stroke="#CCBAE4" stroke-width="0.35" d="M146.7 430.4l-.2 .8l-.3 .6l-.5 .5l-.7 .4l-1-1.1l-1.2-.3l-.9 .4l-1.4-.9l-.7-.7l-.3-.8l-1.2-1.2l-1.6 .3l-.6 1.1l-.3 1.4l0 1.1l-.1 .9l.8 1l.8 1.6l.3 .8l.8 .3l1-.4l1-.5l.6-.9l.9-.6l1-.3l.8-.7l1.1-.3l-.6 .6l1.5-.3l1.3 0l1.1 .2l.9-.5l1-1.3l1.7-.3l.7-.3l-.7-.5l-.7-.5l-.8-1.1l-.4-.8l0-.9l-1.8 0l-1.7 .1l-.7 .6l.4 .5l.5 .9zM183.1 430.5l-.2 1l-.5 1l.4 .9l.8-.1l1.2-.3l.5-.5l.3-.7l-.4-.8l-.4-.6l-.3-.2l-.2-.5l-.5 .2zM116.3 444.7l.9 0l1 .7l1 1.4l.6-1.2l.7-1l.7-.6l.1-.8l-.9-1.3l-.7-.4l-.5-.1l-.7 1l-.8 .7l-.6 .8z"/>
<path fill="#D8CCEA" stroke="#D8CCEA" stroke-width="0.35" d="M176.9 431.9l-.1 .1l.6 .6l.9 .9l-.1 .3l.8 .1l.6-.4l.9 .3l.3 1.1l.2 .8l.5-.3l.7-.9l.7-1.2l-.4-.9l-1.1-.3l-1.2 0l.4-.7l.4-.5l.3-.5l-1.6 0l-1.5 .9zM182.8 437.8l.1 .5l.3 .4l1 .3l1.4-.2l.9-.6l.5-.6l.4-.3l-.8-1.5l-.4 .1l-.4 .2l-.8-.2l-.8 .7l-.7 .6z"/>
<path fill="#C6BAE4" stroke="#C6BAE4" stroke-width="0.35" d="M185 436l.8 .2l.4-.2l.5 0l-.3-1.3l-.1-1.2l-.2-1.3l-.5-.5l-.4 .7l-.5 .6l-.1 1.1l-.3 1zM189.3 438.9l.7-.3l.9-.5l.9-.6l.5-1.2l.8-.4l-.8-.2l-.6 .3l-1.6 0l-1.5 .6l-.6 .6l-.5 .1l.4 .6l.7 .3zM121.2 443.2l.9 .3l.2-1l.2-.9l.2-.8l.3-.9l-.5-1.1l-.7-1.1l-.2-.8l-.7 1.5l-.4 1.1l-.4 .7l-.5 .5l-.5 .8l.5 .1l.7 .3zM87.3 470.4l-.2 1.1l-.1 1.3l0 1.4l0 1.3l-.1 1.3l0 1.2l1.1 0l1.2 .1l.6 .3l.3 .5l.7 .4l1.1-.1l.4-.7l.8-.9l.8-1.3l.6-1.4l.4-1.5l.3-1.2l.3-.9l.5-.6l.6-.5l-1.5-.2l-1.4-.6l-.7-.3l-.9 .4l-1.4 .1l-1.7-.5l-1.6-.3l-1.3-.4l.5 1.2l.5 .4z"/>
<path fill="#D2C6EA" stroke="#D2C6EA" stroke-width="0.35" d="M174.4 420l-.5 1l-.6 .7l-.9 .1l-1.1 .6l-1.2 .8l-1.2 .6l-.7 .7l.3 .8l.3 .6l.9-.2l1.4 .5l.6 .7l.1-.1l.7 .4l1.4 1.2l0 .7l1.1 .9l1.1 .8l.7 .3l.4-.7l.5-.9l-.6-1.2l-.8-.7l0-.8l.1-.9l-.6-.7l-.5-.9l-.1-1.2l-.1-1l.1-.9l-.4-.6zM184.5 435.2l.3-1.1l.1-1.2l-1.3 .3l-.8 0l-.7 1.2l-.7 1.1l1.4-.3zM153.4 439.6l.4-.6l-.1-.7l-.4-1l-.7-1.2l-.6-.9l0-1.1l0-1.5l-.3-1.4l-1.7 .3l-1 1.3l-.9 .5l-1.1-.2l-1.2 0l-1.5 .3l-.5 1.1l-.2 1.6l0 1.6l0 1.5l-.3 1l1.3-.5l.8-.9l.8-.7l.9-.5l1.4 .5l1.1 1.5l.8-.1l1.1-.5l1.2 .4zM130.1 442.9l-1-.1l-.2 .5l-.2 .5l-.7 1.2l-.9 .8l-.8 .7l-.4 1l.3 .6l.7 .9l.7 1l.5-.9l.7-.4l.7-.6l.1-.7l0-.9l.1-1.1l.1-1.2zM115.3 445.4l-.7 1l-.5 1l-.3 1.4l-.4 1.4l-.4 .8l.4 1.2l.1 .8l-.1 .7l1 .4l1.1-.7l1-1.2l1.3-.2l1.5 .7l.9 .1l1.2 .4l1.5 .5l1.3-.1l2 1l1.5 .3l.3-1.5l0-1.6l-.5-1.6l-1.3 .2l-1 .6l-1.2-.9l-.9-.6l-1.2-.7l-1.8-1.6l-.7-.3l-.8-1l-1.2-1.2l-1-.1l-.5 .5zM111.2 456.3l-.5 .5l-1.1-.1l-1.4-.4l-1.3 .4l-1.5 .2l-1 .1l-.8-.3l-1.5-1.1l-.9-.2l-1-.1l1.1 1.3l.5 .6l.9 1.3l1.6 1.4l.7 .6l.7 1.4l.8 .9l1 .5l1.4 .8l.6 0l.9 1.2l1.4 1.2l.5-.6l.4-1l.2-1.2l.2-1.1l-.5-1.7l-.2-1.4l-.1-.8l-.6-1.1z"/>
<path fill="#C6BAEA" stroke="#C6BAEA" stroke-width="0.35" d="M185.8 427.5l.6 .1l.6-.3l.2-1.4l.1-1.7l-1.3-.4l-1.1-.5l.1-.8l.1-.9l-.7-.6l-1-.5l-1.2-.9l-.7-.7l-.8-.5l-1.2 .1l-.8-.1l-1-.5l-.9 .5l-.7 .7l-.9 .5l-.8 .5l.3 .6l.4 .5l1.3 .3l.8 .3l1-.1l1.5 0l-.5 1l-.5 1.1l-.6 1.3l1 1l.4 1.1l.8 1l1.2 1l-.1 .6l-.1 .4l1 .3l.8 0l.7-.5l.5-.2l-.3-1.5l-.7-1.1l.7-.4l.9-.1z"/>
<path fill="#C0B4E4" stroke="#C0B4E4" stroke-width="0.35" d="M177.8 418l-1.1-.6l-.6-.6l-.9-1.1l-.8-1.2l-.5-1.2l-1.2-.4l-.3 .8l-.2 .9l-.1 1.1l.4 1.6l.2 1.1l1 .7l.9 .8l1.2-.5l.9-.8zM164.9 423.9l.8-.5l.9 0l.6-.1l.4-1l.9-1l0-1.1l.1-1l0-1.2l-1.7 .6l-1.3 .3l-.7-.6l-.1 .4l-.3 1.2l-.1 1l0 1l.2 1zM187.3 437.2l.2 .2l.5-.2l.6-.6l1.5-.5l1.6 0l.5-.3l.8 .1l.8 .1l-.3-1l-.1-.8l-.1-.9l-.4-1l-1.4 .3l-1.1 .7l-1 .5l-.3-.7l-.4-.6l-1.1 .2l-1-.4l-.6-.1l.3 1.3l0 1.2l.3 1.2z"/>
<path fill="#AE9CD8" stroke="#AE9CD8" stroke-width="0.35" d="M196 421l-.6-.2l-1.5-.3l-1 0l-.9 .1l-1 .3l-.1 .8l0 1.3l.1 1.3l.1 .9l.4 .7l1.4 .1l.9 .6l.2-.7l.4-.6l1.2 .1l-.1-.7l.2-.8l.3-.9l.1-1zM151.6 420.4l-1.1-.2l-.8-.2l-.5 .7l-.1 .8l-.8 .5l-1.7 .2l-1.2 .4l-.7 .2l-.7 0l.4 .9l.4 1.3l.5 1.9l.3 1.1l.8-.6l1.6 0l1.8-.1l1-1.3l.6-1.1l.4-1.1l.1-1.3l.1-1.6z"/>
<path fill="#CCC0EA" stroke="#CCC0EA" stroke-width="0.35" d="M121.2 443.9l-.8 .6l-.7 1l-.6 1.2l.4 .4l1.1 .7l1.8 1.4l.8 .4l1 .8l1.1 .7l.9-.6l1.3-.1l.1-.5l-.6-1l-.7-.9l-.3-.6l.4-.9l.8-.6l.9-.8l.6-1.2l.2-.5l0-1.3l-.7-1.4l-.7-.6l-1 .4l-1.5 .6l-.9-.8l-.6-.3l-.6-.2l-.2 .9l-.3 .9l-.1 1l-.2 .8l-.9-.3zM93.2 459.4l.7 .1l.6-.5l1.5 .2l1.5-.2l.9-.5l1.1 0l.9-.3l1.2 .5l2.1 1.3l1.3 .3l-.7-.4l-1.5-1.4l-.9-1.3l-.4-.6l-1.1-1.2l1.8 .4l.7-.7l.4-.9l.1-1.2l0-1.4l0-1.4l-.8 .1l-.9-1.1l-.5-.5l-1.1-.2l-1.5-.3l-1.2 .2l-.9 .8l-.5 .8l-.5 .7l-.5 .7l-.4 1l-.4 1.2l-.3 1.4l-.3 1.5l-.2 1.5zM105.7 467.3l1.1-.1l1.2-.3l1.2-.3l1.3 .1l1.5 .1l-.2-.3l-1.4-1.2l-.8-1.2l-.6-.1l-1.4-.8l-1-.5l-.7-.8l-.8-1.4l-1.3 .5l-1.3-.1l-.7 .8l-.2 1.7l-.7 1.3l-.9 1.2l-.8 .9l-.9 .7l-.8 1.1l-.1 .8l-1 .8l-.5 .5l-.5 .5l-.3 .9l-.3 1.2l-.4 1.5l-.6 1.5l-.9 1.2l-.7 1l-.5 .7l1.3 0l1.3 .5l1.2 .2l.7 .6l1 1.3l1.2 1l.5-.9l.9-.8l1.1-1.1l.5-1.1l.2-1l.3-.7l.5-.6l.7-.7l.2-.7l.1-1.1l.1-1.7l0-1.6l1-1.3l.4-1.2l.3-.6zM169.3 417.2l-.9 .9l0 1.1l0 1l0 1l-1 1.4l-.6 .7l-.9 0l-1.1 .5l.2 1l.3 .8l.8-.6l1.2 .1l.8-.2l.6-.8l1.2-.8l1.4-.8l1.2-.6l1-.2l.5-.9l.7-.9l-.9-.9l-1-.7l-.2-1.1l-.5-1.6l-.8 .3l-.6 .9zM176.2 427.6l.7 .8l.6 1.1l-.3 .8l-.5 .7l.2 .9l1.3-.5l1.4-.8l1.6-.1l-.4 .4l-.4 .6l-.4 .7l1.2 0l1.3 .4l.5-1.1l.2-1.1l-.9 0l-.8-.2l.1-.4l0-.6l-1.2-1l-.8-1l-.4-1.1l-.9-1.1l.4-1l.4-.8l.4-.7l.3-1l-1.5 .1l-1 .1l-.8-.2l-1.4-.4l-.1 1l.1 1.1l.1 1.2l.5 .8l.6 .8l0 .8zM143.8 440.9l-.3-.6l.2-1.1l0-1.4l-.1-1.6l.2-1.5l.5-1.2l.8-.7l-1.3 .2l-.9 .7l-.9 .4l-.9 .5l-.7 1l-1.1 .5l-1 .5l1.3 .8l.7 .7l.6 .6l.9 1.1l.8 .5z"/>
<path fill="#B4A2DE" stroke="#B4A2DE" stroke-width="0.35" d="M201.4 426.7l.5-.8l.6-.4l.5-.5l.5-1l.6-1.1l-.8 0l-.3-.1l-1.2-.5l-.7 .2l-.5 .7l-.5 1.1l-.8 1.2l-1 1.1l-.9-.1l-.9-.4l-1-.8l-1.1-.1l-.4 .6l-.2 .7l0 1.2l.1 1.1l.3 1l.4 1.2l1-.2l.6-.5l.8 1.1l.4 1.3l.5-1.1l.9-1l1.2-1l.9-1.5zM135.8 432.9l-1 0l-1.7 .1l-1.8 .3l-.9 .2l-1.1-.9l-1.3 0l-1 .9l-.7 1.2l.9 .6l.9 1.1l1.1 .4l1.8 .9l.9 .6l.7-.5l1.4-.3l1.5-.3l1.5 .2l.9-.1l.6-.7l-.9-.4l-.3-.7l-.8-1.6zM82 461.5l.5 .5l.5 .7l.6 .8l.4 .3l.8 .7l.9 1.2l.3 .9l0 1.3l.7-1.2l.9-.8l1-.5l.7-.8l.3-1.6l.3-1.5l.8-.8l1-.3l.8-.6l-1.1-.9l-1.5-.5l-1.6-.6l-.8-.2l-.8-.2l-1.1-1l-.8-.3l-1.4-.2l-1.4-.3l0 1.4l.1 1.4l.2 1.2l-.1 1.1z"/>
<path fill="#DECCF0" stroke="#DECCF0" stroke-width="0.35" d="M183.9 438.9l1.8 .6l1.1-.2l1-.4l.8 0l.7 0l-.6-.7l-.7-.4l-.5-.4l-.2-.2l-.4 .3l-.5 .7l-1 .6z"/>
<path fill="#DED2EA" stroke="#DED2EA" stroke-width="0.35" d="M181.5 435.4l-.5 .2l.5 .5l.7 .5l.6 .7l-.1 .2l.1 .4l.7-.6l.8-.6l.8-.7l-.6-.9l-1.7 0z"/>
<path fill="#C6B4E4" stroke="#C6B4E4" stroke-width="0.35" d="M160.5 423.5l-1 .6l-.9 1l-.5 1.3l-.1 1.3l.7 0l.8-.4l1.3-.2l1.3 .5l.9-.7l.8-.5l.7-.4l-1.1-.9l-1.2-.2l-.7-.3zM146.7 430.4l-.3-1.5l-.7-.9l-.3-1l-.5-1.9l-.5-1.4l-.3-.9l-.4-.1l-.6 1l-1.1 1l-1.2 .7l-.9 .9l-.7 1l-1 .8l1.2 1.1l.3 .9l.3 .5l1.2 .9l1.1 .3l.8-.5l1.1 .6l.8 .9l.7-.4l.6-.5l.2-.7zM183.1 427.2l.8 1.1l.4 1.5l.2 .5l.3 .2l.2-.7l.5-.3l.8 0l-.4-.6l-.1-.7l0-.7l-1-.9l-.9 .1zM86 467.7l.1 .9l1.3 .3l1.6 .3l1.7 .5l1.4-.1l.8-.4l.8 .3l1.3 .5l1.5 .2l1-.8l.1-.8l-.5-.3l-.6-.8l-.6-1.6l-.1-1.4l-.5-.8l-1.2-1.2l-.7-1l-.3-.6l-.4-1l-.3-.1l-.8 .5l-1.1 .3l-.7 .9l-.3 1.5l-.3 1.5l-.7 .8l-1 .4l-.8 .9z"/>
<path fill="#E4D8F0" stroke="#E4D8F0" stroke-width="0.35" d="M175.4 433.3l.1-.5l-.3-.5l-.6-.8l-.1-.4l-1-.5l-.7 0l-.6 1.1l.4 .6l.2 .2l.4 .5l.7-.3l.8 .5zM164.8 438.2l0-.2l-.7-.7l-.7-.8l-.5-.2l-.5-.3l-1.1 .5l-1.3 .7l0 .2l-1.3 .3l-1.3 .3l-.4-.2l-.4-.6l-.8 .8l-.9 .3l-.8 .4l-.7 .7l.4 .5l.6 .7l.7 .9l1 0l1.1 0l.9 1.2l.2 1.4l.1 .8l.8 .8l.8-.5l.7-.6l.1-1l.2-1.1l.4-1l.4-1.1l1.6-.2l.9-.9z"/>
<path fill="#D8CCF0" stroke="#D8CCF0" stroke-width="0.35" d="M170.6 430.1l-.1 1l.7 .4l.9 .3l.2 0l.5-1.1l.5-1l.7-.5l0-.7l-1.4-1.4l-.7-.4l-.1 .1l-.7-.7l-1.4-.5l-1 .1l0 1.1l-.3 .8l-.7 .4l-.9 .5l1.6 .5l1.5 .6zM113 451l-1.3-.5l-1.2 .1l-.9 1.1l-1.1-.1l-.9-.5l-.6 .1l-1.3-.4l-1.6-.6l-.8 0l0 1.4l0 1.3l-.2 1.2l-.4 .8l-.7 .8l1.5 1l.8 .4l1.1-.1l1.4-.3l1.3-.3l1.4 .3l1.1 .3l.6-.6l.5 1.3l.5 1.2l.2 .7l.2 1.3l.4 1.6l-.2 1.2l-.2 1.2l-.4 1l-.5 .6l.1 .4l1.3-.5l1.5 .1l1.2 .1l.1-.6l.4-1.2l.9-.9l1-1.2l.7-1.6l.4-1.4l.5-.9l.5-.7l-.3-.4l-.6-.8l1.2-.1l.8-.8l.9-.7l1.1-.2l1.3 0l1.5 .4l1.4-.4l.2-.4l-1.5-.2l-2-1l-1.3 .1l-1.5-.5l-1.2-.4l-.9-.1l-1.5-.7l-1.4 .1l-1 1.3l-1 .6l-1-.2l0-.8l-.1-.8z"/>
<path fill="#E4DEF6" stroke="#E4DEF6" stroke-width="0.35" d="M166.5 429.7l.3 .3l-1.1 .6l-.9 .3l-1.5-.6l-1.3 0l.3 1l.4 1.2l.3 .9l.7 0l1.1 .7l.6 .1l.4-1.1l.6-1.3l1-1l.4 1.1l.3 .9l.9-.4l.8-.6l.8-.8l0-1l-.7-.5l-1.4-.5l-1.6-.5l-.7 .2zM169.8 433.9l1.5 .3l1.2-.3l.7-1l-.3-.5l-.3-.3l-.3-.5l-.2 .1l-.5 1.2l-.9 .6zM204.2 446.9l-.5-1.3l-1-1l-.7-.6l-.3-1.1l-.4-.1l-.8-.3l-.9 1l-1.1 1l-.8 .7l-.1 .8l.3 .9l.6 1.2l.7 1.8l.6 1.1l.9 .7l.2 0l.7-1.5l1.2-.7l.9-.7l.4-1.4zM150 446.4l-.9-.7l-.3-.5l-.5-.6l-.8 0l-1 .1l.6 .7l.5 1l.6 1.9l.3 1l.6 .4l1-.6l.8 .2l.3-.7l.4-.8l.6-.9l.7-1.1l-1.5 .5z"/>
<path fill="#D2C0EA" stroke="#D2C0EA" stroke-width="0.35" d="M168.3 424.5l-.5 .5l-.9 0l-1 0l-.6 .5l.1 .8l.4 1.1l.4 1.4l.7-.3l.9-.4l.6-.5l.3-.8l.1-1l-.3-.6z"/>
<path fill="#DED2F0" stroke="#DED2F0" stroke-width="0.35" d="M167 430.1l-.4-.5l-.3-.9l-.3-1.2l-.5-1l-.2-.8l-.4 .3l-.5-.1l-.7 .4l-.7 .5l-1 .7l-.2 1.3l-.3 1.3l.5 .3l1.5 0l1.4 .6l.9-.5zM176.1 430.7l-.8 .3l-.9 0l.1 .5l.6 .8l.4 .6l.7-.4l.7-.5l.1-.1l-.2-.9zM143.4 440.1l-.1 .2l.8 1.2l.5 1.3l0 .9l.1 .6l1.2 .3l1.1 .2l.8-.2l.7 .3l.4 .6l-.1-1.9l-.3-1.7l-.6-.1l-.9-.4l-1-1l-.5-.5l-.5-.8l-.7 .7z"/>
<path fill="#D8D2F0" stroke="#D8D2F0" stroke-width="0.35" d="M172.8 430.7l.6-.1l1 .5l1 0l.8-.3l-1.1-.8l-1.1-.9l-.8 .6z"/>
<path fill="#DED8F0" stroke="#DED8F0" stroke-width="0.35" d="M158 427.6l-.7 .4l-.4 .3l-.7 .2l-1.7 0l.3 .4l-.4 .9l.2 .9l-1 .2l-1.4 0l-.6 .3l.3 1.4l0 1.5l0 1.1l.5 .9l.8 1.3l.5 1l.1 .6l.6-.5l.8-.2l.8-.2l.6-.7l.4 .5l.4 .1l1.3-.2l1.4-.4l0-.2l1.3-.6l1-.5l.4-1.4l.3-1.4l-.3-.9l-.4-1.1l-.3-1l-.5-.3l.3-1.2l.2-1.3l-1.3-.5l-1.3 .2l-.7 .4zM178.3 433.9l.2-.5l-1-.9l-.6-.6l-.8 .5l-.6 .4l-.1 .5l.7-.2l1.1 .3zM144.9 439.2l.6 .9l.4 .4l1.1 1l.9 .5l.5 .1l.5-.8l.9-.2l.8-.1l.5-.8l.3-1.3l-1.1 .5l-.7 .1l-1.1-1.5l-1.2-.5l-.9 .4l-.8 .5zM130.7 451.7l1-.5l.7-1.2l1.3-.4l1.6 .4l1-.7l.7-1l.8-.2l.7 1.4l.6 .5l1.5 1.4l1.2 1.2l.6 0l1.4 .7l.7-.9l.6-.9l.7-.9l-.2-1.5l.1-1.3l.1-.9l-.3-1.2l-.6-1.2l-.2-.7l0-.9l-1.1 0l-1 .6l-.9 .9l-1.2 .4l-1.2 0l-1.6-1l-1.4-1l-.7-.4l-1.2-.5l-1.1 .1l-1.2-1l-1-1l-.5 1.1l-.5 1.2l-.4 1.3l-.1 1.4l-.1 1.2l0 1.1l-.1 .9l-.7 .5l-.8 .4l-.5 1.2l.9-.2l.6 .2l.8 .7z"/>
<path fill="#BAA8E4" stroke="#BAA8E4" stroke-width="0.35" d="M158.1 427.7l.1-1.3l.5-1.3l.9-.9l1-.6l-.2-.6l-1.4-.6l-1.2-.2l-1.7-.4l-1.1-.5l-.2 .4l0 .4l-.5 .2l-1-1.2l-.8-.3l-1.2-.4l.9 1l.5 1.1l.3 1.2l.4 1.8l.3 1.6l.3 .8l.6 .7l1.6 0l.7-.2l.5-.3z"/>
<path fill="#F0E4EA" stroke="#F0E4EA" stroke-width="0.35" d="M167 443.8l.8 .6l.7 .7l.4-.4l.6-.3l.6-.5l.8-.1l.7 0l.4-.5l-.8-1.1l-.8-.2l-.2 1.5l-.7-.3l-.9-.6l-.9-.1l-.4-.7l-.1-1l-.8-.2l-1 .4l.4 1.2l.1 1.2l.5 .2zM158.8 447.8l.6 .2l.5-.5l.5-.6l.6-.5l.6-.4l1.3 .5l1.3 .1l.2-.5l.1-.8l-1.6-.6l-1.4-.1l-.9-.1l-.7 .6l-.7 .5l-.2 1.2z"/>
<path fill="#F6E4E4" stroke="#F6E4E4" stroke-width="0.35" d="M164.3 445.4l-.1 .7l-.1 .5l1.1-.9l1.4-.6l1.4 .3l.5-.4l-.7-.6l-.7-.6l-.7-.3l-.4-.2l-.7 1.1z"/>
<path fill="#FCF0F0" stroke="#FCF0F0" stroke-width="0.35" d="M167.2 460l-.3-1.8l-.5-1.4l-.4-.7l-.6-.6l-.7-1.1l-.6 .3l-.5 .1l-.4-.7l-.8-1.3l-1-.5l-1-1l-.6 .1l-.3 1.2l-.2 1.1l-.1 .7l.1 .7l-.5 .6l-1 .1l-1.5 .5l.8 1l.5 .7l.2 .4l-.5 1.1l-.5 1.1l-.2 .9l.4 .9l.5 1l.4 .2l0-.1l1.5 .1l1.5 1.1l.5 .3l1 1.2l1 .3l.5-.7l.8-1l1.3-.5l0-.5l.1-.7l0-1.4l.8-.7z"/>
<path fill="#F0F0FC" stroke="#F0F0FC" stroke-width="0.35" d="M150.9 449.2l-.9-.2l-.9 .6l-.3 1.1l-.7 .6l-.8 .4l-1.2 .1l-.8 .6l-1 0l-.7 .9l-.7 .9l-.4 .9l-.3 .7l.9 1.1l.5 .4l.5 .8l-.1 1.6l0 1.5l-.2 .6l.4 .6l.6-.2l1.5 .5l1.2 .3l.9-1.4l.6-1l0 .1l.4 .8l.7 .6l.6-.2l1.1-.7l-.3-.3l-.3-.6l-.4-1.1l.4-.7l.3-.7l1 .3l.9 .3l.5-.7l.3-.9l.7-.9l-.1-1.1l-.3-1.4l-.4-1.2l.3-.8l-1.3-.2l-1-.7l-.8-.9z"/>
<path fill="#F6F0F6" stroke="#F6F0F6" stroke-width="0.35" d="M152 461.1l1.2 1l.7 1.2l.1 0l-.1 .6l0 .9l1.7 .3l1.4-.2l1-1.4l-.4-.2l-.5-.9l-.4-1l.2-.9l-.9 .1l-1.4-.6l-1.1 .6z"/>
<path fill="#F0F0F6" stroke="#F0F0F6" stroke-width="0.35" d="M151.4 457.7l-.4 .7l-.3 .8l.4 1l.3 .7l.3 .3l.4 0l1.5-.5l1.1-.6l-.7-.5l-.3-.2l-.3-1.1l-.9-.4zM141.9 461.7l.2 1.3l.1 .8l.1 .4l.2 .8l1.8 1l.9 .2l.7-.2l1.6-.1l.4-.1l-.4-1.4l0-1l.1-.5l-1.2-.3l-1.5-.5l-.7 .2l-.4-.5l-.7 0z"/>
<path fill="#F6F0F0" stroke="#F6F0F0" stroke-width="0.35" d="M154.8 455.9l-.7 .8l-.3 .9l-.5 .7l.4 1.1l.2 .3l.7 .4l1.4 .5l.8 0l.5-1.1l.6-1.2l-.2-.4l-.5-.6l-.7-1l1.4-.4l1-.2l.4-.5l0-.8l.1-.7l.3-1l.3-1.3l-1.6-.6l-.9-.3l-.8-.3l-1.4 .3l-1.1 .9l-.2 .8l.4 1.1l.3 1.4z"/>
<path fill="#F6F0FC" stroke="#F6F0FC" stroke-width="0.35" d="M149.4 461.4l-.3-.8l-.2-.1l-.3 .6l-.5 .9l-.6 1l-.1 .5l0 .9l.3 1.5l1.4-.3l1.1-.2l-1.2 .6l-1.3 1.2l-1.4 .6l-1.3 0l1.3 1.6l1.1 .5l.8 .3l1 .8l1.3-.3l1.5 .3l1.4 .4l.4-.7l.2-1.4l.5-1.4l1.1-.6l-1.2 0l-1.4-.4l-.9-.5l-.5-.5l.4 0l.9-.7l1.2-.4l-.1-1l.1-.6l-.1 0l-.7-1.2l-1.1-.9l-.5 0l-1 .7l-.6 .2z"/>
<path fill="#F6EAEA" stroke="#F6EAEA" stroke-width="0.35" d="M173.7 450.7l-.7 .6l-.5 .7l-.2 .8l0 1l-.7 .6l-.5 .7l1.2 .1l1.2-.1l1.4 .5l-.2 1.7l-.4 1.4l-.2 1l.1 .7l.5 .9l.2 0l1.3-.1l.8-.2l.9 .3l.7-.4l.5-.5l.3-.7l.4-1.2l.6-.9l.9-.5l-.1-.7l.3-.7l.2-1l.9-1.1l1.8-.6l1.5-.6l.4-.6l-1.3-.6l-1.5 .4l-1.3 0l-1.1-.3l-.6-.2l-.8-1l-.3-1.1l-1.1 0l-.7-.2l-1-1.3l-1.1-.1l-.6 .4l-.1-.3l-.2-.6l-.2 0l-.5 .7l-.7 .8l.5 1.4z"/>
<path fill="#F0EAEA" stroke="#F0EAEA" stroke-width="0.35" d="M174.4 447l.2 .1l.2 .5l.1 .4l.6-.4l1.1 .1l.1-1.5l.1-1.1l-.3 0l-1.2-.4l-1.4-.4l-1.1-.1l0 .6l-.1 .5l.9 .7z"/>
<path fill="#F6EAE4" stroke="#F6EAE4" stroke-width="0.35" d="M167.9 445.3l-1.5-.3l-1.3 .8l-1.1 .8l-1.6-.4l-1.1-.3l-.5 .7l.3 .6l.4 1.4l.3 1.2l.4 .7l.8 1.6l-.2 1.4l.4 .9l.3 .5l.6-.1l.6-.2l.7 1l.5 .7l.5 .6l.4 1.3l.4 1.7l-.4 1l-.8 .6l0 1.5l-.1 .9l-.1 .4l1.5-.2l1.1-.1l1-.2l.8-.5l.6-.8l1.3 .6l1 .3l.4-1.3l1.3-.8l-.4-1l-.1-.7l.2-.9l.3-1.5l.3-1.6l-1.4-.6l-1.2 .1l-1.2-.1l.5-.6l.7-.6l-.1-.9l.2-.9l.4-.7l.8-.6l0-.9l-.5-1.4l-.9-.2l-.7 .2l.2-.9l.2-1.1l-.2-.3l-.4-.5l-1-.2l-.7-.5l-.7-.4l-.6 .4z"/>
<path fill="#F6E4EA" stroke="#F6E4EA" stroke-width="0.35" d="M172 446.5l-.2 1.1l-.3 1l.8-.3l1 .2l.7-.8l.5-.7l-.8-1l-.9-.7l0-.6l.1-.5l-.7-.3l-.3-.7l-.3 .5l-.8 0l-.8 .1l-.4 .4l-.5 .3l.6 .4l.7 .6l1.1 .2zM160.4 446.9l-.5 .5l-.6 .5l0 .8l-.3 .7l.9 1.3l1 1.5l.9 .3l1.1 1.1l.1-.8l.1-.7l-.7-1.5l-.5-.7l-.2-.6l-.3-1.2l-.3-1.1l-.3-.5z"/>
<path fill="#F6EAF0" stroke="#F6EAF0" stroke-width="0.35" d="M179.6 450.1l.7 .8l.4 .4l.5 .1l-.1-.7l.1-.6l.1-.6l-1-.5l-1.3-.6l.3 .8zM185.9 452.2l-1.1 .5l-1.4 .5l-1.2 .6l-.5 .9l-.2 .9l-.4 .8l.1 .7l1 1.1l.7 .8l1-.1l.7-1.2l1-1.2l-.4-1l0-.9l.3-1zM180.9 462.7l.6-.1l.8 .4l.4-.8l.2-.7l-1.1-.2l-1-.7l-.9-.9l-.5 0l-.3 .7l-.6 .4l-.7 .4l1.3 1l1.1 .7z"/>
<path fill="#EADEF6" stroke="#EADEF6" stroke-width="0.35" d="M195.1 444.2l0-1l-.1-1.1l-.8-.9l-.9 .4l-1 .4l-1.6-.4l-.8 0l.3 1.1l1 1.1l1.1 .2l1.2-.3l1 0z"/>
<path fill="#D2CCF0" stroke="#D2CCF0" stroke-width="0.35" d="M144.7 443l-.3-1.1l-.7-1.2l-1.2-.5l-.7-.6l-.9-1.1l-.5-.6l-.7-.6l-1.3-.8l-.5 .8l-.9 0l-1.5-.2l-1.5 .2l-1.4 .4l-.7 .6l-.3 .8l-.5 1l.8 .9l1.1 1l.9 .1l1.1 .1l.8 .5l.7 .3l1.4 1.1l1.3 .7l1.3 0l1.2-.3l.9-.9l1-.6z"/>
<path fill="#CCBAEA" stroke="#CCBAEA" stroke-width="0.35" d="M105.2 460.6l-.3-.4l-1.4-.3l-2-1.4l-1.2-.4l-.8 .3l-1.2 0l-.9 .6l-1.4 .1l-1.5-.2l-.6 .4l-.7 0l-.6 .6l.4 1.1l.3 .5l.7 1l1.2 1.2l.5 .9l.2 1.4l.5 1.6l.6 .8l.5 .3l.8-1.1l.9-.7l.9-.9l.9-1.2l.7-1.4l.2-1.6l.6-.8l1.4 .1z"/>
<path fill="#7E5AB4" stroke="#7E5AB4" stroke-width="0.35" d="M112.7 258l1-1.2l.4-1.4l.3-1.2l.6-1l.9-.9l1-1l.9-.6l.8-.3l.6-.5l.5-1.1l.8-1.2l.6-1.2l-.6-1.2l-.2-1.4l-.1-1.7l-.3-1.6l-.3-1l-.2-.5l0-.6l.2-1.3l.3-1.4l.4-1.2l.3-1.1l-.1-1.1l-1.9-.6l-1.3 .4l-.9 .3l-1.3-.6l-1.2 0l-1.1-.5l-2-.9l-1.4 .8l-.6 1.1l-.8 .1l-1.2 .2l-1.2 .4l-.9 .8l-.8 .6l-1.4-.4l-1.4 .1l-1 .7l-.9 1l-.7 .9l-.7 .7l-1.2-.1l-1.5-.3l-.6 0l-.6 0l-1-.6l1.1-.5l1.2-.7l1.4-.1l1-.4l.4-1.4l.8-1.7l1.4-1.1l1.3-.8l.9-.7l.8-.4l.6-.8l.4-1.1l-1-.3l-1.4 .1l-.9-.2l-.8-.5l.1-.5l.1-.6l-.4 .4l-.8 .3l-1.4 .3l-1.7 .6l-.4 1l-.1 .8l-.1 .7l-.3 .8l-.7 .8l-1 .9l-1 1l-.8 1.3l-.7 1.3l-.7 1.2l-.7 1.1l-.4 1.4l.1 1.6l.2 1.8l0 1.3l-.5 .6l-.8 .4l.7 1l.8 2l.4 1.1l.6 .4l1.3 .8l.6 .4l.6 .4l.8 .9l.5 .1l.8 .7l.8 1.8l.2 1.2l.7 1l1.1 .9l.6 .3l1.8 .6l1.4 0l1-.6l1.2 0l1.1-.3l1.2-.3l1.2 .4l.7 .9l.8 .2l1.6-.2zM58.8 256.6l.3 .1l.3 .1l.4 .3l0-.4l-.4-.4l-.5-.6l-.5 .2l-.4 .3l-.3 .1l.2 .9l.5-.2zM55.4 268.9l.2 1.6l.2 1l.4-.3l.5-1l.2-.4l.1 .9l.5 1.5l-.4 .6l0-.2l.1-.6l.1 0l-.3 .9l-.7 1.4l-1.1 1.1l-1.1 .8l.6 .1l.6 0l.9 0l1 .1l.8-.1l.5-.5l.2-.5l.5 0l.7 .6l.7 .7l.3 .4l.1 .5l.3 .9l.8 1l.9 .4l.4-.4l.6-.8l1.1-.5l1.4-.2l1.5-.1l1.1-1l.7-1.6l.2-.9l-.3 .1l-.4 .4l-.2-.3l.2-1.1l.8-1.2l.6-1.7l.4-1.6l-.2-1.1l-.4-.5l-.3-.1l-.2 .2l-.2 .2l0 .1l-.2-1l-.4-1.5l-.7-.8l-1.1 .3l-1.1 .3l-.8-.7l-.5-.9l-.1-.7l-.2-.3l-.3 .2l-.6 .5l-.8 .7l-1 .8l-.8 .5l-.8 .5l-.7 .4l-.7 0l-.6-.5l-.4-.6l-.3-.3l-.3 0l-.7 0l0 1l-.4 1.4l-.6 .9l-.3 0l.1 0z"/>
<path fill="#6C4EAE" stroke="#6C4EAE" stroke-width="0.35" d="M91.1 281l.5-.9l1-.2l1.2 .2l.9-.3l-.5-.2l-.8-.6l-1-1.7l-.2-1.4l-.3-1.2l-1-1.6l-.7-.8l-.4-.6l-.8-1.4l-.7-1.1l-1.1 .7l-1 1.2l-.4 .6l-.4 .6l-.5 .4l-.4 .4l.1 .3l.1 .2l-.1 .6l-.2 .7l-.1 .7l-.1 .8l.1 1.1l.2 1.1l.3 .8l.2 .6l.1 .7l-.1 .7l0 .4l.4-.2l.5 .5l1.3 .6l.7-.4l.9-.5l1.5 0z"/>
<path fill="#421E9C" stroke="#421E9C" stroke-width="0.35" d="M77.4 318.8l-.2 1.3l-.1 1.2l-.8 .2l-.9-.1l-1.2-.4l.1 1.2l.3 1.1l.4 1l.6 1.1l.8 .8l.4 1l.3 1.4l.6 1.3l.8 .9l.2 1.1l.1 1.2l.6-.1l1 .2l0-1l-.1-1.2l0-1.5l0-1.4l-.3-1l.8-.9l.4-1l.6-.4l.3 .3l-.9-.9l-1-.7l-.5-1.2l-.3-1.1l-1.1-1z"/>
<path fill="#6042A8" stroke="#6042A8" stroke-width="0.35" d="M86 282l-.6-.5l-.4 .2l-.3 .9l-.4 .6l-.5 .3l-.6 .2l-.6-.1l-.5-.3l-.7-.3l-.7 .1l-.7 .5l-.7 .8l-.6 .7l-.4 .5l.3-.3l.5 .1l.8 .2l.7 .2l.5 0l.2 .4l.4 .3l.5 .6l.6 .7l.7 .3l.8 .3l.7 .1l.5-.2l.6-.2l.9-.1l.8 0l0-.1l-.5-1.4l-.6-1.5l-.2-.9l-.2-.8zM73.4 290.1l-.2 .6l.2 .5l.7 .1l1-.2l-.7-.1l-.7 0l-.3-.3l0-.6z"/>
<use href="#mesh" fill="none" stroke="#000" stroke-width="0.33" stroke-linejoin="round"/>
</g>
<rect x="8" y="108.95" width="214.2" height="400.15" fill="none" stroke="#000" stroke-width="1.45"/>
</g>
</svg>
<div id="txt">
<div class="t" style="left:7.2px;top:65.2px">region</div>
<div class="s" style="left:7.2px;top:86.6px">random.effect</div>
<div class="t" style="left:237.7px;top:65.2px">county</div>
<div class="s" style="left:237.7px;top:86.6px">random.effect</div>
<div class="t" style="left:468.2px;top:65.2px">degree_educated | county</div>
<div class="s" style="left:468.2px;top:86.6px">random.effect</div>
<div class="t" style="left:698.7px;top:65.2px">constituency_name</div>
<div class="s" style="left:698.7px;top:86.6px">mrf.smooth</div>
<div class="t" style="left:929.2px;top:65.2px">white | constituency_name</div>
<div class="s" style="left:929.2px;top:86.6px">mrf.smooth</div>
</div></body></html>
